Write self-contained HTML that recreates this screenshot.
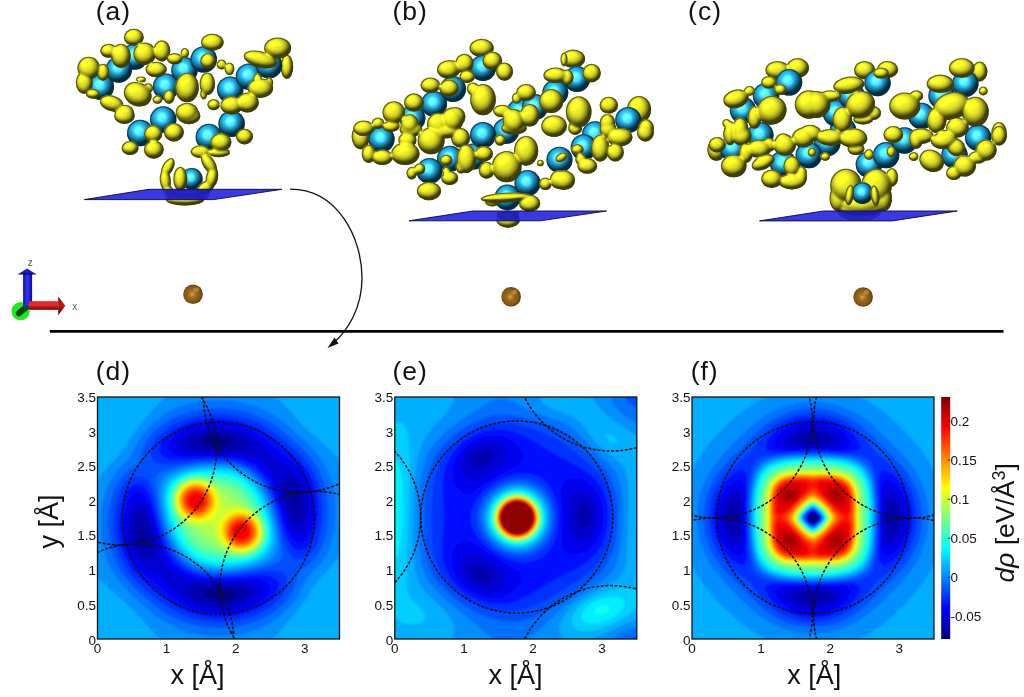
<!DOCTYPE html>
<html><head><meta charset="utf-8"><title>Figure</title>
<style>.yb ellipse,.yb circle{mix-blend-mode:lighten}html,body{margin:0;padding:0;background:#fff}svg{display:block}text{font-family:"Liberation Sans",sans-serif}</style>
</head><body>
<svg width="1024" height="697" viewBox="0 0 1024 697">
<defs>
<radialGradient id="gy" cx="0.42" cy="0.36" r="0.62"><stop offset="0" stop-color="#ffff58"/><stop offset="0.5" stop-color="#f2ea22"/><stop offset="0.85" stop-color="#cfc61f"/><stop offset="1" stop-color="#9a9415"/></radialGradient>
<radialGradient id="gb" cx="0.42" cy="0.34" r="0.66"><stop offset="0" stop-color="#58d4f6"/><stop offset="0.35" stop-color="#22aee0"/><stop offset="0.8" stop-color="#148fc2"/><stop offset="1" stop-color="#0b5f8a"/></radialGradient>
<radialGradient id="gbr" cx="0.46" cy="0.5" r="0.56"><stop offset="0" stop-color="#e6b25c"/><stop offset="0.14" stop-color="#bd8632"/><stop offset="0.4" stop-color="#98681a"/><stop offset="0.78" stop-color="#7e5210"/><stop offset="0.93" stop-color="#5a380a"/><stop offset="1" stop-color="#3a2204"/></radialGradient>
<linearGradient id="gcb" x1="0" y1="1" x2="0" y2="0">
<stop offset="0.000" stop-color="#000080"/>
<stop offset="0.025" stop-color="#000099"/>
<stop offset="0.050" stop-color="#0000b2"/>
<stop offset="0.075" stop-color="#0000cc"/>
<stop offset="0.100" stop-color="#0000e6"/>
<stop offset="0.125" stop-color="#0000ff"/>
<stop offset="0.150" stop-color="#0019ff"/>
<stop offset="0.175" stop-color="#0033ff"/>
<stop offset="0.200" stop-color="#004dff"/>
<stop offset="0.225" stop-color="#0066ff"/>
<stop offset="0.250" stop-color="#0080ff"/>
<stop offset="0.275" stop-color="#0099ff"/>
<stop offset="0.300" stop-color="#00b2ff"/>
<stop offset="0.325" stop-color="#00ccff"/>
<stop offset="0.350" stop-color="#00e5ff"/>
<stop offset="0.375" stop-color="#00ffff"/>
<stop offset="0.400" stop-color="#1affe5"/>
<stop offset="0.425" stop-color="#33ffcc"/>
<stop offset="0.450" stop-color="#4dffb2"/>
<stop offset="0.475" stop-color="#66ff99"/>
<stop offset="0.500" stop-color="#80ff80"/>
<stop offset="0.525" stop-color="#99ff66"/>
<stop offset="0.550" stop-color="#b3ff4c"/>
<stop offset="0.575" stop-color="#ccff33"/>
<stop offset="0.600" stop-color="#e5ff1a"/>
<stop offset="0.625" stop-color="#ffff00"/>
<stop offset="0.650" stop-color="#ffe500"/>
<stop offset="0.675" stop-color="#ffcc00"/>
<stop offset="0.700" stop-color="#ffb300"/>
<stop offset="0.725" stop-color="#ff9900"/>
<stop offset="0.750" stop-color="#ff8000"/>
<stop offset="0.775" stop-color="#ff6600"/>
<stop offset="0.800" stop-color="#ff4c00"/>
<stop offset="0.825" stop-color="#ff3300"/>
<stop offset="0.850" stop-color="#ff1a00"/>
<stop offset="0.875" stop-color="#ff0000"/>
<stop offset="0.900" stop-color="#e50000"/>
<stop offset="0.925" stop-color="#cc0000"/>
<stop offset="0.950" stop-color="#b30000"/>
<stop offset="0.975" stop-color="#990000"/>
<stop offset="1.000" stop-color="#800000"/>
</linearGradient>
<clipPath id="cld"><rect x="97.5" y="397.0" width="242.0" height="242.0"/></clipPath>
<clipPath id="cle"><rect x="394.8" y="397.0" width="242.0" height="242.0"/></clipPath>
<clipPath id="clf"><rect x="692.0" y="397.0" width="242.0" height="242.0"/></clipPath>
<filter id="bl" x="-5%" y="-5%" width="110%" height="110%"><feGaussianBlur stdDeviation="0.8"/></filter>
<radialGradient id="dm0" cx="0.5" cy="0.5" r="0.5"><stop offset="0" stop-color="rgb(48,48,48)"/><stop offset="0.2" stop-color="rgb(48,48,48)"/><stop offset="0.35" stop-color="rgb(47,47,47)"/><stop offset="0.5" stop-color="rgb(44,44,44)"/><stop offset="0.62" stop-color="rgb(41,41,41)"/><stop offset="0.72" stop-color="rgb(37,37,37)"/><stop offset="0.8" stop-color="rgb(33,33,33)"/><stop offset="0.87" stop-color="rgb(27,27,27)"/><stop offset="0.92" stop-color="rgb(22,22,22)"/><stop offset="0.96" stop-color="rgb(16,16,16)"/><stop offset="0.985" stop-color="rgb(10,10,10)"/><stop offset="1" stop-color="rgb(0,0,0)"/></radialGradient>
<radialGradient id="dm1" cx="0.5" cy="0.5" r="0.5"><stop offset="0" stop-color="rgb(80,80,80)"/><stop offset="0.2" stop-color="rgb(79,79,79)"/><stop offset="0.35" stop-color="rgb(78,78,78)"/><stop offset="0.5" stop-color="rgb(74,74,74)"/><stop offset="0.62" stop-color="rgb(68,68,68)"/><stop offset="0.72" stop-color="rgb(62,62,62)"/><stop offset="0.8" stop-color="rgb(54,54,54)"/><stop offset="0.87" stop-color="rgb(45,45,45)"/><stop offset="0.92" stop-color="rgb(36,36,36)"/><stop offset="0.96" stop-color="rgb(26,26,26)"/><stop offset="0.985" stop-color="rgb(16,16,16)"/><stop offset="1" stop-color="rgb(0,0,0)"/></radialGradient>
<radialGradient id="dm2" cx="0.5" cy="0.5" r="0.5"><stop offset="0" stop-color="rgb(112,112,112)"/><stop offset="0.2" stop-color="rgb(111,111,111)"/><stop offset="0.35" stop-color="rgb(109,109,109)"/><stop offset="0.5" stop-color="rgb(103,103,103)"/><stop offset="0.62" stop-color="rgb(96,96,96)"/><stop offset="0.72" stop-color="rgb(87,87,87)"/><stop offset="0.8" stop-color="rgb(76,76,76)"/><stop offset="0.87" stop-color="rgb(63,63,63)"/><stop offset="0.92" stop-color="rgb(51,51,51)"/><stop offset="0.96" stop-color="rgb(37,37,37)"/><stop offset="0.985" stop-color="rgb(23,23,23)"/><stop offset="1" stop-color="rgb(0,0,0)"/></radialGradient>
<radialGradient id="dm3" cx="0.5" cy="0.5" r="0.5"><stop offset="0" stop-color="rgb(143,143,143)"/><stop offset="0.2" stop-color="rgb(143,143,143)"/><stop offset="0.35" stop-color="rgb(140,140,140)"/><stop offset="0.5" stop-color="rgb(133,133,133)"/><stop offset="0.62" stop-color="rgb(123,123,123)"/><stop offset="0.72" stop-color="rgb(111,111,111)"/><stop offset="0.8" stop-color="rgb(98,98,98)"/><stop offset="0.87" stop-color="rgb(82,82,82)"/><stop offset="0.92" stop-color="rgb(65,65,65)"/><stop offset="0.96" stop-color="rgb(47,47,47)"/><stop offset="0.985" stop-color="rgb(29,29,29)"/><stop offset="1" stop-color="rgb(0,0,0)"/></radialGradient>
<radialGradient id="dm4" cx="0.5" cy="0.5" r="0.5"><stop offset="0" stop-color="rgb(175,175,175)"/><stop offset="0.2" stop-color="rgb(174,174,174)"/><stop offset="0.35" stop-color="rgb(171,171,171)"/><stop offset="0.5" stop-color="rgb(162,162,162)"/><stop offset="0.62" stop-color="rgb(151,151,151)"/><stop offset="0.72" stop-color="rgb(136,136,136)"/><stop offset="0.8" stop-color="rgb(119,119,119)"/><stop offset="0.87" stop-color="rgb(100,100,100)"/><stop offset="0.92" stop-color="rgb(80,80,80)"/><stop offset="0.96" stop-color="rgb(58,58,58)"/><stop offset="0.985" stop-color="rgb(36,36,36)"/><stop offset="1" stop-color="rgb(0,0,0)"/></radialGradient>
<radialGradient id="dm5" cx="0.5" cy="0.5" r="0.5"><stop offset="0" stop-color="rgb(207,207,207)"/><stop offset="0.2" stop-color="rgb(206,206,206)"/><stop offset="0.35" stop-color="rgb(202,202,202)"/><stop offset="0.5" stop-color="rgb(192,192,192)"/><stop offset="0.62" stop-color="rgb(178,178,178)"/><stop offset="0.72" stop-color="rgb(161,161,161)"/><stop offset="0.8" stop-color="rgb(141,141,141)"/><stop offset="0.87" stop-color="rgb(118,118,118)"/><stop offset="0.92" stop-color="rgb(95,95,95)"/><stop offset="0.96" stop-color="rgb(68,68,68)"/><stop offset="0.985" stop-color="rgb(42,42,42)"/><stop offset="1" stop-color="rgb(0,0,0)"/></radialGradient>
<radialGradient id="dm6" cx="0.5" cy="0.5" r="0.5"><stop offset="0" stop-color="rgb(255,255,255)"/><stop offset="0.2" stop-color="rgb(254,254,254)"/><stop offset="0.35" stop-color="rgb(248,248,248)"/><stop offset="0.5" stop-color="rgb(236,236,236)"/><stop offset="0.62" stop-color="rgb(219,219,219)"/><stop offset="0.72" stop-color="rgb(198,198,198)"/><stop offset="0.8" stop-color="rgb(174,174,174)"/><stop offset="0.87" stop-color="rgb(145,145,145)"/><stop offset="0.92" stop-color="rgb(116,116,116)"/><stop offset="0.96" stop-color="rgb(84,84,84)"/><stop offset="0.985" stop-color="rgb(52,52,52)"/><stop offset="1" stop-color="rgb(0,0,0)"/></radialGradient>
<filter id="lity" x="-5%" y="-5%" width="110%" height="110%" color-interpolation-filters="sRGB">
<feColorMatrix in="SourceGraphic" type="matrix" values="0 0 0 0 0 0 0 0 0 0 0 0 0 0 0 1 0 0 0 0" result="h0"/>
<feGaussianBlur in="h0" stdDeviation="0.9" result="h"/>
<feDiffuseLighting in="h" surfaceScale="12" diffuseConstant="1.0" lighting-color="#f6f426" result="lit"><feDistantLight azimuth="238" elevation="54"/></feDiffuseLighting>
<feFlood flood-color="#94921a" result="amb"/>
<feComposite in="lit" in2="amb" operator="arithmetic" k1="0" k2="0.84" k3="0.44" k4="0" result="ls"/>
<feGaussianBlur in="SourceAlpha" stdDeviation="0.4" result="ma"/>
<feComposite in="ls" in2="ma" operator="in" result="body"/>
<feMorphology in="SourceAlpha" operator="erode" radius="0.8" result="er"/>
<feGaussianBlur in="er" stdDeviation="0.6" result="erb"/>
<feComposite in="ma" in2="erb" operator="out" result="rim"/>
<feFlood flood-color="#3c3a06" flood-opacity="0.75" result="rc"/>
<feComposite in="rc" in2="rim" operator="in" result="rimc"/>
<feMerge><feMergeNode in="body"/><feMergeNode in="rimc"/></feMerge>
</filter>
<filter id="litb" x="-10%" y="-10%" width="120%" height="120%" color-interpolation-filters="sRGB">
<feColorMatrix in="SourceGraphic" type="matrix" values="0 0 0 0 0 0 0 0 0 0 0 0 0 0 0 1 0 0 0 0" result="h0"/>
<feGaussianBlur in="h0" stdDeviation="0.7" result="h"/>
<feDiffuseLighting in="h" surfaceScale="12.5" diffuseConstant="1.0" lighting-color="#2cc2f4" result="lit"><feDistantLight azimuth="238" elevation="56"/></feDiffuseLighting>
<feSpecularLighting in="h" surfaceScale="12.5" specularConstant="0.42" specularExponent="12" lighting-color="#c8f4ff" result="spec"><feDistantLight azimuth="238" elevation="56"/></feSpecularLighting>
<feFlood flood-color="#0c6c9c" result="amb"/>
<feComposite in="lit" in2="amb" operator="arithmetic" k1="0" k2="0.82" k3="0.42" k4="0" result="ls"/>
<feComposite in="ls" in2="spec" operator="arithmetic" k1="0" k2="1" k3="1" k4="0" result="ls2"/>
<feGaussianBlur in="SourceAlpha" stdDeviation="0.4" result="ma"/>
<feComposite in="ls2" in2="ma" operator="in" result="body"/>
<feMorphology in="SourceAlpha" operator="erode" radius="0.8" result="er"/>
<feGaussianBlur in="er" stdDeviation="0.6" result="erb"/>
<feComposite in="ma" in2="erb" operator="out" result="rim"/>
<feFlood flood-color="#062c44" flood-opacity="0.7" result="rc"/>
<feComposite in="rc" in2="rim" operator="in" result="rimc"/>
<feMerge><feMergeNode in="body"/><feMergeNode in="rimc"/></feMerge>
</filter>
</defs>
<rect width="1024" height="697" fill="#fff"/>
<g font-size="26.5" fill="#111" letter-spacing="1">
<text x="95.7" y="20.4">(a)</text>
<text x="392.5" y="20.4">(b)</text>
<text x="688.1" y="20.4">(c)</text>
<text x="95.7" y="380.2">(d)</text>
<text x="392.5" y="380.2">(e)</text>
<text x="690.7" y="380.2">(f)</text>
</g>
<g class="yb" filter="url(#lity)"><ellipse cx="286.9" cy="66.6" rx="6.3" ry="12.1" fill="url(#dm2)"/></g>
<g><circle cx="100.8" cy="86.7" r="13.2" fill="url(#dm5)" filter="url(#litb)"/><circle cx="134.6" cy="56.6" r="13.2" fill="url(#dm5)" filter="url(#litb)"/><circle cx="118.8" cy="69.5" r="13.2" fill="url(#dm5)" filter="url(#litb)"/><circle cx="166.1" cy="86.7" r="13.2" fill="url(#dm5)" filter="url(#litb)"/><circle cx="184.5" cy="70.2" r="13.2" fill="url(#dm5)" filter="url(#litb)"/><circle cx="203.7" cy="59.4" r="13.2" fill="url(#dm5)" filter="url(#litb)"/><circle cx="230.2" cy="89.6" r="13.2" fill="url(#dm5)" filter="url(#litb)"/><circle cx="248.9" cy="76.6" r="13.2" fill="url(#dm5)" filter="url(#litb)"/><circle cx="269.0" cy="65.2" r="13.2" fill="url(#dm5)" filter="url(#litb)"/><circle cx="140.2" cy="133.0" r="13.2" fill="url(#dm5)" filter="url(#litb)"/><circle cx="163.2" cy="119.5" r="13.2" fill="url(#dm5)" filter="url(#litb)"/><circle cx="208.8" cy="137.0" r="13.2" fill="url(#dm5)" filter="url(#litb)"/><circle cx="231.6" cy="123.7" r="13.2" fill="url(#dm5)" filter="url(#litb)"/><circle cx="191.8" cy="178.9" r="10.8" fill="url(#dm4)" filter="url(#litb)"/></g>
<g class="yb" filter="url(#lity)"><ellipse cx="88.7" cy="68.0" rx="11.3" ry="11.3" fill="url(#dm3)"/><ellipse cx="84.3" cy="82.4" rx="8.5" ry="11.3" fill="url(#dm2)"/><ellipse cx="133.8" cy="37.2" rx="9.9" ry="8.5" fill="url(#dm2)"/><ellipse cx="120.9" cy="55.8" rx="9.9" ry="12.1" fill="url(#dm3)"/><ellipse cx="144.6" cy="53.7" rx="11.3" ry="11.3" fill="url(#dm3)"/><ellipse cx="108.7" cy="50.8" rx="8.5" ry="7.0" fill="url(#dm2)"/><ellipse cx="161.8" cy="50.8" rx="8.5" ry="10.6" fill="url(#dm2)"/><ellipse cx="103.0" cy="72.3" rx="6.3" ry="8.5" fill="url(#dm1)"/><ellipse cx="93.0" cy="93.9" rx="7.0" ry="4.9" fill="url(#dm1)"/><ellipse cx="156.1" cy="69.5" rx="10.6" ry="7.8" fill="url(#dm2)"/><ellipse cx="174.7" cy="58.7" rx="7.8" ry="5.6" fill="url(#dm1)"/><ellipse cx="184.8" cy="53.0" rx="4.2" ry="4.9" fill="url(#dm0)"/><ellipse cx="141.0" cy="79.5" rx="4.9" ry="3.0" fill="url(#dm0)"/><ellipse cx="137.7" cy="94.2" rx="14.3" ry="11.8" transform="rotate(25 137.7 94.2)" fill="url(#dm4)"/><ellipse cx="148.2" cy="88.1" rx="4.9" ry="4.9" fill="url(#dm0)"/><ellipse cx="111.6" cy="103.2" rx="12.1" ry="7.8" transform="rotate(15 111.6 103.2)" fill="url(#dm2)"/><ellipse cx="125.2" cy="114.0" rx="9.2" ry="9.2" fill="url(#dm2)"/><ellipse cx="118.0" cy="108.0" rx="6.3" ry="5.3" fill="url(#dm1)"/><ellipse cx="169.0" cy="96.7" rx="5.6" ry="7.0" fill="url(#dm1)"/><ellipse cx="157.5" cy="99.6" rx="4.9" ry="4.2" fill="url(#dm0)"/><ellipse cx="212.3" cy="42.2" rx="11.3" ry="8.5" fill="url(#dm2)"/><ellipse cx="208.0" cy="60.9" rx="7.8" ry="7.8" fill="url(#dm2)"/><ellipse cx="221.6" cy="64.5" rx="4.9" ry="4.9" fill="url(#dm0)"/><ellipse cx="229.5" cy="68.8" rx="4.9" ry="6.3" fill="url(#dm0)"/><ellipse cx="277.6" cy="48.0" rx="13.5" ry="10.6" fill="url(#dm4)"/><ellipse cx="260.3" cy="59.4" rx="17.1" ry="8.1" transform="rotate(15 260.3 59.4)" fill="url(#dm3)"/><ellipse cx="260.3" cy="88.1" rx="12.8" ry="9.9" fill="url(#dm3)"/><ellipse cx="247.4" cy="102.5" rx="11.3" ry="9.9" fill="url(#dm3)"/><ellipse cx="231.6" cy="105.3" rx="11.3" ry="9.2" fill="url(#dm3)"/><ellipse cx="269.0" cy="82.4" rx="4.2" ry="4.9" fill="url(#dm0)"/><ellipse cx="257.5" cy="78.1" rx="4.2" ry="4.9" fill="url(#dm0)"/><ellipse cx="187.0" cy="87.5" rx="11.8" ry="14.8" fill="url(#dm4)"/><ellipse cx="207.3" cy="83.8" rx="7.8" ry="11.3" fill="url(#dm2)"/><ellipse cx="213.7" cy="104.6" rx="6.3" ry="5.6" fill="url(#dm1)"/><ellipse cx="203.7" cy="93.9" rx="3.5" ry="5.6" fill="url(#dm0)"/><ellipse cx="187.0" cy="112.5" rx="11.3" ry="9.8" fill="url(#dm3)"/><ellipse cx="153.1" cy="133.7" rx="9.2" ry="8.5" fill="url(#dm2)"/><ellipse cx="173.9" cy="132.2" rx="9.9" ry="9.2" fill="url(#dm3)"/><ellipse cx="153.8" cy="149.5" rx="9.9" ry="9.2" fill="url(#dm3)"/><ellipse cx="130.1" cy="148.0" rx="8.5" ry="7.0" fill="url(#dm2)"/><ellipse cx="200.4" cy="151.6" rx="9.9" ry="6.3" fill="url(#dm1)"/><ellipse cx="180.3" cy="178.9" rx="7.0" ry="12.1" fill="url(#dm2)"/><ellipse cx="244.5" cy="136.6" rx="8.5" ry="7.8" fill="url(#dm2)"/><ellipse cx="220.8" cy="142.3" rx="10.6" ry="9.2" fill="url(#dm3)"/><ellipse cx="218.7" cy="152.4" rx="11.3" ry="4.9" fill="url(#dm1)"/><ellipse cx="189.0" cy="115.7" rx="11.3" ry="8.5" fill="url(#dm2)"/><ellipse cx="124.4" cy="115.7" rx="10.3" ry="8.3" fill="url(#dm2)"/><ellipse cx="167.8" cy="167.4" rx="10.3" ry="5.5" transform="rotate(119 167.8 167.4)" fill="url(#dm1)"/><ellipse cx="165.3" cy="180.3" rx="11.0" ry="5.5" transform="rotate(84 165.3 180.3)" fill="url(#dm1)"/><ellipse cx="170.3" cy="194.0" rx="11.5" ry="5.5" transform="rotate(56 170.3 194.0)" fill="url(#dm1)"/><ellipse cx="209.0" cy="163.8" rx="11.6" ry="6.1" transform="rotate(56.5 209.0 163.8)" fill="url(#dm2)"/><ellipse cx="211.9" cy="177.5" rx="11.1" ry="6.1" transform="rotate(101 211.9 177.5)" fill="url(#dm2)"/><ellipse cx="205.5" cy="187.5" rx="9.6" ry="6.1" transform="rotate(150 205.5 187.5)" fill="url(#dm1)"/><ellipse cx="185.0" cy="199.5" rx="19.3" ry="5.9" fill="url(#dm2)"/></g>
<polygon points="84.4,199.6 149,189.3 282,189.3 213.6,199.6" fill="#2424e2" fill-opacity="0.9" stroke="#08083a" stroke-width="0.9" stroke-linejoin="round"/>
<clipPath id="cpa"><polygon points="84.4,199.6 149,189.3 282,189.3 213.6,199.6"/></clipPath><circle cx="188" cy="186" r="23" fill="#1212a4" fill-opacity="0.5" clip-path="url(#cpa)"/>
<g class="yb" filter="url(#lity)"><ellipse cx="481.6" cy="47.9" rx="12.1" ry="9.2" fill="url(#dm3)"/><ellipse cx="573.0" cy="58.7" rx="12.1" ry="9.2" fill="url(#dm3)"/><ellipse cx="639.0" cy="109.6" rx="12.1" ry="13.5" fill="url(#dm4)"/><ellipse cx="360.8" cy="136.5" rx="9.2" ry="12.8" fill="url(#dm3)"/></g>
<g><circle cx="381.6" cy="139.3" r="13.0" fill="url(#dm5)" filter="url(#litb)"/><circle cx="453.0" cy="89.0" r="13.0" fill="url(#dm5)" filter="url(#litb)"/><circle cx="412.4" cy="118.2" r="13.0" fill="url(#dm5)" filter="url(#litb)"/><circle cx="434.0" cy="103.9" r="13.0" fill="url(#dm5)" filter="url(#litb)"/><circle cx="483.0" cy="68.0" r="13.0" fill="url(#dm5)" filter="url(#litb)"/><circle cx="473.7" cy="156.6" r="13.0" fill="url(#dm5)" filter="url(#litb)"/><circle cx="450.0" cy="158.7" r="13.0" fill="url(#dm5)" filter="url(#litb)"/><circle cx="429.6" cy="170.9" r="13.0" fill="url(#dm5)" filter="url(#litb)"/><circle cx="506.0" cy="131.0" r="13.0" fill="url(#dm5)" filter="url(#litb)"/><circle cx="483.0" cy="135.0" r="13.0" fill="url(#dm5)" filter="url(#litb)"/><circle cx="519.6" cy="112.0" r="13.0" fill="url(#dm5)" filter="url(#litb)"/><circle cx="535.0" cy="107.0" r="13.0" fill="url(#dm5)" filter="url(#litb)"/><circle cx="555.3" cy="92.6" r="13.0" fill="url(#dm5)" filter="url(#litb)"/><circle cx="577.0" cy="79.0" r="13.0" fill="url(#dm5)" filter="url(#litb)"/><circle cx="507.4" cy="197.5" r="12.9" fill="url(#dm5)" filter="url(#litb)"/><circle cx="527.5" cy="183.1" r="13.0" fill="url(#dm5)" filter="url(#litb)"/><circle cx="595.0" cy="134.2" r="13.0" fill="url(#dm5)" filter="url(#litb)"/><circle cx="559.5" cy="159.8" r="13.0" fill="url(#dm5)" filter="url(#litb)"/><circle cx="583.7" cy="147.2" r="13.0" fill="url(#dm5)" filter="url(#litb)"/><circle cx="628.2" cy="120.0" r="13.0" fill="url(#dm5)" filter="url(#litb)"/></g>
<g class="yb" filter="url(#lity)"><ellipse cx="448.3" cy="69.4" rx="11.3" ry="9.2" fill="url(#dm3)"/><ellipse cx="462.6" cy="63.7" rx="7.0" ry="9.2" fill="url(#dm2)"/><ellipse cx="430.4" cy="85.2" rx="9.9" ry="7.8" fill="url(#dm2)"/><ellipse cx="449.0" cy="88.1" rx="9.9" ry="8.5" fill="url(#dm2)"/><ellipse cx="413.9" cy="102.4" rx="9.9" ry="9.2" fill="url(#dm3)"/><ellipse cx="393.8" cy="112.5" rx="11.3" ry="11.3" fill="url(#dm3)"/><ellipse cx="409.6" cy="124.0" rx="9.2" ry="9.9" fill="url(#dm3)"/><ellipse cx="392.3" cy="125.4" rx="7.8" ry="4.9" fill="url(#dm1)"/><ellipse cx="378.0" cy="123.2" rx="6.3" ry="5.6" fill="url(#dm1)"/><ellipse cx="363.7" cy="128.3" rx="10.6" ry="7.8" fill="url(#dm2)"/><ellipse cx="438.3" cy="124.0" rx="11.3" ry="11.3" fill="url(#dm3)"/><ellipse cx="455.5" cy="116.8" rx="9.9" ry="9.9" fill="url(#dm3)"/><ellipse cx="464.4" cy="63.0" rx="9.2" ry="9.2" fill="url(#dm2)"/><ellipse cx="492.3" cy="60.8" rx="9.9" ry="9.2" fill="url(#dm3)"/><ellipse cx="504.5" cy="71.6" rx="8.5" ry="9.2" fill="url(#dm2)"/><ellipse cx="451.5" cy="68.7" rx="9.2" ry="8.5" fill="url(#dm2)"/><ellipse cx="467.2" cy="76.6" rx="7.8" ry="6.3" fill="url(#dm1)"/><ellipse cx="483.0" cy="99.6" rx="12.8" ry="15.6" fill="url(#dm5)"/><ellipse cx="473.0" cy="88.8" rx="6.3" ry="6.3" fill="url(#dm1)"/><ellipse cx="526.0" cy="92.4" rx="9.9" ry="8.5" fill="url(#dm2)"/><ellipse cx="516.7" cy="98.1" rx="4.9" ry="5.6" fill="url(#dm0)"/><ellipse cx="551.2" cy="101.0" rx="12.1" ry="12.1" fill="url(#dm4)"/><ellipse cx="555.5" cy="75.2" rx="12.1" ry="7.8" fill="url(#dm2)"/><ellipse cx="529.7" cy="115.3" rx="9.9" ry="11.3" fill="url(#dm3)"/><ellipse cx="513.9" cy="121.1" rx="11.3" ry="12.1" fill="url(#dm4)"/><ellipse cx="502.4" cy="111.0" rx="9.2" ry="6.3" fill="url(#dm1)"/><ellipse cx="452.2" cy="119.7" rx="11.3" ry="12.1" fill="url(#dm4)"/><ellipse cx="554.0" cy="126.0" rx="12.8" ry="10.8" fill="url(#dm3)"/><ellipse cx="564.0" cy="59.4" rx="3.5" ry="7.0" fill="url(#dm0)"/><ellipse cx="591.6" cy="73.0" rx="9.2" ry="9.2" fill="url(#dm2)"/><ellipse cx="567.2" cy="77.3" rx="6.3" ry="7.8" fill="url(#dm1)"/><ellipse cx="578.7" cy="111.8" rx="12.8" ry="15.6" fill="url(#dm5)"/><ellipse cx="608.8" cy="105.3" rx="9.2" ry="8.5" fill="url(#dm2)"/><ellipse cx="607.4" cy="122.5" rx="7.8" ry="8.5" fill="url(#dm2)"/><ellipse cx="646.1" cy="128.3" rx="7.8" ry="9.2" fill="url(#dm2)"/><ellipse cx="622.5" cy="132.6" rx="8.5" ry="4.2" fill="url(#dm0)"/><ellipse cx="368.7" cy="153.7" rx="7.0" ry="9.2" fill="url(#dm2)"/><ellipse cx="382.3" cy="157.3" rx="10.6" ry="7.8" fill="url(#dm2)"/><ellipse cx="405.3" cy="153.7" rx="14.2" ry="11.3" fill="url(#dm4)"/><ellipse cx="407.4" cy="140.1" rx="9.2" ry="7.8" fill="url(#dm2)"/><ellipse cx="431.1" cy="140.8" rx="13.5" ry="13.5" fill="url(#dm5)"/><ellipse cx="411.0" cy="129.3" rx="11.3" ry="7.8" fill="url(#dm2)"/><ellipse cx="390.9" cy="126.4" rx="8.5" ry="5.6" fill="url(#dm1)"/><ellipse cx="444.0" cy="130.7" rx="17.1" ry="7.8" fill="url(#dm3)"/><ellipse cx="458.3" cy="139.3" rx="7.0" ry="7.0" fill="url(#dm1)"/><ellipse cx="446.1" cy="160.2" rx="6.3" ry="5.6" fill="url(#dm1)"/><ellipse cx="419.6" cy="168.8" rx="5.6" ry="5.6" fill="url(#dm1)"/><ellipse cx="411.7" cy="173.1" rx="5.3" ry="6.3" fill="url(#dm1)"/><ellipse cx="449.7" cy="178.1" rx="8.5" ry="7.0" fill="url(#dm2)"/><ellipse cx="446.1" cy="170.9" rx="4.2" ry="4.2" fill="url(#dm0)"/><ellipse cx="428.9" cy="191.0" rx="12.1" ry="9.2" fill="url(#dm3)"/><ellipse cx="461.2" cy="166.6" rx="5.6" ry="7.0" fill="url(#dm1)"/><ellipse cx="466.5" cy="158.7" rx="9.9" ry="14.2" fill="url(#dm3)"/><ellipse cx="460.8" cy="137.9" rx="9.2" ry="9.9" fill="url(#dm3)"/><ellipse cx="483.7" cy="153.7" rx="9.2" ry="7.8" fill="url(#dm2)"/><ellipse cx="500.2" cy="140.1" rx="5.6" ry="5.6" fill="url(#dm1)"/><ellipse cx="506.7" cy="166.6" rx="14.9" ry="15.6" fill="url(#dm5)"/><ellipse cx="486.6" cy="170.2" rx="7.8" ry="8.5" fill="url(#dm2)"/><ellipse cx="526.1" cy="150.8" rx="12.1" ry="14.9" fill="url(#dm4)"/><ellipse cx="540.4" cy="163.0" rx="3.3" ry="3.3" fill="url(#dm0)"/><ellipse cx="545.4" cy="183.8" rx="6.3" ry="6.3" fill="url(#dm1)"/><ellipse cx="558.3" cy="179.5" rx="8.5" ry="9.2" fill="url(#dm2)"/><ellipse cx="529.6" cy="203.2" rx="10.6" ry="8.5" fill="url(#dm2)"/><ellipse cx="506.0" cy="197.6" rx="25.3" ry="4.9" transform="rotate(-3 506.0 197.6)" fill="url(#dm3)"/><ellipse cx="492.3" cy="202.5" rx="7.0" ry="3.9" fill="url(#dm0)"/><ellipse cx="513.9" cy="127.9" rx="12.8" ry="7.0" fill="url(#dm2)"/><ellipse cx="561.2" cy="157.3" rx="6.3" ry="4.2" transform="rotate(-30 561.2 157.3)" fill="url(#dm0)"/><ellipse cx="577.3" cy="149.4" rx="6.3" ry="5.3" fill="url(#dm1)"/><ellipse cx="580.9" cy="159.4" rx="5.6" ry="6.3" fill="url(#dm1)"/><ellipse cx="587.3" cy="165.9" rx="9.9" ry="7.8" fill="url(#dm2)"/><ellipse cx="563.7" cy="180.2" rx="11.3" ry="9.9" fill="url(#dm3)"/><ellipse cx="600.2" cy="148.0" rx="9.2" ry="13.5" fill="url(#dm3)"/><ellipse cx="615.3" cy="152.3" rx="8.5" ry="9.2" fill="url(#dm2)"/><ellipse cx="619.6" cy="137.2" rx="12.8" ry="9.2" fill="url(#dm3)"/><ellipse cx="645.4" cy="132.2" rx="8.5" ry="9.2" fill="url(#dm2)"/><ellipse cx="608.1" cy="129.3" rx="8.5" ry="8.5" fill="url(#dm2)"/><ellipse cx="575.1" cy="127.9" rx="7.0" ry="7.0" fill="url(#dm1)"/><ellipse cx="546.4" cy="183.8" rx="4.9" ry="5.6" fill="url(#dm0)"/></g>
<g class="yb" filter="url(#lity)"><ellipse cx="508.1" cy="219.5" rx="11.8" ry="8.3" fill="url(#dm2)"/></g>
<polygon points="409,220.8 473,211 606.5,211 540.3,220.8" fill="#2424e2" fill-opacity="0.9" stroke="#08083a" stroke-width="0.9" stroke-linejoin="round"/>
<clipPath id="cpb"><polygon points="409,220.8 473,211 606.5,211 540.3,220.8"/></clipPath><circle cx="508" cy="213" r="11" fill="#1212a4" fill-opacity="0.5" clip-path="url(#cpb)"/>
<g class="yb" filter="url(#lity)"><ellipse cx="777.5" cy="70.1" rx="12.1" ry="9.2" fill="url(#dm3)"/><ellipse cx="797.6" cy="67.9" rx="11.3" ry="9.9" fill="url(#dm3)"/><ellipse cx="864.6" cy="70.1" rx="10.6" ry="9.2" fill="url(#dm3)"/><ellipse cx="887.5" cy="69.4" rx="10.6" ry="8.5" fill="url(#dm2)"/><ellipse cx="979.6" cy="71.5" rx="7.8" ry="9.9" fill="url(#dm2)"/><ellipse cx="716.5" cy="149.4" rx="9.2" ry="11.3" fill="url(#dm3)"/><ellipse cx="999.0" cy="133.2" rx="7.8" ry="11.3" fill="url(#dm2)"/></g>
<g><circle cx="743.0" cy="110.3" r="13.2" fill="url(#dm5)" filter="url(#litb)"/><circle cx="766.0" cy="95.9" r="13.2" fill="url(#dm5)" filter="url(#litb)"/><circle cx="789.0" cy="82.3" r="13.2" fill="url(#dm5)" filter="url(#litb)"/><circle cx="733.0" cy="148.5" r="13.2" fill="url(#dm5)" filter="url(#litb)"/><circle cx="760.3" cy="135.2" r="13.2" fill="url(#dm5)" filter="url(#litb)"/><circle cx="783.2" cy="163.7" r="13.2" fill="url(#dm5)" filter="url(#litb)"/><circle cx="827.3" cy="142.9" r="13.2" fill="url(#dm5)" filter="url(#litb)"/><circle cx="808.8" cy="155.1" r="13.2" fill="url(#dm5)" filter="url(#litb)"/><circle cx="843.0" cy="130.3" r="13.2" fill="url(#dm5)" filter="url(#litb)"/><circle cx="835.9" cy="113.1" r="13.2" fill="url(#dm5)" filter="url(#litb)"/><circle cx="851.6" cy="95.9" r="13.2" fill="url(#dm5)" filter="url(#litb)"/><circle cx="877.5" cy="83.0" r="13.2" fill="url(#dm5)" filter="url(#litb)"/><circle cx="868.9" cy="164.4" r="13.2" fill="url(#dm5)" filter="url(#litb)"/><circle cx="886.1" cy="155.1" r="13.2" fill="url(#dm5)" filter="url(#litb)"/><circle cx="904.5" cy="140.5" r="13.2" fill="url(#dm5)" filter="url(#litb)"/><circle cx="921.5" cy="116.0" r="13.2" fill="url(#dm5)" filter="url(#litb)"/><circle cx="941.6" cy="95.9" r="13.2" fill="url(#dm5)" filter="url(#litb)"/><circle cx="965.3" cy="83.7" r="13.2" fill="url(#dm5)" filter="url(#litb)"/><circle cx="954.5" cy="155.1" r="13.2" fill="url(#dm5)" filter="url(#litb)"/><circle cx="978.2" cy="137.7" r="13.2" fill="url(#dm5)" filter="url(#litb)"/></g>
<g class="yb" filter="url(#lity)"><ellipse cx="768.9" cy="82.3" rx="7.8" ry="6.3" fill="url(#dm1)"/><ellipse cx="780.3" cy="89.5" rx="6.3" ry="5.6" fill="url(#dm1)"/><ellipse cx="749.5" cy="90.9" rx="5.6" ry="4.9" fill="url(#dm0)"/><ellipse cx="735.9" cy="98.8" rx="12.8" ry="9.2" transform="rotate(-15 735.9 98.8)" fill="url(#dm3)"/><ellipse cx="771.7" cy="110.3" rx="14.9" ry="14.3" transform="rotate(-25 771.7 110.3)" fill="url(#dm5)"/><ellipse cx="740.2" cy="130.3" rx="8.5" ry="12.8" fill="url(#dm3)"/><ellipse cx="754.5" cy="117.4" rx="7.0" ry="11.3" fill="url(#dm2)"/><ellipse cx="730.1" cy="133.2" rx="6.3" ry="12.1" fill="url(#dm2)"/><ellipse cx="726.5" cy="123.2" rx="4.2" ry="4.2" fill="url(#dm0)"/><ellipse cx="717.2" cy="144.7" rx="8.5" ry="7.8" fill="url(#dm2)"/><ellipse cx="809.0" cy="104.5" rx="14.2" ry="14.2" fill="url(#dm5)"/><ellipse cx="783.2" cy="141.8" rx="8.5" ry="8.5" fill="url(#dm2)"/><ellipse cx="803.3" cy="137.5" rx="11.3" ry="9.9" fill="url(#dm3)"/><ellipse cx="768.9" cy="144.7" rx="7.0" ry="7.0" fill="url(#dm1)"/><ellipse cx="756.0" cy="147.6" rx="7.0" ry="5.6" fill="url(#dm1)"/><ellipse cx="881.0" cy="73.0" rx="7.8" ry="5.6" fill="url(#dm1)"/><ellipse cx="848.8" cy="85.2" rx="15.6" ry="8.5" transform="rotate(-8 848.8 85.2)" fill="url(#dm3)"/><ellipse cx="860.3" cy="104.5" rx="14.9" ry="13.5" transform="rotate(-25 860.3 104.5)" fill="url(#dm5)"/><ellipse cx="873.2" cy="113.1" rx="7.8" ry="7.0" fill="url(#dm1)"/><ellipse cx="863.1" cy="119.6" rx="9.9" ry="4.9" fill="url(#dm1)"/><ellipse cx="816.0" cy="104.5" rx="14.3" ry="13.5" fill="url(#dm5)"/><ellipse cx="830.1" cy="95.9" rx="11.3" ry="5.6" fill="url(#dm1)"/><ellipse cx="842.3" cy="119.6" rx="9.9" ry="12.8" fill="url(#dm3)"/><ellipse cx="810.0" cy="133.2" rx="11.3" ry="8.5" fill="url(#dm2)"/><ellipse cx="830.8" cy="137.5" rx="12.8" ry="8.5" fill="url(#dm3)"/><ellipse cx="854.5" cy="137.5" rx="12.1" ry="9.2" fill="url(#dm3)"/><ellipse cx="904.7" cy="106.0" rx="15.6" ry="13.5" fill="url(#dm5)"/><ellipse cx="916.2" cy="95.9" rx="7.0" ry="5.6" fill="url(#dm1)"/><ellipse cx="893.3" cy="134.6" rx="9.9" ry="8.5" fill="url(#dm2)"/><ellipse cx="916.2" cy="139.0" rx="7.0" ry="9.9" fill="url(#dm2)"/><ellipse cx="961.7" cy="67.9" rx="12.8" ry="9.9" fill="url(#dm3)"/><ellipse cx="940.2" cy="83.7" rx="13.5" ry="9.2" fill="url(#dm3)"/><ellipse cx="983.2" cy="90.9" rx="4.5" ry="4.5" fill="url(#dm0)"/><ellipse cx="951.6" cy="106.0" rx="18.5" ry="13.5" transform="rotate(-15 951.6 106.0)" fill="url(#dm5)"/><ellipse cx="975.3" cy="111.7" rx="13.5" ry="14.9" fill="url(#dm5)"/><ellipse cx="936.6" cy="120.3" rx="9.9" ry="12.8" fill="url(#dm3)"/><ellipse cx="957.4" cy="127.5" rx="11.3" ry="9.9" fill="url(#dm3)"/><ellipse cx="921.5" cy="136.1" rx="12.1" ry="7.8" fill="url(#dm2)"/><ellipse cx="945.9" cy="139.0" rx="11.3" ry="9.2" fill="url(#dm3)"/><ellipse cx="986.0" cy="146.1" rx="8.5" ry="5.6" fill="url(#dm1)"/><ellipse cx="733.7" cy="165.9" rx="12.8" ry="11.3" fill="url(#dm4)"/><ellipse cx="741.6" cy="135.7" rx="9.9" ry="9.9" fill="url(#dm3)"/><ellipse cx="758.8" cy="148.7" rx="12.1" ry="9.2" fill="url(#dm3)"/><ellipse cx="745.9" cy="153.0" rx="7.0" ry="9.9" fill="url(#dm2)"/><ellipse cx="763.1" cy="162.3" rx="12.1" ry="7.0" transform="rotate(-25 763.1 162.3)" fill="url(#dm2)"/><ellipse cx="784.6" cy="145.1" rx="11.3" ry="10.6" fill="url(#dm3)"/><ellipse cx="791.8" cy="165.9" rx="8.5" ry="9.9" fill="url(#dm2)"/><ellipse cx="771.7" cy="178.8" rx="10.6" ry="9.2" fill="url(#dm3)"/><ellipse cx="791.8" cy="181.6" rx="13.5" ry="7.8" fill="url(#dm2)"/><ellipse cx="802.6" cy="171.6" rx="4.2" ry="4.2" fill="url(#dm0)"/><ellipse cx="811.9" cy="152.2" rx="4.2" ry="4.5" fill="url(#dm0)"/><ellipse cx="800.4" cy="143.6" rx="3.9" ry="3.5" fill="url(#dm0)"/><ellipse cx="728.7" cy="134.3" rx="5.6" ry="8.5" fill="url(#dm1)"/><ellipse cx="828.7" cy="137.2" rx="12.8" ry="7.8" fill="url(#dm2)"/><ellipse cx="853.1" cy="138.6" rx="14.2" ry="9.2" fill="url(#dm3)"/><ellipse cx="856.0" cy="148.7" rx="8.5" ry="6.3" fill="url(#dm1)"/><ellipse cx="825.1" cy="156.5" rx="4.9" ry="4.2" fill="url(#dm0)"/><ellipse cx="868.9" cy="154.4" rx="4.9" ry="5.3" fill="url(#dm0)"/><ellipse cx="891.1" cy="151.5" rx="4.5" ry="5.6" fill="url(#dm0)"/><ellipse cx="914.0" cy="156.5" rx="4.2" ry="4.2" fill="url(#dm0)"/><ellipse cx="891.8" cy="177.3" rx="6.3" ry="9.2" fill="url(#dm1)"/><ellipse cx="801.4" cy="175.9" rx="5.6" ry="9.9" fill="url(#dm1)"/><ellipse cx="943.0" cy="140.8" rx="12.1" ry="8.5" fill="url(#dm3)"/><ellipse cx="956.0" cy="147.2" rx="9.9" ry="8.5" transform="rotate(40 956.0 147.2)" fill="url(#dm2)"/><ellipse cx="931.6" cy="160.8" rx="12.8" ry="10.6" transform="rotate(30 931.6 160.8)" fill="url(#dm3)"/><ellipse cx="913.6" cy="156.5" rx="4.9" ry="4.2" fill="url(#dm0)"/><ellipse cx="964.6" cy="165.9" rx="11.3" ry="10.6" fill="url(#dm3)"/><ellipse cx="953.8" cy="173.0" rx="7.8" ry="7.0" fill="url(#dm1)"/><ellipse cx="986.1" cy="150.1" rx="10.6" ry="10.6" fill="url(#dm3)"/><ellipse cx="977.5" cy="157.3" rx="9.2" ry="6.3" fill="url(#dm1)"/><ellipse cx="999.0" cy="135.7" rx="7.8" ry="9.9" fill="url(#dm2)"/><ellipse cx="846.0" cy="185.5" rx="15.8" ry="16.8" fill="url(#dm6)"/><ellipse cx="876.5" cy="185.5" rx="15.3" ry="16.8" fill="url(#dm5)"/><ellipse cx="839.5" cy="196.0" rx="9.8" ry="15.3" transform="rotate(8 839.5 196.0)" fill="url(#dm3)"/><ellipse cx="882.5" cy="196.0" rx="9.3" ry="15.3" transform="rotate(-8 882.5 196.0)" fill="url(#dm3)"/><ellipse cx="860.0" cy="204.0" rx="21.3" ry="10.3" fill="url(#dm4)"/><ellipse cx="860.0" cy="208.5" rx="22.3" ry="7.3" fill="url(#dm3)"/></g>
<g><circle cx="862.4" cy="193.1" r="10.8" fill="url(#dm4)" filter="url(#litb)"/></g>
<g class="yb" filter="url(#lity)"><ellipse cx="849.5" cy="195.0" rx="4.3" ry="10.3" transform="rotate(8 849.5 195.0)" fill="url(#dm1)"/><ellipse cx="875.0" cy="195.5" rx="4.3" ry="10.3" transform="rotate(-8 875.0 195.5)" fill="url(#dm1)"/></g>
<polygon points="759.5,220.9 823.4,211 957.2,211 892.2,220.9" fill="#2424e2" fill-opacity="0.9" stroke="#08083a" stroke-width="0.9" stroke-linejoin="round"/>
<clipPath id="cpc"><polygon points="759.5,220.9 823.4,211 957.2,211 892.2,220.9"/></clipPath><ellipse cx="859.5" cy="211" rx="22" ry="10" fill="#1212a4" fill-opacity="0.5" clip-path="url(#cpc)"/>
<circle cx="193.0" cy="294.3" r="9.8" fill="url(#gbr)"/>
<ellipse cx="196.2" cy="289.7" rx="3" ry="2.3" fill="#d89a3c" fill-opacity="0.55" transform="rotate(-25 196.2 289.7)"/>
<circle cx="511.1" cy="296.8" r="9.8" fill="url(#gbr)"/>
<ellipse cx="514.3" cy="292.2" rx="3" ry="2.3" fill="#d89a3c" fill-opacity="0.55" transform="rotate(-25 514.3 292.2)"/>
<circle cx="863.1" cy="297.0" r="9.8" fill="url(#gbr)"/>
<ellipse cx="866.3" cy="292.4" rx="3" ry="2.3" fill="#d89a3c" fill-opacity="0.55" transform="rotate(-25 866.3 292.4)"/>
<defs><linearGradient id="gzs" x1="0" x2="1" y1="0" y2="0"><stop offset="0" stop-color="#0c0ca8"/><stop offset="0.45" stop-color="#3636f6"/><stop offset="1" stop-color="#0a0a9c"/></linearGradient><linearGradient id="gxs" x1="0" x2="0" y1="0" y2="1"><stop offset="0" stop-color="#e82020"/><stop offset="0.4" stop-color="#f22a2a"/><stop offset="1" stop-color="#6a0606"/></linearGradient><linearGradient id="gxh" x1="0" x2="0" y1="0" y2="1"><stop offset="0" stop-color="#6a0808"/><stop offset="0.45" stop-color="#c81818"/><stop offset="0.6" stop-color="#a01010"/><stop offset="1" stop-color="#4a0404"/></linearGradient><linearGradient id="gzh" x1="0" x2="0" y1="0" y2="1"><stop offset="0" stop-color="#2020d8"/><stop offset="0.7" stop-color="#1616c0"/><stop offset="1" stop-color="#04043a"/></linearGradient></defs>
<circle cx="20.6" cy="311.2" r="9.1" fill="#1eea1e"/>
<path d="M19 313.2 L26.2 307.4" stroke="#0c4420" stroke-width="6.2" stroke-linecap="round"/>
<rect x="23.1" y="274" width="9" height="31.6" fill="url(#gzs)"/>
<polygon points="27.1,268.4 17.6,274.6 36.6,274.6" fill="url(#gzh)"/>
<rect x="29" y="301.2" width="29.6" height="8.6" fill="url(#gxs)"/>
<polygon points="65.3,305.8 58.2,296.6 58.2,315.2" fill="url(#gxh)"/>
<text x="27.8" y="266.3" font-size="10" fill="#5a5a5a">z</text><text x="72.2" y="310" font-size="10" fill="#5a5a5a">x</text>
<line x1="49.8" y1="331.4" x2="1003.5" y2="331.4" stroke="#000" stroke-width="2.8"/>
<path d="M290 189.2 C338 189.2 362 238 362 278 C362 308 348 330 333 343.5" fill="none" stroke="#111" stroke-width="1.3"/>
<path d="M327.5 348 L334.5 337.5 L338.5 343.5 Z" fill="#111"/>
<g clip-path="url(#cld)"><g filter="url(#bl)">
<rect x="89.5" y="389.0" width="258.0" height="258.0" fill="#000080"/>
<path fill="#0000af" d="M89.2 647.3L92.1 647.3L95.0 647.3L97.9 647.3L100.8 647.3L103.7 647.3L106.6 647.3L109.5 647.3L112.4 647.3L115.3 647.3L118.2 647.3L121.1 647.3L124.1 647.3L127.0 647.3L129.9 647.3L132.8 647.3L135.7 647.3L138.6 647.3L141.5 647.3L144.4 647.3L147.3 647.3L150.2 647.3L153.1 647.3L156.0 647.3L158.9 647.3L161.8 647.3L164.7 647.3L167.6 647.3L170.5 647.3L173.4 647.3L176.3 647.3L179.2 647.3L182.1 647.3L185.0 647.3L187.9 647.3L190.8 647.3L193.7 647.3L196.6 647.3L199.6 647.3L202.5 647.3L205.4 647.3L208.3 647.3L211.2 647.3L214.1 647.3L217.0 647.3L219.9 647.3L222.8 647.3L225.7 647.3L228.6 647.3L231.5 647.3L234.4 647.3L237.3 647.3L240.2 647.3L243.1 647.3L246.0 647.3L248.9 647.3L251.8 647.3L254.7 647.3L257.6 647.3L260.5 647.3L263.4 647.3L266.3 647.3L269.2 647.3L272.1 647.3L275.0 647.3L278.0 647.3L280.9 647.3L283.8 647.3L286.7 647.3L289.6 647.3L292.5 647.3L295.4 647.3L298.3 647.3L301.2 647.3L304.1 647.3L307.0 647.3L309.9 647.3L312.8 647.3L315.7 647.3L318.6 647.3L321.5 647.3L324.4 647.3L327.3 647.3L330.2 647.3L333.1 647.3L336.0 647.3L338.9 647.3L341.8 647.3L344.7 647.3L347.6 647.3L347.6 644.4L347.6 641.5L347.6 638.6L347.6 635.7L347.6 632.8L347.6 629.9L347.6 627.0L347.6 624.1L347.6 621.2L347.6 618.3L347.6 615.4L347.6 612.4L347.6 609.5L347.6 606.6L347.6 603.7L347.6 600.8L347.6 597.9L347.6 595.0L347.6 592.1L347.6 589.2L347.6 586.3L347.6 583.4L347.6 580.5L347.6 577.6L347.6 574.7L347.6 571.8L347.6 568.9L347.6 566.0L347.6 563.1L347.6 560.2L347.6 557.3L347.6 554.4L347.6 551.5L347.6 548.6L347.6 545.7L347.6 542.8L347.6 539.9L347.6 536.9L347.6 534.0L347.6 531.1L347.6 528.2L347.6 525.3L347.6 522.4L347.6 519.5L347.6 516.6L347.6 513.7L347.6 510.8L347.6 507.9L347.6 505.0L347.6 502.1L347.6 499.2L347.6 496.3L347.6 493.4L347.6 490.5L347.6 487.6L347.6 484.7L347.6 481.8L347.6 478.9L347.6 476.0L347.6 473.1L347.6 470.2L347.6 467.3L347.6 464.4L347.6 461.5L347.6 458.5L347.6 455.6L347.6 452.7L347.6 449.8L347.6 446.9L347.6 444.0L347.6 441.1L347.6 438.2L347.6 435.3L347.6 432.4L347.6 429.5L347.6 426.6L347.6 423.7L347.6 420.8L347.6 417.9L347.6 415.0L347.6 412.1L347.6 409.2L347.6 406.3L347.6 403.4L347.6 400.5L347.6 397.6L347.6 394.7L347.6 391.8L347.6 388.9L344.7 388.9L341.8 388.9L338.9 388.9L336.0 388.9L333.1 388.9L330.2 388.9L327.3 388.9L324.4 388.9L321.5 388.9L318.6 388.9L315.7 388.9L312.8 388.9L309.9 388.9L307.0 388.9L304.1 388.9L301.2 388.9L298.3 388.9L295.4 388.9L292.5 388.9L289.6 388.9L286.7 388.9L283.8 388.9L280.9 388.9L278.0 388.9L275.0 388.9L272.1 388.9L269.2 388.9L266.3 388.9L263.4 388.9L260.5 388.9L257.6 388.9L254.7 388.9L251.8 388.9L248.9 388.9L246.0 388.9L243.1 388.9L240.2 388.9L237.3 388.9L234.4 388.9L231.5 388.9L228.6 388.9L225.7 388.9L222.8 388.9L219.9 388.9L217.0 388.9L214.1 388.9L211.2 388.9L208.3 388.9L205.4 388.9L202.5 388.9L199.6 388.9L196.6 388.9L193.7 388.9L190.8 388.9L187.9 388.9L185.0 388.9L182.1 388.9L179.2 388.9L176.3 388.9L173.4 388.9L170.5 388.9L167.6 388.9L164.7 388.9L161.8 388.9L158.9 388.9L156.0 388.9L153.1 388.9L150.2 388.9L147.3 388.9L144.4 388.9L141.5 388.9L138.6 388.9L135.7 388.9L132.8 388.9L129.9 388.9L127.0 388.9L124.1 388.9L121.1 388.9L118.2 388.9L115.3 388.9L112.4 388.9L109.5 388.9L106.6 388.9L103.7 388.9L100.8 388.9L97.9 388.9L95.0 388.9L92.1 388.9L89.2 388.9L89.2 391.8L89.2 394.7L89.2 397.6L89.2 400.5L89.2 403.4L89.2 406.3L89.2 409.2L89.2 412.1L89.2 415.0L89.2 417.9L89.2 420.8L89.2 423.7L89.2 426.6L89.2 429.5L89.2 432.4L89.2 435.3L89.2 438.2L89.2 441.1L89.2 444.0L89.2 446.9L89.2 449.8L89.2 452.7L89.2 455.6L89.2 458.5L89.2 461.5L89.2 464.4L89.2 467.3L89.2 470.2L89.2 473.1L89.2 476.0L89.2 478.9L89.2 481.8L89.2 484.7L89.2 487.6L89.2 490.5L89.2 493.4L89.2 496.3L89.2 499.2L89.2 502.1L89.2 505.0L89.2 507.9L89.2 510.8L89.2 513.7L89.2 516.6L89.2 519.5L89.2 522.4L89.2 525.3L89.2 528.2L89.2 531.1L89.2 534.0L89.2 536.9L89.2 539.9L89.2 542.8L89.2 545.7L89.2 548.6L89.2 551.5L89.2 554.4L89.2 557.3L89.2 560.2L89.2 563.1L89.2 566.0L89.2 568.9L89.2 571.8L89.2 574.7L89.2 577.6L89.2 580.5L89.2 583.4L89.2 586.3L89.2 589.2L89.2 592.1L89.2 595.0L89.2 597.9L89.2 600.8L89.2 603.7L89.2 606.6L89.2 609.5L89.2 612.4L89.2 615.4L89.2 618.3L89.2 621.2L89.2 624.1L89.2 627.0L89.2 629.9L89.2 632.8L89.2 635.7L89.2 638.6L89.2 641.5L89.2 644.4ZM141.5 539.9L141.5 539.9L140.4 536.9L139.8 534.0L139.9 531.1L141.4 528.2L141.5 528.1L141.6 528.2L144.0 531.1L144.4 531.7L144.9 534.0L145.2 536.9L144.8 539.9L144.4 540.8ZM208.3 598.0L208.2 597.9L205.4 595.9L204.3 595.0L203.8 592.1L205.4 591.0L208.3 589.7L209.9 589.2L211.2 589.1L214.1 588.8L217.0 588.7L219.9 588.6L222.8 588.6L225.7 588.8L228.6 589.0L229.9 589.2L231.5 589.7L234.4 590.9L236.3 592.1L236.5 595.0L234.4 596.8L232.9 597.9L231.5 598.5L228.6 599.4L225.7 600.0L222.8 600.3L219.9 600.4L217.0 600.2L214.1 599.7L211.2 598.9ZM295.4 506.2L294.5 505.0L292.7 502.1L292.5 501.4L292.3 499.2L292.5 497.2L295.4 497.1L296.1 499.2L296.6 502.1L296.1 505.0ZM214.1 446.9L213.9 446.9L211.2 446.7L208.3 446.2L205.4 445.4L202.5 444.2L202.2 444.0L201.4 441.1L202.5 440.1L204.7 438.2L205.4 438.0L208.3 437.0L211.2 436.4L214.1 436.0L217.0 436.0L219.9 436.2L222.8 436.7L225.7 437.4L228.0 438.2L228.6 438.6L231.5 440.9L231.8 441.1L231.6 444.0L231.5 444.1L228.6 445.4L225.7 446.1L222.8 446.6L219.9 446.9L219.7 446.9L217.0 447.0Z"/>
<path fill="#0000cf" d="M89.2 647.3L92.1 647.3L95.0 647.3L97.9 647.3L100.8 647.3L103.7 647.3L106.6 647.3L109.5 647.3L112.4 647.3L115.3 647.3L118.2 647.3L121.1 647.3L124.1 647.3L127.0 647.3L129.9 647.3L132.8 647.3L135.7 647.3L138.6 647.3L141.5 647.3L144.4 647.3L147.3 647.3L150.2 647.3L153.1 647.3L156.0 647.3L158.9 647.3L161.8 647.3L164.7 647.3L167.6 647.3L170.5 647.3L173.4 647.3L176.3 647.3L179.2 647.3L182.1 647.3L185.0 647.3L187.9 647.3L190.8 647.3L193.7 647.3L196.6 647.3L199.6 647.3L202.5 647.3L205.4 647.3L208.3 647.3L211.2 647.3L214.1 647.3L217.0 647.3L219.9 647.3L222.8 647.3L225.7 647.3L228.6 647.3L231.5 647.3L234.4 647.3L237.3 647.3L240.2 647.3L243.1 647.3L246.0 647.3L248.9 647.3L251.8 647.3L254.7 647.3L257.6 647.3L260.5 647.3L263.4 647.3L266.3 647.3L269.2 647.3L272.1 647.3L275.0 647.3L278.0 647.3L280.9 647.3L283.8 647.3L286.7 647.3L289.6 647.3L292.5 647.3L295.4 647.3L298.3 647.3L301.2 647.3L304.1 647.3L307.0 647.3L309.9 647.3L312.8 647.3L315.7 647.3L318.6 647.3L321.5 647.3L324.4 647.3L327.3 647.3L330.2 647.3L333.1 647.3L336.0 647.3L338.9 647.3L341.8 647.3L344.7 647.3L347.6 647.3L347.6 644.4L347.6 641.5L347.6 638.6L347.6 635.7L347.6 632.8L347.6 629.9L347.6 627.0L347.6 624.1L347.6 621.2L347.6 618.3L347.6 615.4L347.6 612.4L347.6 609.5L347.6 606.6L347.6 603.7L347.6 600.8L347.6 597.9L347.6 595.0L347.6 592.1L347.6 589.2L347.6 586.3L347.6 583.4L347.6 580.5L347.6 577.6L347.6 574.7L347.6 571.8L347.6 568.9L347.6 566.0L347.6 563.1L347.6 560.2L347.6 557.3L347.6 554.4L347.6 551.5L347.6 548.6L347.6 545.7L347.6 542.8L347.6 539.9L347.6 536.9L347.6 534.0L347.6 531.1L347.6 528.2L347.6 525.3L347.6 522.4L347.6 519.5L347.6 516.6L347.6 513.7L347.6 510.8L347.6 507.9L347.6 505.0L347.6 502.1L347.6 499.2L347.6 496.3L347.6 493.4L347.6 490.5L347.6 487.6L347.6 484.7L347.6 481.8L347.6 478.9L347.6 476.0L347.6 473.1L347.6 470.2L347.6 467.3L347.6 464.4L347.6 461.5L347.6 458.5L347.6 455.6L347.6 452.7L347.6 449.8L347.6 446.9L347.6 444.0L347.6 441.1L347.6 438.2L347.6 435.3L347.6 432.4L347.6 429.5L347.6 426.6L347.6 423.7L347.6 420.8L347.6 417.9L347.6 415.0L347.6 412.1L347.6 409.2L347.6 406.3L347.6 403.4L347.6 400.5L347.6 397.6L347.6 394.7L347.6 391.8L347.6 388.9L344.7 388.9L341.8 388.9L338.9 388.9L336.0 388.9L333.1 388.9L330.2 388.9L327.3 388.9L324.4 388.9L321.5 388.9L318.6 388.9L315.7 388.9L312.8 388.9L309.9 388.9L307.0 388.9L304.1 388.9L301.2 388.9L298.3 388.9L295.4 388.9L292.5 388.9L289.6 388.9L286.7 388.9L283.8 388.9L280.9 388.9L278.0 388.9L275.0 388.9L272.1 388.9L269.2 388.9L266.3 388.9L263.4 388.9L260.5 388.9L257.6 388.9L254.7 388.9L251.8 388.9L248.9 388.9L246.0 388.9L243.1 388.9L240.2 388.9L237.3 388.9L234.4 388.9L231.5 388.9L228.6 388.9L225.7 388.9L222.8 388.9L219.9 388.9L217.0 388.9L214.1 388.9L211.2 388.9L208.3 388.9L205.4 388.9L202.5 388.9L199.6 388.9L196.6 388.9L193.7 388.9L190.8 388.9L187.9 388.9L185.0 388.9L182.1 388.9L179.2 388.9L176.3 388.9L173.4 388.9L170.5 388.9L167.6 388.9L164.7 388.9L161.8 388.9L158.9 388.9L156.0 388.9L153.1 388.9L150.2 388.9L147.3 388.9L144.4 388.9L141.5 388.9L138.6 388.9L135.7 388.9L132.8 388.9L129.9 388.9L127.0 388.9L124.1 388.9L121.1 388.9L118.2 388.9L115.3 388.9L112.4 388.9L109.5 388.9L106.6 388.9L103.7 388.9L100.8 388.9L97.9 388.9L95.0 388.9L92.1 388.9L89.2 388.9L89.2 391.8L89.2 394.7L89.2 397.6L89.2 400.5L89.2 403.4L89.2 406.3L89.2 409.2L89.2 412.1L89.2 415.0L89.2 417.9L89.2 420.8L89.2 423.7L89.2 426.6L89.2 429.5L89.2 432.4L89.2 435.3L89.2 438.2L89.2 441.1L89.2 444.0L89.2 446.9L89.2 449.8L89.2 452.7L89.2 455.6L89.2 458.5L89.2 461.5L89.2 464.4L89.2 467.3L89.2 470.2L89.2 473.1L89.2 476.0L89.2 478.9L89.2 481.8L89.2 484.7L89.2 487.6L89.2 490.5L89.2 493.4L89.2 496.3L89.2 499.2L89.2 502.1L89.2 505.0L89.2 507.9L89.2 510.8L89.2 513.7L89.2 516.6L89.2 519.5L89.2 522.4L89.2 525.3L89.2 528.2L89.2 531.1L89.2 534.0L89.2 536.9L89.2 539.9L89.2 542.8L89.2 545.7L89.2 548.6L89.2 551.5L89.2 554.4L89.2 557.3L89.2 560.2L89.2 563.1L89.2 566.0L89.2 568.9L89.2 571.8L89.2 574.7L89.2 577.6L89.2 580.5L89.2 583.4L89.2 586.3L89.2 589.2L89.2 592.1L89.2 595.0L89.2 597.9L89.2 600.8L89.2 603.7L89.2 606.6L89.2 609.5L89.2 612.4L89.2 615.4L89.2 618.3L89.2 621.2L89.2 624.1L89.2 627.0L89.2 629.9L89.2 632.8L89.2 635.7L89.2 638.6L89.2 641.5L89.2 644.4ZM144.4 557.4L144.2 557.3L141.5 555.2L140.7 554.4L138.6 552.1L138.2 551.5L136.3 548.6L135.7 547.4L134.9 545.7L133.8 542.8L133.0 539.9L132.8 539.0L132.4 536.9L132.0 534.0L131.8 531.1L131.8 528.2L132.0 525.3L132.3 522.4L132.8 520.3L133.0 519.5L134.1 516.6L135.5 513.7L135.7 513.5L138.6 511.4L141.5 511.7L143.7 513.7L144.4 514.3L145.7 516.6L147.3 519.3L147.4 519.5L148.4 522.4L149.4 525.3L150.2 527.6L150.4 528.2L151.1 531.1L151.8 534.0L152.5 536.9L153.1 539.4L153.2 539.9L153.7 542.8L154.2 545.7L154.6 548.6L154.8 551.5L154.7 554.4L153.8 557.3L153.1 558.1L150.2 559.2L147.3 558.7ZM208.3 604.2L206.5 603.7L205.4 603.4L202.5 602.4L199.6 601.2L198.7 600.8L196.6 599.7L193.7 597.9L193.7 597.9L190.8 595.5L190.3 595.0L188.0 592.1L187.9 591.8L187.0 589.2L187.9 587.0L188.4 586.3L190.8 585.5L193.7 585.0L196.6 584.8L199.6 584.7L202.5 584.6L205.4 584.6L208.3 584.6L211.2 584.6L214.1 584.6L217.0 584.6L219.9 584.6L222.8 584.6L225.7 584.7L228.6 584.7L231.5 584.9L234.4 585.0L237.3 585.3L240.2 585.7L243.1 586.2L243.5 586.3L246.0 587.4L248.9 589.2L248.9 589.3L250.0 592.1L249.0 595.0L248.9 595.2L246.4 597.9L246.0 598.2L243.1 600.1L241.9 600.8L240.2 601.6L237.3 602.8L234.5 603.7L234.4 603.8L231.5 604.4L228.6 604.9L225.7 605.3L222.8 605.5L219.9 605.5L217.0 605.4L214.1 605.2L211.2 604.7ZM295.4 523.2L294.6 522.4L292.5 520.4L292.0 519.5L290.4 516.6L289.6 515.2L289.1 513.7L288.1 510.8L287.1 507.9L286.7 506.7L286.2 505.0L285.5 502.1L284.8 499.2L284.2 496.3L283.8 494.6L283.5 493.4L283.1 490.5L282.7 487.6L282.5 484.7L282.7 481.8L283.6 478.9L283.8 478.6L286.7 477.2L289.6 477.5L292.5 478.8L292.6 478.9L295.4 481.0L296.1 481.8L298.3 484.1L298.7 484.7L300.5 487.6L301.2 488.8L301.9 490.5L303.0 493.4L303.9 496.3L304.1 497.2L304.5 499.2L304.8 502.1L305.0 505.0L305.0 507.9L304.8 510.8L304.4 513.7L304.1 515.3L303.7 516.6L302.5 519.5L301.2 521.9L300.4 522.4L298.3 523.8ZM199.6 450.2L196.9 449.8L196.6 449.8L193.7 448.9L190.8 447.6L189.7 446.9L187.9 444.2L187.8 444.0L187.9 443.6L188.5 441.1L190.8 438.3L190.9 438.2L193.7 436.2L195.2 435.3L196.6 434.6L199.6 433.5L202.5 432.5L202.6 432.4L205.4 431.8L208.3 431.3L211.2 430.9L214.1 430.7L217.0 430.7L219.9 430.8L222.8 431.0L225.7 431.5L228.6 432.0L230.2 432.4L231.5 432.8L234.4 433.8L237.3 435.0L238.0 435.3L240.2 436.6L242.9 438.2L243.1 438.4L246.0 440.9L246.3 441.1L248.4 444.0L248.9 446.2L249.1 446.9L248.9 447.3L246.2 449.8L246.0 449.9L243.1 450.4L240.2 450.7L237.3 450.8L234.4 450.9L231.5 450.9L228.6 450.9L225.7 451.0L222.8 451.0L219.9 451.0L217.0 451.0L214.1 451.0L211.2 450.9L208.3 450.8L205.4 450.7L202.5 450.5Z"/>
<path fill="#0000ef" d="M89.2 647.3L92.1 647.3L95.0 647.3L97.9 647.3L100.8 647.3L103.7 647.3L106.6 647.3L109.5 647.3L112.4 647.3L115.3 647.3L118.2 647.3L121.1 647.3L124.1 647.3L127.0 647.3L129.9 647.3L132.8 647.3L135.7 647.3L138.6 647.3L141.5 647.3L144.4 647.3L147.3 647.3L150.2 647.3L153.1 647.3L156.0 647.3L158.9 647.3L161.8 647.3L164.7 647.3L167.6 647.3L170.5 647.3L173.4 647.3L176.3 647.3L179.2 647.3L182.1 647.3L185.0 647.3L187.9 647.3L190.8 647.3L193.7 647.3L196.6 647.3L199.6 647.3L202.5 647.3L205.4 647.3L208.3 647.3L211.2 647.3L214.1 647.3L217.0 647.3L219.9 647.3L222.8 647.3L225.7 647.3L228.6 647.3L231.5 647.3L234.4 647.3L237.3 647.3L240.2 647.3L243.1 647.3L246.0 647.3L248.9 647.3L251.8 647.3L254.7 647.3L257.6 647.3L260.5 647.3L263.4 647.3L266.3 647.3L269.2 647.3L272.1 647.3L275.0 647.3L278.0 647.3L280.9 647.3L283.8 647.3L286.7 647.3L289.6 647.3L292.5 647.3L295.4 647.3L298.3 647.3L301.2 647.3L304.1 647.3L307.0 647.3L309.9 647.3L312.8 647.3L315.7 647.3L318.6 647.3L321.5 647.3L324.4 647.3L327.3 647.3L330.2 647.3L333.1 647.3L336.0 647.3L338.9 647.3L341.8 647.3L344.7 647.3L347.6 647.3L347.6 644.4L347.6 641.5L347.6 638.6L347.6 635.7L347.6 632.8L347.6 629.9L347.6 627.0L347.6 624.1L347.6 621.2L347.6 618.3L347.6 615.4L347.6 612.4L347.6 609.5L347.6 606.6L347.6 603.7L347.6 600.8L347.6 597.9L347.6 595.0L347.6 592.1L347.6 589.2L347.6 586.3L347.6 583.4L347.6 580.5L347.6 577.6L347.6 574.7L347.6 571.8L347.6 568.9L347.6 566.0L347.6 563.1L347.6 560.2L347.6 557.3L347.6 554.4L347.6 551.5L347.6 548.6L347.6 545.7L347.6 542.8L347.6 539.9L347.6 536.9L347.6 534.0L347.6 531.1L347.6 528.2L347.6 525.3L347.6 522.4L347.6 519.5L347.6 516.6L347.6 513.7L347.6 510.8L347.6 507.9L347.6 505.0L347.6 502.1L347.6 499.2L347.6 496.3L347.6 493.4L347.6 490.5L347.6 487.6L347.6 484.7L347.6 481.8L347.6 478.9L347.6 476.0L347.6 473.1L347.6 470.2L347.6 467.3L347.6 464.4L347.6 461.5L347.6 458.5L347.6 455.6L347.6 452.7L347.6 449.8L347.6 446.9L347.6 444.0L347.6 441.1L347.6 438.2L347.6 435.3L347.6 432.4L347.6 429.5L347.6 426.6L347.6 423.7L347.6 420.8L347.6 417.9L347.6 415.0L347.6 412.1L347.6 409.2L347.6 406.3L347.6 403.4L347.6 400.5L347.6 397.6L347.6 394.7L347.6 391.8L347.6 388.9L344.7 388.9L341.8 388.9L338.9 388.9L336.0 388.9L333.1 388.9L330.2 388.9L327.3 388.9L324.4 388.9L321.5 388.9L318.6 388.9L315.7 388.9L312.8 388.9L309.9 388.9L307.0 388.9L304.1 388.9L301.2 388.9L298.3 388.9L295.4 388.9L292.5 388.9L289.6 388.9L286.7 388.9L283.8 388.9L280.9 388.9L278.0 388.9L275.0 388.9L272.1 388.9L269.2 388.9L266.3 388.9L263.4 388.9L260.5 388.9L257.6 388.9L254.7 388.9L251.8 388.9L248.9 388.9L246.0 388.9L243.1 388.9L240.2 388.9L237.3 388.9L234.4 388.9L231.5 388.9L228.6 388.9L225.7 388.9L222.8 388.9L219.9 388.9L217.0 388.9L214.1 388.9L211.2 388.9L208.3 388.9L205.4 388.9L202.5 388.9L199.6 388.9L196.6 388.9L193.7 388.9L190.8 388.9L187.9 388.9L185.0 388.9L182.1 388.9L179.2 388.9L176.3 388.9L173.4 388.9L170.5 388.9L167.6 388.9L164.7 388.9L161.8 388.9L158.9 388.9L156.0 388.9L153.1 388.9L150.2 388.9L147.3 388.9L144.4 388.9L141.5 388.9L138.6 388.9L135.7 388.9L132.8 388.9L129.9 388.9L127.0 388.9L124.1 388.9L121.1 388.9L118.2 388.9L115.3 388.9L112.4 388.9L109.5 388.9L106.6 388.9L103.7 388.9L100.8 388.9L97.9 388.9L95.0 388.9L92.1 388.9L89.2 388.9L89.2 391.8L89.2 394.7L89.2 397.6L89.2 400.5L89.2 403.4L89.2 406.3L89.2 409.2L89.2 412.1L89.2 415.0L89.2 417.9L89.2 420.8L89.2 423.7L89.2 426.6L89.2 429.5L89.2 432.4L89.2 435.3L89.2 438.2L89.2 441.1L89.2 444.0L89.2 446.9L89.2 449.8L89.2 452.7L89.2 455.6L89.2 458.5L89.2 461.5L89.2 464.4L89.2 467.3L89.2 470.2L89.2 473.1L89.2 476.0L89.2 478.9L89.2 481.8L89.2 484.7L89.2 487.6L89.2 490.5L89.2 493.4L89.2 496.3L89.2 499.2L89.2 502.1L89.2 505.0L89.2 507.9L89.2 510.8L89.2 513.7L89.2 516.6L89.2 519.5L89.2 522.4L89.2 525.3L89.2 528.2L89.2 531.1L89.2 534.0L89.2 536.9L89.2 539.9L89.2 542.8L89.2 545.7L89.2 548.6L89.2 551.5L89.2 554.4L89.2 557.3L89.2 560.2L89.2 563.1L89.2 566.0L89.2 568.9L89.2 571.8L89.2 574.7L89.2 577.6L89.2 580.5L89.2 583.4L89.2 586.3L89.2 589.2L89.2 592.1L89.2 595.0L89.2 597.9L89.2 600.8L89.2 603.7L89.2 606.6L89.2 609.5L89.2 612.4L89.2 615.4L89.2 618.3L89.2 621.2L89.2 624.1L89.2 627.0L89.2 629.9L89.2 632.8L89.2 635.7L89.2 638.6L89.2 641.5L89.2 644.4ZM217.0 609.6L216.5 609.5L214.1 609.4L211.2 609.0L208.3 608.6L205.4 608.0L202.5 607.3L200.2 606.6L199.6 606.4L196.6 605.4L193.7 604.2L192.8 603.7L190.8 602.8L187.9 601.2L187.4 600.8L185.0 599.3L183.1 597.9L182.1 597.1L179.5 595.0L179.2 594.7L176.4 592.1L176.3 592.0L173.6 589.2L173.4 588.9L171.1 586.3L170.5 585.6L168.5 583.4L167.6 582.4L165.6 580.5L164.7 579.6L162.2 577.6L161.8 577.3L158.9 575.3L158.0 574.7L156.0 573.5L153.1 571.9L152.9 571.8L150.2 570.2L148.0 568.9L147.3 568.5L144.4 566.5L143.8 566.0L141.5 564.1L140.4 563.1L138.6 561.3L137.6 560.2L135.7 557.7L135.4 557.3L133.6 554.4L132.8 552.9L132.0 551.5L130.8 548.6L129.9 546.1L129.7 545.7L128.9 542.8L128.2 539.9L127.7 536.9L127.4 534.0L127.2 531.1L127.1 528.2L127.1 525.3L127.3 522.4L127.7 519.5L128.2 516.6L128.9 513.7L129.7 510.8L129.9 510.3L130.9 507.9L132.5 505.0L132.8 504.6L135.3 502.1L135.7 501.8L138.6 501.1L141.5 501.9L141.7 502.1L144.4 504.4L144.8 505.0L146.8 507.9L147.3 508.6L148.2 510.8L149.4 513.7L150.2 515.6L150.5 516.6L151.4 519.5L152.3 522.4L153.1 525.2L153.1 525.3L153.9 528.2L154.6 531.1L155.4 534.0L156.0 536.0L156.2 536.9L157.0 539.9L157.8 542.8L158.8 545.7L158.9 546.1L159.6 548.6L160.6 551.5L161.8 554.4L161.8 554.4L162.9 557.3L164.3 560.2L164.7 560.9L165.8 563.1L167.6 565.8L167.8 566.0L170.1 568.9L170.5 569.4L173.3 571.8L173.4 571.9L176.3 573.9L177.8 574.7L179.2 575.4L182.1 576.7L185.0 577.6L185.0 577.6L187.9 578.6L190.8 579.3L193.7 579.8L196.6 580.3L198.4 580.5L199.6 580.7L202.5 581.0L205.4 581.3L208.3 581.5L211.2 581.6L214.1 581.7L217.0 581.7L219.9 581.8L222.8 581.8L225.7 581.8L228.6 581.8L231.5 581.8L234.4 581.8L237.3 581.8L240.2 581.9L243.1 582.0L246.0 582.2L248.9 582.5L251.8 583.0L253.6 583.4L254.7 583.9L257.6 585.4L258.9 586.3L260.4 589.2L260.1 592.1L258.6 595.0L257.6 596.1L256.0 597.9L254.7 599.0L252.4 600.8L251.8 601.2L248.9 602.9L247.4 603.7L246.0 604.4L243.1 605.6L240.2 606.6L240.2 606.6L237.3 607.5L234.4 608.2L231.5 608.7L228.6 609.1L225.7 609.4L224.0 609.5L222.8 609.6L219.9 609.7ZM295.4 532.8L293.5 531.1L292.5 530.1L291.2 528.2L289.6 525.7L289.4 525.3L288.2 522.4L287.0 519.5L286.7 518.6L286.1 516.6L285.2 513.7L284.3 510.8L283.8 509.0L283.5 507.9L282.7 505.0L281.9 502.1L281.1 499.2L280.9 498.4L280.3 496.3L279.5 493.4L278.6 490.5L278.0 488.5L277.7 487.6L276.7 484.7L275.6 481.8L275.0 480.3L274.5 478.9L273.2 476.0L272.1 473.9L271.7 473.1L270.0 470.2L269.2 469.0L267.9 467.3L266.3 465.5L265.1 464.4L263.4 463.0L260.8 461.5L260.5 461.3L257.6 459.8L254.7 458.7L254.3 458.5L251.8 457.6L248.9 456.8L246.0 456.2L243.1 455.7L242.8 455.6L240.2 455.2L237.3 454.8L234.4 454.5L231.5 454.3L228.6 454.1L225.7 454.0L222.8 453.9L219.9 453.9L217.0 453.8L214.1 453.8L211.2 453.8L208.3 453.8L205.4 453.8L202.5 453.8L199.6 453.7L196.6 453.6L193.7 453.5L190.8 453.2L187.9 452.8L187.4 452.7L185.0 452.1L182.1 450.9L180.0 449.8L179.2 449.0L177.8 446.9L177.6 444.0L178.8 441.1L179.2 440.6L181.2 438.2L182.1 437.4L184.7 435.3L185.0 435.1L187.9 433.3L189.6 432.4L190.8 431.8L193.7 430.6L196.6 429.5L196.7 429.5L199.6 428.7L202.5 428.0L205.4 427.4L208.3 427.0L211.2 426.7L213.1 426.6L214.1 426.6L217.0 426.5L219.9 426.6L220.2 426.6L222.8 426.8L225.7 427.1L228.6 427.6L231.5 428.2L234.4 428.9L236.6 429.5L237.3 429.8L240.2 430.8L243.1 432.0L244.0 432.4L246.0 433.4L248.9 435.0L249.4 435.3L251.8 436.9L253.7 438.2L254.7 439.1L257.3 441.1L257.6 441.5L260.3 444.0L260.5 444.3L263.1 446.9L263.4 447.4L265.6 449.8L266.3 450.7L268.2 452.7L269.2 454.0L271.0 455.6L272.1 456.8L274.3 458.5L275.0 459.1L278.0 461.0L278.7 461.5L280.9 462.7L283.8 464.3L283.9 464.4L286.7 465.9L288.8 467.3L289.6 467.7L292.5 469.7L293.1 470.2L295.4 472.0L296.5 473.1L298.3 474.9L299.2 476.0L301.2 478.4L301.5 478.9L303.3 481.8L304.1 483.2L304.8 484.7L306.1 487.6L307.0 490.1L307.1 490.5L307.9 493.4L308.6 496.3L309.1 499.2L309.5 502.1L309.7 505.0L309.8 507.9L309.7 510.8L309.5 513.7L309.1 516.6L308.6 519.5L307.9 522.4L307.0 525.3L307.0 525.4L305.6 528.2L304.1 530.8L303.8 531.1L301.2 533.3L298.3 533.9Z"/>
<path fill="#0010ff" d="M89.2 647.3L92.1 647.3L95.0 647.3L97.9 647.3L100.8 647.3L103.7 647.3L106.6 647.3L109.5 647.3L112.4 647.3L115.3 647.3L118.2 647.3L121.1 647.3L124.1 647.3L127.0 647.3L129.9 647.3L132.8 647.3L135.7 647.3L138.6 647.3L141.5 647.3L144.4 647.3L147.3 647.3L150.2 647.3L153.1 647.3L156.0 647.3L158.9 647.3L161.8 647.3L164.7 647.3L167.6 647.3L170.5 647.3L173.4 647.3L176.3 647.3L179.2 647.3L182.1 647.3L185.0 647.3L187.9 647.3L190.8 647.3L193.7 647.3L196.6 647.3L199.6 647.3L202.5 647.3L205.4 647.3L208.3 647.3L211.2 647.3L214.1 647.3L217.0 647.3L219.9 647.3L222.8 647.3L225.7 647.3L228.6 647.3L231.5 647.3L234.4 647.3L237.3 647.3L240.2 647.3L243.1 647.3L246.0 647.3L248.9 647.3L251.8 647.3L254.7 647.3L257.6 647.3L260.5 647.3L263.4 647.3L266.3 647.3L269.2 647.3L272.1 647.3L275.0 647.3L278.0 647.3L280.9 647.3L283.8 647.3L286.7 647.3L289.6 647.3L292.5 647.3L295.4 647.3L298.3 647.3L301.2 647.3L304.1 647.3L307.0 647.3L309.9 647.3L312.8 647.3L315.7 647.3L318.6 647.3L321.5 647.3L324.4 647.3L327.3 647.3L330.2 647.3L333.1 647.3L336.0 647.3L338.9 647.3L341.8 647.3L344.7 647.3L347.6 647.3L347.6 644.4L347.6 641.5L347.6 638.6L347.6 635.7L347.6 632.8L347.6 629.9L347.6 627.0L347.6 624.1L347.6 621.2L347.6 618.3L347.6 615.4L347.6 612.4L347.6 609.5L347.6 606.6L347.6 603.7L347.6 600.8L347.6 597.9L347.6 595.0L347.6 592.1L347.6 589.2L347.6 586.3L347.6 583.4L347.6 580.5L347.6 577.6L347.6 574.7L347.6 571.8L347.6 568.9L347.6 566.0L347.6 563.1L347.6 560.2L347.6 557.3L347.6 554.4L347.6 551.5L347.6 548.6L347.6 545.7L347.6 542.8L347.6 539.9L347.6 536.9L347.6 534.0L347.6 531.1L347.6 528.2L347.6 525.3L347.6 522.4L347.6 519.5L347.6 516.6L347.6 513.7L347.6 510.8L347.6 507.9L347.6 505.0L347.6 502.1L347.6 499.2L347.6 496.3L347.6 493.4L347.6 490.5L347.6 487.6L347.6 484.7L347.6 481.8L347.6 478.9L347.6 476.0L347.6 473.1L347.6 470.2L347.6 467.3L347.6 464.4L347.6 461.5L347.6 458.5L347.6 455.6L347.6 452.7L347.6 449.8L347.6 446.9L347.6 444.0L347.6 441.1L347.6 438.2L347.6 435.3L347.6 432.4L347.6 429.5L347.6 426.6L347.6 423.7L347.6 420.8L347.6 417.9L347.6 415.0L347.6 412.1L347.6 409.2L347.6 406.3L347.6 403.4L347.6 400.5L347.6 397.6L347.6 394.7L347.6 391.8L347.6 388.9L344.7 388.9L341.8 388.9L338.9 388.9L336.0 388.9L333.1 388.9L330.2 388.9L327.3 388.9L324.4 388.9L321.5 388.9L318.6 388.9L315.7 388.9L312.8 388.9L309.9 388.9L307.0 388.9L304.1 388.9L301.2 388.9L298.3 388.9L295.4 388.9L292.5 388.9L289.6 388.9L286.7 388.9L283.8 388.9L280.9 388.9L278.0 388.9L275.0 388.9L272.1 388.9L269.2 388.9L266.3 388.9L263.4 388.9L260.5 388.9L257.6 388.9L254.7 388.9L251.8 388.9L248.9 388.9L246.0 388.9L243.1 388.9L240.2 388.9L237.3 388.9L234.4 388.9L231.5 388.9L228.6 388.9L225.7 388.9L222.8 388.9L219.9 388.9L217.0 388.9L214.1 388.9L211.2 388.9L208.3 388.9L205.4 388.9L202.5 388.9L199.6 388.9L196.6 388.9L193.7 388.9L190.8 388.9L187.9 388.9L185.0 388.9L182.1 388.9L179.2 388.9L176.3 388.9L173.4 388.9L170.5 388.9L167.6 388.9L164.7 388.9L161.8 388.9L158.9 388.9L156.0 388.9L153.1 388.9L150.2 388.9L147.3 388.9L144.4 388.9L141.5 388.9L138.6 388.9L135.7 388.9L132.8 388.9L129.9 388.9L127.0 388.9L124.1 388.9L121.1 388.9L118.2 388.9L115.3 388.9L112.4 388.9L109.5 388.9L106.6 388.9L103.7 388.9L100.8 388.9L97.9 388.9L95.0 388.9L92.1 388.9L89.2 388.9L89.2 391.8L89.2 394.7L89.2 397.6L89.2 400.5L89.2 403.4L89.2 406.3L89.2 409.2L89.2 412.1L89.2 415.0L89.2 417.9L89.2 420.8L89.2 423.7L89.2 426.6L89.2 429.5L89.2 432.4L89.2 435.3L89.2 438.2L89.2 441.1L89.2 444.0L89.2 446.9L89.2 449.8L89.2 452.7L89.2 455.6L89.2 458.5L89.2 461.5L89.2 464.4L89.2 467.3L89.2 470.2L89.2 473.1L89.2 476.0L89.2 478.9L89.2 481.8L89.2 484.7L89.2 487.6L89.2 490.5L89.2 493.4L89.2 496.3L89.2 499.2L89.2 502.1L89.2 505.0L89.2 507.9L89.2 510.8L89.2 513.7L89.2 516.6L89.2 519.5L89.2 522.4L89.2 525.3L89.2 528.2L89.2 531.1L89.2 534.0L89.2 536.9L89.2 539.9L89.2 542.8L89.2 545.7L89.2 548.6L89.2 551.5L89.2 554.4L89.2 557.3L89.2 560.2L89.2 563.1L89.2 566.0L89.2 568.9L89.2 571.8L89.2 574.7L89.2 577.6L89.2 580.5L89.2 583.4L89.2 586.3L89.2 589.2L89.2 592.1L89.2 595.0L89.2 597.9L89.2 600.8L89.2 603.7L89.2 606.6L89.2 609.5L89.2 612.4L89.2 615.4L89.2 618.3L89.2 621.2L89.2 624.1L89.2 627.0L89.2 629.9L89.2 632.8L89.2 635.7L89.2 638.6L89.2 641.5L89.2 644.4ZM208.3 612.7L206.8 612.4L205.4 612.2L202.5 611.6L199.6 610.9L196.6 610.1L195.1 609.5L193.7 609.1L190.8 608.0L187.9 606.7L187.8 606.6L185.0 605.3L182.2 603.7L182.1 603.7L179.2 601.9L177.5 600.8L176.3 600.0L173.5 597.9L173.4 597.8L170.5 595.5L169.9 595.0L167.6 593.1L166.5 592.1L164.7 590.5L163.2 589.2L161.8 588.0L159.8 586.3L158.9 585.5L156.3 583.4L156.0 583.2L153.1 580.9L152.6 580.5L150.2 578.7L148.8 577.6L147.3 576.5L145.0 574.7L144.4 574.2L141.5 571.8L141.5 571.8L138.6 569.0L138.4 568.9L135.8 566.0L135.7 565.8L133.6 563.1L132.8 562.0L131.6 560.2L129.9 557.3L129.9 557.2L128.5 554.4L127.3 551.5L127.0 550.6L126.2 548.6L125.4 545.7L124.6 542.8L124.1 539.9L124.1 539.8L123.6 536.9L123.3 534.0L123.0 531.1L122.9 528.2L122.9 525.3L123.0 522.4L123.2 519.5L123.6 516.6L124.0 513.7L124.1 513.6L124.6 510.8L125.4 507.9L126.3 505.0L127.0 503.1L127.4 502.1L128.8 499.2L129.9 497.5L130.9 496.3L132.8 494.3L134.4 493.4L135.7 492.8L138.6 492.5L141.1 493.4L141.5 493.5L144.4 495.8L144.7 496.3L146.9 499.2L147.3 499.7L148.5 502.1L149.9 505.0L150.2 505.7L150.9 507.9L151.9 510.8L152.8 513.7L153.1 514.7L153.6 516.6L154.4 519.5L155.2 522.4L156.0 525.3L156.0 525.4L156.7 528.2L157.5 531.1L158.3 534.0L158.9 535.8L159.2 536.9L160.1 539.9L161.1 542.8L161.8 544.6L162.2 545.7L163.4 548.6L164.7 551.4L164.7 551.5L166.2 554.4L167.6 556.8L167.9 557.3L169.9 560.2L170.5 561.1L172.1 563.1L173.4 564.5L174.9 566.0L176.3 567.3L178.3 568.9L179.2 569.6L182.1 571.5L182.7 571.8L185.0 573.1L187.9 574.4L188.8 574.7L190.8 575.5L193.7 576.4L196.6 577.1L199.1 577.6L199.6 577.7L202.5 578.2L205.4 578.6L208.3 578.9L211.2 579.1L214.1 579.2L217.0 579.3L219.9 579.4L222.8 579.4L225.7 579.4L228.6 579.3L231.5 579.3L234.4 579.2L237.3 579.1L240.2 579.0L243.1 578.9L246.0 578.8L248.9 578.7L251.8 578.7L254.7 578.9L257.6 579.1L260.5 579.6L263.4 580.4L263.7 580.5L266.3 581.9L268.2 583.4L269.2 585.2L269.8 586.3L269.8 589.2L269.2 591.0L268.9 592.1L267.1 595.0L266.3 595.9L264.6 597.9L263.4 599.0L261.3 600.8L260.5 601.4L257.6 603.4L257.2 603.7L254.7 605.2L251.9 606.6L251.8 606.7L248.9 608.0L246.0 609.1L244.8 609.5L243.1 610.1L240.2 611.0L237.3 611.7L234.4 612.3L233.2 612.4L231.5 612.7L228.6 613.1L225.7 613.4L222.8 613.5L219.9 613.6L217.0 613.5L214.1 613.3L211.2 613.1ZM295.4 541.1L293.9 539.9L292.5 538.6L291.3 536.9L289.6 534.5L289.3 534.0L287.9 531.1L286.7 528.3L286.7 528.2L285.7 525.3L284.8 522.4L283.9 519.5L283.8 519.2L283.1 516.6L282.3 513.7L281.5 510.8L280.9 508.7L280.6 507.9L279.9 505.0L279.0 502.1L278.1 499.2L278.0 498.7L277.2 496.3L276.3 493.4L275.2 490.5L275.0 490.2L274.0 487.6L272.7 484.7L272.1 483.5L271.3 481.8L269.6 478.9L269.2 478.3L267.8 476.0L266.3 474.1L265.5 473.1L263.4 470.7L262.9 470.2L260.5 468.0L259.6 467.3L257.6 465.7L255.5 464.4L254.7 463.9L251.8 462.3L249.9 461.5L248.9 461.0L246.0 459.9L243.1 459.1L240.8 458.5L240.2 458.4L237.3 457.8L234.4 457.3L231.5 457.0L228.6 456.7L225.7 456.5L222.8 456.4L219.9 456.3L217.0 456.3L214.1 456.2L211.2 456.2L208.3 456.3L205.4 456.3L202.5 456.4L199.6 456.5L196.6 456.5L193.7 456.6L190.8 456.6L187.9 456.6L185.0 456.5L182.1 456.3L179.2 455.9L177.9 455.6L176.3 455.2L173.4 454.1L171.0 452.7L170.5 452.3L168.6 449.8L168.1 446.9L168.7 444.0L170.2 441.1L170.5 440.8L172.6 438.2L173.4 437.4L175.7 435.3L176.3 434.9L179.2 432.8L179.8 432.4L182.1 431.1L185.0 429.5L185.0 429.5L187.9 428.2L190.8 427.1L192.1 426.6L193.7 426.1L196.6 425.2L199.6 424.5L202.5 423.9L203.6 423.7L205.4 423.4L208.3 423.1L211.2 422.8L214.1 422.6L217.0 422.6L219.9 422.7L222.8 422.8L225.7 423.1L228.6 423.5L230.0 423.7L231.5 424.0L234.4 424.5L237.3 425.3L240.2 426.1L241.7 426.6L243.1 427.1L246.0 428.2L248.9 429.4L249.1 429.5L251.8 430.9L254.7 432.4L254.7 432.4L257.6 434.2L259.3 435.3L260.5 436.2L263.3 438.2L263.4 438.3L266.3 440.6L266.9 441.1L269.2 443.1L270.3 444.0L272.1 445.6L273.7 446.9L275.0 448.2L277.0 449.8L278.0 450.6L280.5 452.7L280.9 453.0L283.8 455.3L284.2 455.6L286.7 457.5L288.1 458.5L289.6 459.7L291.8 461.5L292.5 461.9L295.3 464.4L295.4 464.4L298.3 467.1L298.4 467.3L301.0 470.2L301.2 470.3L303.3 473.1L304.1 474.2L305.2 476.0L306.9 478.9L307.0 479.0L308.3 481.8L309.6 484.7L309.9 485.6L310.6 487.6L311.5 490.5L312.2 493.4L312.8 496.3L312.8 496.3L313.3 499.2L313.6 502.1L313.8 505.0L313.9 507.9L313.9 510.8L313.8 513.7L313.6 516.6L313.2 519.5L312.8 522.4L312.8 522.4L312.2 525.3L311.4 528.2L310.5 531.1L309.9 532.6L309.3 534.0L307.7 536.9L307.0 538.0L305.2 539.9L304.1 540.9L301.2 542.3L298.3 542.3Z"/>
<path fill="#0030ff" d="M89.2 647.3L92.1 647.3L95.0 647.3L97.9 647.3L100.8 647.3L103.7 647.3L106.6 647.3L109.5 647.3L112.4 647.3L115.3 647.3L118.2 647.3L121.1 647.3L124.1 647.3L127.0 647.3L129.9 647.3L132.8 647.3L135.7 647.3L138.6 647.3L141.5 647.3L144.4 647.3L147.3 647.3L150.2 647.3L153.1 647.3L156.0 647.3L158.9 647.3L161.8 647.3L164.7 647.3L167.6 647.3L170.5 647.3L173.4 647.3L176.3 647.3L179.2 647.3L182.1 647.3L185.0 647.3L187.9 647.3L190.8 647.3L193.7 647.3L196.6 647.3L199.6 647.3L202.5 647.3L205.4 647.3L208.3 647.3L211.2 647.3L214.1 647.3L217.0 647.3L219.9 647.3L222.8 647.3L225.7 647.3L228.6 647.3L231.5 647.3L234.4 647.3L237.3 647.3L240.2 647.3L243.1 647.3L246.0 647.3L248.9 647.3L251.8 647.3L254.7 647.3L257.6 647.3L260.5 647.3L263.4 647.3L266.3 647.3L269.2 647.3L272.1 647.3L275.0 647.3L278.0 647.3L280.9 647.3L283.8 647.3L286.7 647.3L289.6 647.3L292.5 647.3L295.4 647.3L298.3 647.3L301.2 647.3L304.1 647.3L307.0 647.3L309.9 647.3L312.8 647.3L315.7 647.3L318.6 647.3L321.5 647.3L324.4 647.3L327.3 647.3L330.2 647.3L333.1 647.3L336.0 647.3L338.9 647.3L341.8 647.3L344.7 647.3L347.6 647.3L347.6 644.4L347.6 641.5L347.6 638.6L347.6 635.7L347.6 632.8L347.6 629.9L347.6 627.0L347.6 624.1L347.6 621.2L347.6 618.3L347.6 615.4L347.6 612.4L347.6 609.5L347.6 606.6L347.6 603.7L347.6 600.8L347.6 597.9L347.6 595.0L347.6 592.1L347.6 589.2L347.6 586.3L347.6 583.4L347.6 580.5L347.6 577.6L347.6 574.7L347.6 571.8L347.6 568.9L347.6 566.0L347.6 563.1L347.6 560.2L347.6 557.3L347.6 554.4L347.6 551.5L347.6 548.6L347.6 545.7L347.6 542.8L347.6 539.9L347.6 536.9L347.6 534.0L347.6 531.1L347.6 528.2L347.6 525.3L347.6 522.4L347.6 519.5L347.6 516.6L347.6 513.7L347.6 510.8L347.6 507.9L347.6 505.0L347.6 502.1L347.6 499.2L347.6 496.3L347.6 493.4L347.6 490.5L347.6 487.6L347.6 484.7L347.6 481.8L347.6 478.9L347.6 476.0L347.6 473.1L347.6 470.2L347.6 467.3L347.6 464.4L347.6 461.5L347.6 458.5L347.6 455.6L347.6 452.7L347.6 449.8L347.6 446.9L347.6 444.0L347.6 441.1L347.6 438.2L347.6 435.3L347.6 432.4L347.6 429.5L347.6 426.6L347.6 423.7L347.6 420.8L347.6 417.9L347.6 415.0L347.6 412.1L347.6 409.2L347.6 406.3L347.6 403.4L347.6 400.5L347.6 397.6L347.6 394.7L347.6 391.8L347.6 388.9L344.7 388.9L341.8 388.9L338.9 388.9L336.0 388.9L333.1 388.9L330.2 388.9L327.3 388.9L324.4 388.9L321.5 388.9L318.6 388.9L315.7 388.9L312.8 388.9L309.9 388.9L307.0 388.9L304.1 388.9L301.2 388.9L298.3 388.9L295.4 388.9L292.5 388.9L289.6 388.9L286.7 388.9L283.8 388.9L280.9 388.9L278.0 388.9L275.0 388.9L272.1 388.9L269.2 388.9L266.3 388.9L263.4 388.9L260.5 388.9L257.6 388.9L254.7 388.9L251.8 388.9L248.9 388.9L246.0 388.9L243.1 388.9L240.2 388.9L237.3 388.9L234.4 388.9L231.5 388.9L228.6 388.9L225.7 388.9L222.8 388.9L219.9 388.9L217.0 388.9L214.1 388.9L211.2 388.9L208.3 388.9L205.4 388.9L202.5 388.9L199.6 388.9L196.6 388.9L193.7 388.9L190.8 388.9L187.9 388.9L185.0 388.9L182.1 388.9L179.2 388.9L176.3 388.9L173.4 388.9L170.5 388.9L167.6 388.9L164.7 388.9L161.8 388.9L158.9 388.9L156.0 388.9L153.1 388.9L150.2 388.9L147.3 388.9L144.4 388.9L141.5 388.9L138.6 388.9L135.7 388.9L132.8 388.9L129.9 388.9L127.0 388.9L124.1 388.9L121.1 388.9L118.2 388.9L115.3 388.9L112.4 388.9L109.5 388.9L106.6 388.9L103.7 388.9L100.8 388.9L97.9 388.9L95.0 388.9L92.1 388.9L89.2 388.9L89.2 391.8L89.2 394.7L89.2 397.6L89.2 400.5L89.2 403.4L89.2 406.3L89.2 409.2L89.2 412.1L89.2 415.0L89.2 417.9L89.2 420.8L89.2 423.7L89.2 426.6L89.2 429.5L89.2 432.4L89.2 435.3L89.2 438.2L89.2 441.1L89.2 444.0L89.2 446.9L89.2 449.8L89.2 452.7L89.2 455.6L89.2 458.5L89.2 461.5L89.2 464.4L89.2 467.3L89.2 470.2L89.2 473.1L89.2 476.0L89.2 478.9L89.2 481.8L89.2 484.7L89.2 487.6L89.2 490.5L89.2 493.4L89.2 496.3L89.2 499.2L89.2 502.1L89.2 505.0L89.2 507.9L89.2 510.8L89.2 513.7L89.2 516.6L89.2 519.5L89.2 522.4L89.2 525.3L89.2 528.2L89.2 531.1L89.2 534.0L89.2 536.9L89.2 539.9L89.2 542.8L89.2 545.7L89.2 548.6L89.2 551.5L89.2 554.4L89.2 557.3L89.2 560.2L89.2 563.1L89.2 566.0L89.2 568.9L89.2 571.8L89.2 574.7L89.2 577.6L89.2 580.5L89.2 583.4L89.2 586.3L89.2 589.2L89.2 592.1L89.2 595.0L89.2 597.9L89.2 600.8L89.2 603.7L89.2 606.6L89.2 609.5L89.2 612.4L89.2 615.4L89.2 618.3L89.2 621.2L89.2 624.1L89.2 627.0L89.2 629.9L89.2 632.8L89.2 635.7L89.2 638.6L89.2 641.5L89.2 644.4ZM202.5 616.0L199.6 615.4L199.6 615.3L196.6 614.6L193.7 613.8L190.8 612.9L189.7 612.4L187.9 611.8L185.0 610.6L182.7 609.5L182.1 609.3L179.2 607.8L177.2 606.6L176.3 606.2L173.4 604.4L172.4 603.7L170.5 602.4L168.2 600.8L167.6 600.4L164.7 598.2L164.4 597.9L161.8 595.8L160.8 595.0L158.9 593.5L157.3 592.1L156.0 591.0L153.8 589.2L153.1 588.7L150.2 586.3L150.2 586.3L147.3 583.9L146.7 583.4L144.4 581.5L143.2 580.5L141.5 579.0L140.0 577.6L138.6 576.3L137.0 574.7L135.7 573.3L134.3 571.8L132.8 570.0L131.9 568.9L129.9 566.0L129.9 566.0L128.0 563.1L127.0 561.1L126.5 560.2L125.1 557.3L124.1 554.9L123.8 554.4L122.8 551.5L121.9 548.6L121.1 545.8L121.1 545.7L120.4 542.8L119.9 539.9L119.4 536.9L119.1 534.0L118.9 531.1L118.7 528.2L118.7 525.3L118.8 522.4L118.9 519.5L119.2 516.6L119.5 513.7L119.9 510.8L120.5 507.9L121.1 505.1L121.2 505.0L122.0 502.1L122.9 499.2L124.1 496.4L124.1 496.3L125.5 493.4L127.0 491.0L127.4 490.5L129.9 487.6L129.9 487.6L132.8 485.6L135.4 484.7L135.7 484.6L138.6 484.5L139.2 484.7L141.5 485.4L144.4 487.4L144.5 487.6L147.0 490.5L147.3 490.9L148.7 493.4L150.2 496.2L150.2 496.3L151.3 499.2L152.3 502.1L153.1 504.6L153.2 505.0L154.0 507.9L154.7 510.8L155.5 513.7L156.0 515.7L156.2 516.6L156.9 519.5L157.7 522.4L158.4 525.3L158.9 527.0L159.2 528.2L160.1 531.1L160.9 534.0L161.8 536.7L161.9 536.9L162.9 539.9L164.0 542.8L164.7 544.4L165.2 545.7L166.6 548.6L167.6 550.5L168.1 551.5L169.9 554.4L170.5 555.3L171.9 557.3L173.4 559.3L174.2 560.2L176.3 562.5L176.9 563.1L179.2 565.2L180.2 566.0L182.1 567.5L184.2 568.9L185.0 569.4L187.9 571.0L189.7 571.8L190.8 572.3L193.7 573.4L196.6 574.3L198.1 574.7L199.6 575.1L202.5 575.7L205.4 576.2L208.3 576.5L211.2 576.8L214.1 577.0L217.0 577.1L219.9 577.2L222.8 577.2L225.7 577.1L228.6 577.1L231.5 577.0L234.4 576.8L237.3 576.7L240.2 576.5L243.1 576.3L246.0 576.0L248.9 575.8L251.8 575.5L254.7 575.3L257.6 575.1L260.5 575.0L263.4 575.1L266.3 575.4L269.2 575.9L272.1 576.8L274.0 577.6L275.0 578.3L277.3 580.5L278.0 581.9L278.5 583.4L278.7 586.3L278.2 589.2L278.0 589.8L277.0 592.1L275.1 595.0L275.0 595.1L272.7 597.9L272.1 598.5L269.7 600.8L269.2 601.3L266.3 603.6L266.1 603.7L263.4 605.6L261.8 606.6L260.5 607.4L257.6 608.9L256.4 609.5L254.7 610.4L251.8 611.6L249.6 612.4L248.9 612.7L246.0 613.7L243.1 614.5L240.2 615.3L239.8 615.4L237.3 615.9L234.4 616.5L231.5 616.9L228.6 617.2L225.7 617.4L222.8 617.6L219.9 617.6L217.0 617.6L214.1 617.5L211.2 617.2L208.3 616.9L205.4 616.5ZM295.4 549.3L294.5 548.6L292.5 547.0L291.4 545.7L289.6 543.3L289.3 542.8L287.7 539.9L286.7 537.7L286.4 536.9L285.4 534.0L284.5 531.1L283.8 529.0L283.6 528.2L282.8 525.3L282.0 522.4L281.3 519.5L280.9 518.1L280.5 516.6L279.8 513.7L279.0 510.8L278.2 507.9L278.0 507.2L277.3 505.0L276.5 502.1L275.5 499.2L275.0 497.9L274.5 496.3L273.4 493.4L272.2 490.5L272.1 490.4L270.9 487.6L269.3 484.7L269.2 484.5L267.7 481.8L266.3 479.8L265.7 478.9L263.5 476.0L263.4 475.9L260.9 473.1L260.5 472.7L257.7 470.2L257.6 470.1L254.7 467.8L253.9 467.3L251.8 465.9L248.9 464.4L248.8 464.4L246.0 463.1L243.1 462.0L241.3 461.5L240.2 461.1L237.3 460.4L234.4 459.8L231.5 459.4L228.6 459.0L225.7 458.8L222.8 458.6L221.1 458.5L219.9 458.5L217.0 458.4L214.1 458.4L211.2 458.4L208.3 458.5L207.2 458.5L205.4 458.6L202.5 458.7L199.6 458.9L196.6 459.0L193.7 459.2L190.8 459.4L187.9 459.6L185.0 459.8L182.1 460.0L179.2 460.0L176.3 460.0L173.4 459.8L170.5 459.4L167.6 458.7L167.0 458.5L164.7 457.5L161.9 455.6L161.8 455.5L160.0 452.7L159.3 449.8L159.6 446.9L160.6 444.0L161.8 441.8L162.2 441.1L164.4 438.2L164.7 437.9L167.3 435.3L167.6 435.1L170.5 432.7L170.8 432.4L173.4 430.6L175.2 429.5L176.3 428.8L179.2 427.2L180.5 426.6L182.1 425.8L185.0 424.6L187.3 423.7L187.9 423.4L190.8 422.5L193.7 421.6L196.6 420.9L197.0 420.8L199.6 420.2L202.5 419.7L205.4 419.3L208.3 418.9L211.2 418.7L214.1 418.6L217.0 418.5L219.9 418.6L222.8 418.7L225.7 418.9L228.6 419.2L231.5 419.7L234.4 420.2L237.2 420.8L237.3 420.8L240.2 421.5L243.1 422.3L246.0 423.3L247.1 423.7L248.9 424.4L251.8 425.6L254.1 426.6L254.7 426.9L257.6 428.4L259.7 429.5L260.5 430.0L263.4 431.8L264.4 432.4L266.3 433.7L268.6 435.3L269.2 435.8L272.1 438.0L272.4 438.2L275.0 440.3L276.0 441.1L278.0 442.7L279.6 444.0L280.9 445.1L283.1 446.9L283.8 447.5L286.6 449.8L286.7 449.9L289.6 452.2L290.2 452.7L292.5 454.7L293.6 455.6L295.4 457.2L296.9 458.5L298.3 459.8L299.9 461.5L301.2 462.8L302.5 464.4L304.1 466.2L304.9 467.3L307.0 470.2L307.0 470.2L308.8 473.1L309.9 475.0L310.4 476.0L311.8 478.9L312.8 481.3L313.0 481.8L314.1 484.7L315.0 487.6L315.7 490.3L315.7 490.5L316.4 493.4L317.0 496.3L317.4 499.2L317.7 502.1L318.0 505.0L318.1 507.9L318.1 510.8L318.1 513.7L317.9 516.6L317.7 519.5L317.3 522.4L316.9 525.3L316.3 528.2L315.7 530.9L315.6 531.1L314.8 534.0L313.8 536.9L312.8 539.4L312.6 539.9L311.0 542.8L309.9 544.5L308.9 545.7L307.0 547.7L305.7 548.6L304.1 549.5L301.2 550.4L298.3 550.3Z"/>
<path fill="#0050ff" d="M89.2 647.3L92.1 647.3L95.0 647.3L97.9 647.3L100.8 647.3L103.7 647.3L106.6 647.3L109.5 647.3L112.4 647.3L115.3 647.3L118.2 647.3L121.1 647.3L124.1 647.3L127.0 647.3L129.9 647.3L132.8 647.3L135.7 647.3L138.6 647.3L141.5 647.3L144.4 647.3L147.3 647.3L150.2 647.3L153.1 647.3L156.0 647.3L158.9 647.3L161.8 647.3L164.7 647.3L167.6 647.3L170.5 647.3L173.4 647.3L176.3 647.3L179.2 647.3L182.1 647.3L185.0 647.3L187.9 647.3L190.8 647.3L193.7 647.3L196.6 647.3L199.6 647.3L202.5 647.3L205.4 647.3L208.3 647.3L211.2 647.3L214.1 647.3L217.0 647.3L219.9 647.3L222.8 647.3L225.7 647.3L228.6 647.3L231.5 647.3L234.4 647.3L237.3 647.3L240.2 647.3L243.1 647.3L246.0 647.3L248.9 647.3L251.8 647.3L254.7 647.3L257.6 647.3L260.5 647.3L263.4 647.3L266.3 647.3L269.2 647.3L272.1 647.3L275.0 647.3L278.0 647.3L280.9 647.3L283.8 647.3L286.7 647.3L289.6 647.3L292.5 647.3L295.4 647.3L298.3 647.3L301.2 647.3L304.1 647.3L307.0 647.3L309.9 647.3L312.8 647.3L315.7 647.3L318.6 647.3L321.5 647.3L324.4 647.3L327.3 647.3L330.2 647.3L333.1 647.3L336.0 647.3L338.9 647.3L341.8 647.3L344.7 647.3L347.6 647.3L347.6 644.4L347.6 641.5L347.6 638.6L347.6 635.7L347.6 632.8L347.6 629.9L347.6 627.0L347.6 624.1L347.6 621.2L347.6 618.3L347.6 615.4L347.6 612.4L347.6 609.5L347.6 606.6L347.6 603.7L347.6 600.8L347.6 597.9L347.6 595.0L347.6 592.1L347.6 589.2L347.6 586.3L347.6 583.4L347.6 580.5L347.6 577.6L347.6 574.7L347.6 571.8L347.6 568.9L347.6 566.0L347.6 563.1L347.6 560.2L347.6 557.3L347.6 554.4L347.6 551.5L347.6 548.6L347.6 545.7L347.6 542.8L347.6 539.9L347.6 536.9L347.6 534.0L347.6 531.1L347.6 528.2L347.6 525.3L347.6 522.4L347.6 519.5L347.6 516.6L347.6 513.7L347.6 510.8L347.6 507.9L347.6 505.0L347.6 502.1L347.6 499.2L347.6 496.3L347.6 493.4L347.6 490.5L347.6 487.6L347.6 484.7L347.6 481.8L347.6 478.9L347.6 476.0L347.6 473.1L347.6 470.2L347.6 467.3L347.6 464.4L347.6 461.5L347.6 458.5L347.6 455.6L347.6 452.7L347.6 449.8L347.6 446.9L347.6 444.0L347.6 441.1L347.6 438.2L347.6 435.3L347.6 432.4L347.6 429.5L347.6 426.6L347.6 423.7L347.6 420.8L347.6 417.9L347.6 415.0L347.6 412.1L347.6 409.2L347.6 406.3L347.6 403.4L347.6 400.5L347.6 397.6L347.6 394.7L347.6 391.8L347.6 388.9L344.7 388.9L341.8 388.9L338.9 388.9L336.0 388.9L333.1 388.9L330.2 388.9L327.3 388.9L324.4 388.9L321.5 388.9L318.6 388.9L315.7 388.9L312.8 388.9L309.9 388.9L307.0 388.9L304.1 388.9L301.2 388.9L298.3 388.9L295.4 388.9L292.5 388.9L289.6 388.9L286.7 388.9L283.8 388.9L280.9 388.9L278.0 388.9L275.0 388.9L272.1 388.9L269.2 388.9L266.3 388.9L263.4 388.9L260.5 388.9L257.6 388.9L254.7 388.9L251.8 388.9L248.9 388.9L246.0 388.9L243.1 388.9L240.2 388.9L237.3 388.9L234.4 388.9L231.5 388.9L228.6 388.9L225.7 388.9L222.8 388.9L219.9 388.9L217.0 388.9L214.1 388.9L211.2 388.9L208.3 388.9L205.4 388.9L202.5 388.9L199.6 388.9L196.6 388.9L193.7 388.9L190.8 388.9L187.9 388.9L185.0 388.9L182.1 388.9L179.2 388.9L176.3 388.9L173.4 388.9L170.5 388.9L167.6 388.9L164.7 388.9L161.8 388.9L158.9 388.9L156.0 388.9L153.1 388.9L150.2 388.9L147.3 388.9L144.4 388.9L141.5 388.9L138.6 388.9L135.7 388.9L132.8 388.9L129.9 388.9L127.0 388.9L124.1 388.9L121.1 388.9L118.2 388.9L115.3 388.9L112.4 388.9L109.5 388.9L106.6 388.9L103.7 388.9L100.8 388.9L97.9 388.9L95.0 388.9L92.1 388.9L89.2 388.9L89.2 391.8L89.2 394.7L89.2 397.6L89.2 400.5L89.2 403.4L89.2 406.3L89.2 409.2L89.2 412.1L89.2 415.0L89.2 417.9L89.2 420.8L89.2 423.7L89.2 426.6L89.2 429.5L89.2 432.4L89.2 435.3L89.2 438.2L89.2 441.1L89.2 444.0L89.2 446.9L89.2 449.8L89.2 452.7L89.2 455.6L89.2 458.5L89.2 461.5L89.2 464.4L89.2 467.3L89.2 470.2L89.2 473.1L89.2 476.0L89.2 478.9L89.2 481.8L89.2 484.7L89.2 487.6L89.2 490.5L89.2 493.4L89.2 496.3L89.2 499.2L89.2 502.1L89.2 505.0L89.2 507.9L89.2 510.8L89.2 513.7L89.2 516.6L89.2 519.5L89.2 522.4L89.2 525.3L89.2 528.2L89.2 531.1L89.2 534.0L89.2 536.9L89.2 539.9L89.2 542.8L89.2 545.7L89.2 548.6L89.2 551.5L89.2 554.4L89.2 557.3L89.2 560.2L89.2 563.1L89.2 566.0L89.2 568.9L89.2 571.8L89.2 574.7L89.2 577.6L89.2 580.5L89.2 583.4L89.2 586.3L89.2 589.2L89.2 592.1L89.2 595.0L89.2 597.9L89.2 600.8L89.2 603.7L89.2 606.6L89.2 609.5L89.2 612.4L89.2 615.4L89.2 618.3L89.2 621.2L89.2 624.1L89.2 627.0L89.2 629.9L89.2 632.8L89.2 635.7L89.2 638.6L89.2 641.5L89.2 644.4ZM205.4 621.2L205.0 621.2L202.5 620.8L199.6 620.2L196.6 619.6L193.7 618.9L191.7 618.3L190.8 618.0L187.9 617.1L185.0 616.0L183.3 615.4L182.1 614.9L179.2 613.6L176.9 612.4L176.3 612.2L173.4 610.6L171.6 609.5L170.5 608.9L167.6 607.1L166.9 606.6L164.7 605.1L162.8 603.7L161.8 603.0L159.0 600.8L158.9 600.8L156.0 598.5L155.3 597.9L153.1 596.1L151.7 595.0L150.2 593.7L148.3 592.1L147.3 591.3L144.8 589.2L144.4 588.8L141.5 586.3L141.5 586.3L138.6 583.7L138.3 583.4L135.7 580.9L135.3 580.5L132.8 577.8L132.6 577.6L130.1 574.7L129.9 574.4L127.9 571.8L127.0 570.4L126.0 568.9L124.2 566.0L124.1 565.7L122.7 563.1L121.3 560.2L121.1 559.8L120.1 557.3L119.0 554.4L118.2 552.1L118.0 551.5L117.2 548.6L116.5 545.7L115.9 542.8L115.4 539.9L115.3 539.7L114.9 536.9L114.6 534.0L114.3 531.1L114.2 528.2L114.1 525.3L114.1 522.4L114.2 519.5L114.4 516.6L114.7 513.7L115.0 510.8L115.3 509.0L115.5 507.9L116.1 505.0L116.7 502.1L117.5 499.2L118.2 496.8L118.4 496.3L119.5 493.4L120.7 490.5L121.1 489.6L122.2 487.6L124.0 484.7L124.1 484.7L126.5 481.8L127.0 481.2L129.8 478.9L129.9 478.9L132.8 477.2L135.7 476.2L137.7 476.0L138.6 475.8L140.2 476.0L141.5 476.1L144.4 477.3L146.1 478.9L147.3 480.1L148.3 481.8L149.9 484.7L150.2 485.2L151.1 487.6L152.2 490.5L153.1 493.1L153.2 493.4L153.9 496.3L154.6 499.2L155.3 502.1L156.0 505.0L156.0 505.2L156.6 507.9L157.2 510.8L157.9 513.7L158.6 516.6L158.9 517.9L159.3 519.5L160.0 522.4L160.8 525.3L161.6 528.2L161.8 529.0L162.4 531.1L163.4 534.0L164.4 536.9L164.7 537.8L165.5 539.9L166.7 542.8L167.6 544.7L168.1 545.7L169.6 548.6L170.5 550.2L171.3 551.5L173.2 554.4L173.4 554.6L175.5 557.3L176.3 558.3L178.1 560.2L179.2 561.3L181.1 563.1L182.1 563.9L184.9 566.0L185.0 566.1L187.9 567.9L189.7 568.9L190.8 569.5L193.7 570.7L196.6 571.8L196.7 571.8L199.6 572.7L202.5 573.3L205.4 573.9L208.3 574.3L211.2 574.6L212.0 574.7L214.1 574.9L217.0 575.0L219.9 575.1L222.8 575.1L225.7 575.1L228.6 575.0L231.5 574.8L233.5 574.7L234.4 574.6L237.3 574.4L240.2 574.1L243.1 573.8L246.0 573.5L248.9 573.1L251.8 572.7L254.7 572.2L257.5 571.8L257.6 571.8L260.5 571.3L263.4 571.0L266.3 570.6L269.2 570.4L272.1 570.4L275.0 570.5L278.0 570.7L280.9 571.4L281.7 571.8L283.8 573.1L285.2 574.7L286.7 577.6L286.7 577.6L287.2 580.5L287.3 583.4L286.9 586.3L286.7 586.9L286.0 589.2L284.6 592.1L283.8 593.6L282.9 595.0L280.9 597.7L280.6 597.9L278.0 600.8L278.0 600.8L275.0 603.5L274.8 603.7L272.1 605.9L271.1 606.6L269.2 608.0L266.8 609.5L266.3 609.9L263.4 611.6L261.7 612.4L260.5 613.1L257.6 614.4L255.4 615.4L254.7 615.7L251.8 616.8L248.9 617.7L247.1 618.3L246.0 618.6L243.1 619.4L240.2 620.1L237.3 620.6L234.4 621.1L233.8 621.2L231.5 621.5L228.6 621.8L225.7 622.0L222.8 622.2L219.9 622.2L217.0 622.2L214.1 622.1L211.2 621.9L208.3 621.6ZM292.5 557.4L292.4 557.3L289.8 554.4L289.6 554.1L288.1 551.5L286.7 548.6L286.7 548.5L285.6 545.7L284.6 542.8L283.8 540.0L283.7 539.9L283.0 536.9L282.3 534.0L281.6 531.1L280.9 528.2L280.9 527.9L280.3 525.3L279.6 522.4L278.9 519.5L278.2 516.6L278.0 515.8L277.4 513.7L276.7 510.8L275.8 507.9L275.0 505.3L275.0 505.0L274.1 502.1L273.1 499.2L272.1 496.8L272.0 496.3L270.8 493.4L269.4 490.5L269.2 490.1L268.0 487.6L266.3 484.8L266.3 484.7L264.4 481.8L263.4 480.4L262.2 478.9L260.5 476.9L259.7 476.0L257.6 473.9L256.8 473.1L254.7 471.3L253.2 470.2L251.8 469.2L248.9 467.4L248.6 467.3L246.0 465.9L243.1 464.7L242.2 464.4L240.2 463.6L237.3 462.8L234.4 462.1L231.5 461.6L230.3 461.5L228.6 461.2L225.7 460.9L222.8 460.7L219.9 460.5L217.0 460.5L214.1 460.5L211.2 460.5L208.3 460.6L205.4 460.7L202.5 460.9L199.6 461.1L196.6 461.3L195.6 461.5L193.7 461.6L190.8 461.9L187.9 462.3L185.0 462.6L182.1 463.0L179.2 463.4L176.3 463.8L173.4 464.1L170.5 464.3L169.8 464.4L167.6 464.4L164.7 464.4L164.5 464.4L161.8 464.2L158.9 463.6L156.0 462.6L154.3 461.5L153.1 460.2L152.0 458.5L151.1 455.6L150.7 452.7L151.0 449.8L151.6 446.9L152.8 444.0L153.1 443.5L154.4 441.1L156.0 438.9L156.5 438.2L158.9 435.5L159.1 435.3L161.8 432.7L162.2 432.4L164.7 430.3L165.8 429.5L167.6 428.2L170.0 426.6L170.5 426.3L173.4 424.6L175.1 423.7L176.3 423.1L179.2 421.7L181.4 420.8L182.1 420.5L185.0 419.4L187.9 418.4L189.7 417.9L190.8 417.5L193.7 416.8L196.6 416.1L199.6 415.5L202.5 415.1L203.0 415.0L205.4 414.7L208.3 414.3L211.2 414.1L214.1 414.0L217.0 413.9L219.9 413.9L222.8 414.1L225.7 414.3L228.6 414.6L231.5 414.9L231.8 415.0L234.4 415.4L237.3 415.9L240.2 416.5L243.1 417.3L245.2 417.9L246.0 418.1L248.9 419.1L251.8 420.1L253.5 420.8L254.7 421.3L257.6 422.6L260.0 423.7L260.5 424.0L263.4 425.5L265.3 426.6L266.3 427.2L269.2 429.1L269.9 429.5L272.1 431.0L274.1 432.4L275.0 433.1L277.9 435.3L278.0 435.4L280.9 437.7L281.6 438.2L283.8 440.0L285.1 441.1L286.7 442.4L288.6 444.0L289.6 444.8L292.0 446.9L292.5 447.3L295.4 449.8L295.4 449.8L298.3 452.5L298.6 452.7L301.2 455.3L301.5 455.6L304.1 458.3L304.3 458.5L306.7 461.5L307.0 461.8L308.9 464.4L309.9 465.8L310.9 467.3L312.6 470.2L312.8 470.5L314.2 473.1L315.5 476.0L315.7 476.3L316.8 478.9L317.9 481.8L318.6 484.1L318.8 484.7L319.7 487.6L320.4 490.5L321.0 493.4L321.5 496.3L321.5 496.4L321.9 499.2L322.3 502.1L322.5 505.0L322.7 507.9L322.8 510.8L322.8 513.7L322.7 516.6L322.5 519.5L322.2 522.4L321.8 525.3L321.5 527.1L321.3 528.2L320.8 531.1L320.1 534.0L319.3 536.9L318.6 539.1L318.4 539.9L317.3 542.8L316.0 545.7L315.7 546.2L314.4 548.6L312.8 550.9L312.3 551.5L309.9 554.2L309.6 554.4L307.0 556.4L305.4 557.3L304.1 558.0L301.2 558.9L298.3 559.2L295.4 558.9Z"/>
<path fill="#0070ff" d="M89.2 647.3L92.1 647.3L95.0 647.3L97.9 647.3L100.8 647.3L103.7 647.3L106.6 647.3L109.5 647.3L112.4 647.3L115.3 647.3L118.2 647.3L121.1 647.3L124.1 647.3L127.0 647.3L129.9 647.3L132.8 647.3L135.7 647.3L138.6 647.3L141.5 647.3L144.4 647.3L147.3 647.3L150.2 647.3L153.1 647.3L156.0 647.3L158.9 647.3L161.8 647.3L164.7 647.3L167.6 647.3L170.5 647.3L173.4 647.3L176.3 647.3L179.2 647.3L182.1 647.3L185.0 647.3L187.9 647.3L190.8 647.3L193.7 647.3L196.6 647.3L199.6 647.3L202.5 647.3L205.4 647.3L208.3 647.3L211.2 647.3L214.1 647.3L217.0 647.3L219.9 647.3L222.8 647.3L225.7 647.3L228.6 647.3L231.5 647.3L234.4 647.3L237.3 647.3L240.2 647.3L243.1 647.3L246.0 647.3L248.9 647.3L251.8 647.3L254.7 647.3L257.6 647.3L260.5 647.3L263.4 647.3L266.3 647.3L269.2 647.3L272.1 647.3L275.0 647.3L278.0 647.3L280.9 647.3L283.8 647.3L286.7 647.3L289.6 647.3L292.5 647.3L295.4 647.3L298.3 647.3L301.2 647.3L304.1 647.3L307.0 647.3L309.9 647.3L312.8 647.3L315.7 647.3L318.6 647.3L321.5 647.3L324.4 647.3L327.3 647.3L330.2 647.3L333.1 647.3L336.0 647.3L338.9 647.3L341.8 647.3L344.7 647.3L347.6 647.3L347.6 644.4L347.6 641.5L347.6 638.6L347.6 635.7L347.6 632.8L347.6 629.9L347.6 627.0L347.6 624.1L347.6 621.2L347.6 618.3L347.6 615.4L347.6 612.4L347.6 609.5L347.6 606.6L347.6 603.7L347.6 600.8L347.6 597.9L347.6 595.0L347.6 592.1L347.6 589.2L347.6 586.3L347.6 583.4L347.6 580.5L347.6 577.6L347.6 574.7L347.6 571.8L347.6 568.9L347.6 566.0L347.6 563.1L347.6 560.2L347.6 557.3L347.6 554.4L347.6 551.5L347.6 548.6L347.6 545.7L347.6 542.8L347.6 539.9L347.6 536.9L347.6 534.0L347.6 531.1L347.6 528.2L347.6 525.3L347.6 522.4L347.6 519.5L347.6 516.6L347.6 513.7L347.6 510.8L347.6 507.9L347.6 505.0L347.6 502.1L347.6 499.2L347.6 496.3L347.6 493.4L347.6 490.5L347.6 487.6L347.6 484.7L347.6 481.8L347.6 478.9L347.6 476.0L347.6 473.1L347.6 470.2L347.6 467.3L347.6 464.4L347.6 461.5L347.6 458.5L347.6 455.6L347.6 452.7L347.6 449.8L347.6 446.9L347.6 444.0L347.6 441.1L347.6 438.2L347.6 435.3L347.6 432.4L347.6 429.5L347.6 426.6L347.6 423.7L347.6 420.8L347.6 417.9L347.6 415.0L347.6 412.1L347.6 409.2L347.6 406.3L347.6 403.4L347.6 400.5L347.6 397.6L347.6 394.7L347.6 391.8L347.6 388.9L344.7 388.9L341.8 388.9L338.9 388.9L336.0 388.9L333.1 388.9L330.2 388.9L327.3 388.9L324.4 388.9L321.5 388.9L318.6 388.9L315.7 388.9L312.8 388.9L309.9 388.9L307.0 388.9L304.1 388.9L301.2 388.9L298.3 388.9L295.4 388.9L292.5 388.9L289.6 388.9L286.7 388.9L283.8 388.9L280.9 388.9L278.0 388.9L275.0 388.9L272.1 388.9L269.2 388.9L266.3 388.9L263.4 388.9L260.5 388.9L257.6 388.9L254.7 388.9L251.8 388.9L248.9 388.9L246.0 388.9L243.1 388.9L240.2 388.9L237.3 388.9L234.4 388.9L231.5 388.9L228.6 388.9L225.7 388.9L222.8 388.9L219.9 388.9L217.0 388.9L214.1 388.9L211.2 388.9L208.3 388.9L205.4 388.9L202.5 388.9L199.6 388.9L196.6 388.9L193.7 388.9L190.8 388.9L187.9 388.9L185.0 388.9L182.1 388.9L179.2 388.9L176.3 388.9L173.4 388.9L170.5 388.9L167.6 388.9L164.7 388.9L161.8 388.9L158.9 388.9L156.0 388.9L153.1 388.9L150.2 388.9L147.3 388.9L144.4 388.9L141.5 388.9L138.6 388.9L135.7 388.9L132.8 388.9L129.9 388.9L127.0 388.9L124.1 388.9L121.1 388.9L118.2 388.9L115.3 388.9L112.4 388.9L109.5 388.9L106.6 388.9L103.7 388.9L100.8 388.9L97.9 388.9L95.0 388.9L92.1 388.9L89.2 388.9L89.2 391.8L89.2 394.7L89.2 397.6L89.2 400.5L89.2 403.4L89.2 406.3L89.2 409.2L89.2 412.1L89.2 415.0L89.2 417.9L89.2 420.8L89.2 423.7L89.2 426.6L89.2 429.5L89.2 432.4L89.2 435.3L89.2 438.2L89.2 441.1L89.2 444.0L89.2 446.9L89.2 449.8L89.2 452.7L89.2 455.6L89.2 458.5L89.2 461.5L89.2 464.4L89.2 467.3L89.2 470.2L89.2 473.1L89.2 476.0L89.2 478.9L89.2 481.8L89.2 484.7L89.2 487.6L89.2 490.5L89.2 493.4L89.2 496.3L89.2 499.2L89.2 502.1L89.2 505.0L89.2 507.9L89.2 510.8L89.2 513.7L89.2 516.6L89.2 519.5L89.2 522.4L89.2 525.3L89.2 528.2L89.2 531.1L89.2 534.0L89.2 536.9L89.2 539.9L89.2 542.8L89.2 545.7L89.2 548.6L89.2 551.5L89.2 554.4L89.2 557.3L89.2 560.2L89.2 563.1L89.2 566.0L89.2 568.9L89.2 571.8L89.2 574.7L89.2 577.6L89.2 580.5L89.2 583.4L89.2 586.3L89.2 589.2L89.2 592.1L89.2 595.0L89.2 597.9L89.2 600.8L89.2 603.7L89.2 606.6L89.2 609.5L89.2 612.4L89.2 615.4L89.2 618.3L89.2 621.2L89.2 624.1L89.2 627.0L89.2 629.9L89.2 632.8L89.2 635.7L89.2 638.6L89.2 641.5L89.2 644.4ZM205.4 627.0L205.2 627.0L202.5 626.6L199.6 626.1L196.6 625.6L193.7 624.9L190.8 624.1L190.6 624.1L187.9 623.3L185.0 622.4L182.1 621.3L181.8 621.2L179.2 620.2L176.3 618.9L175.0 618.3L173.4 617.5L170.5 616.0L169.4 615.4L167.6 614.3L164.7 612.5L164.6 612.4L161.8 610.6L160.4 609.5L158.9 608.5L156.4 606.6L156.0 606.3L153.1 604.0L152.7 603.7L150.2 601.7L149.2 600.8L147.3 599.3L145.7 597.9L144.4 596.8L142.3 595.0L141.5 594.3L139.1 592.1L138.6 591.7L135.9 589.2L135.7 589.0L132.9 586.3L132.8 586.1L130.2 583.4L129.9 583.1L127.6 580.5L127.0 579.7L125.3 577.6L124.1 575.9L123.2 574.7L121.3 571.8L121.1 571.5L119.6 568.9L118.2 566.3L118.1 566.0L116.6 563.1L115.4 560.2L115.3 559.9L114.3 557.3L113.3 554.4L112.5 551.5L112.4 551.4L111.6 548.6L110.9 545.7L110.3 542.8L109.9 539.9L109.5 537.5L109.5 536.9L109.1 534.0L108.8 531.1L108.6 528.2L108.5 525.3L108.5 522.4L108.6 519.5L108.7 516.6L109.0 513.7L109.3 510.8L109.5 509.4L109.7 507.9L110.2 505.0L110.8 502.1L111.5 499.2L112.4 496.3L112.4 496.0L113.2 493.4L114.3 490.5L115.3 488.0L115.5 487.6L116.9 484.7L118.2 482.2L118.5 481.8L120.4 478.9L121.1 477.8L122.7 476.0L124.1 474.5L125.7 473.1L127.0 471.9L129.3 470.2L129.9 469.7L132.8 467.7L133.5 467.3L135.7 465.5L137.1 464.4L138.6 462.4L139.2 461.5L140.5 458.5L141.3 455.6L141.5 455.0L142.0 452.7L142.8 449.8L143.8 446.9L144.4 445.7L145.1 444.0L146.7 441.1L147.3 440.2L148.6 438.2L150.2 436.2L150.9 435.3L153.1 432.8L153.5 432.4L156.0 430.0L156.5 429.5L158.9 427.4L159.9 426.6L161.8 425.1L163.8 423.7L164.7 423.1L167.6 421.2L168.4 420.8L170.5 419.5L173.4 418.1L173.8 417.9L176.3 416.7L179.2 415.5L180.5 415.0L182.1 414.3L185.0 413.3L187.9 412.5L189.3 412.1L190.8 411.6L193.7 410.9L196.6 410.3L199.6 409.8L202.5 409.4L203.9 409.2L205.4 409.0L208.3 408.7L211.2 408.5L214.1 408.3L217.0 408.3L219.9 408.3L222.8 408.4L225.7 408.5L228.6 408.8L231.5 409.2L231.7 409.2L234.4 409.5L237.3 410.0L240.2 410.6L243.1 411.2L246.0 412.0L246.2 412.1L248.9 412.8L251.8 413.8L254.7 414.8L255.1 415.0L257.6 416.0L260.5 417.3L261.8 417.9L263.4 418.7L266.3 420.2L267.4 420.8L269.2 421.8L272.1 423.7L272.2 423.7L275.0 425.6L276.5 426.6L278.0 427.6L280.4 429.5L280.9 429.8L283.8 432.1L284.1 432.4L286.7 434.5L287.7 435.3L289.6 436.9L291.1 438.2L292.5 439.4L294.5 441.1L295.4 441.9L297.8 444.0L298.3 444.5L300.9 446.9L301.2 447.2L303.9 449.8L304.1 450.0L306.7 452.7L307.0 453.1L309.2 455.6L309.9 456.5L311.6 458.5L312.8 460.2L313.7 461.5L315.5 464.4L315.7 464.6L317.3 467.3L318.6 469.8L318.8 470.2L320.2 473.1L321.4 476.0L321.5 476.2L322.6 478.9L323.5 481.8L324.4 484.7L324.4 484.8L325.2 487.6L325.9 490.5L326.5 493.4L327.0 496.3L327.3 498.7L327.4 499.2L327.8 502.1L328.0 505.0L328.2 507.9L328.3 510.8L328.3 513.7L328.3 516.6L328.1 519.5L327.9 522.4L327.5 525.3L327.3 526.7L327.1 528.2L326.6 531.1L326.0 534.0L325.3 536.9L324.5 539.9L324.4 540.1L323.6 542.8L322.5 545.7L321.5 548.0L321.3 548.6L319.8 551.5L318.6 553.6L318.1 554.4L316.1 557.3L315.7 557.8L313.6 560.2L312.8 561.0L310.4 563.1L309.9 563.5L307.0 565.7L306.6 566.0L304.1 567.9L302.7 568.9L301.2 570.4L299.9 571.8L298.3 574.5L298.2 574.7L297.2 577.6L296.4 580.5L295.6 583.4L295.4 584.2L294.7 586.3L293.6 589.2L292.5 591.6L292.2 592.1L290.5 595.0L289.6 596.5L288.5 597.9L286.7 600.2L286.2 600.8L283.8 603.4L283.5 603.7L280.9 606.3L280.4 606.6L278.0 608.8L277.0 609.5L275.0 611.0L273.0 612.4L272.1 613.1L269.2 614.9L268.5 615.4L266.3 616.6L263.4 618.1L263.1 618.3L260.5 619.5L257.6 620.7L256.4 621.2L254.7 621.8L251.8 622.8L248.9 623.7L247.5 624.1L246.0 624.5L243.1 625.2L240.2 625.8L237.3 626.4L234.4 626.8L232.9 627.0L231.5 627.2L228.6 627.5L225.7 627.7L222.8 627.8L219.9 627.9L217.0 627.9L214.1 627.8L211.2 627.6L208.3 627.3ZM205.9 571.8L208.3 572.2L211.2 572.6L214.1 572.8L217.0 573.0L219.9 573.1L222.8 573.1L225.7 573.0L228.6 572.9L231.5 572.8L234.4 572.5L237.3 572.3L240.2 571.9L241.1 571.8L243.1 571.5L246.0 571.1L248.9 570.6L251.8 570.0L254.7 569.4L257.2 568.9L257.6 568.8L260.5 568.1L263.4 567.3L266.3 566.5L268.3 566.0L269.2 565.7L272.1 564.7L275.0 563.6L276.3 563.1L278.0 562.0L280.0 560.2L280.9 558.6L281.4 557.3L281.9 554.4L281.9 551.5L281.7 548.6L281.3 545.7L280.9 542.8L280.9 542.2L280.5 539.9L280.1 536.9L279.6 534.0L279.1 531.1L278.5 528.2L278.0 525.4L277.9 525.3L277.3 522.4L276.7 519.5L276.0 516.6L275.2 513.7L275.0 513.0L274.4 510.8L273.6 507.9L272.7 505.0L272.1 503.3L271.7 502.1L270.7 499.2L269.5 496.3L269.2 495.7L268.2 493.4L266.8 490.5L266.3 489.7L265.2 487.6L263.4 484.8L263.4 484.7L261.3 481.8L260.5 480.8L258.9 478.9L257.6 477.5L256.1 476.0L254.7 474.7L252.8 473.1L251.8 472.3L248.9 470.3L248.7 470.2L246.0 468.6L243.2 467.3L243.1 467.2L240.2 466.1L237.3 465.1L234.4 464.4L234.2 464.4L231.5 463.8L228.6 463.3L225.7 463.0L222.8 462.7L219.9 462.6L217.0 462.5L214.1 462.5L211.2 462.5L208.3 462.6L205.4 462.8L202.5 463.0L199.6 463.2L196.6 463.5L193.7 463.9L190.8 464.3L190.5 464.4L187.9 464.7L185.0 465.3L182.1 465.8L179.2 466.4L176.3 467.1L175.7 467.3L173.4 467.8L170.5 468.6L167.6 469.4L165.0 470.2L164.7 470.3L161.8 471.4L158.9 473.0L158.8 473.1L156.4 476.0L156.0 477.4L155.6 478.9L155.5 481.8L155.6 484.7L155.9 487.6L156.0 488.4L156.2 490.5L156.6 493.4L157.0 496.3L157.4 499.2L157.9 502.1L158.4 505.0L158.9 507.5L159.0 507.9L159.5 510.8L160.1 513.7L160.8 516.6L161.5 519.5L161.8 520.7L162.2 522.4L163.0 525.3L163.8 528.2L164.7 531.0L164.8 531.1L165.7 534.0L166.8 536.9L167.6 538.9L168.0 539.9L169.3 542.8L170.5 545.2L170.8 545.7L172.4 548.6L173.4 550.2L174.3 551.5L176.3 554.3L176.4 554.4L178.9 557.3L179.2 557.7L181.7 560.2L182.1 560.5L185.0 562.9L185.2 563.1L187.9 565.0L189.6 566.0L190.8 566.7L193.7 568.1L195.6 568.9L196.6 569.3L199.6 570.3L202.5 571.1L205.4 571.7Z"/>
<path fill="#008fff" d="M89.2 647.3L92.1 647.3L95.0 647.3L97.9 647.3L100.8 647.3L103.7 647.3L106.6 647.3L109.5 647.3L112.4 647.3L115.3 647.3L118.2 647.3L121.1 647.3L124.1 647.3L127.0 647.3L129.9 647.3L132.8 647.3L135.7 647.3L138.6 647.3L141.5 647.3L144.4 647.3L147.3 647.3L150.2 647.3L153.1 647.3L156.0 647.3L158.9 647.3L161.8 647.3L164.7 647.3L167.6 647.3L170.5 647.3L173.4 647.3L176.3 647.3L179.2 647.3L182.1 647.3L185.0 647.3L187.9 647.3L190.8 647.3L193.7 647.3L196.6 647.3L199.6 647.3L202.5 647.3L205.4 647.3L208.3 647.3L211.2 647.3L214.1 647.3L217.0 647.3L219.9 647.3L222.8 647.3L225.7 647.3L228.6 647.3L231.5 647.3L234.4 647.3L237.3 647.3L240.2 647.3L243.1 647.3L246.0 647.3L248.9 647.3L251.8 647.3L254.7 647.3L257.6 647.3L260.5 647.3L263.4 647.3L266.3 647.3L269.2 647.3L272.1 647.3L275.0 647.3L278.0 647.3L280.9 647.3L283.8 647.3L286.7 647.3L289.6 647.3L292.5 647.3L295.4 647.3L298.3 647.3L301.2 647.3L304.1 647.3L307.0 647.3L309.9 647.3L312.8 647.3L315.7 647.3L318.6 647.3L321.5 647.3L324.4 647.3L327.3 647.3L330.2 647.3L333.1 647.3L336.0 647.3L338.9 647.3L341.8 647.3L344.7 647.3L347.6 647.3L347.6 644.4L347.6 641.5L347.6 638.6L347.6 635.7L347.6 632.8L347.6 629.9L347.6 627.0L347.6 624.1L347.6 621.2L347.6 618.3L347.6 615.4L347.6 612.4L347.6 609.5L347.6 606.6L347.6 603.7L347.6 600.8L347.6 597.9L347.6 595.0L347.6 592.1L347.6 589.2L347.6 586.3L347.6 583.4L347.6 580.5L347.6 577.6L347.6 574.7L347.6 571.8L347.6 568.9L347.6 566.0L347.6 563.1L347.6 560.2L347.6 557.3L347.6 554.4L347.6 551.5L347.6 548.6L347.6 545.7L347.6 542.8L347.6 539.9L347.6 536.9L347.6 534.0L347.6 531.1L347.6 528.2L347.6 525.3L347.6 522.4L347.6 519.5L347.6 516.6L347.6 513.7L347.6 510.8L347.6 507.9L347.6 505.0L347.6 502.1L347.6 499.2L347.6 496.3L347.6 493.4L347.6 490.5L347.6 487.6L347.6 484.7L347.6 481.8L347.6 478.9L347.6 476.0L347.6 473.1L347.6 470.2L347.6 467.3L347.6 464.4L347.6 461.5L347.6 458.5L347.6 455.6L347.6 452.7L347.6 449.8L347.6 446.9L347.6 444.0L347.6 441.1L347.6 438.2L347.6 435.3L347.6 432.4L347.6 429.5L347.6 426.6L347.6 423.7L347.6 420.8L347.6 417.9L347.6 415.0L347.6 412.1L347.6 409.2L347.6 406.3L347.6 403.4L347.6 400.5L347.6 397.6L347.6 394.7L347.6 391.8L347.6 388.9L344.7 388.9L341.8 388.9L338.9 388.9L336.0 388.9L333.1 388.9L330.2 388.9L327.3 388.9L324.4 388.9L321.5 388.9L318.6 388.9L315.7 388.9L312.8 388.9L309.9 388.9L307.0 388.9L304.1 388.9L301.2 388.9L298.3 388.9L295.4 388.9L292.5 388.9L289.6 388.9L286.7 388.9L283.8 388.9L280.9 388.9L278.0 388.9L275.0 388.9L272.1 388.9L269.2 388.9L266.3 388.9L263.4 388.9L260.5 388.9L257.6 388.9L254.7 388.9L251.8 388.9L248.9 388.9L246.0 388.9L243.1 388.9L240.2 388.9L237.3 388.9L234.4 388.9L231.5 388.9L228.6 388.9L225.7 388.9L222.8 388.9L219.9 388.9L217.0 388.9L214.1 388.9L211.2 388.9L208.3 388.9L205.4 388.9L202.5 388.9L199.6 388.9L196.6 388.9L193.7 388.9L190.8 388.9L187.9 388.9L185.0 388.9L182.1 388.9L179.2 388.9L176.3 388.9L173.4 388.9L170.5 388.9L167.6 388.9L164.7 388.9L161.8 388.9L158.9 388.9L156.0 388.9L153.1 388.9L150.2 388.9L147.3 388.9L144.4 388.9L141.5 388.9L138.6 388.9L135.7 388.9L132.8 388.9L129.9 388.9L127.0 388.9L124.1 388.9L121.1 388.9L118.2 388.9L115.3 388.9L112.4 388.9L109.5 388.9L106.6 388.9L103.7 388.9L100.8 388.9L97.9 388.9L95.0 388.9L92.1 388.9L89.2 388.9L89.2 391.8L89.2 394.7L89.2 397.6L89.2 400.5L89.2 403.4L89.2 406.3L89.2 409.2L89.2 412.1L89.2 415.0L89.2 417.9L89.2 420.8L89.2 423.7L89.2 426.6L89.2 429.5L89.2 432.4L89.2 435.3L89.2 438.2L89.2 441.1L89.2 444.0L89.2 446.9L89.2 449.8L89.2 452.7L89.2 455.6L89.2 458.5L89.2 461.5L89.2 464.4L89.2 467.3L89.2 470.2L89.2 473.1L89.2 476.0L89.2 478.9L89.2 481.8L89.2 484.7L89.2 487.6L89.2 490.5L89.2 493.4L89.2 496.3L89.2 499.2L89.2 502.1L89.2 505.0L89.2 507.9L89.2 510.8L89.2 513.7L89.2 516.6L89.2 519.5L89.2 522.4L89.2 525.3L89.2 528.2L89.2 531.1L89.2 534.0L89.2 536.9L89.2 539.9L89.2 542.8L89.2 545.7L89.2 548.6L89.2 551.5L89.2 554.4L89.2 557.3L89.2 560.2L89.2 563.1L89.2 566.0L89.2 568.9L89.2 571.8L89.2 574.7L89.2 577.6L89.2 580.5L89.2 583.4L89.2 586.3L89.2 589.2L89.2 592.1L89.2 595.0L89.2 597.9L89.2 600.8L89.2 603.7L89.2 606.6L89.2 609.5L89.2 612.4L89.2 615.4L89.2 618.3L89.2 621.2L89.2 624.1L89.2 627.0L89.2 629.9L89.2 632.8L89.2 635.7L89.2 638.6L89.2 641.5L89.2 644.4ZM211.2 635.8L210.2 635.7L208.3 635.5L205.4 635.3L202.5 634.9L199.6 634.5L196.6 634.0L193.7 633.4L191.4 632.8L190.8 632.6L187.9 631.9L185.0 631.1L182.1 630.1L181.6 629.9L179.2 629.0L176.3 627.9L174.4 627.0L173.4 626.6L170.5 625.2L168.5 624.1L167.6 623.6L164.7 621.9L163.5 621.2L161.8 620.1L159.2 618.3L158.9 618.1L156.0 615.9L155.2 615.4L153.1 613.7L151.6 612.4L150.2 611.3L148.1 609.5L147.3 608.9L144.7 606.6L144.4 606.4L141.5 603.8L141.4 603.7L138.6 601.2L138.2 600.8L135.7 598.6L135.0 597.9L132.8 595.9L131.9 595.0L129.9 593.1L128.9 592.1L127.0 590.2L126.0 589.2L124.1 587.1L123.4 586.3L121.1 583.7L120.9 583.4L118.6 580.5L118.2 580.0L116.5 577.6L115.3 575.8L114.6 574.7L112.9 571.8L112.4 571.0L111.3 568.9L109.9 566.0L109.5 565.2L108.6 563.1L107.4 560.2L106.6 558.0L106.4 557.3L105.4 554.4L104.5 551.5L103.8 548.6L103.7 548.1L103.1 545.7L102.5 542.8L102.0 539.9L101.6 536.9L101.3 534.0L101.0 531.1L100.9 528.2L100.8 527.2L100.8 525.3L100.7 522.4L100.8 519.5L100.8 519.1L100.9 516.6L101.2 513.7L101.5 510.8L101.9 507.9L102.4 505.0L103.0 502.1L103.7 499.5L103.8 499.2L104.6 496.3L105.5 493.4L106.5 490.5L106.6 490.3L107.6 487.6L108.9 484.7L109.5 483.4L110.3 481.8L111.9 478.9L112.4 478.0L113.6 476.0L115.3 473.5L115.7 473.1L118.0 470.2L118.2 469.9L120.7 467.3L121.1 466.8L123.6 464.4L124.1 463.9L126.6 461.5L127.0 461.0L129.1 458.5L129.9 457.6L131.2 455.6L132.8 452.9L132.8 452.7L134.2 449.8L135.6 446.9L135.7 446.8L137.0 444.0L138.6 441.1L138.6 441.1L140.3 438.2L141.5 436.6L142.3 435.3L144.4 432.7L144.6 432.4L147.0 429.5L147.3 429.2L149.7 426.6L150.2 426.1L152.7 423.7L153.1 423.3L155.9 420.8L156.0 420.8L158.9 418.4L159.5 417.9L161.8 416.2L163.6 415.0L164.7 414.2L167.6 412.5L168.3 412.1L170.5 410.8L173.4 409.4L174.0 409.2L176.3 408.1L179.2 406.9L181.1 406.3L182.1 405.9L185.0 404.9L187.9 404.1L190.8 403.4L190.8 403.4L193.7 402.7L196.6 402.1L199.6 401.6L202.5 401.1L205.4 400.8L208.3 400.6L209.6 400.5L211.2 400.4L214.1 400.2L217.0 400.1L219.9 400.1L222.8 400.2L225.7 400.4L226.7 400.5L228.6 400.6L231.5 400.9L234.4 401.2L237.3 401.7L240.2 402.2L243.1 402.8L245.4 403.4L246.0 403.5L248.9 404.2L251.8 405.1L254.7 406.1L255.2 406.3L257.6 407.1L260.5 408.3L262.5 409.2L263.4 409.6L266.3 411.0L268.3 412.1L269.2 412.6L272.1 414.2L273.3 415.0L275.0 416.1L277.7 417.9L278.0 418.1L280.9 420.2L281.6 420.8L283.8 422.4L285.3 423.7L286.7 424.8L288.8 426.6L289.6 427.3L292.1 429.5L292.5 429.8L295.4 432.4L295.4 432.4L298.3 434.9L298.7 435.3L301.2 437.6L301.9 438.2L304.1 440.3L305.0 441.1L307.0 443.1L308.0 444.0L309.9 446.0L310.8 446.9L312.8 449.1L313.5 449.8L315.7 452.5L315.9 452.7L318.2 455.6L318.6 456.2L320.3 458.5L321.5 460.4L322.2 461.5L324.0 464.4L324.4 465.2L325.6 467.3L327.0 470.2L327.3 471.0L328.3 473.1L329.5 476.0L330.2 478.2L330.5 478.9L331.5 481.8L332.3 484.7L333.0 487.6L333.1 488.0L333.7 490.5L334.3 493.4L334.8 496.3L335.3 499.2L335.6 502.1L335.8 505.0L336.0 507.9L336.0 509.0L336.1 510.8L336.1 513.7L336.0 516.6L336.0 517.0L335.9 519.5L335.7 522.4L335.4 525.3L335.0 528.2L334.5 531.1L333.8 534.0L333.1 536.7L333.1 536.9L332.3 539.9L331.4 542.8L330.3 545.7L330.2 545.9L329.2 548.6L327.9 551.5L327.3 552.6L326.5 554.4L324.9 557.3L324.4 558.0L323.0 560.2L321.5 562.3L320.9 563.1L318.6 565.9L318.5 566.0L315.7 568.9L315.7 568.9L312.8 571.8L312.8 571.8L310.1 574.7L309.9 574.9L307.8 577.6L307.0 578.8L306.0 580.5L304.5 583.4L304.1 584.1L303.1 586.3L301.7 589.2L301.2 590.3L300.3 592.1L298.6 595.0L298.3 595.5L296.8 597.9L295.4 599.9L294.7 600.8L292.5 603.6L292.4 603.7L289.9 606.6L289.6 607.0L287.1 609.5L286.7 610.0L284.2 612.4L283.8 612.8L280.9 615.4L280.9 615.4L278.0 617.8L277.3 618.3L275.0 620.0L273.2 621.2L272.1 621.9L269.2 623.7L268.5 624.1L266.3 625.3L263.4 626.7L262.9 627.0L260.5 628.1L257.6 629.2L255.8 629.9L254.7 630.3L251.8 631.3L248.9 632.1L246.1 632.8L246.0 632.8L243.1 633.5L240.2 634.1L237.3 634.6L234.4 635.0L231.5 635.3L228.6 635.6L227.2 635.7L225.7 635.8L222.8 635.9L219.9 636.0L217.0 636.0L214.1 635.9ZM202.7 568.9L205.4 569.5L208.3 570.1L211.2 570.5L214.1 570.8L217.0 570.9L219.9 571.0L222.8 571.1L225.7 571.0L228.6 570.9L231.5 570.7L234.4 570.4L237.3 570.1L240.2 569.7L243.1 569.3L245.3 568.9L246.0 568.8L248.9 568.2L251.8 567.5L254.7 566.8L257.4 566.0L257.6 565.9L260.5 565.0L263.4 563.9L265.4 563.1L266.3 562.6L269.2 561.1L270.8 560.2L272.1 559.1L274.1 557.3L275.0 555.9L275.9 554.4L277.0 551.5L277.5 548.6L277.8 545.7L277.8 542.8L277.7 539.9L277.4 536.9L277.1 534.0L276.8 531.1L276.3 528.2L275.8 525.3L275.2 522.4L275.0 521.9L274.5 519.5L273.8 516.6L273.1 513.7L272.3 510.8L272.1 510.4L271.4 507.9L270.5 505.0L269.4 502.1L269.2 501.6L268.3 499.2L267.1 496.3L266.3 494.7L265.7 493.4L264.2 490.5L263.4 489.2L262.4 487.6L260.5 484.8L260.5 484.7L258.2 481.8L257.6 481.1L255.6 478.9L254.7 478.0L252.5 476.0L251.8 475.4L248.9 473.1L248.8 473.1L246.0 471.3L243.9 470.2L243.1 469.8L240.2 468.5L237.3 467.4L236.7 467.3L234.4 466.6L231.5 465.9L228.6 465.4L225.7 465.0L222.8 464.8L219.9 464.6L217.0 464.5L214.1 464.5L211.2 464.5L208.3 464.6L205.4 464.8L202.5 465.0L199.6 465.3L196.6 465.6L193.7 466.0L190.8 466.5L187.9 467.1L187.1 467.3L185.0 467.7L182.1 468.4L179.2 469.3L176.5 470.2L176.3 470.2L173.4 471.3L170.5 472.6L169.5 473.1L167.6 474.1L165.0 476.0L164.7 476.3L162.4 478.9L161.8 479.9L160.9 481.8L160.1 484.7L159.7 487.6L159.6 490.5L159.6 493.4L159.7 496.3L160.0 499.2L160.3 502.1L160.7 505.0L161.2 507.9L161.8 510.8L161.8 511.0L162.3 513.7L163.0 516.6L163.7 519.5L164.4 522.4L164.7 523.5L165.2 525.3L166.1 528.2L167.0 531.1L167.6 532.8L168.1 534.0L169.2 536.9L170.5 539.9L170.5 540.0L171.9 542.8L173.4 545.6L173.4 545.7L175.2 548.6L176.3 550.2L177.2 551.5L179.2 554.0L179.6 554.4L182.1 557.2L182.2 557.3L185.0 559.8L185.5 560.2L187.9 562.1L189.4 563.1L190.8 564.0L193.7 565.6L194.6 566.0L196.6 566.9L199.6 567.9L202.5 568.8Z"/>
<path fill="#00afff" d="M89.2 647.3L92.1 647.3L95.0 647.3L97.9 647.3L100.8 647.3L103.7 647.3L106.6 647.3L109.5 647.3L112.4 647.3L115.3 647.3L118.2 647.3L121.1 647.3L124.1 647.3L127.0 647.3L129.9 647.3L132.8 647.3L135.7 647.3L138.6 647.3L141.5 647.3L144.4 647.3L147.3 647.3L150.2 647.3L153.1 647.3L156.0 647.3L158.9 647.3L161.8 647.3L164.7 647.3L167.6 647.3L170.5 647.3L173.4 647.3L173.9 647.3L173.4 647.1L170.5 645.7L168.4 644.4L167.6 643.9L164.7 642.0L164.0 641.5L161.8 639.9L160.3 638.6L158.9 637.4L157.1 635.7L156.0 634.7L154.1 632.8L153.1 631.8L151.4 629.9L150.2 628.7L148.7 627.0L147.3 625.5L146.1 624.1L144.4 622.2L143.5 621.2L141.5 619.0L140.8 618.3L138.6 615.9L138.1 615.4L135.7 612.8L135.3 612.4L132.8 609.9L132.4 609.5L129.9 607.1L129.4 606.6L127.0 604.4L126.3 603.7L124.1 601.7L123.1 600.8L121.1 599.1L119.8 597.9L118.2 596.5L116.5 595.0L115.3 593.9L113.3 592.1L112.4 591.3L110.1 589.2L109.5 588.7L107.0 586.3L106.6 586.0L104.0 583.4L103.7 583.1L101.2 580.5L100.8 580.1L98.6 577.6L97.9 576.7L96.2 574.7L95.0 573.0L94.1 571.8L92.3 568.9L92.1 568.5L90.6 566.0L89.3 563.1L89.2 562.8L89.2 563.1L89.2 566.0L89.2 568.9L89.2 571.8L89.2 574.7L89.2 577.6L89.2 580.5L89.2 583.4L89.2 586.3L89.2 589.2L89.2 592.1L89.2 595.0L89.2 597.9L89.2 600.8L89.2 603.7L89.2 606.6L89.2 609.5L89.2 612.4L89.2 615.4L89.2 618.3L89.2 621.2L89.2 624.1L89.2 627.0L89.2 629.9L89.2 632.8L89.2 635.7L89.2 638.6L89.2 641.5L89.2 644.4ZM259.5 647.3L260.5 647.3L263.4 647.3L266.3 647.3L269.2 647.3L272.1 647.3L275.0 647.3L278.0 647.3L280.9 647.3L283.8 647.3L286.7 647.3L289.6 647.3L292.5 647.3L295.4 647.3L298.3 647.3L301.2 647.3L304.1 647.3L307.0 647.3L309.9 647.3L312.8 647.3L315.7 647.3L318.6 647.3L321.5 647.3L324.4 647.3L327.3 647.3L330.2 647.3L333.1 647.3L336.0 647.3L338.9 647.3L341.8 647.3L344.7 647.3L347.6 647.3L347.6 644.4L347.6 641.5L347.6 638.6L347.6 635.7L347.6 632.8L347.6 629.9L347.6 627.0L347.6 624.1L347.6 621.2L347.6 618.3L347.6 615.4L347.6 612.4L347.6 609.5L347.6 606.6L347.6 603.7L347.6 600.8L347.6 597.9L347.6 595.0L347.6 592.1L347.6 589.2L347.6 586.3L347.6 583.4L347.6 580.5L347.6 577.6L347.6 574.7L347.6 571.8L347.6 568.9L347.6 566.0L347.6 563.1L347.6 560.2L347.6 557.3L347.6 554.4L347.6 551.5L347.6 548.6L347.6 545.7L347.6 542.8L347.6 540.2L346.6 542.8L345.1 545.7L344.7 546.3L343.6 548.6L341.8 551.5L341.8 551.5L340.2 554.4L338.9 556.1L338.3 557.3L336.2 560.2L336.0 560.4L334.1 563.1L333.1 564.3L331.9 566.0L330.2 567.9L329.4 568.9L327.3 571.1L326.7 571.8L324.4 574.1L323.8 574.7L321.5 577.0L320.9 577.6L318.6 580.0L318.2 580.5L315.8 583.4L315.7 583.5L313.7 586.3L312.8 587.7L311.9 589.2L310.1 592.1L309.9 592.4L308.3 595.0L307.0 597.1L306.5 597.9L304.6 600.8L304.1 601.5L302.6 603.7L301.2 605.6L300.4 606.6L298.3 609.4L298.2 609.5L295.9 612.4L295.4 613.2L293.6 615.4L292.5 616.8L291.2 618.3L289.6 620.2L288.7 621.2L286.7 623.6L286.2 624.1L283.8 626.8L283.6 627.0L280.9 629.9L280.9 630.0L278.1 632.8L278.0 632.9L275.1 635.7L275.0 635.7L272.1 638.4L271.9 638.6L269.2 640.9L268.3 641.5L266.3 643.1L264.3 644.4L263.4 645.1L260.5 646.8ZM217.2 568.9L219.9 569.0L222.8 569.0L225.7 568.9L226.8 568.9L228.6 568.8L231.5 568.6L234.4 568.3L237.3 568.0L240.2 567.5L243.1 567.0L246.0 566.5L248.1 566.0L248.9 565.8L251.8 565.0L254.7 564.1L257.6 563.1L257.7 563.1L260.5 561.9L263.4 560.5L264.0 560.2L266.3 558.7L268.2 557.3L269.2 556.3L271.0 554.4L272.1 552.6L272.8 551.5L273.9 548.6L274.5 545.7L274.9 542.8L275.0 539.9L275.0 536.9L274.8 534.0L274.5 531.1L274.2 528.2L273.7 525.3L273.1 522.4L272.5 519.5L272.1 518.2L271.7 516.6L271.0 513.7L270.1 510.8L269.2 508.0L269.2 507.9L268.2 505.0L267.1 502.1L266.3 500.2L265.9 499.2L264.6 496.3L263.4 493.9L263.2 493.4L261.5 490.5L260.5 488.9L259.7 487.6L257.6 484.8L257.6 484.7L255.1 481.8L254.7 481.3L252.3 478.9L251.8 478.5L248.9 476.0L248.8 476.0L246.0 474.0L244.4 473.1L243.1 472.3L240.2 470.9L238.3 470.2L237.3 469.8L234.4 468.9L231.5 468.1L228.6 467.5L226.7 467.3L225.7 467.1L222.8 466.8L219.9 466.6L217.0 466.5L214.1 466.5L211.2 466.5L208.3 466.7L205.4 466.8L202.5 467.1L200.4 467.3L199.6 467.3L196.6 467.7L193.7 468.1L190.8 468.6L187.9 469.3L185.0 470.0L184.6 470.2L182.1 470.9L179.2 471.9L176.6 473.1L176.3 473.2L173.4 474.7L171.3 476.0L170.5 476.5L167.8 478.9L167.6 479.1L165.5 481.8L164.7 483.3L164.0 484.7L163.1 487.6L162.6 490.5L162.4 493.4L162.3 496.3L162.4 499.2L162.6 502.1L162.9 505.0L163.4 507.9L163.9 510.8L164.5 513.7L164.7 514.8L165.1 516.6L165.8 519.5L166.6 522.4L167.4 525.3L167.6 525.9L168.4 528.2L169.3 531.1L170.4 534.0L170.5 534.3L171.6 536.9L173.0 539.9L173.4 540.7L174.5 542.8L176.1 545.7L176.3 545.9L178.1 548.6L179.2 550.2L180.2 551.5L182.1 553.7L182.8 554.4L185.0 556.6L185.7 557.3L187.9 559.1L189.4 560.2L190.8 561.2L193.7 563.0L194.0 563.1L196.6 564.4L199.6 565.6L200.8 566.0L202.5 566.5L205.4 567.3L208.3 567.9L211.2 568.3L214.1 568.7L217.0 568.9ZM89.2 493.4L89.2 496.0L90.3 493.4L91.8 490.5L92.1 489.9L93.2 487.6L95.0 484.7L95.0 484.7L96.7 481.8L97.9 480.0L98.6 478.9L100.6 476.0L100.8 475.7L102.7 473.1L103.7 471.8L104.9 470.2L106.6 468.1L107.3 467.3L109.5 464.8L110.0 464.4L112.4 461.8L112.8 461.5L115.3 458.9L115.7 458.5L118.2 456.0L118.6 455.6L121.1 452.7L121.1 452.7L123.3 449.8L124.1 448.8L125.2 446.9L127.0 444.2L127.1 444.0L128.8 441.1L129.9 439.4L130.6 438.2L132.4 435.3L132.8 434.8L134.4 432.4L135.7 430.7L136.5 429.5L138.6 426.8L138.7 426.6L140.9 423.7L141.5 423.0L143.3 420.8L144.4 419.4L145.6 417.9L147.3 415.9L148.1 415.0L150.2 412.6L150.6 412.1L153.1 409.3L153.2 409.2L155.9 406.3L156.0 406.2L158.7 403.4L158.9 403.2L161.7 400.5L161.8 400.4L164.7 397.8L165.0 397.6L167.6 395.3L168.5 394.7L170.5 393.1L172.5 391.8L173.4 391.1L176.3 389.3L177.3 388.9L176.3 388.9L173.4 388.9L170.5 388.9L167.6 388.9L164.7 388.9L161.8 388.9L158.9 388.9L156.0 388.9L153.1 388.9L150.2 388.9L147.3 388.9L144.4 388.9L141.5 388.9L138.6 388.9L135.7 388.9L132.8 388.9L129.9 388.9L127.0 388.9L124.1 388.9L121.1 388.9L118.2 388.9L115.3 388.9L112.4 388.9L109.5 388.9L106.6 388.9L103.7 388.9L100.8 388.9L97.9 388.9L95.0 388.9L92.1 388.9L89.2 388.9L89.2 391.8L89.2 394.7L89.2 397.6L89.2 400.5L89.2 403.4L89.2 406.3L89.2 409.2L89.2 412.1L89.2 415.0L89.2 417.9L89.2 420.8L89.2 423.7L89.2 426.6L89.2 429.5L89.2 432.4L89.2 435.3L89.2 438.2L89.2 441.1L89.2 444.0L89.2 446.9L89.2 449.8L89.2 452.7L89.2 455.6L89.2 458.5L89.2 461.5L89.2 464.4L89.2 467.3L89.2 470.2L89.2 473.1L89.2 476.0L89.2 478.9L89.2 481.8L89.2 484.7L89.2 487.6L89.2 490.5ZM347.5 473.1L347.6 473.3L347.6 473.1L347.6 470.2L347.6 467.3L347.6 464.4L347.6 461.5L347.6 458.5L347.6 455.6L347.6 452.7L347.6 449.8L347.6 446.9L347.6 444.0L347.6 441.1L347.6 438.2L347.6 435.3L347.6 432.4L347.6 429.5L347.6 426.6L347.6 423.7L347.6 420.8L347.6 417.9L347.6 415.0L347.6 412.1L347.6 409.2L347.6 406.3L347.6 403.4L347.6 400.5L347.6 397.6L347.6 394.7L347.6 391.8L347.6 388.9L344.7 388.9L341.8 388.9L338.9 388.9L336.0 388.9L333.1 388.9L330.2 388.9L327.3 388.9L324.4 388.9L321.5 388.9L318.6 388.9L315.7 388.9L312.8 388.9L309.9 388.9L307.0 388.9L304.1 388.9L301.2 388.9L298.3 388.9L295.4 388.9L292.5 388.9L289.6 388.9L286.7 388.9L283.8 388.9L280.9 388.9L278.0 388.9L275.0 388.9L272.1 388.9L269.2 388.9L266.3 388.9L263.4 388.9L262.9 388.9L263.4 389.1L266.3 390.5L268.4 391.8L269.2 392.2L272.1 394.1L272.8 394.7L275.0 396.3L276.5 397.6L278.0 398.7L279.8 400.5L280.9 401.4L282.7 403.4L283.8 404.4L285.5 406.3L286.7 407.5L288.2 409.2L289.6 410.7L290.8 412.1L292.5 413.9L293.4 415.0L295.4 417.1L296.0 417.9L298.3 420.3L298.7 420.8L301.2 423.3L301.5 423.7L304.1 426.2L304.4 426.6L307.0 429.1L307.5 429.5L309.9 431.8L310.6 432.4L312.8 434.4L313.8 435.3L315.7 437.0L317.0 438.2L318.6 439.6L320.3 441.1L321.5 442.2L323.6 444.0L324.4 444.8L326.8 446.9L327.3 447.5L329.9 449.8L330.2 450.2L332.9 452.7L333.1 453.0L335.7 455.6L336.0 456.1L338.3 458.5L338.9 459.4L340.7 461.5L341.8 463.2L342.7 464.4L344.5 467.3L344.7 467.7L346.2 470.2Z"/>
<path fill="#00cfff" d="M210.2 566.0L211.2 566.2L214.1 566.5L217.0 566.7L219.9 566.8L222.8 566.9L225.7 566.8L228.6 566.7L231.5 566.4L234.4 566.2L235.7 566.0L237.3 565.8L240.2 565.4L243.1 564.8L246.0 564.2L248.9 563.5L250.2 563.1L251.8 562.6L254.7 561.6L257.6 560.3L257.9 560.2L260.5 558.9L263.1 557.3L263.4 557.0L266.3 554.6L266.5 554.4L268.9 551.5L269.2 550.9L270.5 548.6L271.5 545.7L272.1 542.8L272.1 542.8L272.5 539.9L272.7 536.9L272.7 534.0L272.5 531.1L272.1 528.3L272.1 528.2L271.7 525.3L271.2 522.4L270.5 519.5L269.7 516.6L269.2 515.1L268.8 513.7L267.9 510.8L266.9 507.9L266.3 506.2L265.9 505.0L264.7 502.1L263.5 499.2L263.4 499.1L262.1 496.3L260.5 493.4L260.5 493.4L258.8 490.5L257.6 488.8L256.8 487.6L254.7 484.9L254.5 484.7L251.9 481.8L251.8 481.7L248.9 479.1L248.7 478.9L246.0 476.9L244.7 476.0L243.1 475.0L240.2 473.5L239.3 473.1L237.3 472.2L234.4 471.2L231.5 470.4L230.5 470.2L228.6 469.8L225.7 469.3L222.8 469.0L219.9 468.7L217.0 468.6L214.1 468.6L211.2 468.6L208.3 468.7L205.4 468.9L202.5 469.0L199.6 469.3L196.6 469.6L193.7 470.1L193.3 470.2L190.8 470.6L187.9 471.3L185.0 472.1L182.5 473.1L182.1 473.2L179.2 474.4L176.4 476.0L176.3 476.0L173.4 477.9L172.2 478.9L170.5 480.5L169.4 481.8L167.6 484.5L167.5 484.7L166.2 487.6L165.4 490.5L164.9 493.4L164.7 495.6L164.7 496.3L164.6 499.2L164.7 501.2L164.7 502.1L165.0 505.0L165.4 507.9L165.9 510.8L166.6 513.7L167.3 516.6L167.6 518.0L168.0 519.5L168.8 522.4L169.7 525.3L170.5 527.8L170.7 528.2L171.7 531.1L172.9 534.0L173.4 535.3L174.2 536.9L175.6 539.9L176.3 541.3L177.2 542.8L179.0 545.7L179.2 546.1L181.0 548.6L182.1 550.0L183.4 551.5L185.0 553.3L186.1 554.4L187.9 556.0L189.5 557.3L190.8 558.3L193.7 560.2L193.7 560.2L196.6 561.8L199.5 563.1L199.6 563.1L202.5 564.1L205.4 565.0L208.3 565.7Z"/>
<path fill="#00efff" d="M207.4 563.1L208.3 563.3L211.2 563.8L214.1 564.2L217.0 564.4L219.9 564.6L222.8 564.6L225.7 564.5L228.6 564.4L231.5 564.2L234.4 563.9L237.3 563.6L240.2 563.2L240.7 563.1L243.1 562.7L246.0 562.1L248.9 561.3L251.8 560.3L252.1 560.2L254.7 559.1L257.6 557.7L258.3 557.3L260.5 555.9L262.5 554.4L263.4 553.5L265.4 551.5L266.3 550.2L267.4 548.6L268.8 545.7L269.2 544.3L269.7 542.8L270.3 539.9L270.7 536.9L270.7 534.0L270.6 531.1L270.3 528.2L269.9 525.3L269.3 522.4L269.2 522.4L268.6 519.5L267.7 516.6L266.7 513.7L266.3 512.5L265.7 510.8L264.6 507.9L263.5 505.0L263.4 504.9L262.2 502.1L260.9 499.2L260.5 498.5L259.4 496.3L257.8 493.4L257.6 493.2L255.9 490.5L254.7 488.9L253.7 487.6L251.8 485.3L251.2 484.7L248.9 482.4L248.3 481.8L246.0 479.9L244.6 478.9L243.1 477.9L240.2 476.2L239.8 476.0L237.3 474.8L234.4 473.7L232.5 473.1L231.5 472.8L228.6 472.1L225.7 471.6L222.8 471.2L219.9 471.0L217.0 470.8L214.1 470.8L211.2 470.8L208.3 470.8L205.4 470.9L202.5 471.0L199.6 471.1L196.6 471.4L193.7 471.8L190.8 472.4L188.3 473.1L187.9 473.2L185.0 474.0L182.1 475.2L180.7 476.0L179.2 476.7L176.3 478.6L175.9 478.9L173.4 481.1L172.7 481.8L170.5 484.6L170.5 484.7L168.8 487.6L167.8 490.5L167.6 491.3L167.1 493.4L166.7 496.3L166.5 499.2L166.6 502.1L166.9 505.0L167.3 507.9L167.6 509.3L167.9 510.8L168.6 513.7L169.4 516.6L170.2 519.5L170.5 520.5L171.1 522.4L172.1 525.3L173.1 528.2L173.4 529.1L174.2 531.1L175.5 534.0L176.3 536.0L176.8 536.9L178.3 539.9L179.2 541.5L180.0 542.8L181.9 545.7L182.1 545.9L184.2 548.6L185.0 549.6L186.8 551.5L187.9 552.6L189.9 554.4L190.8 555.2L193.7 557.3L193.7 557.3L196.6 559.0L198.9 560.2L199.6 560.5L202.5 561.6L205.4 562.5Z"/>
<path fill="#10ffef" d="M206.4 560.2L208.3 560.7L211.2 561.2L214.1 561.7L217.0 562.0L219.9 562.1L222.8 562.2L225.7 562.2L228.6 562.1L231.5 561.9L234.4 561.7L237.3 561.5L240.2 561.1L243.1 560.6L245.1 560.2L246.0 560.0L248.9 559.2L251.8 558.2L253.9 557.3L254.7 556.9L257.6 555.3L258.9 554.4L260.5 553.1L262.3 551.5L263.4 550.2L264.7 548.6L266.3 545.7L266.4 545.7L267.6 542.8L268.4 539.9L268.8 536.9L269.0 534.0L268.9 531.1L268.7 528.2L268.2 525.3L267.6 522.4L266.7 519.5L266.3 518.3L265.8 516.6L264.7 513.7L263.5 510.8L263.4 510.7L262.2 507.9L260.9 505.0L260.5 504.1L259.5 502.1L258.1 499.2L257.6 498.3L256.5 496.3L254.7 493.4L254.7 493.4L252.7 490.5L251.8 489.4L250.3 487.6L248.9 486.0L247.6 484.7L246.0 483.3L244.2 481.8L243.1 481.0L240.2 479.1L239.8 478.9L237.3 477.6L234.4 476.4L233.3 476.0L231.5 475.4L228.6 474.7L225.7 474.1L222.8 473.7L219.9 473.4L217.0 473.2L215.0 473.1L214.1 473.0L211.2 472.9L208.3 472.9L205.4 472.8L202.5 472.8L199.6 472.9L197.6 473.1L196.6 473.1L193.7 473.5L190.8 474.0L187.9 474.8L185.0 475.8L184.7 476.0L182.1 477.1L179.2 478.8L179.1 478.9L176.3 481.0L175.4 481.8L173.4 484.0L172.9 484.7L171.1 487.6L170.5 488.9L169.8 490.5L169.0 493.4L168.5 496.3L168.3 499.2L168.3 502.1L168.6 505.0L169.1 507.9L169.7 510.8L170.5 513.7L170.5 513.7L171.4 516.6L172.4 519.5L173.4 522.3L173.5 522.4L174.6 525.3L175.7 528.2L176.3 529.8L176.9 531.1L178.2 534.0L179.2 536.1L179.7 536.9L181.3 539.9L182.1 541.2L183.1 542.8L185.0 545.5L185.2 545.7L187.6 548.6L187.9 548.9L190.5 551.5L190.8 551.7L193.7 554.1L194.1 554.4L196.6 556.0L198.9 557.3L199.6 557.6L202.5 558.8L205.4 559.9Z"/>
<path fill="#30ffcf" d="M206.6 557.3L208.3 557.8L211.2 558.4L214.1 558.9L217.0 559.2L219.9 559.4L222.8 559.5L225.7 559.6L228.6 559.7L231.5 559.7L234.4 559.6L237.3 559.5L240.2 559.2L243.1 558.8L246.0 558.2L248.9 557.3L249.1 557.3L251.8 556.3L254.7 554.9L255.6 554.4L257.6 553.1L259.6 551.5L260.5 550.6L262.4 548.6L263.4 547.0L264.3 545.7L265.7 542.8L266.3 540.6L266.6 539.9L267.2 536.9L267.4 534.0L267.4 531.1L267.2 528.2L266.7 525.3L266.3 524.0L266.0 522.4L265.1 519.5L263.9 516.6L263.4 515.4L262.6 513.7L261.2 510.8L260.5 509.4L259.7 507.9L258.2 505.0L257.6 503.9L256.6 502.1L255.0 499.2L254.7 498.7L253.3 496.3L251.8 494.1L251.3 493.4L249.1 490.5L248.9 490.2L246.5 487.6L246.0 487.1L243.3 484.7L243.1 484.6L240.2 482.5L239.1 481.8L237.3 480.8L234.4 479.4L233.1 478.9L231.5 478.3L228.6 477.5L225.7 476.8L222.8 476.3L219.9 476.0L219.9 476.0L217.0 475.7L214.1 475.4L211.2 475.2L208.3 474.9L205.4 474.6L202.5 474.5L199.6 474.4L196.6 474.6L193.7 474.9L190.8 475.5L189.1 476.0L187.9 476.3L185.0 477.3L182.1 478.8L182.0 478.9L179.2 480.7L177.9 481.8L176.3 483.3L175.0 484.7L173.4 487.0L173.0 487.6L171.6 490.5L170.7 493.4L170.5 494.4L170.1 496.3L169.9 499.2L169.9 502.1L170.2 505.0L170.5 506.8L170.7 507.9L171.4 510.8L172.3 513.7L173.4 516.6L173.4 516.6L174.6 519.5L175.9 522.4L176.3 523.4L177.2 525.3L178.6 528.2L179.2 529.8L179.9 531.1L181.3 534.0L182.1 535.6L182.9 536.9L184.6 539.9L185.0 540.5L186.6 542.8L187.9 544.5L189.0 545.7L190.8 547.7L191.7 548.6L193.7 550.4L195.1 551.5L196.6 552.5L199.6 554.4L199.6 554.4L202.5 555.7L205.4 556.9Z"/>
<path fill="#50ffaf" d="M229.1 557.3L231.5 557.5L234.4 557.6L237.3 557.6L240.2 557.5L241.7 557.3L243.1 557.1L246.0 556.6L248.9 555.8L251.8 554.6L252.2 554.4L254.7 553.1L257.0 551.5L257.6 551.0L260.2 548.6L260.5 548.2L262.4 545.7L263.4 543.8L264.0 542.8L265.1 539.9L265.7 536.9L266.0 534.0L266.0 531.1L265.8 528.2L265.3 525.3L264.5 522.4L263.4 519.5L263.4 519.5L262.2 516.6L260.7 513.7L260.5 513.5L259.0 510.8L257.6 508.6L257.1 507.9L255.2 505.0L254.7 504.2L253.3 502.1L251.8 499.7L251.5 499.2L249.5 496.3L248.9 495.5L247.3 493.4L246.0 491.9L244.7 490.5L243.1 488.9L241.6 487.6L240.2 486.5L237.6 484.7L237.3 484.5L234.4 483.0L231.7 481.8L231.5 481.7L228.6 480.8L225.7 480.0L222.8 479.4L219.9 478.9L219.7 478.9L217.0 478.4L214.1 477.9L211.2 477.3L208.3 476.8L205.4 476.4L202.5 476.1L200.2 476.0L199.6 475.9L198.4 476.0L196.6 476.0L193.7 476.3L190.8 476.8L187.9 477.6L185.0 478.8L184.9 478.9L182.1 480.3L180.1 481.8L179.2 482.5L176.9 484.7L176.3 485.4L174.7 487.6L173.4 490.1L173.2 490.5L172.1 493.4L171.5 496.3L171.2 499.2L171.3 502.1L171.6 505.0L172.1 507.9L173.0 510.8L173.4 512.0L174.0 513.7L175.3 516.6L176.3 518.6L176.8 519.5L178.4 522.4L179.2 523.9L180.1 525.3L181.7 528.2L182.1 529.1L183.3 531.1L184.9 534.0L185.0 534.3L186.6 536.9L187.9 539.0L188.6 539.9L190.8 542.8L190.8 542.8L193.5 545.7L193.7 545.9L196.6 548.4L196.8 548.6L199.6 550.4L201.3 551.5L202.5 552.1L205.4 553.3L208.2 554.4L208.3 554.4L211.2 555.1L214.1 555.6L217.0 556.1L219.9 556.4L222.8 556.7L225.7 557.0L228.6 557.2Z"/>
<path fill="#70ff8f" d="M225.8 554.4L228.6 555.0L231.5 555.5L234.4 555.9L237.3 556.0L240.2 556.0L243.1 555.7L246.0 555.1L248.5 554.4L248.9 554.2L251.8 553.1L254.6 551.5L254.7 551.4L257.6 549.2L258.2 548.6L260.5 545.9L260.7 545.7L262.5 542.8L263.4 540.3L263.6 539.9L264.4 536.9L264.8 534.0L264.8 531.1L264.6 528.2L264.0 525.3L263.4 523.5L263.1 522.4L262.0 519.5L260.5 516.7L260.5 516.6L258.8 513.7L257.6 512.0L256.7 510.8L254.7 508.3L254.3 507.9L251.9 505.0L251.8 504.9L249.4 502.1L248.9 501.4L247.1 499.2L246.0 497.8L244.8 496.3L243.1 494.4L242.2 493.4L240.2 491.5L239.0 490.5L237.3 489.2L234.8 487.6L234.4 487.4L231.5 485.9L228.6 484.7L228.4 484.7L225.7 483.9L222.8 483.1L219.9 482.2L218.7 481.8L217.0 481.3L214.1 480.3L211.2 479.4L209.3 478.9L208.3 478.6L205.4 477.9L202.5 477.4L199.6 477.2L196.6 477.2L193.7 477.5L190.8 478.0L188.1 478.9L187.9 478.9L185.0 480.1L182.2 481.8L182.1 481.8L179.2 484.2L178.7 484.7L176.3 487.6L176.3 487.6L174.6 490.5L173.5 493.4L173.4 494.0L172.8 496.3L172.5 499.2L172.5 502.1L172.9 505.0L173.4 507.3L173.5 507.9L174.4 510.8L175.7 513.7L176.3 515.1L177.2 516.6L179.0 519.5L179.2 519.9L181.0 522.4L182.1 524.0L183.2 525.3L185.0 527.9L185.4 528.2L187.4 531.1L187.9 532.1L189.3 534.0L190.8 536.3L191.3 536.9L193.6 539.9L193.7 540.1L196.3 542.8L196.6 543.1L199.6 545.5L199.7 545.7L202.5 547.4L204.5 548.6L205.4 549.0L208.3 550.1L211.2 551.0L212.8 551.5L214.1 551.8L217.0 552.4L219.9 553.0L222.8 553.7L225.7 554.3Z"/>
<path fill="#8fff70" d="M236.1 554.4L237.3 554.5L240.2 554.5L242.2 554.4L243.1 554.3L246.0 553.8L248.9 552.9L251.8 551.6L252.1 551.5L254.7 549.9L256.3 548.6L257.6 547.4L259.1 545.7L260.5 543.6L261.0 542.8L262.3 539.9L263.1 536.9L263.4 534.7L263.5 534.0L263.6 531.1L263.4 529.5L263.3 528.2L262.8 525.3L261.9 522.4L260.6 519.5L260.5 519.5L258.9 516.6L257.6 514.7L256.8 513.7L254.7 511.2L254.3 510.8L251.8 508.3L251.2 507.9L248.9 505.8L247.7 505.0L246.0 503.4L244.2 502.1L243.1 501.0L241.0 499.2L240.2 498.3L238.0 496.3L237.3 495.7L234.4 493.4L234.4 493.4L231.5 491.6L229.4 490.5L228.6 490.1L225.7 488.8L223.2 487.6L222.8 487.4L219.9 485.9L217.8 484.7L217.0 484.3L214.1 482.8L212.1 481.8L211.2 481.4L208.3 480.3L205.4 479.4L202.7 478.9L202.5 478.8L199.6 478.5L196.6 478.4L193.7 478.7L192.7 478.9L190.8 479.2L187.9 480.1L185.0 481.4L184.4 481.8L182.1 483.2L180.4 484.7L179.2 485.9L177.8 487.6L176.3 489.9L176.0 490.5L174.8 493.4L174.0 496.3L173.7 499.2L173.8 502.1L174.1 505.0L174.8 507.9L175.8 510.8L176.3 511.9L177.2 513.7L179.0 516.6L179.2 517.0L181.2 519.5L182.1 520.8L183.8 522.4L185.0 523.8L186.8 525.3L187.9 526.5L190.0 528.2L190.8 529.2L192.9 531.1L193.7 532.2L195.5 534.0L196.6 535.4L198.1 536.9L199.6 538.4L201.2 539.9L202.5 540.9L205.2 542.8L205.4 542.8L208.3 544.3L211.2 545.6L211.2 545.7L214.1 546.8L217.0 548.1L217.9 548.6L219.9 549.4L222.8 550.7L224.6 551.5L225.7 551.9L228.6 552.9L231.5 553.7L234.4 554.2Z"/>
<path fill="#afff50" d="M229.9 551.5L231.5 552.0L234.4 552.8L237.3 553.2L240.2 553.3L243.1 553.1L246.0 552.6L248.9 551.6L249.3 551.5L251.8 550.3L254.5 548.6L254.7 548.4L257.6 545.7L257.6 545.6L259.7 542.8L260.5 541.0L261.1 539.9L262.0 536.9L262.4 534.0L262.5 531.1L262.2 528.2L261.6 525.3L260.6 522.4L260.5 522.3L259.2 519.5L257.6 517.0L257.3 516.6L254.9 513.7L254.7 513.5L251.8 510.8L251.8 510.8L248.9 508.6L247.5 507.9L246.0 506.9L243.1 505.5L241.6 505.0L240.2 504.3L237.3 503.0L234.8 502.1L234.4 501.8L231.5 500.2L229.8 499.2L228.6 498.4L226.1 496.3L225.7 496.0L223.1 493.4L222.8 493.1L220.3 490.5L219.9 490.1L217.2 487.6L217.0 487.4L214.1 485.2L213.4 484.7L211.2 483.3L208.3 481.9L208.0 481.8L205.4 480.8L202.5 480.0L199.6 479.6L196.6 479.5L193.7 479.7L190.8 480.3L187.9 481.2L186.8 481.8L185.0 482.6L182.1 484.6L182.1 484.7L179.2 487.6L179.2 487.6L177.2 490.5L176.3 492.6L176.0 493.4L175.2 496.3L174.8 499.2L174.8 502.1L175.2 505.0L176.0 507.9L176.3 508.7L177.1 510.8L178.7 513.7L179.2 514.6L180.8 516.6L182.1 518.3L183.4 519.5L185.0 521.1L186.9 522.4L187.9 523.3L190.8 525.1L191.5 525.3L193.7 526.7L196.6 528.0L197.4 528.2L199.6 529.5L202.5 531.0L202.8 531.1L205.4 532.9L206.9 534.0L208.3 535.0L210.4 536.9L211.2 537.5L213.6 539.9L214.1 540.2L216.6 542.8L217.0 543.0L219.9 545.6L219.9 545.7L222.8 547.8L223.9 548.6L225.7 549.6L228.6 551.0Z"/>
<path fill="#cfff30" d="M235.0 551.5L237.3 551.9L240.2 552.1L243.1 551.9L245.5 551.5L246.0 551.4L248.9 550.5L251.8 549.0L252.5 548.6L254.7 546.9L256.1 545.7L257.6 543.8L258.4 542.8L259.9 539.9L260.5 537.9L260.9 536.9L261.4 534.0L261.5 531.1L261.2 528.2L260.5 525.6L260.5 525.3L259.4 522.4L257.9 519.5L257.6 519.2L255.8 516.6L254.7 515.4L252.9 513.7L251.8 512.7L248.9 510.8L248.9 510.8L246.0 509.2L243.1 508.3L241.3 507.9L240.2 507.6L237.3 507.1L234.4 507.0L231.5 507.2L228.6 507.6L225.7 507.7L223.1 505.0L222.8 504.5L222.3 502.1L221.5 499.2L220.2 496.3L219.9 495.8L218.8 493.4L217.0 490.9L216.7 490.5L214.1 487.6L214.1 487.6L211.2 485.2L210.4 484.7L208.3 483.4L205.4 482.1L204.2 481.8L202.5 481.3L199.6 480.7L196.6 480.6L193.7 480.8L190.8 481.4L189.6 481.8L187.9 482.4L185.0 483.8L183.8 484.7L182.1 486.0L180.6 487.6L179.2 489.4L178.5 490.5L177.1 493.4L176.3 496.2L176.3 496.3L175.9 499.2L175.9 502.1L176.3 504.6L176.4 505.0L177.2 507.9L178.4 510.8L179.2 512.2L180.2 513.7L182.1 516.2L182.6 516.6L185.0 519.0L185.8 519.5L187.9 521.1L190.7 522.4L190.8 522.5L193.7 523.7L196.6 524.4L199.6 524.8L202.5 524.9L205.4 524.8L208.3 524.5L211.2 524.5L212.6 525.3L214.1 527.6L214.2 528.2L214.8 531.1L215.7 534.0L217.0 536.6L217.1 536.9L218.5 539.9L219.9 541.6L220.6 542.8L222.8 544.9L223.5 545.7L225.7 547.4L227.5 548.6L228.6 549.2L231.5 550.5L234.4 551.4Z"/>
<path fill="#efff10" d="M230.6 548.6L231.5 549.0L234.4 550.1L237.3 550.7L240.2 550.9L243.1 550.8L246.0 550.3L248.9 549.3L250.3 548.6L251.8 547.7L254.5 545.7L254.7 545.5L257.1 542.8L257.6 541.8L258.7 539.9L259.8 536.9L260.3 534.0L260.4 531.1L260.1 528.2L259.4 525.3L258.2 522.4L257.6 521.4L256.5 519.5L254.7 517.2L254.1 516.6L251.8 514.5L250.7 513.7L248.9 512.5L246.0 511.1L244.8 510.8L243.1 510.2L240.2 509.7L237.3 509.6L234.4 510.0L231.5 510.8L231.5 510.8L228.6 511.9L225.7 513.7L225.7 513.7L222.8 516.2L222.3 516.6L220.4 519.5L219.9 520.9L219.2 522.4L218.5 525.3L218.3 528.2L218.4 531.1L218.9 534.0L219.9 536.7L219.9 536.9L221.2 539.9L222.8 542.0L223.3 542.8L225.7 545.2L226.1 545.7L228.6 547.5ZM188.7 519.5L190.8 520.7L193.7 521.6L196.6 522.1L199.6 522.1L202.5 521.9L205.4 521.2L208.3 520.0L209.1 519.5L211.2 518.4L213.4 516.6L214.1 515.9L216.0 513.7L217.0 511.5L217.3 510.8L218.3 507.9L218.7 505.0L218.7 502.1L218.3 499.2L217.5 496.3L217.0 495.3L216.2 493.4L214.4 490.5L214.1 490.1L211.8 487.6L211.2 487.1L208.3 484.9L207.8 484.7L205.4 483.4L202.5 482.4L199.6 481.9L198.5 481.8L196.6 481.6L194.7 481.8L193.7 481.8L190.8 482.4L187.9 483.5L185.7 484.7L185.0 485.1L182.1 487.4L182.0 487.6L179.7 490.5L179.2 491.4L178.2 493.4L177.3 496.3L176.9 499.2L177.0 502.1L177.4 505.0L178.3 507.9L179.2 509.9L179.7 510.8L181.7 513.7L182.1 514.3L184.4 516.6L185.0 517.2L187.9 519.2Z"/>
<path fill="#ffef00" d="M233.8 548.6L234.4 548.8L237.3 549.5L240.2 549.8L243.1 549.7L246.0 549.2L247.7 548.6L248.9 548.1L251.8 546.5L252.9 545.7L254.7 543.9L255.7 542.8L257.6 539.9L257.6 539.7L258.7 536.9L259.3 534.0L259.4 531.1L259.0 528.2L258.3 525.3L257.6 523.8L257.0 522.4L255.2 519.5L254.7 519.0L252.4 516.6L251.8 516.0L248.9 514.1L248.2 513.7L246.0 512.7L243.1 511.9L240.2 511.5L237.3 511.6L234.4 512.1L231.5 513.2L230.5 513.7L228.6 514.8L226.4 516.6L225.7 517.3L223.8 519.5L222.8 521.5L222.2 522.4L221.2 525.3L220.7 528.2L220.7 531.1L221.1 534.0L221.9 536.9L222.8 538.7L223.3 539.9L225.4 542.8L225.7 543.1L228.4 545.7L228.6 545.8L231.5 547.6ZM192.7 519.5L193.7 519.9L196.6 520.3L199.6 520.2L202.5 519.6L202.8 519.5L205.4 518.7L208.3 517.1L208.9 516.6L211.2 514.7L212.1 513.7L214.1 510.8L214.1 510.8L215.5 507.9L216.1 505.0L216.4 502.1L216.2 499.2L215.5 496.3L214.3 493.4L214.1 493.1L212.5 490.5L211.2 489.1L209.7 487.6L208.3 486.5L205.4 484.7L205.2 484.7L202.5 483.6L199.6 482.9L196.6 482.7L193.7 482.9L190.8 483.5L187.9 484.6L187.7 484.7L185.0 486.3L183.5 487.6L182.1 489.0L181.0 490.5L179.3 493.4L179.2 493.7L178.4 496.3L178.0 499.2L178.0 502.1L178.5 505.0L179.2 507.2L179.5 507.9L181.0 510.8L182.1 512.4L183.2 513.7L185.0 515.5L186.5 516.6L187.9 517.6L190.8 519.0Z"/>
<path fill="#ffcf00" d="M238.8 548.6L240.2 548.7L243.1 548.6L243.4 548.6L246.0 548.0L248.9 546.9L251.1 545.7L251.8 545.2L254.4 542.8L254.7 542.3L256.4 539.9L257.6 536.9L257.6 536.8L258.2 534.0L258.3 531.1L258.0 528.2L257.6 526.9L257.2 525.3L255.8 522.4L254.7 520.8L253.7 519.5L251.8 517.6L250.5 516.6L248.9 515.5L246.0 514.2L244.4 513.7L243.1 513.4L240.2 513.1L237.3 513.3L235.5 513.7L234.4 514.0L231.5 515.2L229.4 516.6L228.6 517.3L226.4 519.5L225.7 520.5L224.4 522.4L223.3 525.3L222.8 527.8L222.7 528.2L222.5 531.1L222.8 533.2L222.9 534.0L223.6 536.9L225.1 539.9L225.7 540.7L227.2 542.8L228.6 544.0L230.7 545.7L231.5 546.2L234.4 547.5L237.3 548.4ZM189.0 516.6L190.8 517.6L193.7 518.4L196.6 518.7L199.6 518.5L202.5 517.9L205.3 516.6L205.4 516.6L208.3 514.7L209.4 513.7L211.2 511.7L211.8 510.8L213.3 507.9L214.1 505.3L214.2 505.0L214.6 502.1L214.4 499.2L214.1 497.8L213.8 496.3L212.6 493.4L211.2 491.2L210.7 490.5L208.3 488.1L207.7 487.6L205.4 486.1L202.5 484.7L202.2 484.7L199.6 484.0L196.6 483.7L193.7 483.9L190.8 484.5L190.4 484.7L187.9 485.7L185.0 487.6L185.0 487.6L182.2 490.5L182.1 490.6L180.5 493.4L179.5 496.3L179.2 497.8L179.0 499.2L179.1 502.1L179.2 503.0L179.6 505.0L180.7 507.9L182.1 510.5L182.3 510.8L184.8 513.7L185.0 513.9L187.9 516.1Z"/>
<path fill="#ffaf00" d="M233.1 545.7L234.4 546.3L237.3 547.2L240.2 547.6L243.1 547.5L246.0 546.9L248.9 545.8L249.1 545.7L251.8 543.8L252.9 542.8L254.7 540.5L255.1 539.9L256.4 536.9L257.1 534.0L257.3 531.1L256.9 528.2L256.0 525.3L254.7 522.7L254.5 522.4L252.2 519.5L251.8 519.1L248.9 516.9L248.3 516.6L246.0 515.5L243.1 514.7L240.2 514.5L237.3 514.8L234.4 515.6L232.4 516.6L231.5 517.1L228.6 519.5L228.6 519.5L226.4 522.4L225.7 523.8L225.0 525.3L224.2 528.2L224.0 531.1L224.4 534.0L225.2 536.9L225.7 537.9L226.7 539.9L228.6 542.2L229.1 542.8L231.5 544.7ZM192.5 516.6L193.7 517.0L196.6 517.3L199.6 517.0L201.0 516.6L202.5 516.2L205.4 514.8L206.9 513.7L208.3 512.5L209.7 510.8L211.2 508.5L211.5 507.9L212.5 505.0L213.0 502.1L212.9 499.2L212.3 496.3L211.2 493.7L211.0 493.4L209.0 490.5L208.3 489.7L205.7 487.6L205.4 487.4L202.5 486.0L199.6 485.1L196.6 484.8L193.7 484.9L190.8 485.7L187.9 486.9L186.9 487.6L185.0 489.0L183.6 490.5L182.1 492.6L181.7 493.4L180.6 496.3L180.1 499.2L180.2 502.1L180.7 505.0L181.9 507.9L182.1 508.4L183.7 510.8L185.0 512.3L186.7 513.7L187.9 514.7L190.8 516.1Z"/>
<path fill="#ff8f00" d="M236.2 545.7L237.3 546.0L240.2 546.5L243.1 546.4L246.0 545.8L246.3 545.7L248.9 544.4L251.3 542.8L251.8 542.3L253.8 539.9L254.7 538.2L255.3 536.9L256.0 534.0L256.2 531.1L255.8 528.2L254.9 525.3L254.7 525.1L253.1 522.4L251.8 520.8L250.4 519.5L248.9 518.4L246.0 516.9L245.2 516.6L243.1 516.1L240.2 515.9L237.3 516.2L236.0 516.6L234.4 517.2L231.5 518.9L230.8 519.5L228.6 521.9L228.2 522.4L226.6 525.3L225.8 528.2L225.7 529.3L225.5 531.1L225.7 532.7L225.8 534.0L226.7 536.9L228.3 539.9L228.6 540.2L230.9 542.8L231.5 543.2L234.4 545.0ZM188.8 513.7L190.8 514.8L193.7 515.6L196.6 515.9L199.6 515.6L202.5 514.7L204.2 513.7L205.4 513.0L207.8 510.8L208.3 510.2L209.8 507.9L211.0 505.0L211.2 504.0L211.5 502.1L211.5 499.2L211.2 497.9L210.8 496.3L209.5 493.4L208.3 491.7L207.2 490.5L205.4 488.9L203.3 487.6L202.5 487.2L199.6 486.3L196.6 485.9L193.7 486.1L190.8 486.8L189.1 487.6L187.9 488.2L185.0 490.5L185.0 490.5L183.0 493.4L182.1 495.2L181.7 496.3L181.2 499.2L181.3 502.1L181.9 505.0L182.1 505.7L183.2 507.9L185.0 510.6L185.2 510.8L187.9 513.2Z"/>
<path fill="#ff7000" d="M233.1 542.8L234.4 543.6L237.3 544.7L240.2 545.3L243.1 545.2L246.0 544.4L248.9 543.1L249.4 542.8L251.8 540.5L252.4 539.9L254.0 536.9L254.7 534.6L254.9 534.0L255.0 531.1L254.7 528.8L254.6 528.2L253.5 525.3L251.8 522.6L251.7 522.4L248.9 519.8L248.4 519.5L246.0 518.3L243.1 517.4L240.2 517.2L237.3 517.7L234.4 518.8L233.2 519.5L231.5 520.8L230.0 522.4L228.6 524.6L228.2 525.3L227.2 528.2L226.9 531.1L227.2 534.0L228.2 536.9L228.6 537.7L230.0 539.9L231.5 541.5ZM191.9 513.7L193.7 514.3L196.6 514.5L199.6 514.1L200.8 513.7L202.5 513.1L205.4 511.2L205.7 510.8L208.1 507.9L208.3 507.7L209.5 505.0L210.1 502.1L210.0 499.2L209.4 496.3L208.3 494.0L207.9 493.4L205.4 490.5L205.4 490.4L202.5 488.6L200.0 487.6L199.6 487.5L196.6 487.1L193.7 487.2L192.3 487.6L190.8 488.0L187.9 489.6L186.8 490.5L185.0 492.4L184.3 493.4L183.0 496.3L182.4 499.2L182.4 502.1L183.2 505.0L184.5 507.9L185.0 508.6L187.0 510.8L187.9 511.6L190.8 513.4Z"/>
<path fill="#ff5000" d="M235.8 542.8L237.3 543.4L240.2 543.9L243.1 543.8L246.0 543.1L246.8 542.8L248.9 541.4L250.6 539.9L251.8 538.3L252.6 536.9L253.5 534.0L253.7 531.1L253.2 528.2L252.1 525.3L251.8 524.8L249.9 522.4L248.9 521.5L246.0 519.7L245.6 519.5L243.1 518.8L240.2 518.6L237.3 519.1L236.3 519.5L234.4 520.5L231.9 522.4L231.5 522.9L229.9 525.3L228.7 528.2L228.6 529.2L228.4 531.1L228.6 533.3L228.7 534.0L229.8 536.9L231.5 539.6L231.7 539.9L234.4 542.0ZM189.1 510.8L190.8 511.8L193.7 512.8L196.6 513.1L199.6 512.6L202.5 511.4L203.4 510.8L205.4 509.1L206.3 507.9L207.9 505.0L208.3 503.6L208.6 502.1L208.6 499.2L208.3 497.8L207.9 496.3L206.2 493.4L205.4 492.4L203.2 490.5L202.5 490.0L199.6 488.9L196.6 488.4L193.7 488.6L190.8 489.5L189.0 490.5L187.9 491.3L186.0 493.4L185.0 494.9L184.4 496.3L183.8 499.2L183.8 502.1L184.5 505.0L185.0 506.1L186.2 507.9L187.9 509.9Z"/>
<path fill="#ff3000" d="M233.9 539.9L234.4 540.3L237.3 541.8L240.2 542.5L243.1 542.4L246.0 541.4L248.6 539.9L248.9 539.5L250.9 536.9L251.8 534.7L252.0 534.0L252.3 531.1L251.8 528.2L251.8 528.2L250.3 525.3L248.9 523.5L247.7 522.4L246.0 521.4L243.1 520.4L240.2 520.2L237.3 520.8L234.4 522.3L234.2 522.4L231.6 525.3L231.5 525.5L230.4 528.2L230.0 531.1L230.3 534.0L231.4 536.9L231.5 537.1ZM192.3 510.8L193.7 511.3L196.6 511.5L199.6 511.1L200.1 510.8L202.5 509.5L204.3 507.9L205.4 506.5L206.2 505.0L207.0 502.1L207.0 499.2L206.2 496.3L205.4 494.9L204.2 493.4L202.5 491.9L199.9 490.5L199.6 490.3L196.6 489.9L193.7 490.1L192.4 490.5L190.8 491.2L187.9 493.3L187.8 493.4L186.1 496.3L185.2 499.2L185.2 502.1L186.2 505.0L187.9 507.9L187.9 507.9L190.8 510.1Z"/>
<path fill="#ff1000" d="M237.1 539.9L237.3 540.0L240.2 540.6L243.1 540.5L245.1 539.9L246.0 539.4L248.8 536.9L248.9 536.7L250.0 534.0L250.3 531.1L249.8 528.2L248.9 526.4L248.2 525.3L246.0 523.4L244.0 522.4L243.1 522.1L240.2 521.9L237.9 522.4L237.3 522.6L234.4 524.7L233.8 525.3L232.2 528.2L231.7 531.1L232.1 534.0L233.6 536.9L234.4 537.9ZM190.6 507.9L190.8 508.1L193.7 509.4L196.6 509.7L199.6 509.1L201.7 507.9L202.5 507.2L204.1 505.0L205.2 502.1L205.2 499.2L204.1 496.3L202.5 494.1L201.5 493.4L199.6 492.4L196.6 491.8L193.7 492.1L190.8 493.3L190.7 493.4L188.2 496.3L187.9 496.8L187.2 499.2L187.2 502.1L187.9 504.6L188.1 505.0Z"/>
<path fill="#ef0000" d="M236.9 536.9L237.3 537.2L240.2 538.0L243.1 537.7L244.7 536.9L246.0 535.8L247.1 534.0L247.6 531.1L247.0 528.2L246.0 526.7L244.5 525.3L243.1 524.7L240.2 524.4L237.3 525.2L237.1 525.3L234.6 528.2L234.4 528.9L234.0 531.1L234.4 533.8L234.5 534.0ZM191.2 505.0L193.7 506.7L196.6 507.3L199.6 506.4L201.2 505.0L202.5 503.1L202.8 502.1L202.8 499.2L202.5 498.4L200.9 496.3L199.6 495.3L196.6 494.6L193.7 495.3L192.1 496.3L190.8 497.8L190.2 499.2L190.1 502.1L190.8 504.3Z"/>
</g></g>
<g clip-path="url(#cle)"><g filter="url(#bl)">
<rect x="386.8" y="389.0" width="258.0" height="258.0" fill="#000080"/>
<path fill="#0000af" d="M386.5 647.3L389.4 647.3L392.3 647.3L395.2 647.3L398.1 647.3L401.0 647.3L403.9 647.3L406.8 647.3L409.7 647.3L412.6 647.3L415.5 647.3L418.4 647.3L421.4 647.3L424.3 647.3L427.2 647.3L430.1 647.3L433.0 647.3L435.9 647.3L438.8 647.3L441.7 647.3L444.6 647.3L447.5 647.3L450.4 647.3L453.3 647.3L456.2 647.3L459.1 647.3L462.0 647.3L464.9 647.3L467.8 647.3L470.7 647.3L473.6 647.3L476.5 647.3L479.4 647.3L482.3 647.3L485.2 647.3L488.1 647.3L491.0 647.3L493.9 647.3L496.9 647.3L499.8 647.3L502.7 647.3L505.6 647.3L508.5 647.3L511.4 647.3L514.3 647.3L517.2 647.3L520.1 647.3L523.0 647.3L525.9 647.3L528.8 647.3L531.7 647.3L534.6 647.3L537.5 647.3L540.4 647.3L543.3 647.3L546.2 647.3L549.1 647.3L552.0 647.3L554.9 647.3L557.8 647.3L560.7 647.3L563.6 647.3L566.5 647.3L569.4 647.3L572.3 647.3L575.3 647.3L578.2 647.3L581.1 647.3L584.0 647.3L586.9 647.3L589.8 647.3L592.7 647.3L595.6 647.3L598.5 647.3L601.4 647.3L604.3 647.3L607.2 647.3L610.1 647.3L613.0 647.3L615.9 647.3L618.8 647.3L621.7 647.3L624.6 647.3L627.5 647.3L630.4 647.3L633.3 647.3L636.2 647.3L639.1 647.3L642.0 647.3L644.9 647.3L644.9 644.4L644.9 641.5L644.9 638.6L644.9 635.7L644.9 632.8L644.9 629.9L644.9 627.0L644.9 624.1L644.9 621.2L644.9 618.3L644.9 615.4L644.9 612.4L644.9 609.5L644.9 606.6L644.9 603.7L644.9 600.8L644.9 597.9L644.9 595.0L644.9 592.1L644.9 589.2L644.9 586.3L644.9 583.4L644.9 580.5L644.9 577.6L644.9 574.7L644.9 571.8L644.9 568.9L644.9 566.0L644.9 563.1L644.9 560.2L644.9 557.3L644.9 554.4L644.9 551.5L644.9 548.6L644.9 545.7L644.9 542.8L644.9 539.9L644.9 536.9L644.9 534.0L644.9 531.1L644.9 528.2L644.9 525.3L644.9 522.4L644.9 519.5L644.9 516.6L644.9 513.7L644.9 510.8L644.9 507.9L644.9 505.0L644.9 502.1L644.9 499.2L644.9 496.3L644.9 493.4L644.9 490.5L644.9 487.6L644.9 484.7L644.9 481.8L644.9 478.9L644.9 476.0L644.9 473.1L644.9 470.2L644.9 467.3L644.9 464.4L644.9 461.5L644.9 458.5L644.9 455.6L644.9 452.7L644.9 449.8L644.9 446.9L644.9 444.0L644.9 441.1L644.9 438.2L644.9 435.3L644.9 432.4L644.9 429.5L644.9 426.6L644.9 423.7L644.9 420.8L644.9 417.9L644.9 415.0L644.9 412.1L644.9 409.2L644.9 406.3L644.9 403.4L644.9 400.5L644.9 397.6L644.9 394.7L644.9 391.8L644.9 388.9L642.0 388.9L639.1 388.9L636.2 388.9L633.3 388.9L630.4 388.9L627.5 388.9L624.6 388.9L621.7 388.9L618.8 388.9L615.9 388.9L613.0 388.9L610.1 388.9L607.2 388.9L604.3 388.9L601.4 388.9L598.5 388.9L595.6 388.9L592.7 388.9L589.8 388.9L586.9 388.9L584.0 388.9L581.1 388.9L578.2 388.9L575.3 388.9L572.3 388.9L569.4 388.9L566.5 388.9L563.6 388.9L560.7 388.9L557.8 388.9L554.9 388.9L552.0 388.9L549.1 388.9L546.2 388.9L543.3 388.9L540.4 388.9L537.5 388.9L534.6 388.9L531.7 388.9L528.8 388.9L525.9 388.9L523.0 388.9L520.1 388.9L517.2 388.9L514.3 388.9L511.4 388.9L508.5 388.9L505.6 388.9L502.7 388.9L499.8 388.9L496.9 388.9L493.9 388.9L491.0 388.9L488.1 388.9L485.2 388.9L482.3 388.9L479.4 388.9L476.5 388.9L473.6 388.9L470.7 388.9L467.8 388.9L464.9 388.9L462.0 388.9L459.1 388.9L456.2 388.9L453.3 388.9L450.4 388.9L447.5 388.9L444.6 388.9L441.7 388.9L438.8 388.9L435.9 388.9L433.0 388.9L430.1 388.9L427.2 388.9L424.3 388.9L421.4 388.9L418.4 388.9L415.5 388.9L412.6 388.9L409.7 388.9L406.8 388.9L403.9 388.9L401.0 388.9L398.1 388.9L395.2 388.9L392.3 388.9L389.4 388.9L386.5 388.9L386.5 391.8L386.5 394.7L386.5 397.6L386.5 400.5L386.5 403.4L386.5 406.3L386.5 409.2L386.5 412.1L386.5 415.0L386.5 417.9L386.5 420.8L386.5 423.7L386.5 426.6L386.5 429.5L386.5 432.4L386.5 435.3L386.5 438.2L386.5 441.1L386.5 444.0L386.5 446.9L386.5 449.8L386.5 452.7L386.5 455.6L386.5 458.5L386.5 461.5L386.5 464.4L386.5 467.3L386.5 470.2L386.5 473.1L386.5 476.0L386.5 478.9L386.5 481.8L386.5 484.7L386.5 487.6L386.5 490.5L386.5 493.4L386.5 496.3L386.5 499.2L386.5 502.1L386.5 505.0L386.5 507.9L386.5 510.8L386.5 513.7L386.5 516.6L386.5 519.5L386.5 522.4L386.5 525.3L386.5 528.2L386.5 531.1L386.5 534.0L386.5 536.9L386.5 539.9L386.5 542.8L386.5 545.7L386.5 548.6L386.5 551.5L386.5 554.4L386.5 557.3L386.5 560.2L386.5 563.1L386.5 566.0L386.5 568.9L386.5 571.8L386.5 574.7L386.5 577.6L386.5 580.5L386.5 583.4L386.5 586.3L386.5 589.2L386.5 592.1L386.5 595.0L386.5 597.9L386.5 600.8L386.5 603.7L386.5 606.6L386.5 609.5L386.5 612.4L386.5 615.4L386.5 618.3L386.5 621.2L386.5 624.1L386.5 627.0L386.5 629.9L386.5 632.8L386.5 635.7L386.5 638.6L386.5 641.5L386.5 644.4Z"/>
<path fill="#0000cf" d="M386.5 647.3L389.4 647.3L392.3 647.3L395.2 647.3L398.1 647.3L401.0 647.3L403.9 647.3L406.8 647.3L409.7 647.3L412.6 647.3L415.5 647.3L418.4 647.3L421.4 647.3L424.3 647.3L427.2 647.3L430.1 647.3L433.0 647.3L435.9 647.3L438.8 647.3L441.7 647.3L444.6 647.3L447.5 647.3L450.4 647.3L453.3 647.3L456.2 647.3L459.1 647.3L462.0 647.3L464.9 647.3L467.8 647.3L470.7 647.3L473.6 647.3L476.5 647.3L479.4 647.3L482.3 647.3L485.2 647.3L488.1 647.3L491.0 647.3L493.9 647.3L496.9 647.3L499.8 647.3L502.7 647.3L505.6 647.3L508.5 647.3L511.4 647.3L514.3 647.3L517.2 647.3L520.1 647.3L523.0 647.3L525.9 647.3L528.8 647.3L531.7 647.3L534.6 647.3L537.5 647.3L540.4 647.3L543.3 647.3L546.2 647.3L549.1 647.3L552.0 647.3L554.9 647.3L557.8 647.3L560.7 647.3L563.6 647.3L566.5 647.3L569.4 647.3L572.3 647.3L575.3 647.3L578.2 647.3L581.1 647.3L584.0 647.3L586.9 647.3L589.8 647.3L592.7 647.3L595.6 647.3L598.5 647.3L601.4 647.3L604.3 647.3L607.2 647.3L610.1 647.3L613.0 647.3L615.9 647.3L618.8 647.3L621.7 647.3L624.6 647.3L627.5 647.3L630.4 647.3L633.3 647.3L636.2 647.3L639.1 647.3L642.0 647.3L644.9 647.3L644.9 644.4L644.9 641.5L644.9 638.6L644.9 635.7L644.9 632.8L644.9 629.9L644.9 627.0L644.9 624.1L644.9 621.2L644.9 618.3L644.9 615.4L644.9 612.4L644.9 609.5L644.9 606.6L644.9 603.7L644.9 600.8L644.9 597.9L644.9 595.0L644.9 592.1L644.9 589.2L644.9 586.3L644.9 583.4L644.9 580.5L644.9 577.6L644.9 574.7L644.9 571.8L644.9 568.9L644.9 566.0L644.9 563.1L644.9 560.2L644.9 557.3L644.9 554.4L644.9 551.5L644.9 548.6L644.9 545.7L644.9 542.8L644.9 539.9L644.9 536.9L644.9 534.0L644.9 531.1L644.9 528.2L644.9 525.3L644.9 522.4L644.9 519.5L644.9 516.6L644.9 513.7L644.9 510.8L644.9 507.9L644.9 505.0L644.9 502.1L644.9 499.2L644.9 496.3L644.9 493.4L644.9 490.5L644.9 487.6L644.9 484.7L644.9 481.8L644.9 478.9L644.9 476.0L644.9 473.1L644.9 470.2L644.9 467.3L644.9 464.4L644.9 461.5L644.9 458.5L644.9 455.6L644.9 452.7L644.9 449.8L644.9 446.9L644.9 444.0L644.9 441.1L644.9 438.2L644.9 435.3L644.9 432.4L644.9 429.5L644.9 426.6L644.9 423.7L644.9 420.8L644.9 417.9L644.9 415.0L644.9 412.1L644.9 409.2L644.9 406.3L644.9 403.4L644.9 400.5L644.9 397.6L644.9 394.7L644.9 391.8L644.9 388.9L642.0 388.9L639.1 388.9L636.2 388.9L633.3 388.9L630.4 388.9L627.5 388.9L624.6 388.9L621.7 388.9L618.8 388.9L615.9 388.9L613.0 388.9L610.1 388.9L607.2 388.9L604.3 388.9L601.4 388.9L598.5 388.9L595.6 388.9L592.7 388.9L589.8 388.9L586.9 388.9L584.0 388.9L581.1 388.9L578.2 388.9L575.3 388.9L572.3 388.9L569.4 388.9L566.5 388.9L563.6 388.9L560.7 388.9L557.8 388.9L554.9 388.9L552.0 388.9L549.1 388.9L546.2 388.9L543.3 388.9L540.4 388.9L537.5 388.9L534.6 388.9L531.7 388.9L528.8 388.9L525.9 388.9L523.0 388.9L520.1 388.9L517.2 388.9L514.3 388.9L511.4 388.9L508.5 388.9L505.6 388.9L502.7 388.9L499.8 388.9L496.9 388.9L493.9 388.9L491.0 388.9L488.1 388.9L485.2 388.9L482.3 388.9L479.4 388.9L476.5 388.9L473.6 388.9L470.7 388.9L467.8 388.9L464.9 388.9L462.0 388.9L459.1 388.9L456.2 388.9L453.3 388.9L450.4 388.9L447.5 388.9L444.6 388.9L441.7 388.9L438.8 388.9L435.9 388.9L433.0 388.9L430.1 388.9L427.2 388.9L424.3 388.9L421.4 388.9L418.4 388.9L415.5 388.9L412.6 388.9L409.7 388.9L406.8 388.9L403.9 388.9L401.0 388.9L398.1 388.9L395.2 388.9L392.3 388.9L389.4 388.9L386.5 388.9L386.5 391.8L386.5 394.7L386.5 397.6L386.5 400.5L386.5 403.4L386.5 406.3L386.5 409.2L386.5 412.1L386.5 415.0L386.5 417.9L386.5 420.8L386.5 423.7L386.5 426.6L386.5 429.5L386.5 432.4L386.5 435.3L386.5 438.2L386.5 441.1L386.5 444.0L386.5 446.9L386.5 449.8L386.5 452.7L386.5 455.6L386.5 458.5L386.5 461.5L386.5 464.4L386.5 467.3L386.5 470.2L386.5 473.1L386.5 476.0L386.5 478.9L386.5 481.8L386.5 484.7L386.5 487.6L386.5 490.5L386.5 493.4L386.5 496.3L386.5 499.2L386.5 502.1L386.5 505.0L386.5 507.9L386.5 510.8L386.5 513.7L386.5 516.6L386.5 519.5L386.5 522.4L386.5 525.3L386.5 528.2L386.5 531.1L386.5 534.0L386.5 536.9L386.5 539.9L386.5 542.8L386.5 545.7L386.5 548.6L386.5 551.5L386.5 554.4L386.5 557.3L386.5 560.2L386.5 563.1L386.5 566.0L386.5 568.9L386.5 571.8L386.5 574.7L386.5 577.6L386.5 580.5L386.5 583.4L386.5 586.3L386.5 589.2L386.5 592.1L386.5 595.0L386.5 597.9L386.5 600.8L386.5 603.7L386.5 606.6L386.5 609.5L386.5 612.4L386.5 615.4L386.5 618.3L386.5 621.2L386.5 624.1L386.5 627.0L386.5 629.9L386.5 632.8L386.5 635.7L386.5 638.6L386.5 641.5L386.5 644.4ZM479.4 581.8L476.8 580.5L476.5 580.3L473.6 577.9L473.4 577.6L471.4 574.7L470.7 572.5L470.5 571.8L470.7 569.2L470.8 568.9L473.3 566.0L473.6 565.8L476.5 565.1L479.4 565.3L481.9 566.0L482.3 566.1L485.2 567.6L487.2 568.9L488.1 569.7L490.2 571.8L491.0 573.1L491.9 574.7L492.4 577.6L491.3 580.5L491.0 580.7L488.1 582.4L485.2 583.0L482.3 582.7ZM584.0 528.5L582.3 528.2L581.1 528.0L578.2 525.4L578.1 525.3L576.9 522.4L576.1 519.5L575.8 516.6L575.9 513.7L576.4 510.8L577.3 507.9L578.2 506.4L579.4 505.0L581.1 503.7L584.0 503.3L586.9 504.4L587.5 505.0L589.8 507.8L589.8 507.9L590.9 510.8L591.4 513.7L591.5 516.6L591.2 519.5L590.4 522.4L589.8 523.8L588.6 525.3L586.9 527.2L584.6 528.2ZM476.5 467.3L476.5 467.3L473.6 465.5L472.8 464.4L472.2 461.5L472.8 458.5L473.6 457.1L474.5 455.6L476.5 453.7L477.7 452.7L479.4 451.8L482.3 450.6L485.2 450.0L488.1 450.2L491.0 451.6L492.3 452.7L493.3 455.6L492.7 458.5L491.0 461.4L491.0 461.5L488.1 464.1L487.8 464.4L485.2 465.8L482.3 467.0L480.8 467.3L479.4 467.5Z"/>
<path fill="#0000ef" d="M386.5 647.3L389.4 647.3L392.3 647.3L395.2 647.3L398.1 647.3L401.0 647.3L403.9 647.3L406.8 647.3L409.7 647.3L412.6 647.3L415.5 647.3L418.4 647.3L421.4 647.3L424.3 647.3L427.2 647.3L430.1 647.3L433.0 647.3L435.9 647.3L438.8 647.3L441.7 647.3L444.6 647.3L447.5 647.3L450.4 647.3L453.3 647.3L456.2 647.3L459.1 647.3L462.0 647.3L464.9 647.3L467.8 647.3L470.7 647.3L473.6 647.3L476.5 647.3L479.4 647.3L482.3 647.3L485.2 647.3L488.1 647.3L491.0 647.3L493.9 647.3L496.9 647.3L499.8 647.3L502.7 647.3L505.6 647.3L508.5 647.3L511.4 647.3L514.3 647.3L517.2 647.3L520.1 647.3L523.0 647.3L525.9 647.3L528.8 647.3L531.7 647.3L534.6 647.3L537.5 647.3L540.4 647.3L543.3 647.3L546.2 647.3L549.1 647.3L552.0 647.3L554.9 647.3L557.8 647.3L560.7 647.3L563.6 647.3L566.5 647.3L569.4 647.3L572.3 647.3L575.3 647.3L578.2 647.3L581.1 647.3L584.0 647.3L586.9 647.3L589.8 647.3L592.7 647.3L595.6 647.3L598.5 647.3L601.4 647.3L604.3 647.3L607.2 647.3L610.1 647.3L613.0 647.3L615.9 647.3L618.8 647.3L621.7 647.3L624.6 647.3L627.5 647.3L630.4 647.3L633.3 647.3L636.2 647.3L639.1 647.3L642.0 647.3L644.9 647.3L644.9 644.4L644.9 641.5L644.9 638.6L644.9 635.7L644.9 632.8L644.9 629.9L644.9 627.0L644.9 624.1L644.9 621.2L644.9 618.3L644.9 615.4L644.9 612.4L644.9 609.5L644.9 606.6L644.9 603.7L644.9 600.8L644.9 597.9L644.9 595.0L644.9 592.1L644.9 589.2L644.9 586.3L644.9 583.4L644.9 580.5L644.9 577.6L644.9 574.7L644.9 571.8L644.9 568.9L644.9 566.0L644.9 563.1L644.9 560.2L644.9 557.3L644.9 554.4L644.9 551.5L644.9 548.6L644.9 545.7L644.9 542.8L644.9 539.9L644.9 536.9L644.9 534.0L644.9 531.1L644.9 528.2L644.9 525.3L644.9 522.4L644.9 519.5L644.9 516.6L644.9 513.7L644.9 510.8L644.9 507.9L644.9 505.0L644.9 502.1L644.9 499.2L644.9 496.3L644.9 493.4L644.9 490.5L644.9 487.6L644.9 484.7L644.9 481.8L644.9 478.9L644.9 476.0L644.9 473.1L644.9 470.2L644.9 467.3L644.9 464.4L644.9 461.5L644.9 458.5L644.9 455.6L644.9 452.7L644.9 449.8L644.9 446.9L644.9 444.0L644.9 441.1L644.9 438.2L644.9 435.3L644.9 432.4L644.9 429.5L644.9 426.6L644.9 423.7L644.9 420.8L644.9 417.9L644.9 415.0L644.9 412.1L644.9 409.2L644.9 406.3L644.9 403.4L644.9 400.5L644.9 397.6L644.9 394.7L644.9 391.8L644.9 388.9L642.0 388.9L639.1 388.9L636.2 388.9L633.3 388.9L630.4 388.9L627.5 388.9L624.6 388.9L621.7 388.9L618.8 388.9L615.9 388.9L613.0 388.9L610.1 388.9L607.2 388.9L604.3 388.9L601.4 388.9L598.5 388.9L595.6 388.9L592.7 388.9L589.8 388.9L586.9 388.9L584.0 388.9L581.1 388.9L578.2 388.9L575.3 388.9L572.3 388.9L569.4 388.9L566.5 388.9L563.6 388.9L560.7 388.9L557.8 388.9L554.9 388.9L552.0 388.9L549.1 388.9L546.2 388.9L543.3 388.9L540.4 388.9L537.5 388.9L534.6 388.9L531.7 388.9L528.8 388.9L525.9 388.9L523.0 388.9L520.1 388.9L517.2 388.9L514.3 388.9L511.4 388.9L508.5 388.9L505.6 388.9L502.7 388.9L499.8 388.9L496.9 388.9L493.9 388.9L491.0 388.9L488.1 388.9L485.2 388.9L482.3 388.9L479.4 388.9L476.5 388.9L473.6 388.9L470.7 388.9L467.8 388.9L464.9 388.9L462.0 388.9L459.1 388.9L456.2 388.9L453.3 388.9L450.4 388.9L447.5 388.9L444.6 388.9L441.7 388.9L438.8 388.9L435.9 388.9L433.0 388.9L430.1 388.9L427.2 388.9L424.3 388.9L421.4 388.9L418.4 388.9L415.5 388.9L412.6 388.9L409.7 388.9L406.8 388.9L403.9 388.9L401.0 388.9L398.1 388.9L395.2 388.9L392.3 388.9L389.4 388.9L386.5 388.9L386.5 391.8L386.5 394.7L386.5 397.6L386.5 400.5L386.5 403.4L386.5 406.3L386.5 409.2L386.5 412.1L386.5 415.0L386.5 417.9L386.5 420.8L386.5 423.7L386.5 426.6L386.5 429.5L386.5 432.4L386.5 435.3L386.5 438.2L386.5 441.1L386.5 444.0L386.5 446.9L386.5 449.8L386.5 452.7L386.5 455.6L386.5 458.5L386.5 461.5L386.5 464.4L386.5 467.3L386.5 470.2L386.5 473.1L386.5 476.0L386.5 478.9L386.5 481.8L386.5 484.7L386.5 487.6L386.5 490.5L386.5 493.4L386.5 496.3L386.5 499.2L386.5 502.1L386.5 505.0L386.5 507.9L386.5 510.8L386.5 513.7L386.5 516.6L386.5 519.5L386.5 522.4L386.5 525.3L386.5 528.2L386.5 531.1L386.5 534.0L386.5 536.9L386.5 539.9L386.5 542.8L386.5 545.7L386.5 548.6L386.5 551.5L386.5 554.4L386.5 557.3L386.5 560.2L386.5 563.1L386.5 566.0L386.5 568.9L386.5 571.8L386.5 574.7L386.5 577.6L386.5 580.5L386.5 583.4L386.5 586.3L386.5 589.2L386.5 592.1L386.5 595.0L386.5 597.9L386.5 600.8L386.5 603.7L386.5 606.6L386.5 609.5L386.5 612.4L386.5 615.4L386.5 618.3L386.5 621.2L386.5 624.1L386.5 627.0L386.5 629.9L386.5 632.8L386.5 635.7L386.5 638.6L386.5 641.5L386.5 644.4ZM479.4 589.3L479.2 589.2L476.5 588.0L473.6 586.5L473.3 586.3L470.7 584.5L469.3 583.4L467.8 582.0L466.3 580.5L464.9 578.8L464.0 577.6L462.2 574.7L462.0 574.1L461.0 571.8L460.3 568.9L460.1 566.0L460.5 563.1L461.6 560.2L462.0 559.4L463.7 557.3L464.9 556.2L467.8 554.7L469.0 554.4L470.7 554.0L473.6 554.1L475.2 554.4L476.5 554.6L479.4 555.5L482.3 556.8L483.3 557.3L485.2 558.2L488.1 559.9L488.7 560.2L491.0 561.7L493.3 563.1L493.9 563.6L496.9 565.7L497.3 566.0L499.8 568.1L500.7 568.9L502.7 571.2L503.2 571.8L504.8 574.7L505.6 577.5L505.6 577.6L505.6 578.7L505.5 580.5L504.5 583.4L502.7 586.1L502.5 586.3L499.8 588.4L498.4 589.2L496.9 589.9L493.9 590.7L491.0 591.1L488.1 591.1L485.2 590.8L482.3 590.2ZM578.2 541.0L575.4 539.9L575.3 539.8L572.3 537.1L572.2 536.9L570.6 534.0L569.6 531.1L569.4 530.7L568.9 528.2L568.5 525.3L568.2 522.4L568.1 519.5L568.0 516.6L567.9 513.7L568.0 510.8L568.2 507.9L568.5 505.0L569.0 502.1L569.4 500.2L569.8 499.2L571.2 496.3L572.3 494.7L573.7 493.4L575.3 492.2L578.2 491.0L581.1 490.7L584.0 491.1L586.9 492.3L588.6 493.4L589.8 494.2L591.8 496.3L592.7 497.3L593.9 499.2L595.5 502.1L595.6 502.2L596.6 505.0L597.4 507.9L598.0 510.8L598.3 513.7L598.4 516.6L598.2 519.5L597.7 522.4L597.1 525.3L596.1 528.2L595.6 529.6L594.8 531.1L593.0 534.0L592.7 534.6L590.5 536.9L589.8 537.7L586.9 539.7L586.6 539.9L584.0 540.9L581.1 541.3ZM473.6 479.1L471.8 478.9L470.7 478.7L467.8 477.7L465.4 476.0L464.9 475.5L463.2 473.1L462.0 470.4L461.9 470.2L461.5 467.3L461.6 464.4L462.0 462.5L462.2 461.5L463.4 458.5L464.9 455.7L465.0 455.6L467.2 452.7L467.8 452.0L470.0 449.8L470.7 449.3L473.6 447.1L473.8 446.9L476.5 445.4L479.3 444.0L479.4 444.0L482.3 443.0L485.2 442.3L488.1 441.9L491.0 441.8L493.9 442.1L496.9 442.9L499.7 444.0L499.8 444.1L502.7 446.2L503.4 446.9L505.4 449.8L505.6 450.2L506.4 452.7L506.6 455.6L506.0 458.5L505.6 459.4L504.6 461.5L502.7 463.9L502.3 464.4L499.8 466.7L499.1 467.3L496.9 468.9L495.1 470.2L493.9 470.9L491.0 472.7L490.4 473.1L488.1 474.3L485.2 475.8L484.8 476.0L482.3 477.0L479.4 478.1L476.5 478.8L475.5 478.9Z"/>
<path fill="#0010ff" d="M386.5 647.3L389.4 647.3L392.3 647.3L395.2 647.3L398.1 647.3L401.0 647.3L403.9 647.3L406.8 647.3L409.7 647.3L412.6 647.3L415.5 647.3L418.4 647.3L421.4 647.3L424.3 647.3L427.2 647.3L430.1 647.3L433.0 647.3L435.9 647.3L438.8 647.3L441.7 647.3L444.6 647.3L447.5 647.3L450.4 647.3L453.3 647.3L456.2 647.3L459.1 647.3L462.0 647.3L464.9 647.3L467.8 647.3L470.7 647.3L473.6 647.3L476.5 647.3L479.4 647.3L482.3 647.3L485.2 647.3L488.1 647.3L491.0 647.3L493.9 647.3L496.9 647.3L499.8 647.3L502.7 647.3L505.6 647.3L508.5 647.3L511.4 647.3L514.3 647.3L517.2 647.3L520.1 647.3L523.0 647.3L525.9 647.3L528.8 647.3L531.7 647.3L534.6 647.3L537.5 647.3L540.4 647.3L543.3 647.3L546.2 647.3L549.1 647.3L552.0 647.3L554.9 647.3L557.8 647.3L560.7 647.3L563.6 647.3L566.5 647.3L569.4 647.3L572.3 647.3L575.3 647.3L578.2 647.3L581.1 647.3L584.0 647.3L586.9 647.3L589.8 647.3L592.7 647.3L595.6 647.3L598.5 647.3L601.4 647.3L604.3 647.3L607.2 647.3L610.1 647.3L613.0 647.3L615.9 647.3L618.8 647.3L621.7 647.3L624.6 647.3L627.5 647.3L630.4 647.3L633.3 647.3L636.2 647.3L639.1 647.3L642.0 647.3L644.9 647.3L644.9 644.4L644.9 641.5L644.9 638.6L644.9 635.7L644.9 632.8L644.9 629.9L644.9 627.0L644.9 624.1L644.9 621.2L644.9 618.3L644.9 615.4L644.9 612.4L644.9 609.5L644.9 606.6L644.9 603.7L644.9 600.8L644.9 597.9L644.9 595.0L644.9 592.1L644.9 589.2L644.9 586.3L644.9 583.4L644.9 580.5L644.9 577.6L644.9 574.7L644.9 571.8L644.9 568.9L644.9 566.0L644.9 563.1L644.9 560.2L644.9 557.3L644.9 554.4L644.9 551.5L644.9 548.6L644.9 545.7L644.9 542.8L644.9 539.9L644.9 536.9L644.9 534.0L644.9 531.1L644.9 528.2L644.9 525.3L644.9 522.4L644.9 519.5L644.9 516.6L644.9 513.7L644.9 510.8L644.9 507.9L644.9 505.0L644.9 502.1L644.9 499.2L644.9 496.3L644.9 493.4L644.9 490.5L644.9 487.6L644.9 484.7L644.9 481.8L644.9 478.9L644.9 476.0L644.9 473.1L644.9 470.2L644.9 467.3L644.9 464.4L644.9 461.5L644.9 458.5L644.9 455.6L644.9 452.7L644.9 449.8L644.9 446.9L644.9 444.0L644.9 441.1L644.9 438.2L644.9 435.3L644.9 432.4L644.9 429.5L644.9 426.6L644.9 423.7L644.9 420.8L644.9 417.9L644.9 415.0L644.9 412.1L644.9 409.2L644.9 406.3L644.9 403.4L644.9 400.5L644.9 397.6L644.9 394.7L644.9 391.8L644.9 388.9L642.0 388.9L639.1 388.9L636.2 388.9L633.3 388.9L630.4 388.9L627.5 388.9L624.6 388.9L621.7 388.9L618.8 388.9L615.9 388.9L613.0 388.9L610.1 388.9L607.2 388.9L604.3 388.9L601.4 388.9L598.5 388.9L595.6 388.9L592.7 388.9L589.8 388.9L586.9 388.9L584.0 388.9L581.1 388.9L578.2 388.9L575.3 388.9L572.3 388.9L569.4 388.9L566.5 388.9L563.6 388.9L560.7 388.9L557.8 388.9L554.9 388.9L552.0 388.9L549.1 388.9L546.2 388.9L543.3 388.9L540.4 388.9L537.5 388.9L534.6 388.9L531.7 388.9L528.8 388.9L525.9 388.9L523.0 388.9L520.1 388.9L517.2 388.9L514.3 388.9L511.4 388.9L508.5 388.9L505.6 388.9L502.7 388.9L499.8 388.9L496.9 388.9L493.9 388.9L491.0 388.9L488.1 388.9L485.2 388.9L482.3 388.9L479.4 388.9L476.5 388.9L473.6 388.9L470.7 388.9L467.8 388.9L464.9 388.9L462.0 388.9L459.1 388.9L456.2 388.9L453.3 388.9L450.4 388.9L447.5 388.9L444.6 388.9L441.7 388.9L438.8 388.9L435.9 388.9L433.0 388.9L430.1 388.9L427.2 388.9L424.3 388.9L421.4 388.9L418.4 388.9L415.5 388.9L412.6 388.9L409.7 388.9L406.8 388.9L403.9 388.9L401.0 388.9L398.1 388.9L395.2 388.9L392.3 388.9L389.4 388.9L386.5 388.9L386.5 391.8L386.5 394.7L386.5 397.6L386.5 400.5L386.5 403.4L386.5 406.3L386.5 409.2L386.5 412.1L386.5 415.0L386.5 417.9L386.5 420.8L386.5 423.7L386.5 426.6L386.5 429.5L386.5 432.4L386.5 435.3L386.5 438.2L386.5 441.1L386.5 444.0L386.5 446.9L386.5 449.8L386.5 452.7L386.5 455.6L386.5 458.5L386.5 461.5L386.5 464.4L386.5 467.3L386.5 470.2L386.5 473.1L386.5 476.0L386.5 478.9L386.5 481.8L386.5 484.7L386.5 487.6L386.5 490.5L386.5 493.4L386.5 496.3L386.5 499.2L386.5 502.1L386.5 505.0L386.5 507.9L386.5 510.8L386.5 513.7L386.5 516.6L386.5 519.5L386.5 522.4L386.5 525.3L386.5 528.2L386.5 531.1L386.5 534.0L386.5 536.9L386.5 539.9L386.5 542.8L386.5 545.7L386.5 548.6L386.5 551.5L386.5 554.4L386.5 557.3L386.5 560.2L386.5 563.1L386.5 566.0L386.5 568.9L386.5 571.8L386.5 574.7L386.5 577.6L386.5 580.5L386.5 583.4L386.5 586.3L386.5 589.2L386.5 592.1L386.5 595.0L386.5 597.9L386.5 600.8L386.5 603.7L386.5 606.6L386.5 609.5L386.5 612.4L386.5 615.4L386.5 618.3L386.5 621.2L386.5 624.1L386.5 627.0L386.5 629.9L386.5 632.8L386.5 635.7L386.5 638.6L386.5 641.5L386.5 644.4ZM482.3 595.9L479.7 595.0L479.4 594.9L476.5 593.8L473.6 592.4L473.2 592.1L470.7 590.7L468.5 589.2L467.8 588.7L464.9 586.5L464.7 586.3L462.0 583.8L461.6 583.4L459.1 580.5L459.1 580.5L457.0 577.6L456.2 576.3L455.2 574.7L453.8 571.8L453.3 570.3L452.8 568.9L452.0 566.0L451.6 563.1L451.5 560.2L451.8 557.3L452.3 554.4L453.2 551.5L453.3 551.3L454.6 548.6L456.2 545.8L456.3 545.7L458.9 542.8L459.1 542.5L462.0 540.6L464.9 540.0L467.8 540.4L470.7 541.6L472.5 542.8L473.6 543.3L476.5 545.2L477.1 545.7L479.4 547.2L481.3 548.6L482.3 549.2L485.2 551.2L485.6 551.5L488.1 553.2L490.0 554.4L491.0 555.1L493.9 556.9L494.6 557.3L496.9 558.6L499.6 560.2L499.8 560.3L502.7 561.9L504.9 563.1L505.6 563.5L508.5 565.1L510.4 566.0L511.4 566.6L514.3 568.3L515.5 568.9L517.2 570.3L519.2 571.8L520.1 573.1L521.2 574.7L521.7 577.6L521.2 580.5L520.1 582.9L519.9 583.4L518.0 586.3L517.2 587.3L515.5 589.2L514.3 590.2L511.9 592.1L511.4 592.5L508.5 594.2L506.7 595.0L505.6 595.5L502.7 596.4L499.8 597.0L496.9 597.4L493.9 597.6L491.0 597.5L488.1 597.2L485.2 596.6ZM566.5 552.6L565.0 551.5L563.6 549.8L563.0 548.6L562.3 545.7L562.0 542.8L562.0 539.9L562.1 536.9L562.2 534.0L562.3 531.1L562.4 528.2L562.5 525.3L562.6 522.4L562.6 519.5L562.6 516.6L562.5 513.7L562.3 510.8L562.2 507.9L562.0 505.0L561.7 502.1L561.5 499.2L561.2 496.3L561.0 493.4L561.0 490.5L561.2 487.6L561.9 484.7L563.6 481.9L563.8 481.8L566.5 480.0L569.4 479.1L570.8 478.9L572.3 478.7L575.3 478.6L577.4 478.9L578.2 479.0L581.1 479.6L584.0 480.7L586.2 481.8L586.9 482.1L589.8 484.1L590.5 484.7L592.7 486.6L593.5 487.6L595.6 490.0L595.9 490.5L597.8 493.4L598.5 494.7L599.3 496.3L600.5 499.2L601.4 501.7L601.5 502.1L602.3 505.0L602.8 507.9L603.2 510.8L603.4 513.7L603.5 516.6L603.3 519.5L603.1 522.4L602.6 525.3L602.0 528.2L601.4 530.3L601.1 531.1L600.0 534.0L598.7 536.9L598.5 537.4L597.1 539.9L595.6 542.1L595.1 542.8L592.7 545.6L592.6 545.7L589.8 548.3L589.4 548.6L586.9 550.3L584.7 551.5L584.0 551.9L581.1 553.0L578.2 553.7L575.3 554.1L572.3 554.1L569.4 553.7ZM464.9 493.6L464.3 493.4L462.0 492.6L459.5 490.5L459.1 490.2L457.2 487.6L456.2 486.1L455.5 484.7L454.3 481.8L453.4 478.9L453.3 478.4L452.9 476.0L452.7 473.1L452.8 470.2L453.2 467.3L453.3 466.7L453.9 464.4L454.9 461.5L456.2 458.5L456.2 458.5L457.8 455.6L459.1 453.8L459.9 452.7L462.0 450.2L462.3 449.8L464.9 447.3L465.3 446.9L467.8 444.9L468.9 444.0L470.7 442.8L473.5 441.1L473.6 441.0L476.5 439.6L479.4 438.3L479.8 438.2L482.3 437.4L485.2 436.6L488.1 436.0L491.0 435.7L493.9 435.5L496.9 435.7L499.8 436.0L502.7 436.7L505.6 437.6L507.2 438.2L508.5 438.9L511.4 440.5L512.3 441.1L514.3 442.8L515.8 444.0L517.2 445.7L518.3 446.9L520.1 449.6L520.2 449.8L521.7 452.7L522.5 455.6L522.6 458.5L521.6 461.5L520.1 463.1L518.9 464.4L517.2 465.4L514.3 467.3L514.3 467.3L511.4 468.7L508.7 470.2L508.5 470.3L505.6 471.6L503.0 473.1L502.7 473.2L499.8 474.7L497.5 476.0L496.9 476.3L493.9 478.0L492.4 478.9L491.0 479.7L488.1 481.5L487.7 481.8L485.2 483.4L483.2 484.7L482.3 485.3L479.4 487.2L478.8 487.6L476.5 489.1L474.2 490.5L473.6 490.9L470.7 492.4L467.9 493.4L467.8 493.4Z"/>
<path fill="#0030ff" d="M386.5 647.3L389.4 647.3L392.3 647.3L395.2 647.3L398.1 647.3L401.0 647.3L403.9 647.3L406.8 647.3L409.7 647.3L412.6 647.3L415.5 647.3L418.4 647.3L421.4 647.3L424.3 647.3L427.2 647.3L430.1 647.3L433.0 647.3L435.9 647.3L438.8 647.3L441.7 647.3L444.6 647.3L447.5 647.3L450.4 647.3L453.3 647.3L456.2 647.3L459.1 647.3L462.0 647.3L464.9 647.3L467.8 647.3L470.7 647.3L473.6 647.3L476.5 647.3L479.4 647.3L482.3 647.3L485.2 647.3L488.1 647.3L491.0 647.3L493.9 647.3L496.9 647.3L499.8 647.3L502.7 647.3L505.6 647.3L508.5 647.3L511.4 647.3L514.3 647.3L517.2 647.3L520.1 647.3L523.0 647.3L525.9 647.3L528.8 647.3L531.7 647.3L534.6 647.3L537.5 647.3L540.4 647.3L543.3 647.3L546.2 647.3L549.1 647.3L552.0 647.3L554.9 647.3L557.8 647.3L560.7 647.3L563.6 647.3L566.5 647.3L569.4 647.3L572.3 647.3L575.3 647.3L578.2 647.3L581.1 647.3L584.0 647.3L586.9 647.3L589.8 647.3L592.7 647.3L595.6 647.3L598.5 647.3L601.4 647.3L604.3 647.3L607.2 647.3L610.1 647.3L613.0 647.3L615.9 647.3L618.8 647.3L621.7 647.3L624.6 647.3L627.5 647.3L630.4 647.3L633.3 647.3L636.2 647.3L639.1 647.3L642.0 647.3L644.9 647.3L644.9 644.4L644.9 641.5L644.9 638.6L644.9 635.7L644.9 632.8L644.9 629.9L644.9 627.0L644.9 624.1L644.9 621.2L644.9 618.3L644.9 615.4L644.9 612.4L644.9 609.5L644.9 606.6L644.9 603.7L644.9 600.8L644.9 597.9L644.9 595.0L644.9 592.1L644.9 589.2L644.9 586.3L644.9 583.4L644.9 580.5L644.9 577.6L644.9 574.7L644.9 571.8L644.9 568.9L644.9 566.0L644.9 563.1L644.9 560.2L644.9 557.3L644.9 554.4L644.9 551.5L644.9 548.6L644.9 545.7L644.9 542.8L644.9 539.9L644.9 536.9L644.9 534.0L644.9 531.1L644.9 528.2L644.9 525.3L644.9 522.4L644.9 519.5L644.9 516.6L644.9 513.7L644.9 510.8L644.9 507.9L644.9 505.0L644.9 502.1L644.9 499.2L644.9 496.3L644.9 493.4L644.9 490.5L644.9 487.6L644.9 484.7L644.9 481.8L644.9 478.9L644.9 476.0L644.9 473.1L644.9 470.2L644.9 467.3L644.9 464.4L644.9 461.5L644.9 458.5L644.9 455.6L644.9 452.7L644.9 449.8L644.9 446.9L644.9 444.0L644.9 441.1L644.9 438.2L644.9 435.3L644.9 432.4L644.9 429.5L644.9 426.6L644.9 423.7L644.9 420.8L644.9 417.9L644.9 415.0L644.9 412.1L644.9 409.2L644.9 406.3L644.9 403.4L644.9 400.5L644.9 397.6L644.9 394.7L644.9 391.8L644.9 388.9L642.0 388.9L639.1 388.9L636.2 388.9L633.3 388.9L630.4 388.9L627.5 388.9L624.6 388.9L621.7 388.9L618.8 388.9L615.9 388.9L613.0 388.9L610.1 388.9L607.2 388.9L604.3 388.9L601.4 388.9L598.5 388.9L595.6 388.9L592.7 388.9L589.8 388.9L586.9 388.9L584.0 388.9L581.1 388.9L578.2 388.9L575.3 388.9L572.3 388.9L569.4 388.9L566.5 388.9L563.6 388.9L560.7 388.9L557.8 388.9L554.9 388.9L552.0 388.9L549.1 388.9L546.2 388.9L543.3 388.9L540.4 388.9L537.5 388.9L534.6 388.9L531.7 388.9L528.8 388.9L525.9 388.9L523.0 388.9L520.1 388.9L517.2 388.9L514.3 388.9L511.4 388.9L508.5 388.9L505.6 388.9L502.7 388.9L499.8 388.9L496.9 388.9L493.9 388.9L491.0 388.9L488.1 388.9L485.2 388.9L482.3 388.9L479.4 388.9L476.5 388.9L473.6 388.9L470.7 388.9L467.8 388.9L464.9 388.9L462.0 388.9L459.1 388.9L456.2 388.9L453.3 388.9L450.4 388.9L447.5 388.9L444.6 388.9L441.7 388.9L438.8 388.9L435.9 388.9L433.0 388.9L430.1 388.9L427.2 388.9L424.3 388.9L421.4 388.9L418.4 388.9L415.5 388.9L412.6 388.9L409.7 388.9L406.8 388.9L403.9 388.9L401.0 388.9L398.1 388.9L395.2 388.9L392.3 388.9L389.4 388.9L386.5 388.9L386.5 391.8L386.5 394.7L386.5 397.6L386.5 400.5L386.5 403.4L386.5 406.3L386.5 409.2L386.5 412.1L386.5 415.0L386.5 417.9L386.5 420.8L386.5 423.7L386.5 426.6L386.5 429.5L386.5 432.4L386.5 435.3L386.5 438.2L386.5 441.1L386.5 444.0L386.5 446.9L386.5 449.8L386.5 452.7L386.5 455.6L386.5 458.5L386.5 461.5L386.5 464.4L386.5 467.3L386.5 470.2L386.5 473.1L386.5 476.0L386.5 478.9L386.5 481.8L386.5 484.7L386.5 487.6L386.5 490.5L386.5 493.4L386.5 496.3L386.5 499.2L386.5 502.1L386.5 505.0L386.5 507.9L386.5 510.8L386.5 513.7L386.5 516.6L386.5 519.5L386.5 522.4L386.5 525.3L386.5 528.2L386.5 531.1L386.5 534.0L386.5 536.9L386.5 539.9L386.5 542.8L386.5 545.7L386.5 548.6L386.5 551.5L386.5 554.4L386.5 557.3L386.5 560.2L386.5 563.1L386.5 566.0L386.5 568.9L386.5 571.8L386.5 574.7L386.5 577.6L386.5 580.5L386.5 583.4L386.5 586.3L386.5 589.2L386.5 592.1L386.5 595.0L386.5 597.9L386.5 600.8L386.5 603.7L386.5 606.6L386.5 609.5L386.5 612.4L386.5 615.4L386.5 618.3L386.5 621.2L386.5 624.1L386.5 627.0L386.5 629.9L386.5 632.8L386.5 635.7L386.5 638.6L386.5 641.5L386.5 644.4ZM493.9 603.8L493.3 603.7L491.0 603.5L488.1 603.0L485.2 602.3L482.3 601.4L480.7 600.8L479.4 600.4L476.5 599.2L473.8 597.9L473.6 597.9L470.7 596.3L468.6 595.0L467.8 594.5L464.9 592.6L464.3 592.1L462.0 590.4L460.6 589.2L459.1 587.8L457.5 586.3L456.2 585.0L454.7 583.4L453.3 581.7L452.3 580.5L450.4 577.8L450.2 577.6L448.4 574.7L447.5 572.9L446.9 571.8L445.6 568.9L444.6 566.0L444.6 566.0L443.8 563.1L443.1 560.2L442.7 557.3L442.4 554.4L442.2 551.5L442.2 548.6L442.3 545.7L442.4 542.8L442.6 539.9L442.9 536.9L443.1 534.0L443.3 531.1L443.5 528.2L443.7 525.3L443.9 522.4L443.9 519.5L444.0 516.6L444.0 513.7L443.9 510.8L443.8 507.9L443.6 505.0L443.5 502.1L443.3 499.2L443.2 496.3L443.0 493.4L442.9 490.5L442.9 487.6L442.9 484.7L443.0 481.8L443.2 478.9L443.5 476.0L444.0 473.1L444.6 470.6L444.7 470.2L445.5 467.3L446.5 464.4L447.5 462.1L447.8 461.5L449.2 458.5L450.4 456.6L451.0 455.6L453.0 452.7L453.3 452.3L455.3 449.8L456.2 448.8L457.9 446.9L459.1 445.8L461.0 444.0L462.0 443.2L464.6 441.1L464.9 440.9L467.8 438.9L468.8 438.2L470.7 437.1L473.6 435.5L474.0 435.3L476.5 434.1L479.4 433.0L481.0 432.4L482.3 432.0L485.2 431.1L488.1 430.4L491.0 430.0L493.9 429.6L495.9 429.5L496.9 429.5L499.8 429.5L500.8 429.5L502.7 429.6L505.6 430.0L508.5 430.5L511.4 431.2L514.3 432.0L515.5 432.4L517.2 433.1L520.1 434.2L522.6 435.3L523.0 435.5L525.9 437.0L528.4 438.2L528.8 438.5L531.7 440.1L533.5 441.1L534.6 441.8L537.5 443.6L538.3 444.0L540.4 445.4L542.9 446.9L543.3 447.2L546.2 449.1L547.5 449.8L549.1 450.9L552.0 452.6L552.3 452.7L554.9 454.3L557.3 455.6L557.8 455.9L560.7 457.5L562.7 458.5L563.6 459.0L566.5 460.5L568.5 461.5L569.4 461.9L572.3 463.4L574.3 464.4L575.3 464.8L578.2 466.4L579.7 467.3L581.1 468.0L584.0 469.7L584.6 470.2L586.9 471.7L588.7 473.1L589.8 473.9L592.1 476.0L592.7 476.4L595.0 478.9L595.6 479.4L597.5 481.8L598.5 483.1L599.6 484.7L601.3 487.6L601.4 487.7L602.8 490.5L604.1 493.4L604.3 493.9L605.2 496.3L606.0 499.2L606.8 502.1L607.2 504.2L607.3 505.0L607.8 507.9L608.1 510.8L608.2 513.7L608.3 516.6L608.2 519.5L608.0 522.4L607.6 525.3L607.2 528.0L607.2 528.2L606.5 531.1L605.8 534.0L604.9 536.9L604.3 538.5L603.7 539.9L602.4 542.8L601.4 544.9L600.9 545.7L599.2 548.6L598.5 549.7L597.1 551.5L595.6 553.5L594.8 554.4L592.7 556.7L592.1 557.3L589.8 559.5L588.9 560.2L586.9 561.8L585.1 563.1L584.0 563.9L581.1 565.8L580.8 566.0L578.2 567.6L575.7 568.9L575.3 569.2L572.3 570.7L570.1 571.8L569.4 572.1L566.5 573.6L564.3 574.7L563.6 575.0L560.7 576.5L558.6 577.6L557.8 578.0L554.9 579.6L553.3 580.5L552.0 581.2L549.1 583.0L548.5 583.4L546.2 584.8L543.9 586.3L543.3 586.7L540.4 588.5L539.4 589.2L537.5 590.3L534.7 592.1L534.6 592.2L531.7 593.9L529.8 595.0L528.8 595.5L525.9 597.1L524.2 597.9L523.0 598.5L520.1 599.7L517.2 600.8L517.2 600.9L514.3 601.8L511.4 602.6L508.5 603.2L505.6 603.6L504.7 603.7L502.7 603.9L499.8 604.1L496.9 604.0ZM511.9 560.2L514.3 560.9L517.2 561.5L520.1 561.9L523.0 562.1L525.9 562.1L528.8 561.9L531.7 561.4L534.6 560.6L535.8 560.2L537.5 559.6L540.4 558.2L541.7 557.3L543.3 556.2L545.4 554.4L546.2 553.7L548.2 551.5L549.1 550.4L550.4 548.6L552.0 545.8L552.1 545.7L553.6 542.8L554.8 539.9L554.9 539.4L555.8 536.9L556.6 534.0L557.2 531.1L557.7 528.2L557.8 527.2L558.1 525.3L558.3 522.4L558.4 519.5L558.4 516.6L558.3 513.7L558.0 510.8L557.8 509.3L557.7 507.9L557.2 505.0L556.6 502.1L555.8 499.2L554.9 496.8L554.8 496.3L553.6 493.4L552.1 490.5L552.0 490.3L550.5 487.6L549.1 485.6L548.4 484.7L546.2 482.3L545.7 481.8L543.3 479.6L542.2 478.9L540.4 477.6L537.5 476.2L536.9 476.0L534.6 475.0L531.7 474.2L528.8 473.7L525.9 473.5L523.0 473.5L520.1 473.6L517.2 474.0L514.3 474.5L511.4 475.3L509.3 476.0L508.5 476.2L505.6 477.2L502.7 478.5L501.8 478.9L499.8 479.8L496.9 481.4L496.2 481.8L493.9 483.1L491.7 484.7L491.0 485.1L488.1 487.3L487.8 487.6L485.2 489.8L484.4 490.5L482.3 492.6L481.5 493.4L479.4 495.9L479.0 496.3L476.9 499.2L476.5 499.9L475.1 502.1L473.7 505.0L473.6 505.3L472.5 507.9L471.6 510.8L471.1 513.7L470.9 516.6L471.0 519.5L471.3 522.4L471.9 525.3L472.9 528.2L473.6 529.7L474.2 531.1L475.8 534.0L476.5 535.1L477.7 536.9L479.4 539.1L480.0 539.9L482.3 542.4L482.6 542.8L485.2 545.2L485.7 545.7L488.1 547.7L489.2 548.6L491.0 550.0L493.2 551.5L493.9 551.9L496.9 553.8L498.0 554.4L499.8 555.4L502.7 556.8L503.8 557.3L505.6 558.1L508.5 559.2L511.4 560.1Z"/>
<path fill="#0050ff" d="M386.5 647.3L389.4 647.3L392.3 647.3L395.2 647.3L398.1 647.3L401.0 647.3L403.9 647.3L406.8 647.3L409.7 647.3L412.6 647.3L415.5 647.3L418.4 647.3L421.4 647.3L424.3 647.3L427.2 647.3L430.1 647.3L433.0 647.3L435.9 647.3L438.8 647.3L441.7 647.3L444.6 647.3L447.5 647.3L450.4 647.3L453.3 647.3L456.2 647.3L459.1 647.3L462.0 647.3L464.9 647.3L467.8 647.3L470.7 647.3L473.6 647.3L476.5 647.3L479.4 647.3L482.3 647.3L485.2 647.3L488.1 647.3L491.0 647.3L493.9 647.3L496.9 647.3L499.8 647.3L502.7 647.3L505.6 647.3L508.5 647.3L511.4 647.3L514.3 647.3L517.2 647.3L520.1 647.3L523.0 647.3L525.9 647.3L528.8 647.3L531.7 647.3L534.6 647.3L537.5 647.3L540.4 647.3L543.3 647.3L546.2 647.3L549.1 647.3L552.0 647.3L554.9 647.3L557.8 647.3L560.7 647.3L563.6 647.3L566.5 647.3L569.4 647.3L572.3 647.3L575.3 647.3L578.2 647.3L581.1 647.3L584.0 647.3L586.9 647.3L589.8 647.3L592.7 647.3L595.6 647.3L598.5 647.3L601.4 647.3L604.3 647.3L607.2 647.3L610.1 647.3L613.0 647.3L615.9 647.3L618.8 647.3L621.7 647.3L624.6 647.3L627.5 647.3L630.4 647.3L633.3 647.3L636.2 647.3L639.1 647.3L642.0 647.3L644.9 647.3L644.9 644.4L644.9 641.5L644.9 638.6L644.9 635.7L644.9 632.8L644.9 629.9L644.9 627.0L644.9 624.1L644.9 621.2L644.9 618.3L644.9 615.4L644.9 612.4L644.9 609.5L644.9 606.6L644.9 603.7L644.9 600.8L644.9 597.9L644.9 595.0L644.9 592.1L644.9 589.2L644.9 586.3L644.9 583.4L644.9 580.5L644.9 577.6L644.9 574.7L644.9 571.8L644.9 568.9L644.9 566.0L644.9 563.1L644.9 560.2L644.9 557.3L644.9 554.4L644.9 551.5L644.9 548.6L644.9 545.7L644.9 542.8L644.9 539.9L644.9 536.9L644.9 534.0L644.9 531.1L644.9 528.2L644.9 525.3L644.9 522.4L644.9 519.5L644.9 516.6L644.9 513.7L644.9 510.8L644.9 507.9L644.9 505.0L644.9 502.1L644.9 499.2L644.9 496.3L644.9 493.4L644.9 490.5L644.9 487.6L644.9 484.7L644.9 481.8L644.9 478.9L644.9 476.0L644.9 473.1L644.9 470.2L644.9 467.3L644.9 464.4L644.9 461.5L644.9 458.5L644.9 455.6L644.9 452.7L644.9 449.8L644.9 446.9L644.9 444.0L644.9 441.1L644.9 438.2L644.9 435.3L644.9 432.4L644.9 429.5L644.9 426.6L644.9 423.7L644.9 420.8L644.9 417.9L644.9 415.0L644.9 412.1L644.9 409.2L644.9 406.3L644.9 403.4L644.9 400.5L644.9 397.6L644.9 394.7L644.9 391.8L644.9 388.9L642.0 388.9L639.1 388.9L636.2 388.9L633.3 388.9L630.4 388.9L627.5 388.9L624.6 388.9L621.7 388.9L618.8 388.9L615.9 388.9L613.0 388.9L610.1 388.9L607.2 388.9L604.3 388.9L601.4 388.9L598.5 388.9L595.6 388.9L592.7 388.9L589.8 388.9L586.9 388.9L584.0 388.9L581.1 388.9L578.2 388.9L575.3 388.9L572.3 388.9L569.4 388.9L566.5 388.9L563.6 388.9L560.7 388.9L557.8 388.9L554.9 388.9L552.0 388.9L549.1 388.9L546.2 388.9L543.3 388.9L540.4 388.9L537.5 388.9L534.6 388.9L531.7 388.9L528.8 388.9L525.9 388.9L523.0 388.9L520.1 388.9L517.2 388.9L514.3 388.9L511.4 388.9L508.5 388.9L505.6 388.9L502.7 388.9L499.8 388.9L496.9 388.9L493.9 388.9L491.0 388.9L488.1 388.9L485.2 388.9L482.3 388.9L479.4 388.9L476.5 388.9L473.6 388.9L470.7 388.9L467.8 388.9L464.9 388.9L462.0 388.9L459.1 388.9L456.2 388.9L453.3 388.9L450.4 388.9L447.5 388.9L444.6 388.9L441.7 388.9L438.8 388.9L435.9 388.9L433.0 388.9L430.1 388.9L427.2 388.9L424.3 388.9L421.4 388.9L418.4 388.9L415.5 388.9L412.6 388.9L409.7 388.9L406.8 388.9L403.9 388.9L401.0 388.9L398.1 388.9L395.2 388.9L392.3 388.9L389.4 388.9L386.5 388.9L386.5 391.8L386.5 394.7L386.5 397.6L386.5 400.5L386.5 403.4L386.5 406.3L386.5 409.2L386.5 412.1L386.5 415.0L386.5 417.9L386.5 420.8L386.5 423.7L386.5 426.6L386.5 429.5L386.5 432.4L386.5 435.3L386.5 438.2L386.5 441.1L386.5 444.0L386.5 446.9L386.5 449.8L386.5 452.7L386.5 455.6L386.5 458.5L386.5 461.5L386.5 464.4L386.5 467.3L386.5 470.2L386.5 473.1L386.5 476.0L386.5 478.9L386.5 481.8L386.5 484.7L386.5 487.6L386.5 490.5L386.5 493.4L386.5 496.3L386.5 499.2L386.5 502.1L386.5 505.0L386.5 507.9L386.5 510.8L386.5 513.7L386.5 516.6L386.5 519.5L386.5 522.4L386.5 525.3L386.5 528.2L386.5 531.1L386.5 534.0L386.5 536.9L386.5 539.9L386.5 542.8L386.5 545.7L386.5 548.6L386.5 551.5L386.5 554.4L386.5 557.3L386.5 560.2L386.5 563.1L386.5 566.0L386.5 568.9L386.5 571.8L386.5 574.7L386.5 577.6L386.5 580.5L386.5 583.4L386.5 586.3L386.5 589.2L386.5 592.1L386.5 595.0L386.5 597.9L386.5 600.8L386.5 603.7L386.5 606.6L386.5 609.5L386.5 612.4L386.5 615.4L386.5 618.3L386.5 621.2L386.5 624.1L386.5 627.0L386.5 629.9L386.5 632.8L386.5 635.7L386.5 638.6L386.5 641.5L386.5 644.4ZM491.0 610.0L489.2 609.5L488.1 609.3L485.2 608.5L482.3 607.5L480.1 606.6L479.4 606.4L476.5 605.2L473.6 603.7L473.6 603.7L470.7 602.2L468.3 600.8L467.8 600.5L464.9 598.7L463.8 597.9L462.0 596.7L459.8 595.0L459.1 594.5L456.2 592.1L456.2 592.1L453.3 589.5L453.0 589.2L450.4 586.6L450.1 586.3L447.5 583.4L447.5 583.4L445.2 580.5L444.6 579.7L443.1 577.6L441.7 575.3L441.3 574.7L439.7 571.8L438.8 569.9L438.3 568.9L437.1 566.0L436.1 563.1L435.9 562.5L435.2 560.2L434.5 557.3L433.9 554.4L433.3 551.5L433.0 549.0L432.9 548.6L432.6 545.7L432.3 542.8L432.1 539.9L431.9 536.9L431.8 534.0L431.7 531.1L431.6 528.2L431.5 525.3L431.5 522.4L431.5 519.5L431.5 516.6L431.5 513.7L431.6 510.8L431.7 507.9L431.8 505.0L431.9 502.1L432.1 499.2L432.3 496.3L432.5 493.4L432.8 490.5L433.0 488.6L433.1 487.6L433.5 484.7L434.0 481.8L434.5 478.9L435.2 476.0L435.9 473.3L435.9 473.1L436.8 470.2L437.9 467.3L438.8 465.0L439.0 464.4L440.4 461.5L441.7 459.1L442.0 458.5L443.7 455.6L444.6 454.3L445.7 452.7L447.5 450.4L447.9 449.8L450.4 446.9L450.4 446.9L453.2 444.0L453.3 443.9L456.2 441.2L456.3 441.1L459.1 438.7L459.8 438.2L462.0 436.5L463.8 435.3L464.9 434.5L467.8 432.7L468.4 432.4L470.7 431.1L473.6 429.6L473.9 429.5L476.5 428.3L479.4 427.1L480.9 426.6L482.3 426.1L485.2 425.2L488.1 424.4L491.0 423.8L491.8 423.7L493.9 423.3L496.9 423.0L499.8 422.8L502.7 422.7L505.6 422.8L508.5 423.0L511.4 423.4L513.4 423.7L514.3 423.8L517.2 424.4L520.1 425.1L523.0 425.9L525.6 426.6L525.9 426.7L528.8 427.6L531.7 428.5L534.6 429.4L534.8 429.5L537.5 430.5L540.4 431.5L542.9 432.4L543.3 432.6L546.2 433.8L549.1 435.0L549.9 435.3L552.0 436.4L554.9 437.8L555.7 438.2L557.8 439.5L560.5 441.1L560.7 441.2L563.6 443.2L564.8 444.0L566.5 445.3L568.7 446.9L569.4 447.5L572.3 449.7L572.5 449.8L575.3 452.0L576.2 452.7L578.2 454.3L579.8 455.6L581.1 456.6L583.5 458.5L584.0 458.9L586.9 461.3L587.1 461.5L589.8 463.7L590.5 464.4L592.7 466.3L593.7 467.3L595.6 469.1L596.6 470.2L598.5 472.2L599.2 473.1L601.4 475.8L601.5 476.0L603.5 478.9L604.3 480.2L605.2 481.8L606.7 484.7L607.2 485.8L608.0 487.6L609.1 490.5L610.0 493.4L610.1 493.8L610.8 496.3L611.4 499.2L612.0 502.1L612.4 505.0L612.7 507.9L612.9 510.8L613.0 513.5L613.0 513.7L613.0 516.6L613.0 518.2L613.0 519.5L612.8 522.4L612.6 525.3L612.2 528.2L611.8 531.1L611.2 534.0L610.6 536.9L610.1 538.8L609.8 539.9L608.9 542.8L607.8 545.7L607.2 547.2L606.6 548.6L605.2 551.5L604.3 553.3L603.7 554.4L601.9 557.3L601.4 558.1L600.0 560.2L598.5 562.2L597.8 563.1L595.6 565.7L595.3 566.0L592.7 568.8L592.6 568.9L589.8 571.6L589.5 571.8L586.9 574.1L586.1 574.7L584.0 576.3L582.3 577.6L581.1 578.5L578.2 580.5L578.2 580.5L575.3 582.4L573.7 583.4L572.3 584.3L569.4 586.1L569.2 586.3L566.5 587.9L564.5 589.2L563.6 589.7L560.7 591.5L559.8 592.1L557.8 593.3L555.1 595.0L554.9 595.1L552.0 596.8L550.1 597.9L549.1 598.5L546.2 600.1L544.9 600.8L543.3 601.7L540.4 603.1L539.1 603.7L537.5 604.5L534.6 605.7L532.2 606.6L531.7 606.8L528.8 607.8L525.9 608.7L523.0 609.5L522.7 609.5L520.1 610.1L517.2 610.7L514.3 611.1L511.4 611.4L508.5 611.6L505.6 611.6L502.7 611.6L499.8 611.4L496.9 611.1L493.9 610.6ZM506.0 554.4L508.5 555.3L511.4 556.1L514.3 556.7L517.2 557.0L520.1 557.1L523.0 557.1L525.9 556.8L528.8 556.2L531.7 555.4L534.1 554.4L534.6 554.2L537.5 552.8L539.4 551.5L540.4 550.8L543.1 548.6L543.3 548.3L545.9 545.7L546.2 545.2L548.1 542.8L549.1 541.1L549.9 539.9L551.3 536.9L552.0 535.2L552.5 534.0L553.5 531.1L554.2 528.2L554.7 525.3L554.9 522.8L555.0 522.4L555.2 519.5L555.2 516.6L555.0 513.7L554.9 513.1L554.7 510.8L554.2 507.9L553.5 505.0L552.6 502.1L552.0 500.6L551.5 499.2L550.1 496.3L549.1 494.6L548.4 493.4L546.2 490.5L546.2 490.5L543.6 487.6L543.3 487.3L540.4 484.8L540.2 484.7L537.5 482.8L535.4 481.8L534.6 481.4L531.7 480.1L528.8 479.3L526.3 478.9L525.9 478.8L523.0 478.4L520.1 478.3L517.2 478.4L514.3 478.8L514.0 478.9L511.4 479.3L508.5 480.1L505.6 481.1L503.9 481.8L502.7 482.3L499.8 483.7L498.0 484.7L496.9 485.3L493.9 487.3L493.6 487.6L491.0 489.5L489.9 490.5L488.1 492.2L486.9 493.4L485.2 495.4L484.5 496.3L482.5 499.2L482.3 499.4L480.7 502.1L479.4 505.0L479.4 505.0L478.3 507.9L477.5 510.8L477.0 513.7L476.8 516.6L476.9 519.5L477.2 522.4L477.7 525.3L478.6 528.2L479.4 530.2L479.8 531.1L481.2 534.0L482.3 535.8L483.0 536.9L485.2 539.8L485.3 539.9L487.9 542.8L488.1 543.0L491.0 545.6L491.1 545.7L493.9 547.9L494.8 548.6L496.9 549.9L499.6 551.5L499.8 551.6L502.7 553.1L505.6 554.2Z"/>
<path fill="#0070ff" d="M386.5 647.3L389.4 647.3L392.3 647.3L395.2 647.3L398.1 647.3L401.0 647.3L403.9 647.3L406.8 647.3L409.7 647.3L412.6 647.3L415.5 647.3L418.4 647.3L421.4 647.3L424.3 647.3L427.2 647.3L430.1 647.3L433.0 647.3L435.9 647.3L438.8 647.3L441.7 647.3L444.6 647.3L447.5 647.3L450.4 647.3L453.3 647.3L456.2 647.3L459.1 647.3L462.0 647.3L464.9 647.3L467.8 647.3L470.7 647.3L473.6 647.3L476.5 647.3L479.4 647.3L482.3 647.3L485.2 647.3L488.1 647.3L491.0 647.3L493.9 647.3L496.9 647.3L499.8 647.3L502.7 647.3L505.6 647.3L508.5 647.3L511.4 647.3L514.3 647.3L517.2 647.3L520.1 647.3L523.0 647.3L525.9 647.3L528.8 647.3L531.7 647.3L534.6 647.3L537.5 647.3L540.4 647.3L543.3 647.3L546.2 647.3L549.1 647.3L552.0 647.3L554.9 647.3L557.8 647.3L560.7 647.3L563.6 647.3L566.5 647.3L569.4 647.3L572.3 647.3L575.3 647.3L578.2 647.3L581.1 647.3L584.0 647.3L586.9 647.3L589.8 647.3L592.7 647.3L595.6 647.3L598.5 647.3L601.4 647.3L604.3 647.3L607.2 647.3L610.1 647.3L613.0 647.3L615.9 647.3L618.8 647.3L621.7 647.3L624.6 647.3L625.3 647.3L625.7 644.4L627.5 641.6L627.6 641.5L630.4 639.3L631.6 638.6L633.3 637.8L636.2 636.7L639.1 636.0L641.0 635.7L642.0 635.5L644.9 635.4L644.9 632.8L644.9 629.9L644.9 627.0L644.9 624.1L644.9 621.2L644.9 618.3L644.9 615.4L644.9 612.4L644.9 609.5L644.9 606.6L644.9 603.7L644.9 600.8L644.9 597.9L644.9 595.0L644.9 592.1L644.9 589.2L644.9 586.3L644.9 583.4L644.9 580.5L644.9 577.6L644.9 574.7L644.9 571.8L644.9 568.9L644.9 566.0L644.9 563.1L644.9 560.2L644.9 557.3L644.9 554.4L644.9 551.5L644.9 548.6L644.9 545.7L644.9 542.8L644.9 539.9L644.9 536.9L644.9 534.0L644.9 531.1L644.9 528.2L644.9 525.3L644.9 522.4L644.9 519.5L644.9 516.6L644.9 513.7L644.9 510.8L644.9 507.9L644.9 505.0L644.9 502.1L644.9 499.2L644.9 496.3L644.9 493.4L644.9 490.5L644.9 487.6L644.9 484.7L644.9 481.8L644.9 478.9L644.9 476.0L644.9 473.1L644.9 470.2L644.9 467.3L644.9 464.4L644.9 461.5L644.9 458.5L644.9 455.6L644.9 452.7L644.9 449.8L644.9 446.9L644.9 444.0L644.9 441.1L644.9 438.2L644.9 435.3L644.9 432.4L644.9 429.5L644.9 426.6L644.9 423.7L644.9 420.8L644.9 417.9L644.9 415.0L644.9 412.1L644.9 409.8L642.0 409.6L639.5 409.2L639.1 409.1L636.2 408.1L633.3 406.5L633.0 406.3L630.4 404.3L629.5 403.4L627.5 401.0L627.1 400.5L625.6 397.6L624.6 395.0L624.5 394.7L624.0 391.8L623.9 388.9L621.7 388.9L618.8 388.9L615.9 388.9L613.0 388.9L610.1 388.9L607.2 388.9L604.3 388.9L601.4 388.9L598.5 388.9L595.6 388.9L592.7 388.9L589.8 388.9L586.9 388.9L584.0 388.9L581.1 388.9L578.2 388.9L575.3 388.9L572.3 388.9L569.4 388.9L566.5 388.9L563.6 388.9L560.7 388.9L557.8 388.9L554.9 388.9L552.0 388.9L549.1 388.9L546.2 388.9L543.3 388.9L540.4 388.9L537.5 388.9L534.6 388.9L531.7 388.9L528.8 388.9L525.9 388.9L523.0 388.9L520.1 388.9L517.2 388.9L514.3 388.9L511.4 388.9L508.5 388.9L505.6 388.9L502.7 388.9L499.8 388.9L496.9 388.9L493.9 388.9L491.0 388.9L488.1 388.9L485.2 388.9L482.3 388.9L479.4 388.9L476.5 388.9L473.6 388.9L470.7 388.9L467.8 388.9L464.9 388.9L462.0 388.9L459.1 388.9L456.2 388.9L453.3 388.9L450.4 388.9L447.5 388.9L444.6 388.9L441.7 388.9L438.8 388.9L435.9 388.9L433.0 388.9L430.1 388.9L427.2 388.9L424.3 388.9L421.4 388.9L418.4 388.9L415.5 388.9L412.6 388.9L409.7 388.9L406.8 388.9L403.9 388.9L401.0 388.9L398.1 388.9L395.2 388.9L392.3 388.9L389.4 388.9L386.5 388.9L386.5 391.8L386.5 394.7L386.5 397.6L386.5 400.5L386.5 403.4L386.5 406.3L386.5 409.2L386.5 412.1L386.5 415.0L386.5 417.9L386.5 420.8L386.5 423.7L386.5 426.6L386.5 429.5L386.5 432.4L386.5 435.3L386.5 438.2L386.5 441.1L386.5 444.0L386.5 446.9L386.5 449.8L386.5 452.7L386.5 455.6L386.5 458.5L386.5 461.5L386.5 464.4L386.5 467.3L386.5 470.2L386.5 473.1L386.5 476.0L386.5 478.9L386.5 481.8L386.5 484.7L386.5 487.6L386.5 490.5L386.5 493.4L386.5 496.3L386.5 499.2L386.5 502.1L386.5 505.0L386.5 507.9L386.5 510.8L386.5 513.7L386.5 516.6L386.5 519.5L386.5 522.4L386.5 525.3L386.5 528.2L386.5 531.1L386.5 534.0L386.5 536.9L386.5 539.9L386.5 542.8L386.5 545.7L386.5 548.6L386.5 551.5L386.5 554.4L386.5 557.3L386.5 560.2L386.5 563.1L386.5 566.0L386.5 568.9L386.5 571.8L386.5 574.7L386.5 577.6L386.5 580.5L386.5 583.4L386.5 586.3L386.5 589.2L386.5 592.1L386.5 595.0L386.5 597.9L386.5 600.8L386.5 603.7L386.5 606.6L386.5 609.5L386.5 612.4L386.5 615.4L386.5 618.3L386.5 621.2L386.5 624.1L386.5 627.0L386.5 629.9L386.5 632.8L386.5 635.7L386.5 638.6L386.5 641.5L386.5 644.4ZM505.6 621.5L502.7 621.2L502.7 621.2L499.8 620.7L496.9 620.1L493.9 619.4L491.0 618.5L490.5 618.3L488.1 617.5L485.2 616.4L482.7 615.4L482.3 615.2L479.4 614.0L476.5 612.5L476.5 612.4L473.6 611.0L471.1 609.5L470.7 609.3L467.8 607.6L466.4 606.6L464.9 605.7L462.1 603.7L462.0 603.7L459.1 601.6L458.1 600.8L456.2 599.4L454.4 597.9L453.3 597.0L451.0 595.0L450.4 594.5L447.8 592.1L447.5 591.9L444.8 589.2L444.6 589.0L442.0 586.3L441.7 586.0L439.5 583.4L438.8 582.5L437.2 580.5L435.9 578.6L435.2 577.6L433.5 574.7L433.0 573.8L431.9 571.8L430.6 568.9L430.1 567.5L429.5 566.0L428.5 563.1L427.7 560.2L427.2 557.9L427.0 557.3L426.4 554.4L425.9 551.5L425.5 548.6L425.2 545.7L424.9 542.8L424.6 539.9L424.4 536.9L424.3 534.0L424.3 533.2L424.2 531.1L424.1 528.2L424.1 525.3L424.0 522.4L424.0 519.5L424.1 516.6L424.1 513.7L424.2 510.8L424.3 507.9L424.3 507.8L424.4 505.0L424.5 502.1L424.7 499.2L424.9 496.3L425.2 493.4L425.5 490.5L425.8 487.6L426.2 484.7L426.7 481.8L427.2 478.9L427.2 478.9L427.8 476.0L428.5 473.1L429.3 470.2L430.1 468.0L430.3 467.3L431.4 464.4L432.7 461.5L433.0 460.8L434.1 458.5L435.7 455.6L435.9 455.4L437.5 452.7L438.8 451.0L439.6 449.8L441.7 447.2L441.9 446.9L444.4 444.0L444.6 443.9L447.2 441.1L447.5 440.9L450.3 438.2L450.4 438.1L453.3 435.6L453.6 435.3L456.2 433.3L457.4 432.4L459.1 431.1L461.5 429.5L462.0 429.2L464.9 427.3L466.1 426.6L467.8 425.6L470.7 424.0L471.4 423.7L473.6 422.5L476.5 421.2L477.5 420.8L479.4 420.0L482.3 418.8L485.1 417.9L485.2 417.8L488.1 416.9L491.0 416.1L493.9 415.5L496.9 415.0L497.4 415.0L499.8 414.7L502.7 414.5L505.6 414.5L508.5 414.7L511.2 415.0L511.4 415.0L514.3 415.4L517.2 416.0L520.1 416.7L523.0 417.4L524.6 417.9L525.9 418.2L528.8 419.1L531.7 419.9L534.5 420.8L534.6 420.8L537.5 421.7L540.4 422.6L543.3 423.5L543.9 423.7L546.2 424.5L549.1 425.5L552.0 426.5L552.4 426.6L554.9 427.6L557.8 428.9L559.1 429.5L560.7 430.3L563.6 432.0L564.3 432.4L566.5 433.9L568.4 435.3L569.4 436.1L572.0 438.2L572.3 438.5L575.2 441.1L575.3 441.1L578.2 443.8L578.3 444.0L581.1 446.6L581.4 446.9L584.0 449.3L584.6 449.8L586.9 451.9L587.8 452.7L589.8 454.5L591.0 455.6L592.7 457.2L594.2 458.5L595.6 459.8L597.4 461.5L598.5 462.5L600.3 464.4L601.4 465.4L603.1 467.3L604.3 468.6L605.6 470.2L607.2 472.4L607.7 473.1L609.6 476.0L610.1 476.9L611.1 478.9L612.4 481.8L613.0 483.2L613.5 484.7L614.5 487.6L615.2 490.5L615.9 493.4L615.9 493.7L616.4 496.3L616.8 499.2L617.2 502.1L617.4 505.0L617.6 507.9L617.7 510.8L617.8 513.7L617.8 516.6L617.8 519.5L617.7 522.4L617.5 525.3L617.2 528.2L617.0 531.1L616.6 534.0L616.2 536.9L615.9 538.4L615.6 539.9L615.0 542.8L614.3 545.7L613.5 548.6L613.0 550.3L612.6 551.5L611.5 554.4L610.3 557.3L610.1 557.8L608.9 560.2L607.4 563.1L607.2 563.4L605.5 566.0L604.3 567.8L603.5 568.9L601.4 571.4L601.0 571.8L598.5 574.5L598.2 574.7L595.6 577.1L595.0 577.6L592.7 579.4L591.3 580.5L589.8 581.6L587.2 583.4L586.9 583.6L584.0 585.5L582.8 586.3L581.1 587.4L578.3 589.2L578.2 589.3L575.3 591.1L573.7 592.1L572.3 593.0L569.4 595.0L569.3 595.0L566.5 596.9L565.0 597.9L563.6 598.9L560.9 600.8L560.7 600.9L557.8 603.0L556.7 603.7L554.9 605.0L552.6 606.6L552.0 607.1L549.1 609.0L548.3 609.5L546.2 610.9L543.6 612.4L543.3 612.6L540.4 614.2L538.1 615.4L537.5 615.7L534.6 616.9L531.7 618.1L531.1 618.3L528.8 619.1L525.9 619.9L523.0 620.6L520.1 621.1L519.4 621.2L517.2 621.5L514.3 621.7L511.4 621.8L508.5 621.7ZM506.2 551.5L508.5 552.3L511.4 553.1L514.3 553.6L517.2 553.8L520.1 553.9L523.0 553.7L525.9 553.3L528.8 552.5L531.6 551.5L531.7 551.4L534.6 550.2L537.2 548.6L537.5 548.3L540.4 546.1L540.9 545.7L543.3 543.3L543.8 542.8L546.0 539.9L546.2 539.5L547.8 536.9L549.1 534.2L549.2 534.0L550.4 531.1L551.2 528.2L551.8 525.3L552.0 523.9L552.3 522.4L552.5 519.5L552.5 516.6L552.3 513.7L552.0 511.8L551.9 510.8L551.3 507.9L550.5 505.0L549.4 502.1L549.1 501.4L548.1 499.2L546.3 496.3L546.2 496.1L544.2 493.4L543.3 492.3L541.6 490.5L540.4 489.4L538.0 487.6L537.5 487.2L534.6 485.4L533.0 484.7L531.7 484.0L528.8 483.0L525.9 482.3L523.0 481.8L522.2 481.8L520.1 481.6L517.2 481.6L515.9 481.8L514.3 481.9L511.4 482.4L508.5 483.1L505.6 484.1L504.3 484.7L502.7 485.3L499.8 486.8L498.6 487.6L496.9 488.6L494.4 490.5L493.9 490.8L491.1 493.4L491.0 493.5L488.4 496.3L488.1 496.7L486.2 499.2L485.2 500.9L484.5 502.1L483.1 505.0L482.3 507.1L482.0 507.9L481.2 510.8L480.7 513.7L480.4 516.6L480.5 519.5L480.8 522.4L481.4 525.3L482.3 528.2L482.3 528.3L483.4 531.1L485.0 534.0L485.2 534.5L486.8 536.9L488.1 538.6L489.1 539.9L491.0 541.9L492.0 542.8L493.9 544.5L495.5 545.7L496.9 546.7L499.8 548.5L499.9 548.6L502.7 550.0L505.6 551.3Z"/>
<path fill="#008fff" d="M386.5 647.3L389.4 647.3L392.3 647.3L395.2 647.3L398.1 647.3L401.0 647.3L403.9 647.3L406.8 647.3L409.7 647.3L412.6 647.3L415.5 647.3L418.4 647.3L421.4 647.3L424.3 647.3L427.2 647.3L430.1 647.3L433.0 647.3L435.9 647.3L438.8 647.3L441.7 647.3L444.6 647.3L447.5 647.3L450.4 647.3L453.3 647.3L456.2 647.3L459.1 647.3L462.0 647.3L464.9 647.3L467.8 647.3L470.7 647.3L473.6 647.3L476.5 647.3L479.4 647.3L482.3 647.3L485.2 647.3L488.1 647.3L491.0 647.3L493.9 647.3L496.9 647.3L499.8 647.3L502.7 647.3L505.6 647.3L508.5 647.3L511.4 647.3L514.3 647.3L517.2 647.3L520.1 647.3L523.0 647.3L525.9 647.3L528.8 647.3L531.7 647.3L534.6 647.3L537.5 647.3L540.4 647.3L543.3 647.3L546.2 647.3L549.1 647.3L552.0 647.3L554.9 647.3L557.8 647.3L560.7 647.3L563.6 647.3L566.5 647.3L569.4 647.3L572.3 647.3L575.3 647.3L578.2 647.3L581.1 647.3L584.0 647.3L586.9 647.3L589.8 647.3L592.7 647.3L595.6 647.3L598.5 647.3L601.4 647.3L604.3 647.3L607.2 647.3L607.6 647.3L608.5 644.4L610.1 641.9L610.4 641.5L613.0 638.9L613.3 638.6L615.9 636.6L617.2 635.7L618.8 634.8L621.7 633.1L622.3 632.8L624.6 631.7L627.5 630.4L628.8 629.9L630.4 629.3L633.3 628.3L636.2 627.4L638.2 627.0L639.1 626.7L642.0 626.2L644.9 625.8L644.9 624.1L644.9 621.2L644.9 618.3L644.9 615.4L644.9 612.4L644.9 609.5L644.9 606.6L644.9 603.7L644.9 600.8L644.9 597.9L644.9 595.0L644.9 592.1L644.9 589.2L644.9 586.3L644.9 583.4L644.9 580.5L644.9 577.6L644.9 574.7L644.9 571.8L644.9 568.9L644.9 566.0L644.9 563.1L644.9 560.2L644.9 557.3L644.9 554.4L644.9 551.5L644.9 548.6L644.9 545.7L644.9 542.8L644.9 539.9L644.9 536.9L644.9 534.0L644.9 531.1L644.9 528.2L644.9 525.3L644.9 522.4L644.9 519.5L644.9 516.6L644.9 513.7L644.9 510.8L644.9 507.9L644.9 505.0L644.9 502.1L644.9 499.2L644.9 496.3L644.9 493.4L644.9 490.5L644.9 487.6L644.9 484.7L644.9 481.8L644.9 478.9L644.9 476.0L644.9 473.1L644.9 470.2L644.9 467.3L644.9 464.4L644.9 461.5L644.9 458.5L644.9 455.6L644.9 452.7L644.9 449.8L644.9 446.9L644.9 444.0L644.9 441.1L644.9 438.2L644.9 435.3L644.9 432.4L644.9 429.5L644.9 426.6L644.9 424.0L642.9 423.7L642.0 423.6L639.1 422.9L636.2 421.9L633.5 420.8L633.3 420.7L630.4 419.3L628.1 417.9L627.5 417.6L624.6 415.6L623.8 415.0L621.7 413.3L620.3 412.1L618.8 410.6L617.4 409.2L615.9 407.3L615.1 406.3L613.2 403.4L613.0 403.0L611.7 400.5L610.6 397.6L610.1 395.9L609.7 394.7L609.2 391.8L609.0 388.9L607.2 388.9L604.3 388.9L601.4 388.9L598.5 388.9L595.6 388.9L592.7 388.9L589.8 388.9L586.9 388.9L584.0 388.9L581.1 388.9L578.2 388.9L575.3 388.9L572.3 388.9L569.4 388.9L566.5 388.9L563.6 388.9L560.7 388.9L557.8 388.9L554.9 388.9L552.0 388.9L549.1 388.9L546.2 388.9L543.3 388.9L540.4 388.9L537.5 388.9L534.6 388.9L531.7 388.9L528.8 388.9L525.9 388.9L523.0 388.9L520.1 388.9L517.2 388.9L514.3 388.9L511.4 388.9L508.5 388.9L505.6 388.9L502.7 388.9L499.8 388.9L496.9 388.9L493.9 388.9L491.0 388.9L488.1 388.9L485.2 388.9L482.3 388.9L479.4 388.9L476.5 388.9L473.6 388.9L470.7 388.9L467.8 388.9L464.9 388.9L462.0 388.9L459.1 388.9L456.2 388.9L453.3 388.9L450.4 388.9L447.5 388.9L444.6 388.9L441.7 388.9L438.8 388.9L435.9 388.9L433.0 388.9L430.1 388.9L427.2 388.9L424.3 388.9L421.4 388.9L418.4 388.9L415.5 388.9L412.6 388.9L409.7 388.9L406.8 388.9L403.9 388.9L401.0 388.9L398.1 388.9L395.2 388.9L392.3 388.9L389.4 388.9L386.5 388.9L386.5 391.8L386.5 394.7L386.5 397.6L386.5 400.5L386.5 403.4L386.5 406.3L386.5 409.2L386.5 412.1L386.5 415.0L386.5 417.9L386.5 420.8L386.5 423.7L386.5 426.6L386.5 429.5L386.5 432.4L386.5 435.3L386.5 438.2L386.5 441.1L386.5 444.0L386.5 446.9L386.5 449.8L386.5 452.7L386.5 455.6L386.5 458.5L386.5 461.5L386.5 464.4L386.5 467.3L386.5 470.2L386.5 473.1L386.5 476.0L386.5 478.9L386.5 481.8L386.5 484.7L386.5 487.6L386.5 490.5L386.5 493.4L386.5 496.3L386.5 499.2L386.5 502.1L386.5 505.0L386.5 507.9L386.5 510.8L386.5 513.7L386.5 516.6L386.5 519.5L386.5 522.4L386.5 525.3L386.5 528.2L386.5 531.1L386.5 534.0L386.5 536.9L386.5 539.9L386.5 542.8L386.5 545.7L386.5 548.6L386.5 551.5L386.5 554.4L386.5 557.3L386.5 560.2L386.5 563.1L386.5 566.0L386.5 568.9L386.5 571.8L386.5 574.7L386.5 577.6L386.5 580.5L386.5 583.4L386.5 586.3L386.5 589.2L386.5 592.1L386.5 595.0L386.5 597.9L386.5 600.8L386.5 603.7L386.5 606.6L386.5 609.5L386.5 612.4L386.5 615.4L386.5 618.3L386.5 621.2L386.5 624.1L386.5 627.0L386.5 629.9L386.5 632.8L386.5 635.7L386.5 638.6L386.5 641.5L386.5 644.4ZM499.8 642.6L497.1 641.5L496.9 641.4L493.9 639.7L492.4 638.6L491.0 637.6L488.8 635.7L488.1 635.1L485.6 632.8L485.2 632.5L482.3 629.9L482.3 629.9L479.4 627.4L479.0 627.0L476.5 625.0L475.5 624.1L473.6 622.6L471.9 621.2L470.7 620.3L468.3 618.3L467.8 617.9L464.9 615.5L464.7 615.4L462.0 613.2L461.2 612.4L459.1 610.8L457.7 609.5L456.2 608.3L454.2 606.6L453.3 605.9L450.8 603.7L450.4 603.4L447.5 600.8L447.5 600.8L444.6 598.3L444.2 597.9L441.7 595.7L441.0 595.0L438.8 593.0L437.9 592.1L435.9 590.1L435.0 589.2L433.0 586.9L432.5 586.3L430.2 583.4L430.1 583.2L428.2 580.5L427.2 578.7L426.5 577.6L425.1 574.7L424.3 572.6L423.9 571.8L422.9 568.9L422.1 566.0L421.4 563.1L421.4 562.9L420.8 560.2L420.3 557.3L419.9 554.4L419.5 551.5L419.3 548.6L419.0 545.7L418.8 542.8L418.7 539.9L418.6 536.9L418.5 534.0L418.4 533.0L418.4 531.1L418.4 528.2L418.4 525.3L418.4 522.4L418.4 519.5L418.4 516.6L418.4 515.5L418.5 513.7L418.6 510.8L418.6 507.9L418.7 505.0L418.9 502.1L419.0 499.2L419.2 496.3L419.4 493.4L419.6 490.5L419.8 487.6L420.1 484.7L420.5 481.8L420.9 478.9L421.3 476.0L421.4 475.7L421.8 473.1L422.5 470.2L423.2 467.3L424.0 464.4L424.3 463.4L424.9 461.5L425.9 458.5L427.2 455.7L427.2 455.6L428.6 452.7L430.1 450.1L430.2 449.8L432.0 446.9L433.0 445.6L434.1 444.0L435.9 441.8L436.5 441.1L438.8 438.5L439.1 438.2L441.7 435.5L441.9 435.3L444.6 432.8L445.0 432.4L447.5 430.2L448.3 429.5L450.4 427.7L451.9 426.6L453.3 425.5L455.7 423.7L456.2 423.3L459.1 421.2L459.8 420.8L462.0 419.2L464.1 417.9L464.9 417.3L467.8 415.4L468.6 415.0L470.7 413.6L473.2 412.1L473.6 411.8L476.5 409.9L477.8 409.2L479.4 408.1L482.3 406.3L482.4 406.3L485.2 404.4L487.2 403.4L488.1 402.8L491.0 401.2L492.8 400.5L493.9 400.0L496.9 399.0L499.8 398.6L502.7 398.5L505.6 398.9L508.5 399.7L510.3 400.5L511.4 400.8L514.3 402.1L516.5 403.4L517.2 403.7L520.1 405.1L522.1 406.3L523.0 406.7L525.9 408.1L527.8 409.2L528.8 409.6L531.7 410.9L534.3 412.1L534.6 412.2L537.5 413.3L540.4 414.4L541.8 415.0L543.3 415.5L546.2 416.5L549.1 417.5L550.4 417.9L552.0 418.4L554.9 419.4L557.8 420.5L558.7 420.8L560.7 421.6L563.6 422.8L565.4 423.7L566.5 424.3L569.4 426.1L570.2 426.6L572.3 428.1L574.0 429.5L575.3 430.6L577.1 432.4L578.2 433.5L579.9 435.3L581.1 436.6L582.5 438.2L584.0 439.8L585.2 441.1L586.9 442.9L587.9 444.0L589.8 445.9L590.8 446.9L592.7 448.7L593.9 449.8L595.6 451.4L597.0 452.7L598.5 454.0L600.3 455.6L601.4 456.6L603.6 458.5L604.3 459.2L606.8 461.5L607.2 461.9L609.7 464.4L610.1 464.8L612.3 467.3L613.0 468.2L614.5 470.2L615.9 472.4L616.3 473.1L617.7 476.0L618.8 478.8L618.8 478.9L619.7 481.8L620.4 484.7L621.0 487.6L621.4 490.5L621.7 492.8L621.8 493.4L622.1 496.3L622.3 499.2L622.5 502.1L622.6 505.0L622.7 507.9L622.7 510.8L622.7 513.7L622.7 516.6L622.6 519.5L622.5 522.4L622.4 525.3L622.3 528.2L622.1 531.1L621.9 534.0L621.7 535.9L621.6 536.9L621.3 539.9L621.0 542.8L620.6 545.7L620.1 548.6L619.6 551.5L619.0 554.4L618.8 555.3L618.3 557.3L617.5 560.2L616.5 563.1L615.9 564.5L615.2 566.0L613.7 568.9L613.0 570.0L611.8 571.8L610.1 573.8L609.4 574.7L607.2 576.8L606.3 577.6L604.3 579.2L602.6 580.5L601.4 581.3L598.5 583.3L598.3 583.4L595.6 585.0L593.5 586.3L592.7 586.8L589.8 588.5L588.7 589.2L586.9 590.2L584.0 592.0L583.8 592.1L581.1 593.8L579.2 595.0L578.2 595.7L575.3 597.7L574.9 597.9L572.3 599.7L570.8 600.8L569.4 601.9L567.1 603.7L566.5 604.2L563.7 606.6L563.6 606.7L560.7 609.3L560.4 609.5L557.8 612.0L557.3 612.4L554.9 614.8L554.3 615.4L552.0 617.7L551.4 618.3L549.1 620.6L548.5 621.2L546.2 623.4L545.4 624.1L543.3 626.1L542.3 627.0L540.4 628.7L538.9 629.9L537.5 631.1L535.3 632.8L534.6 633.4L531.7 635.5L531.4 635.7L528.8 637.5L526.9 638.6L525.9 639.2L523.0 640.7L521.0 641.5L520.1 641.9L517.2 642.8L514.3 643.5L511.4 643.9L508.5 644.0L505.6 643.8L502.7 643.4ZM505.2 548.6L505.6 548.7L508.5 549.8L511.4 550.5L514.3 551.0L517.2 551.3L520.1 551.2L523.0 551.0L525.9 550.5L528.8 549.6L531.3 548.6L531.7 548.4L534.6 546.9L536.5 545.7L537.5 544.9L540.0 542.8L540.4 542.4L542.7 539.9L543.3 539.0L544.8 536.9L546.2 534.4L546.4 534.0L547.7 531.1L548.7 528.2L549.1 526.5L549.4 525.3L549.9 522.4L550.2 519.5L550.2 516.6L550.0 513.7L549.5 510.8L549.1 509.1L548.9 507.9L548.0 505.0L546.7 502.1L546.2 501.2L545.1 499.2L543.3 496.5L543.1 496.3L540.6 493.4L540.4 493.2L537.5 490.6L537.3 490.5L534.6 488.6L532.7 487.6L531.7 487.1L528.8 485.9L525.9 485.0L523.8 484.7L523.0 484.5L520.1 484.2L517.2 484.2L514.3 484.4L513.0 484.7L511.4 484.9L508.5 485.6L505.6 486.7L503.6 487.6L502.7 488.0L499.8 489.6L498.4 490.5L496.9 491.6L494.6 493.4L493.9 494.0L491.7 496.3L491.0 497.1L489.3 499.2L488.1 501.0L487.4 502.1L486.0 505.0L485.2 506.9L484.8 507.9L484.0 510.8L483.5 513.7L483.2 516.6L483.3 519.5L483.6 522.4L484.2 525.3L485.1 528.2L485.2 528.5L486.3 531.1L488.0 534.0L488.1 534.3L489.9 536.9L491.0 538.3L492.4 539.9L493.9 541.4L495.6 542.8L496.9 543.8L499.6 545.7L499.8 545.8L502.7 547.4Z"/>
<path fill="#00afff" d="M386.5 647.3L389.4 647.3L392.3 647.3L395.2 647.3L398.1 647.3L401.0 647.3L403.9 647.3L406.8 647.3L409.7 647.3L412.6 647.3L415.5 647.3L418.4 647.3L421.4 647.3L424.3 647.3L427.2 647.3L430.1 647.3L433.0 647.3L435.9 647.3L438.8 647.3L441.7 647.3L444.6 647.3L447.5 647.3L448.5 647.3L449.4 644.4L450.4 642.3L450.7 641.5L452.0 638.6L453.2 635.7L453.3 635.4L454.0 632.8L454.3 629.9L454.1 627.0L453.4 624.1L453.3 623.9L452.2 621.2L450.6 618.3L450.4 618.0L448.6 615.4L447.5 614.0L446.3 612.4L444.6 610.6L443.7 609.5L441.7 607.5L440.8 606.6L438.8 604.7L437.7 603.7L435.9 602.0L434.6 600.8L433.0 599.4L431.3 597.9L430.1 596.7L428.3 595.0L427.2 593.9L425.5 592.1L424.3 590.6L423.1 589.2L421.4 586.6L421.1 586.3L419.5 583.4L418.4 581.0L418.3 580.5L417.2 577.6L416.4 574.7L415.8 571.8L415.5 570.7L415.2 568.9L414.8 566.0L414.4 563.1L414.2 560.2L413.9 557.3L413.7 554.4L413.6 551.5L413.5 548.6L413.4 545.7L413.3 542.8L413.3 539.9L413.3 536.9L413.3 534.0L413.3 531.1L413.3 528.2L413.4 525.3L413.4 522.4L413.5 519.5L413.5 516.6L413.6 513.7L413.6 510.8L413.7 507.9L413.8 505.0L413.9 502.1L414.0 499.2L414.1 496.3L414.2 493.4L414.4 490.5L414.5 487.6L414.7 484.7L414.9 481.8L415.1 478.9L415.4 476.0L415.5 474.2L415.7 473.1L416.0 470.2L416.4 467.3L416.8 464.4L417.3 461.5L417.9 458.5L418.4 456.1L418.6 455.6L419.3 452.7L420.2 449.8L421.2 446.9L421.4 446.5L422.3 444.0L423.7 441.1L424.3 440.0L425.2 438.2L426.9 435.3L427.2 435.0L428.9 432.4L430.1 430.8L431.1 429.5L433.0 427.2L433.5 426.6L435.9 423.9L436.0 423.7L438.7 420.8L438.8 420.7L441.4 417.9L441.7 417.5L444.0 415.0L444.6 414.3L446.5 412.1L447.5 410.8L448.7 409.2L450.4 406.7L450.6 406.3L452.1 403.4L453.1 400.5L453.3 399.6L453.8 397.6L454.2 394.7L454.7 391.8L455.5 388.9L453.3 388.9L450.4 388.9L447.5 388.9L444.6 388.9L441.7 388.9L438.8 388.9L435.9 388.9L433.0 388.9L430.1 388.9L427.2 388.9L424.3 388.9L421.4 388.9L418.4 388.9L415.5 388.9L412.6 388.9L409.7 388.9L406.8 388.9L403.9 388.9L401.0 388.9L398.1 388.9L395.2 388.9L392.3 388.9L389.4 388.9L386.5 388.9L386.5 391.8L386.5 394.7L386.5 397.6L386.5 400.5L386.5 403.4L386.5 406.3L386.5 409.2L386.5 412.1L386.5 415.0L386.5 417.9L386.5 420.8L386.5 423.7L386.5 426.6L386.5 429.5L386.5 432.4L386.5 435.3L386.5 438.2L386.5 441.1L386.5 444.0L386.5 446.9L386.5 449.8L386.5 452.7L386.5 455.6L386.5 458.5L386.5 461.5L386.5 464.4L386.5 467.3L386.5 470.2L386.5 473.1L386.5 476.0L386.5 478.9L386.5 481.8L386.5 484.7L386.5 487.6L386.5 490.5L386.5 493.4L386.5 496.3L386.5 499.2L386.5 502.1L386.5 505.0L386.5 507.9L386.5 510.8L386.5 513.7L386.5 516.6L386.5 519.5L386.5 522.4L386.5 525.3L386.5 528.2L386.5 531.1L386.5 534.0L386.5 536.9L386.5 539.9L386.5 542.8L386.5 545.7L386.5 548.6L386.5 551.5L386.5 554.4L386.5 557.3L386.5 560.2L386.5 563.1L386.5 566.0L386.5 568.9L386.5 571.8L386.5 574.7L386.5 577.6L386.5 580.5L386.5 583.4L386.5 586.3L386.5 589.2L386.5 592.1L386.5 595.0L386.5 597.9L386.5 600.8L386.5 603.7L386.5 606.6L386.5 609.5L386.5 612.4L386.5 615.4L386.5 618.3L386.5 621.2L386.5 624.1L386.5 627.0L386.5 629.9L386.5 632.8L386.5 635.7L386.5 638.6L386.5 641.5L386.5 644.4ZM567.3 644.4L569.4 646.1L572.3 647.1L575.3 647.1L578.2 646.6L581.1 645.6L583.2 644.4L584.0 644.1L586.9 642.9L589.3 641.5L589.8 641.3L592.7 640.0L595.2 638.6L595.6 638.4L598.5 637.0L601.0 635.7L601.4 635.5L604.3 634.2L606.9 632.8L607.2 632.7L610.1 631.3L612.9 629.9L613.0 629.8L615.9 628.5L618.8 627.1L619.0 627.0L621.7 625.7L624.6 624.4L625.3 624.1L627.5 623.1L630.4 621.8L631.9 621.2L633.3 620.5L636.2 619.3L638.8 618.3L639.1 618.1L642.0 617.0L644.9 615.9L644.9 615.4L644.9 612.4L644.9 609.5L644.9 606.6L644.9 603.7L644.9 600.8L644.9 597.9L644.9 595.0L644.9 592.1L644.9 589.2L644.9 586.3L644.9 583.4L644.9 580.5L644.9 577.6L644.9 574.7L644.9 571.8L644.9 568.9L644.9 566.0L644.9 563.1L644.9 560.2L644.9 557.3L644.9 554.4L644.9 551.5L644.9 548.6L644.9 545.7L644.9 542.8L644.9 539.9L644.9 536.9L644.9 534.0L644.9 531.1L644.9 528.2L644.9 525.3L644.9 522.4L644.9 519.5L644.9 516.6L644.9 513.7L644.9 510.8L644.9 507.9L644.9 505.0L644.9 502.1L644.9 499.2L644.9 496.3L644.9 493.4L644.9 490.5L644.9 487.6L644.9 484.7L644.9 481.8L644.9 478.9L644.9 476.0L644.9 473.1L644.9 470.2L644.9 467.3L644.9 464.4L644.9 461.5L644.9 458.5L644.9 455.6L644.9 452.7L644.9 449.8L644.9 446.9L644.9 444.0L644.9 441.1L644.9 440.5L642.0 438.9L640.9 438.2L639.1 437.2L636.2 435.4L636.1 435.3L633.3 433.6L631.5 432.4L630.4 431.8L627.5 429.9L627.0 429.5L624.6 427.9L622.7 426.6L621.7 426.0L618.8 424.0L618.4 423.7L615.9 421.9L614.3 420.8L613.0 419.8L610.3 417.9L610.1 417.7L607.2 415.4L606.6 415.0L604.3 413.0L603.3 412.1L601.4 410.1L600.5 409.2L598.5 406.7L598.1 406.3L596.1 403.4L595.6 402.5L594.3 400.5L592.7 397.6L592.7 397.5L591.2 394.7L589.9 391.8L589.8 391.5L588.6 388.9L586.9 388.9L584.0 388.9L581.1 388.9L578.2 388.9L575.3 388.9L572.3 388.9L569.4 388.9L566.5 388.9L563.6 388.9L560.7 388.9L557.8 388.9L554.9 388.9L552.0 388.9L549.1 388.9L546.2 388.9L543.3 388.9L540.4 388.9L540.0 388.9L540.0 391.8L540.0 394.7L540.4 397.1L540.5 397.6L541.7 400.5L543.3 402.6L543.9 403.4L546.2 405.2L547.5 406.3L549.1 407.1L552.0 408.7L553.1 409.2L554.9 409.9L557.8 411.0L560.5 412.1L560.7 412.2L563.6 413.2L566.5 414.3L568.3 415.0L569.4 415.5L572.3 416.8L574.3 417.9L575.3 418.4L578.2 420.5L578.5 420.8L581.1 423.2L581.5 423.7L583.8 426.6L584.0 426.8L585.9 429.5L586.9 430.9L587.8 432.4L589.8 435.2L589.9 435.3L592.1 438.2L592.7 439.0L594.5 441.1L595.6 442.3L597.2 444.0L598.5 445.3L600.3 446.9L601.4 447.9L603.6 449.8L604.3 450.4L607.2 452.7L607.2 452.7L610.1 454.9L611.1 455.6L613.0 457.1L614.9 458.5L615.9 459.4L618.2 461.5L618.8 462.1L621.0 464.4L621.7 465.3L623.2 467.3L624.6 469.8L624.8 470.2L626.1 473.1L627.0 476.0L627.5 478.7L627.6 478.9L628.1 481.8L628.4 484.7L628.5 487.6L628.6 490.5L628.7 493.4L628.7 496.3L628.7 499.2L628.6 502.1L628.6 505.0L628.5 507.9L628.4 510.8L628.3 513.7L628.2 516.6L628.2 519.5L628.1 522.4L628.0 525.3L627.9 528.2L627.8 531.1L627.7 534.0L627.6 536.9L627.5 539.1L627.5 539.9L627.4 542.8L627.3 545.7L627.2 548.6L627.0 551.5L626.8 554.4L626.6 557.3L626.3 560.2L625.9 563.1L625.4 566.0L624.6 568.6L624.5 568.9L623.5 571.8L621.8 574.7L621.7 574.8L619.4 577.6L618.8 578.1L615.9 580.4L615.8 580.5L613.0 582.2L610.9 583.4L610.1 583.8L607.2 585.2L605.1 586.3L604.3 586.7L601.4 588.0L599.0 589.2L598.5 589.5L595.6 590.9L593.3 592.1L592.7 592.4L589.8 594.0L587.9 595.0L586.9 595.6L584.0 597.4L583.2 597.9L581.1 599.3L578.9 600.8L578.2 601.4L575.3 603.7L575.2 603.7L572.3 606.2L571.9 606.6L569.4 609.1L569.0 609.5L566.5 612.4L566.5 612.4L564.4 615.4L563.6 616.7L562.6 618.3L561.2 621.2L560.7 622.7L560.2 624.1L559.6 627.0L559.5 629.9L559.8 632.8L560.7 635.7L560.7 635.9L562.1 638.6L563.6 640.9L564.2 641.5L566.5 643.9ZM512.8 548.6L514.3 548.8L517.2 549.1L520.1 549.0L523.0 548.7L523.5 548.6L525.9 548.1L528.8 547.2L531.7 545.8L532.0 545.7L534.6 544.2L536.5 542.8L537.5 541.9L539.7 539.9L540.4 539.0L542.1 536.9L543.3 535.1L543.9 534.0L545.4 531.1L546.2 529.0L546.5 528.2L547.3 525.3L547.9 522.4L548.1 519.5L548.2 516.6L547.9 513.7L547.5 510.8L546.7 507.9L546.2 506.6L545.7 505.0L544.3 502.1L543.3 500.5L542.5 499.2L540.4 496.5L540.2 496.3L537.5 493.6L537.3 493.4L534.6 491.3L533.2 490.5L531.7 489.6L528.8 488.3L526.4 487.6L525.9 487.4L523.0 486.7L520.1 486.4L517.2 486.4L514.3 486.6L511.4 487.1L509.6 487.6L508.5 487.9L505.6 488.9L502.7 490.3L502.4 490.5L499.8 492.0L497.9 493.4L496.9 494.2L494.6 496.3L493.9 497.0L492.0 499.2L491.0 500.6L490.0 502.1L488.4 505.0L488.1 505.8L487.2 507.9L486.3 510.8L485.8 513.7L485.6 516.6L485.6 519.5L485.9 522.4L486.5 525.3L487.5 528.2L488.1 529.6L488.8 531.1L490.5 534.0L491.0 534.8L492.6 536.9L493.9 538.4L495.4 539.9L496.9 541.2L498.9 542.8L499.8 543.3L502.7 545.1L503.8 545.7L505.6 546.5L508.5 547.6L511.4 548.3Z"/>
<path fill="#00cfff" d="M579.2 629.9L581.1 630.4L584.0 630.9L586.9 631.0L589.8 630.8L592.7 630.4L595.3 629.9L595.6 629.8L598.5 629.1L601.4 628.3L604.3 627.2L605.0 627.0L607.2 626.1L610.1 624.9L612.1 624.1L613.0 623.6L615.9 622.2L618.1 621.2L618.8 620.8L621.7 619.2L623.4 618.3L624.6 617.5L627.5 615.6L628.0 615.4L630.4 613.5L631.9 612.4L633.3 611.1L635.1 609.5L636.2 608.2L637.6 606.6L639.1 603.8L639.2 603.7L640.1 600.8L640.2 597.9L639.6 595.0L639.1 594.0L638.2 592.1L636.2 589.9L635.4 589.2L633.3 588.0L630.4 587.3L627.5 587.2L624.6 587.5L621.7 588.0L618.8 588.5L615.9 589.2L615.8 589.2L613.0 589.9L610.1 590.6L607.2 591.5L605.3 592.1L604.3 592.4L601.4 593.5L598.5 594.6L597.7 595.0L595.6 595.9L592.7 597.4L591.6 597.9L589.8 599.0L586.9 600.7L586.7 600.8L584.0 602.7L582.6 603.7L581.1 605.0L579.2 606.6L578.2 607.8L576.5 609.5L575.3 611.2L574.3 612.4L572.8 615.4L572.3 616.7L571.8 618.3L571.6 621.2L572.3 624.1L572.3 624.2L574.3 627.0L575.3 627.8L578.2 629.5ZM408.3 624.1L409.7 624.3L412.6 624.4L415.5 624.2L416.3 624.1L418.4 623.6L421.4 622.3L423.1 621.2L424.3 619.7L425.0 618.3L425.0 615.4L424.3 613.6L423.8 612.4L421.6 609.5L421.4 609.3L418.8 606.6L418.4 606.3L415.9 603.7L415.5 603.4L413.1 600.8L412.6 600.3L410.7 597.9L409.7 596.3L409.0 595.0L407.7 592.1L407.0 589.2L406.8 588.2L406.5 586.3L406.3 583.4L406.2 580.5L406.2 577.6L406.3 574.7L406.5 571.8L406.6 568.9L406.8 566.0L406.8 564.7L406.9 563.1L407.0 560.2L407.2 557.3L407.3 554.4L407.4 551.5L407.5 548.6L407.7 545.7L407.8 542.8L407.9 539.9L408.0 536.9L408.1 534.0L408.2 531.1L408.3 528.2L408.4 525.3L408.5 522.4L408.6 519.5L408.7 516.6L408.8 513.7L408.8 510.8L408.9 507.9L409.0 505.0L409.0 502.1L409.1 499.2L409.1 496.3L409.1 493.4L409.2 490.5L409.2 487.6L409.3 484.7L409.3 481.8L409.3 478.9L409.4 476.0L409.4 473.1L409.4 470.2L409.5 467.3L409.5 464.4L409.5 461.5L409.5 458.5L409.5 455.6L409.5 452.7L409.4 449.8L409.3 446.9L409.2 444.0L409.0 441.1L408.7 438.2L408.2 435.3L407.6 432.4L406.8 430.0L406.6 429.5L405.1 426.6L403.9 425.0L402.4 423.7L401.0 422.7L398.1 421.7L395.2 421.7L392.3 422.6L390.6 423.7L389.4 424.5L387.1 426.6L386.5 427.2L386.5 429.5L386.5 432.4L386.5 435.3L386.5 438.2L386.5 441.1L386.5 444.0L386.5 446.9L386.5 449.8L386.5 452.7L386.5 455.6L386.5 458.5L386.5 461.5L386.5 464.4L386.5 467.3L386.5 470.2L386.5 473.1L386.5 476.0L386.5 478.9L386.5 481.8L386.5 484.7L386.5 487.6L386.5 490.5L386.5 493.4L386.5 496.3L386.5 499.2L386.5 502.1L386.5 505.0L386.5 507.9L386.5 510.8L386.5 513.7L386.5 516.6L386.5 519.5L386.5 522.4L386.5 525.3L386.5 528.2L386.5 531.1L386.5 534.0L386.5 536.9L386.5 539.9L386.5 542.8L386.5 545.7L386.5 548.6L386.5 551.5L386.5 554.4L386.5 557.3L386.5 560.2L386.5 563.1L386.5 566.0L386.5 568.9L386.5 571.8L386.5 574.7L386.5 577.6L386.5 580.5L386.5 583.4L386.5 586.3L386.5 589.2L386.5 592.1L386.5 595.0L386.5 597.9L386.5 600.6L386.6 600.8L387.7 603.7L388.8 606.6L389.4 608.1L390.1 609.5L391.6 612.4L392.3 613.7L393.5 615.4L395.2 617.4L396.0 618.3L398.1 620.0L399.9 621.2L401.0 621.8L403.9 623.0L406.8 623.8ZM508.7 545.7L511.4 546.5L514.3 547.0L517.2 547.2L520.1 547.1L523.0 546.7L525.9 546.0L526.9 545.7L528.8 545.0L531.7 543.6L533.0 542.8L534.6 541.7L536.8 539.9L537.5 539.2L539.6 536.9L540.4 535.9L541.7 534.0L543.3 531.1L543.3 531.1L544.6 528.2L545.4 525.3L546.0 522.4L546.2 519.9L546.3 519.5L546.3 516.6L546.2 515.8L546.1 513.7L545.6 510.8L544.8 507.9L543.6 505.0L543.3 504.5L542.1 502.1L540.4 499.6L540.1 499.2L537.5 496.3L537.5 496.3L534.6 493.8L534.0 493.4L531.7 491.9L528.8 490.5L528.7 490.5L525.9 489.4L523.0 488.7L520.1 488.3L517.2 488.3L514.3 488.5L511.4 489.0L508.5 489.8L506.7 490.5L505.6 490.9L502.7 492.4L501.1 493.4L499.8 494.3L497.3 496.3L496.9 496.7L494.5 499.2L493.9 499.9L492.3 502.1L491.0 504.2L490.6 505.0L489.3 507.9L488.4 510.8L488.1 512.3L487.8 513.7L487.5 516.6L487.6 519.5L488.0 522.4L488.1 523.1L488.6 525.3L489.6 528.2L491.0 531.1L491.0 531.2L492.8 534.0L493.9 535.5L495.1 536.9L496.9 538.7L498.2 539.9L499.8 541.1L502.3 542.8L502.7 543.0L505.6 544.5L508.5 545.6ZM610.0 441.1L610.1 441.2L613.0 442.5L615.9 443.0L617.3 441.1L615.9 438.5L615.8 438.2L613.0 435.9L612.1 435.3L610.1 434.4L607.2 434.1L606.1 435.3L607.1 438.2L607.2 438.4Z"/>
<path fill="#00efff" d="M583.6 621.2L584.0 621.4L586.9 622.8L589.8 623.4L592.7 623.6L595.6 623.4L598.5 622.9L601.4 622.2L604.3 621.4L604.9 621.2L607.2 620.3L610.1 619.0L611.6 618.3L613.0 617.4L615.9 615.7L616.4 615.4L618.8 613.5L620.1 612.4L621.7 610.6L622.7 609.5L624.4 606.6L624.6 605.2L624.9 603.7L624.6 602.5L624.1 600.8L621.7 598.7L620.4 597.9L618.8 597.4L615.9 596.9L613.0 596.7L610.1 596.9L607.2 597.3L604.3 597.9L604.2 597.9L601.4 598.8L598.5 599.8L596.1 600.8L595.6 601.1L592.7 602.7L590.9 603.7L589.8 604.5L587.0 606.6L586.9 606.8L584.2 609.5L584.0 609.9L582.3 612.4L581.3 615.4L581.6 618.3ZM389.3 560.2L389.4 560.3L392.3 561.0L393.9 560.2L395.2 559.4L396.5 557.3L398.1 554.4L398.1 554.2L398.9 551.5L399.7 548.6L400.3 545.7L400.9 542.8L401.0 542.1L401.3 539.9L401.7 536.9L402.0 534.0L402.3 531.1L402.6 528.2L402.8 525.3L403.0 522.4L403.1 519.5L403.3 516.6L403.4 513.7L403.5 510.8L403.5 507.9L403.6 505.0L403.6 502.1L403.5 499.2L403.5 496.3L403.4 493.4L403.3 490.5L403.1 487.6L402.9 484.7L402.6 481.8L402.3 478.9L402.0 476.0L401.5 473.1L401.0 470.4L401.0 470.2L400.1 467.3L399.0 464.4L398.1 462.3L397.4 461.5L395.2 459.3L392.3 458.8L389.4 460.2L388.3 461.5L386.5 463.5L386.5 464.4L386.5 467.3L386.5 470.2L386.5 473.1L386.5 476.0L386.5 478.9L386.5 481.8L386.5 484.7L386.5 487.6L386.5 490.5L386.5 493.4L386.5 496.3L386.5 499.2L386.5 502.1L386.5 505.0L386.5 507.9L386.5 510.8L386.5 513.7L386.5 516.6L386.5 519.5L386.5 522.4L386.5 525.3L386.5 528.2L386.5 531.1L386.5 534.0L386.5 536.9L386.5 539.9L386.5 542.8L386.5 545.7L386.5 548.6L386.5 551.5L386.5 554.4L386.5 557.3L386.5 557.4ZM505.7 542.8L508.5 544.0L511.4 544.8L514.3 545.3L517.2 545.5L520.1 545.4L523.0 545.0L525.9 544.3L528.8 543.1L529.5 542.8L531.7 541.6L534.2 539.9L534.6 539.5L537.3 536.9L537.5 536.8L539.7 534.0L540.4 532.9L541.5 531.1L542.8 528.2L543.3 526.6L543.7 525.3L544.4 522.4L544.8 519.5L544.8 516.6L544.5 513.7L543.9 510.8L543.3 508.9L543.0 507.9L541.8 505.0L540.4 502.6L540.1 502.1L537.9 499.2L537.5 498.7L535.0 496.3L534.6 496.0L531.7 493.9L530.8 493.4L528.8 492.3L525.9 491.2L523.0 490.5L522.7 490.5L520.1 490.1L517.2 489.9L514.3 490.2L512.7 490.5L511.4 490.7L508.5 491.4L505.6 492.7L504.2 493.4L502.7 494.2L499.8 496.3L499.8 496.3L496.9 499.0L496.7 499.2L494.3 502.1L493.9 502.6L492.4 505.0L491.2 507.9L491.0 508.3L490.1 510.8L489.5 513.7L489.2 516.6L489.2 519.5L489.6 522.4L490.4 525.3L491.0 527.1L491.4 528.2L492.8 531.1L493.9 532.8L494.8 534.0L496.9 536.4L497.4 536.9L499.8 539.1L500.7 539.9L502.7 541.2L505.6 542.7Z"/>
<path fill="#10ffef" d="M594.1 612.4L595.6 614.2L598.5 615.0L601.4 614.5L604.3 613.5L606.4 612.4L607.2 611.7L609.2 609.5L609.0 606.6L607.2 605.8L604.3 605.6L601.4 606.1L599.7 606.6L598.5 607.3L595.6 609.3L595.3 609.5ZM509.4 542.8L511.4 543.4L514.3 544.0L517.2 544.2L520.1 544.1L523.0 543.6L525.6 542.8L525.9 542.7L528.8 541.6L531.7 539.9L531.7 539.8L534.6 537.7L535.4 536.9L537.5 534.6L537.9 534.0L539.9 531.1L540.4 530.1L541.4 528.2L542.4 525.3L543.0 522.4L543.3 519.5L543.3 518.6L543.3 516.6L543.3 516.4L543.1 513.7L542.6 510.8L541.7 507.9L540.4 505.4L540.2 505.0L538.5 502.1L537.5 500.9L536.1 499.2L534.6 497.8L532.7 496.3L531.7 495.6L528.8 493.9L527.4 493.4L525.9 492.7L523.0 491.8L520.1 491.4L517.2 491.3L514.3 491.4L511.4 492.0L508.5 492.9L507.5 493.4L505.6 494.1L502.7 495.9L502.1 496.3L499.8 498.0L498.5 499.2L496.9 501.0L496.0 502.1L494.1 505.0L493.9 505.3L492.6 507.9L491.6 510.8L491.1 513.7L491.0 513.9L490.7 516.6L490.8 519.5L491.0 521.3L491.2 522.4L491.8 525.3L492.9 528.2L493.9 530.1L494.5 531.1L496.6 534.0L496.9 534.4L499.3 536.9L499.8 537.3L502.7 539.6L503.2 539.9L505.6 541.3L508.5 542.5ZM389.3 516.6L389.4 517.2L392.3 519.1L392.9 516.6L393.4 513.7L393.7 510.8L393.7 507.9L393.5 505.0L393.1 502.1L392.3 499.3L389.4 502.0L389.4 502.1L389.0 505.0L388.8 507.9L388.7 510.8L388.9 513.7Z"/>
<path fill="#30ffcf" d="M515.1 542.8L517.2 542.9L520.1 542.8L520.1 542.8L523.0 542.4L525.9 541.6L528.8 540.2L529.4 539.9L531.7 538.5L533.6 536.9L534.6 536.1L536.5 534.0L537.5 532.7L538.6 531.1L540.1 528.2L540.4 527.3L541.2 525.3L542.0 522.4L542.4 519.5L542.4 516.6L542.1 513.7L541.5 510.8L540.4 508.2L540.3 507.9L539.0 505.0L537.5 502.8L537.0 502.1L534.6 499.4L534.3 499.2L531.7 497.0L530.6 496.3L528.8 495.2L525.9 493.9L523.8 493.4L523.0 493.1L520.1 492.6L517.2 492.4L514.3 492.6L511.4 493.3L511.0 493.4L508.5 494.1L505.6 495.4L504.1 496.3L502.7 497.1L500.2 499.2L499.8 499.6L497.4 502.1L496.9 502.9L495.3 505.0L494.0 507.9L493.9 508.0L492.7 510.8L492.1 513.7L491.8 516.6L491.8 519.5L492.2 522.4L493.0 525.3L493.9 527.5L494.2 528.2L495.8 531.1L496.9 532.6L498.0 534.0L499.8 535.9L501.0 536.9L502.7 538.3L505.4 539.9L505.6 540.0L508.5 541.4L511.4 542.3L514.3 542.7Z"/>
<path fill="#50ffaf" d="M507.5 539.9L508.5 540.4L511.4 541.4L514.3 541.9L517.2 542.1L520.1 542.0L523.0 541.5L525.9 540.5L527.2 539.9L528.8 539.2L531.7 537.2L532.1 536.9L534.6 534.7L535.2 534.0L537.4 531.1L537.5 530.9L539.2 528.2L540.2 525.3L540.4 524.3L541.0 522.4L541.4 519.5L541.5 516.6L541.1 513.7L540.4 511.1L540.3 510.8L539.4 507.9L537.8 505.0L537.5 504.5L535.8 502.1L534.6 500.7L532.9 499.2L531.7 498.1L528.8 496.4L528.6 496.3L525.9 494.9L523.0 494.0L520.1 493.6L517.2 493.5L514.3 493.6L511.4 494.1L508.5 495.0L506.0 496.3L505.6 496.5L502.7 498.3L501.6 499.2L499.8 500.9L498.6 502.1L496.9 504.5L496.5 505.0L494.8 507.9L493.9 510.7L493.9 510.8L493.1 513.7L492.7 516.6L492.8 519.5L493.2 522.4L493.9 524.6L494.1 525.3L495.2 528.2L496.9 530.9L497.0 531.1L499.3 534.0L499.8 534.5L502.5 536.9L502.7 537.0L505.6 539.0Z"/>
<path fill="#70ff8f" d="M509.7 539.9L511.4 540.5L514.3 541.1L517.2 541.4L520.1 541.2L523.0 540.6L525.0 539.9L525.9 539.6L528.8 538.3L530.7 536.9L531.7 536.3L534.1 534.0L534.6 533.5L536.5 531.1L537.5 529.4L538.2 528.2L539.5 525.3L540.1 522.4L540.4 520.0L540.5 519.5L540.5 516.6L540.4 515.6L540.2 513.7L539.7 510.8L538.6 507.9L537.5 506.1L536.9 505.0L534.7 502.1L534.6 502.0L531.7 499.3L531.6 499.2L528.8 497.2L526.7 496.3L525.9 495.9L523.0 494.8L520.1 494.3L517.2 494.1L514.3 494.3L511.4 494.9L508.5 496.0L507.8 496.3L505.6 497.3L502.9 499.2L502.7 499.4L499.8 502.1L499.8 502.1L497.4 505.0L496.9 506.1L495.7 507.9L494.6 510.8L494.0 513.7L493.9 514.7L493.7 516.6L493.7 519.5L493.9 520.8L494.1 522.4L494.8 525.3L496.1 528.2L496.9 529.4L497.9 531.1L499.8 533.4L500.4 534.0L502.7 536.2L503.8 536.9L505.6 538.2L508.5 539.5Z"/>
<path fill="#8fff70" d="M512.2 539.9L514.3 540.4L517.2 540.6L520.1 540.4L522.4 539.9L523.0 539.8L525.9 538.9L528.8 537.4L529.4 536.9L531.7 535.4L533.2 534.0L534.6 532.5L535.7 531.1L537.4 528.2L537.5 527.9L538.7 525.3L539.5 522.4L539.9 519.5L539.9 516.6L539.7 513.7L539.0 510.8L537.7 507.9L537.5 507.6L536.2 505.0L534.6 503.0L533.8 502.1L531.7 500.1L530.5 499.2L528.8 498.0L525.9 496.6L524.8 496.3L523.0 495.6L520.1 495.0L517.2 494.8L514.3 495.0L511.4 495.7L509.8 496.3L508.5 496.7L505.6 498.1L504.0 499.2L502.7 500.2L500.6 502.1L499.8 503.1L498.2 505.0L496.9 507.5L496.6 507.9L495.3 510.8L494.6 513.7L494.3 516.6L494.4 519.5L494.7 522.4L495.6 525.3L496.9 527.9L497.0 528.2L498.7 531.1L499.8 532.4L501.3 534.0L502.7 535.3L505.1 536.9L505.6 537.3L508.5 538.8L511.4 539.7Z"/>
<path fill="#afff50" d="M506.3 536.9L508.5 538.2L511.4 539.2L514.3 539.7L517.2 539.9L520.1 539.7L523.0 539.2L525.9 538.3L528.2 536.9L528.8 536.7L531.7 534.5L532.2 534.0L534.6 531.4L534.8 531.1L536.8 528.2L537.5 526.4L538.0 525.3L538.9 522.4L539.4 519.5L539.4 516.6L539.1 513.7L538.3 510.8L537.5 509.1L537.1 507.9L535.4 505.0L534.6 504.0L533.0 502.1L531.7 500.9L529.4 499.2L528.8 498.8L525.9 497.2L523.0 496.3L522.7 496.3L520.1 495.7L517.2 495.5L514.3 495.7L511.9 496.3L511.4 496.4L508.5 497.3L505.6 498.9L505.1 499.2L502.7 501.0L501.5 502.1L499.8 504.1L499.0 505.0L497.3 507.9L496.9 509.0L496.0 510.8L495.2 513.7L494.9 516.6L494.9 519.5L495.4 522.4L496.3 525.3L496.9 526.5L497.6 528.2L499.6 531.1L499.8 531.3L502.2 534.0L502.7 534.4L505.6 536.6Z"/>
<path fill="#cfff30" d="M507.5 536.9L508.5 537.5L511.4 538.6L514.3 539.2L517.2 539.4L520.1 539.2L523.0 538.7L525.9 537.6L527.0 536.9L528.8 536.0L531.3 534.0L531.7 533.7L534.1 531.1L534.6 530.5L536.1 528.2L537.4 525.3L537.5 524.8L538.3 522.4L538.8 519.5L538.8 516.6L538.5 513.7L537.6 510.8L537.5 510.6L536.5 507.9L534.6 505.0L534.6 505.0L532.1 502.1L531.7 501.7L528.8 499.5L528.3 499.2L525.9 497.8L523.0 496.8L520.1 496.3L519.4 496.3L517.2 496.1L515.2 496.3L514.3 496.4L511.4 496.9L508.5 497.9L506.2 499.2L505.6 499.5L502.7 501.8L502.3 502.1L499.8 505.0L499.8 505.0L497.8 507.9L496.9 510.5L496.7 510.8L495.8 513.7L495.4 516.6L495.5 519.5L496.0 522.4L496.9 524.9L497.0 525.3L498.2 528.2L499.8 530.4L500.3 531.1L502.7 533.7L503.1 534.0L505.6 536.0Z"/>
<path fill="#efff10" d="M508.6 536.9L511.4 538.1L514.3 538.7L517.2 538.9L520.1 538.7L523.0 538.1L525.9 536.9L525.9 536.9L528.8 535.4L530.6 534.0L531.7 533.1L533.5 531.1L534.6 529.6L535.5 528.2L536.9 525.3L537.5 523.1L537.7 522.4L538.3 519.5L538.3 516.6L537.9 513.7L537.5 512.4L537.1 510.8L535.9 507.9L534.6 505.9L534.0 505.0L531.7 502.4L531.3 502.1L528.8 500.0L527.2 499.2L525.9 498.4L523.0 497.3L520.1 496.8L517.2 496.6L514.3 496.8L511.4 497.4L508.5 498.5L507.2 499.2L505.6 500.1L503.1 502.1L502.7 502.5L500.3 505.0L499.8 505.9L498.4 507.9L497.2 510.8L496.9 512.3L496.4 513.7L496.0 516.6L496.0 519.5L496.6 522.4L496.9 523.2L497.4 525.3L498.8 528.2L499.8 529.6L500.9 531.1L502.7 533.0L503.9 534.0L505.6 535.4L508.5 536.9Z"/>
<path fill="#ffef00" d="M509.9 536.9L511.4 537.6L514.3 538.2L517.2 538.5L520.1 538.3L523.0 537.6L524.6 536.9L525.9 536.5L528.8 534.8L529.8 534.0L531.7 532.4L532.9 531.1L534.6 528.7L534.9 528.2L536.4 525.3L537.2 522.4L537.5 520.6L537.7 519.5L537.8 516.6L537.5 514.9L537.4 513.7L536.7 510.8L535.4 507.9L534.6 506.7L533.5 505.0L531.7 503.1L530.7 502.1L528.8 500.6L526.2 499.2L525.9 499.0L523.0 497.8L520.1 497.2L517.2 497.0L514.3 497.2L511.4 497.9L508.5 499.1L508.2 499.2L505.6 500.7L503.8 502.1L502.7 503.1L500.9 505.0L499.8 506.7L499.0 507.9L497.7 510.8L496.9 513.7L496.9 514.5L496.5 516.6L496.6 519.5L496.9 520.9L497.1 522.4L497.9 525.3L499.4 528.2L499.8 528.7L501.5 531.1L502.7 532.4L504.6 534.0L505.6 534.8L508.5 536.4Z"/>
<path fill="#ffcf00" d="M511.2 536.9L511.4 537.0L514.3 537.8L517.2 538.0L520.1 537.8L523.0 537.1L523.3 536.9L525.9 536.0L528.8 534.2L529.0 534.0L531.7 531.8L532.3 531.1L534.4 528.2L534.6 527.8L535.9 525.3L536.8 522.4L537.3 519.5L537.3 516.6L537.0 513.7L536.2 510.8L534.8 507.9L534.6 507.6L532.9 505.0L531.7 503.7L530.0 502.1L528.8 501.2L525.9 499.5L525.1 499.2L523.0 498.3L520.1 497.7L517.2 497.5L514.3 497.7L511.4 498.4L509.4 499.2L508.5 499.6L505.6 501.2L504.5 502.1L502.7 503.7L501.5 505.0L499.8 507.6L499.6 507.9L498.1 510.8L497.4 513.7L497.0 516.6L497.1 519.5L497.5 522.4L498.4 525.3L499.8 527.8L500.0 528.2L502.1 531.1L502.7 531.7L505.4 534.0L505.6 534.2L508.5 536.0Z"/>
<path fill="#ffaf00" d="M513.0 536.9L514.3 537.3L517.2 537.5L520.1 537.3L521.5 536.9L523.0 536.6L525.9 535.5L528.3 534.0L528.8 533.7L531.7 531.1L531.7 531.1L533.9 528.2L534.6 526.9L535.5 525.3L536.4 522.4L536.9 519.5L536.9 516.6L536.6 513.7L535.7 510.8L534.6 508.5L534.3 507.9L532.3 505.0L531.7 504.3L529.3 502.1L528.8 501.7L525.9 500.0L523.9 499.2L523.0 498.8L520.1 498.1L517.2 497.9L514.3 498.1L511.4 498.8L510.5 499.2L508.5 500.0L505.6 501.8L505.2 502.1L502.7 504.4L502.1 505.0L500.0 507.9L499.8 508.5L498.6 510.8L497.8 513.7L497.4 516.6L497.5 519.5L497.9 522.4L498.9 525.3L499.8 526.9L500.4 528.2L502.7 531.1L502.7 531.1L505.6 533.7L506.1 534.0L508.5 535.5L511.4 536.6Z"/>
<path fill="#ff8f00" d="M515.9 536.9L517.2 537.1L518.6 536.9L520.1 536.8L523.0 536.2L525.9 535.1L527.5 534.0L528.8 533.2L531.1 531.1L531.7 530.5L533.4 528.2L534.6 526.0L535.0 525.3L536.0 522.4L536.5 519.5L536.5 516.6L536.1 513.7L535.3 510.8L534.6 509.5L533.9 507.9L531.7 505.0L531.7 505.0L528.8 502.3L528.6 502.1L525.9 500.4L523.0 499.3L522.6 499.2L520.1 498.5L517.2 498.3L514.3 498.6L511.8 499.2L511.4 499.3L508.5 500.4L505.8 502.1L505.6 502.3L502.7 505.0L502.6 505.0L500.5 507.9L499.8 509.4L499.1 510.8L498.2 513.7L497.8 516.6L497.8 519.5L498.3 522.4L499.4 525.3L499.8 526.1L500.9 528.2L502.7 530.5L503.3 531.1L505.6 533.2L506.9 534.0L508.5 535.0L511.4 536.2L514.3 536.8Z"/>
<path fill="#ff7000" d="M507.6 534.0L508.5 534.6L511.4 535.8L514.3 536.5L517.2 536.7L520.1 536.5L523.0 535.8L525.9 534.6L526.8 534.0L528.8 532.7L530.6 531.1L531.7 529.9L533.0 528.2L534.5 525.3L534.6 525.1L535.6 522.4L536.1 519.5L536.1 516.6L535.7 513.7L534.8 510.8L534.6 510.4L533.4 507.9L531.7 505.6L531.2 505.0L528.8 502.7L527.9 502.1L525.9 500.8L523.0 499.7L520.9 499.2L520.1 499.0L517.2 498.7L514.3 499.0L513.5 499.2L511.4 499.7L508.5 500.9L506.5 502.1L505.6 502.8L503.2 505.0L502.7 505.6L500.9 507.9L499.8 510.3L499.5 510.8L498.6 513.7L498.2 516.6L498.2 519.5L498.8 522.4L499.8 525.1L499.8 525.3L501.4 528.2L502.7 529.9L503.8 531.1L505.6 532.7Z"/>
<path fill="#ff5000" d="M508.4 534.0L508.5 534.1L511.4 535.4L514.3 536.1L517.2 536.3L520.1 536.1L523.0 535.4L525.9 534.1L526.0 534.0L528.8 532.2L530.0 531.1L531.7 529.3L532.5 528.2L534.1 525.3L534.6 524.0L535.2 522.4L535.7 519.5L535.7 516.6L535.3 513.7L534.6 511.5L534.4 510.8L533.0 507.9L531.7 506.2L530.7 505.0L528.8 503.2L527.2 502.1L525.9 501.3L523.0 500.1L520.1 499.4L517.5 499.2L517.2 499.2L516.9 499.2L514.3 499.4L511.4 500.1L508.5 501.3L507.2 502.1L505.6 503.3L503.7 505.0L502.7 506.2L501.4 507.9L499.9 510.8L499.8 511.4L499.0 513.7L498.6 516.6L498.6 519.5L499.2 522.4L499.8 524.0L500.2 525.3L501.9 528.2L502.7 529.3L504.4 531.1L505.6 532.2Z"/>
<path fill="#ff3000" d="M509.3 534.0L511.4 535.0L514.3 535.7L517.2 535.9L520.1 535.7L523.0 535.0L525.2 534.0L525.9 533.7L528.8 531.8L529.5 531.1L531.7 528.7L532.0 528.2L533.7 525.3L534.6 522.8L534.7 522.4L535.3 519.5L535.4 516.6L534.9 513.7L534.6 512.7L534.0 510.8L532.5 507.9L531.7 506.8L530.2 505.0L528.8 503.7L526.5 502.1L525.9 501.7L523.0 500.4L520.1 499.8L517.2 499.5L514.3 499.8L511.4 500.5L508.5 501.8L507.9 502.1L505.6 503.7L504.2 505.0L502.7 506.8L501.8 507.9L500.3 510.8L499.8 512.7L499.4 513.7L499.0 516.6L499.0 519.5L499.6 522.4L499.8 522.9L500.6 525.3L502.3 528.2L502.7 528.7L504.9 531.1L505.6 531.7L508.5 533.7Z"/>
<path fill="#ff1000" d="M510.2 534.0L511.4 534.6L514.3 535.3L517.2 535.6L520.1 535.4L523.0 534.6L524.3 534.0L525.9 533.3L528.8 531.3L528.9 531.1L531.6 528.2L531.7 528.0L533.3 525.3L534.4 522.4L534.6 521.1L534.9 519.5L535.0 516.6L534.6 514.2L534.5 513.7L533.6 510.8L532.1 507.9L531.7 507.4L529.7 505.0L528.8 504.2L525.9 502.2L525.8 502.1L523.0 500.8L520.1 500.1L517.2 499.9L514.3 500.1L511.4 500.9L508.7 502.1L508.5 502.2L505.6 504.2L504.7 505.0L502.7 507.4L502.3 507.9L500.7 510.8L499.8 513.7L499.8 514.1L499.4 516.6L499.4 519.5L499.8 521.2L500.0 522.4L501.0 525.3L502.7 528.0L502.8 528.2L505.5 531.1L505.6 531.2L508.5 533.3Z"/>
<path fill="#ef0000" d="M511.1 534.0L511.4 534.2L514.3 535.0L517.2 535.2L520.1 535.0L523.0 534.2L523.4 534.0L525.9 532.9L528.3 531.1L528.8 530.8L531.1 528.2L531.7 527.4L532.9 525.3L534.0 522.4L534.5 519.5L534.6 516.6L534.2 513.7L533.2 510.8L531.7 508.0L531.6 507.9L529.1 505.0L528.8 504.7L525.9 502.6L524.9 502.1L523.0 501.2L520.1 500.5L517.2 500.3L514.3 500.5L511.4 501.3L509.5 502.1L508.5 502.6L505.6 504.7L505.2 505.0L502.7 507.9L502.7 508.1L501.1 510.8L500.2 513.7L499.8 516.5L499.7 516.6L499.8 517.3L499.8 519.5L500.4 522.4L501.4 525.3L502.7 527.4L503.3 528.2L505.6 530.7L506.1 531.1L508.5 532.8Z"/>
<path fill="#cf0000" d="M512.3 534.0L514.3 534.6L517.2 534.9L520.1 534.6L522.2 534.0L523.0 533.8L525.9 532.5L527.8 531.1L528.8 530.3L530.6 528.2L531.7 526.7L532.5 525.3L533.6 522.4L534.2 519.5L534.2 516.6L533.8 513.7L532.8 510.8L531.7 508.8L531.2 507.9L528.8 505.2L528.6 505.0L525.9 503.0L524.0 502.1L523.0 501.6L520.1 500.9L517.2 500.6L514.3 500.9L511.4 501.6L510.4 502.1L508.5 503.0L505.8 505.0L505.6 505.2L503.2 507.9L502.7 508.8L501.5 510.8L500.5 513.7L500.1 516.6L500.2 519.5L500.7 522.4L501.9 525.3L502.7 526.7L503.7 528.2L505.6 530.2L506.6 531.1L508.5 532.4L511.4 533.8Z"/>
<path fill="#af0000" d="M513.6 534.0L514.3 534.2L517.2 534.5L520.1 534.2L520.8 534.0L523.0 533.4L525.9 532.0L527.2 531.1L528.8 529.8L530.2 528.2L531.7 526.0L532.1 525.3L533.2 522.4L533.8 519.5L533.9 516.6L533.4 513.7L532.4 510.8L531.7 509.5L530.7 507.9L528.8 505.7L528.0 505.0L525.9 503.4L523.2 502.1L523.0 502.0L520.1 501.2L517.2 501.0L514.3 501.2L511.4 502.0L511.2 502.1L508.5 503.5L506.4 505.0L505.6 505.7L503.6 507.9L502.7 509.5L501.9 510.8L500.9 513.7L500.5 516.6L500.5 519.5L501.1 522.4L502.3 525.3L502.7 526.0L504.2 528.2L505.6 529.7L507.2 531.1L508.5 532.0L511.4 533.4Z"/>
<path fill="#8f0000" d="M516.4 534.0L517.2 534.1L518.0 534.0L520.1 533.9L523.0 533.0L525.9 531.6L526.6 531.1L528.8 529.3L529.7 528.2L531.7 525.3L531.7 525.3L532.9 522.4L533.4 519.5L533.5 516.6L533.0 513.7L532.0 510.8L531.7 510.2L530.3 507.9L528.8 506.2L527.5 505.0L525.9 503.9L523.0 502.4L522.0 502.1L520.1 501.6L517.2 501.3L514.3 501.6L512.4 502.1L511.4 502.4L508.5 503.9L506.9 505.0L505.6 506.2L504.1 507.9L502.7 510.2L502.3 510.8L501.3 513.7L500.8 516.6L500.9 519.5L501.5 522.4L502.7 525.3L502.7 525.3L504.6 528.2L505.6 529.2L507.8 531.1L508.5 531.6L511.4 533.0L514.3 533.8Z"/>
</g></g>
<g clip-path="url(#clf)"><g filter="url(#bl)">
<rect x="684.0" y="389.0" width="258.0" height="258.0" fill="#000080"/>
<path fill="#0000af" d="M683.7 647.3L686.6 647.3L689.5 647.3L692.4 647.3L695.3 647.3L698.2 647.3L701.1 647.3L704.0 647.3L706.9 647.3L709.8 647.3L712.7 647.3L715.6 647.3L718.6 647.3L721.5 647.3L724.4 647.3L727.3 647.3L730.2 647.3L733.1 647.3L736.0 647.3L738.9 647.3L741.8 647.3L744.7 647.3L747.6 647.3L750.5 647.3L753.4 647.3L756.3 647.3L759.2 647.3L762.1 647.3L765.0 647.3L767.9 647.3L770.8 647.3L773.7 647.3L776.6 647.3L779.5 647.3L782.4 647.3L785.3 647.3L788.2 647.3L791.1 647.3L794.1 647.3L797.0 647.3L799.9 647.3L802.8 647.3L805.7 647.3L808.6 647.3L811.5 647.3L814.4 647.3L817.3 647.3L820.2 647.3L823.1 647.3L826.0 647.3L828.9 647.3L831.8 647.3L834.7 647.3L837.6 647.3L840.5 647.3L843.4 647.3L846.3 647.3L849.2 647.3L852.1 647.3L855.0 647.3L857.9 647.3L860.8 647.3L863.7 647.3L866.6 647.3L869.5 647.3L872.5 647.3L875.4 647.3L878.3 647.3L881.2 647.3L884.1 647.3L887.0 647.3L889.9 647.3L892.8 647.3L895.7 647.3L898.6 647.3L901.5 647.3L904.4 647.3L907.3 647.3L910.2 647.3L913.1 647.3L916.0 647.3L918.9 647.3L921.8 647.3L924.7 647.3L927.6 647.3L930.5 647.3L933.4 647.3L936.3 647.3L939.2 647.3L942.1 647.3L942.1 644.4L942.1 641.5L942.1 638.6L942.1 635.7L942.1 632.8L942.1 629.9L942.1 627.0L942.1 624.1L942.1 621.2L942.1 618.3L942.1 615.4L942.1 612.4L942.1 609.5L942.1 606.6L942.1 603.7L942.1 600.8L942.1 597.9L942.1 595.0L942.1 592.1L942.1 589.2L942.1 586.3L942.1 583.4L942.1 580.5L942.1 577.6L942.1 574.7L942.1 571.8L942.1 568.9L942.1 566.0L942.1 563.1L942.1 560.2L942.1 557.3L942.1 554.4L942.1 551.5L942.1 548.6L942.1 545.7L942.1 542.8L942.1 539.9L942.1 536.9L942.1 534.0L942.1 531.1L942.1 528.2L942.1 525.3L942.1 522.4L942.1 519.5L942.1 516.6L942.1 513.7L942.1 510.8L942.1 507.9L942.1 505.0L942.1 502.1L942.1 499.2L942.1 496.3L942.1 493.4L942.1 490.5L942.1 487.6L942.1 484.7L942.1 481.8L942.1 478.9L942.1 476.0L942.1 473.1L942.1 470.2L942.1 467.3L942.1 464.4L942.1 461.5L942.1 458.5L942.1 455.6L942.1 452.7L942.1 449.8L942.1 446.9L942.1 444.0L942.1 441.1L942.1 438.2L942.1 435.3L942.1 432.4L942.1 429.5L942.1 426.6L942.1 423.7L942.1 420.8L942.1 417.9L942.1 415.0L942.1 412.1L942.1 409.2L942.1 406.3L942.1 403.4L942.1 400.5L942.1 397.6L942.1 394.7L942.1 391.8L942.1 388.9L939.2 388.9L936.3 388.9L933.4 388.9L930.5 388.9L927.6 388.9L924.7 388.9L921.8 388.9L918.9 388.9L916.0 388.9L913.1 388.9L910.2 388.9L907.3 388.9L904.4 388.9L901.5 388.9L898.6 388.9L895.7 388.9L892.8 388.9L889.9 388.9L887.0 388.9L884.1 388.9L881.2 388.9L878.3 388.9L875.4 388.9L872.5 388.9L869.5 388.9L866.6 388.9L863.7 388.9L860.8 388.9L857.9 388.9L855.0 388.9L852.1 388.9L849.2 388.9L846.3 388.9L843.4 388.9L840.5 388.9L837.6 388.9L834.7 388.9L831.8 388.9L828.9 388.9L826.0 388.9L823.1 388.9L820.2 388.9L817.3 388.9L814.4 388.9L811.5 388.9L808.6 388.9L805.7 388.9L802.8 388.9L799.9 388.9L797.0 388.9L794.1 388.9L791.1 388.9L788.2 388.9L785.3 388.9L782.4 388.9L779.5 388.9L776.6 388.9L773.7 388.9L770.8 388.9L767.9 388.9L765.0 388.9L762.1 388.9L759.2 388.9L756.3 388.9L753.4 388.9L750.5 388.9L747.6 388.9L744.7 388.9L741.8 388.9L738.9 388.9L736.0 388.9L733.1 388.9L730.2 388.9L727.3 388.9L724.4 388.9L721.5 388.9L718.6 388.9L715.6 388.9L712.7 388.9L709.8 388.9L706.9 388.9L704.0 388.9L701.1 388.9L698.2 388.9L695.3 388.9L692.4 388.9L689.5 388.9L686.6 388.9L683.7 388.9L683.7 391.8L683.7 394.7L683.7 397.6L683.7 400.5L683.7 403.4L683.7 406.3L683.7 409.2L683.7 412.1L683.7 415.0L683.7 417.9L683.7 420.8L683.7 423.7L683.7 426.6L683.7 429.5L683.7 432.4L683.7 435.3L683.7 438.2L683.7 441.1L683.7 444.0L683.7 446.9L683.7 449.8L683.7 452.7L683.7 455.6L683.7 458.5L683.7 461.5L683.7 464.4L683.7 467.3L683.7 470.2L683.7 473.1L683.7 476.0L683.7 478.9L683.7 481.8L683.7 484.7L683.7 487.6L683.7 490.5L683.7 493.4L683.7 496.3L683.7 499.2L683.7 502.1L683.7 505.0L683.7 507.9L683.7 510.8L683.7 513.7L683.7 516.6L683.7 519.5L683.7 522.4L683.7 525.3L683.7 528.2L683.7 531.1L683.7 534.0L683.7 536.9L683.7 539.9L683.7 542.8L683.7 545.7L683.7 548.6L683.7 551.5L683.7 554.4L683.7 557.3L683.7 560.2L683.7 563.1L683.7 566.0L683.7 568.9L683.7 571.8L683.7 574.7L683.7 577.6L683.7 580.5L683.7 583.4L683.7 586.3L683.7 589.2L683.7 592.1L683.7 595.0L683.7 597.9L683.7 600.8L683.7 603.7L683.7 606.6L683.7 609.5L683.7 612.4L683.7 615.4L683.7 618.3L683.7 621.2L683.7 624.1L683.7 627.0L683.7 629.9L683.7 632.8L683.7 635.7L683.7 638.6L683.7 641.5L683.7 644.4ZM811.5 522.4L811.5 522.4L808.6 519.8L808.4 519.5L808.0 516.6L808.6 515.9L810.6 513.7L811.5 513.1L814.4 513.2L815.0 513.7L817.3 516.2L817.6 516.6L817.3 519.1L817.2 519.5L814.4 522.3L811.7 522.4Z"/>
<path fill="#0000cf" d="M683.7 647.3L686.6 647.3L689.5 647.3L692.4 647.3L695.3 647.3L698.2 647.3L701.1 647.3L704.0 647.3L706.9 647.3L709.8 647.3L712.7 647.3L715.6 647.3L718.6 647.3L721.5 647.3L724.4 647.3L727.3 647.3L730.2 647.3L733.1 647.3L736.0 647.3L738.9 647.3L741.8 647.3L744.7 647.3L747.6 647.3L750.5 647.3L753.4 647.3L756.3 647.3L759.2 647.3L762.1 647.3L765.0 647.3L767.9 647.3L770.8 647.3L773.7 647.3L776.6 647.3L779.5 647.3L782.4 647.3L785.3 647.3L788.2 647.3L791.1 647.3L794.1 647.3L797.0 647.3L799.9 647.3L802.8 647.3L805.7 647.3L808.6 647.3L811.5 647.3L814.4 647.3L817.3 647.3L820.2 647.3L823.1 647.3L826.0 647.3L828.9 647.3L831.8 647.3L834.7 647.3L837.6 647.3L840.5 647.3L843.4 647.3L846.3 647.3L849.2 647.3L852.1 647.3L855.0 647.3L857.9 647.3L860.8 647.3L863.7 647.3L866.6 647.3L869.5 647.3L872.5 647.3L875.4 647.3L878.3 647.3L881.2 647.3L884.1 647.3L887.0 647.3L889.9 647.3L892.8 647.3L895.7 647.3L898.6 647.3L901.5 647.3L904.4 647.3L907.3 647.3L910.2 647.3L913.1 647.3L916.0 647.3L918.9 647.3L921.8 647.3L924.7 647.3L927.6 647.3L930.5 647.3L933.4 647.3L936.3 647.3L939.2 647.3L942.1 647.3L942.1 644.4L942.1 641.5L942.1 638.6L942.1 635.7L942.1 632.8L942.1 629.9L942.1 627.0L942.1 624.1L942.1 621.2L942.1 618.3L942.1 615.4L942.1 612.4L942.1 609.5L942.1 606.6L942.1 603.7L942.1 600.8L942.1 597.9L942.1 595.0L942.1 592.1L942.1 589.2L942.1 586.3L942.1 583.4L942.1 580.5L942.1 577.6L942.1 574.7L942.1 571.8L942.1 568.9L942.1 566.0L942.1 563.1L942.1 560.2L942.1 557.3L942.1 554.4L942.1 551.5L942.1 548.6L942.1 545.7L942.1 542.8L942.1 539.9L942.1 536.9L942.1 534.0L942.1 531.1L942.1 528.2L942.1 525.3L942.1 522.4L942.1 519.5L942.1 516.6L942.1 513.7L942.1 510.8L942.1 507.9L942.1 505.0L942.1 502.1L942.1 499.2L942.1 496.3L942.1 493.4L942.1 490.5L942.1 487.6L942.1 484.7L942.1 481.8L942.1 478.9L942.1 476.0L942.1 473.1L942.1 470.2L942.1 467.3L942.1 464.4L942.1 461.5L942.1 458.5L942.1 455.6L942.1 452.7L942.1 449.8L942.1 446.9L942.1 444.0L942.1 441.1L942.1 438.2L942.1 435.3L942.1 432.4L942.1 429.5L942.1 426.6L942.1 423.7L942.1 420.8L942.1 417.9L942.1 415.0L942.1 412.1L942.1 409.2L942.1 406.3L942.1 403.4L942.1 400.5L942.1 397.6L942.1 394.7L942.1 391.8L942.1 388.9L939.2 388.9L936.3 388.9L933.4 388.9L930.5 388.9L927.6 388.9L924.7 388.9L921.8 388.9L918.9 388.9L916.0 388.9L913.1 388.9L910.2 388.9L907.3 388.9L904.4 388.9L901.5 388.9L898.6 388.9L895.7 388.9L892.8 388.9L889.9 388.9L887.0 388.9L884.1 388.9L881.2 388.9L878.3 388.9L875.4 388.9L872.5 388.9L869.5 388.9L866.6 388.9L863.7 388.9L860.8 388.9L857.9 388.9L855.0 388.9L852.1 388.9L849.2 388.9L846.3 388.9L843.4 388.9L840.5 388.9L837.6 388.9L834.7 388.9L831.8 388.9L828.9 388.9L826.0 388.9L823.1 388.9L820.2 388.9L817.3 388.9L814.4 388.9L811.5 388.9L808.6 388.9L805.7 388.9L802.8 388.9L799.9 388.9L797.0 388.9L794.1 388.9L791.1 388.9L788.2 388.9L785.3 388.9L782.4 388.9L779.5 388.9L776.6 388.9L773.7 388.9L770.8 388.9L767.9 388.9L765.0 388.9L762.1 388.9L759.2 388.9L756.3 388.9L753.4 388.9L750.5 388.9L747.6 388.9L744.7 388.9L741.8 388.9L738.9 388.9L736.0 388.9L733.1 388.9L730.2 388.9L727.3 388.9L724.4 388.9L721.5 388.9L718.6 388.9L715.6 388.9L712.7 388.9L709.8 388.9L706.9 388.9L704.0 388.9L701.1 388.9L698.2 388.9L695.3 388.9L692.4 388.9L689.5 388.9L686.6 388.9L683.7 388.9L683.7 391.8L683.7 394.7L683.7 397.6L683.7 400.5L683.7 403.4L683.7 406.3L683.7 409.2L683.7 412.1L683.7 415.0L683.7 417.9L683.7 420.8L683.7 423.7L683.7 426.6L683.7 429.5L683.7 432.4L683.7 435.3L683.7 438.2L683.7 441.1L683.7 444.0L683.7 446.9L683.7 449.8L683.7 452.7L683.7 455.6L683.7 458.5L683.7 461.5L683.7 464.4L683.7 467.3L683.7 470.2L683.7 473.1L683.7 476.0L683.7 478.9L683.7 481.8L683.7 484.7L683.7 487.6L683.7 490.5L683.7 493.4L683.7 496.3L683.7 499.2L683.7 502.1L683.7 505.0L683.7 507.9L683.7 510.8L683.7 513.7L683.7 516.6L683.7 519.5L683.7 522.4L683.7 525.3L683.7 528.2L683.7 531.1L683.7 534.0L683.7 536.9L683.7 539.9L683.7 542.8L683.7 545.7L683.7 548.6L683.7 551.5L683.7 554.4L683.7 557.3L683.7 560.2L683.7 563.1L683.7 566.0L683.7 568.9L683.7 571.8L683.7 574.7L683.7 577.6L683.7 580.5L683.7 583.4L683.7 586.3L683.7 589.2L683.7 592.1L683.7 595.0L683.7 597.9L683.7 600.8L683.7 603.7L683.7 606.6L683.7 609.5L683.7 612.4L683.7 615.4L683.7 618.3L683.7 621.2L683.7 624.1L683.7 627.0L683.7 629.9L683.7 632.8L683.7 635.7L683.7 638.6L683.7 641.5L683.7 644.4ZM733.1 536.0L730.8 534.0L730.2 533.4L728.8 531.1L727.3 528.2L727.3 528.1L726.5 525.3L725.9 522.4L725.6 519.5L725.6 516.6L725.8 513.7L726.3 510.8L727.1 507.9L727.3 507.4L728.4 505.0L730.1 502.1L730.2 502.0L733.1 499.4L734.1 499.2L736.0 498.8L736.6 499.2L738.9 501.4L739.1 502.1L739.6 505.0L739.9 507.9L740.1 510.8L740.2 513.7L740.3 516.6L740.3 519.5L740.2 522.4L740.1 525.3L739.8 528.2L739.5 531.1L738.9 534.0L738.9 534.1L736.0 536.7ZM805.7 604.2L803.9 603.7L802.8 603.3L799.9 602.0L797.8 600.8L797.0 600.1L794.8 597.9L794.1 595.8L793.8 595.0L794.1 594.5L795.5 592.1L797.0 591.7L799.9 591.0L802.8 590.6L805.7 590.4L808.6 590.3L811.5 590.2L814.4 590.2L817.3 590.3L820.2 590.4L823.1 590.7L826.0 591.1L828.9 591.7L830.1 592.1L831.8 595.0L830.8 597.9L828.9 599.8L827.8 600.8L826.0 601.8L823.1 603.2L821.6 603.7L820.2 604.1L817.3 604.7L814.4 604.9L811.5 605.0L808.6 604.7ZM887.0 534.7L886.8 534.0L886.1 531.1L885.7 528.2L885.5 525.3L885.4 522.4L885.3 519.5L885.3 516.6L885.3 513.7L885.5 510.8L885.7 507.9L886.0 505.0L886.6 502.1L887.0 500.8L889.1 499.2L889.9 498.8L891.4 499.2L892.8 499.6L895.4 502.1L895.7 502.4L897.1 505.0L898.5 507.9L898.6 508.2L899.3 510.8L899.8 513.7L900.0 516.6L900.0 519.5L899.7 522.4L899.1 525.3L898.6 527.2L898.2 528.2L896.8 531.1L895.7 533.0L894.7 534.0L892.8 535.8L889.9 536.7ZM799.9 444.5L797.0 444.0L797.0 444.0L794.1 441.4L793.9 441.1L794.1 440.1L794.4 438.2L796.8 435.3L797.0 435.2L799.9 433.5L802.0 432.4L802.8 432.1L805.7 431.3L808.6 430.8L811.5 430.5L814.4 430.5L817.3 430.8L820.2 431.4L823.1 432.2L823.6 432.4L826.0 433.6L828.7 435.3L828.9 435.5L831.2 438.2L831.7 441.1L828.9 443.8L828.5 444.0L826.0 444.5L823.1 444.8L820.2 445.0L817.3 445.2L814.4 445.2L811.5 445.2L808.6 445.2L805.7 445.1L802.8 444.9ZM811.5 523.2L810.4 522.4L808.6 520.7L807.6 519.5L807.3 516.6L808.6 514.8L809.6 513.7L811.5 512.3L814.4 512.4L816.0 513.7L817.3 515.1L818.3 516.6L818.0 519.5L817.3 520.4L815.2 522.4L814.4 523.0Z"/>
<path fill="#0000ef" d="M683.7 647.3L686.6 647.3L689.5 647.3L692.4 647.3L695.3 647.3L698.2 647.3L701.1 647.3L704.0 647.3L706.9 647.3L709.8 647.3L712.7 647.3L715.6 647.3L718.6 647.3L721.5 647.3L724.4 647.3L727.3 647.3L730.2 647.3L733.1 647.3L736.0 647.3L738.9 647.3L741.8 647.3L744.7 647.3L747.6 647.3L750.5 647.3L753.4 647.3L756.3 647.3L759.2 647.3L762.1 647.3L765.0 647.3L767.9 647.3L770.8 647.3L773.7 647.3L776.6 647.3L779.5 647.3L782.4 647.3L785.3 647.3L788.2 647.3L791.1 647.3L794.1 647.3L797.0 647.3L799.9 647.3L802.8 647.3L805.7 647.3L808.6 647.3L811.5 647.3L814.4 647.3L817.3 647.3L820.2 647.3L823.1 647.3L826.0 647.3L828.9 647.3L831.8 647.3L834.7 647.3L837.6 647.3L840.5 647.3L843.4 647.3L846.3 647.3L849.2 647.3L852.1 647.3L855.0 647.3L857.9 647.3L860.8 647.3L863.7 647.3L866.6 647.3L869.5 647.3L872.5 647.3L875.4 647.3L878.3 647.3L881.2 647.3L884.1 647.3L887.0 647.3L889.9 647.3L892.8 647.3L895.7 647.3L898.6 647.3L901.5 647.3L904.4 647.3L907.3 647.3L910.2 647.3L913.1 647.3L916.0 647.3L918.9 647.3L921.8 647.3L924.7 647.3L927.6 647.3L930.5 647.3L933.4 647.3L936.3 647.3L939.2 647.3L942.1 647.3L942.1 644.4L942.1 641.5L942.1 638.6L942.1 635.7L942.1 632.8L942.1 629.9L942.1 627.0L942.1 624.1L942.1 621.2L942.1 618.3L942.1 615.4L942.1 612.4L942.1 609.5L942.1 606.6L942.1 603.7L942.1 600.8L942.1 597.9L942.1 595.0L942.1 592.1L942.1 589.2L942.1 586.3L942.1 583.4L942.1 580.5L942.1 577.6L942.1 574.7L942.1 571.8L942.1 568.9L942.1 566.0L942.1 563.1L942.1 560.2L942.1 557.3L942.1 554.4L942.1 551.5L942.1 548.6L942.1 545.7L942.1 542.8L942.1 539.9L942.1 536.9L942.1 534.0L942.1 531.1L942.1 528.2L942.1 525.3L942.1 522.4L942.1 519.5L942.1 516.6L942.1 513.7L942.1 510.8L942.1 507.9L942.1 505.0L942.1 502.1L942.1 499.2L942.1 496.3L942.1 493.4L942.1 490.5L942.1 487.6L942.1 484.7L942.1 481.8L942.1 478.9L942.1 476.0L942.1 473.1L942.1 470.2L942.1 467.3L942.1 464.4L942.1 461.5L942.1 458.5L942.1 455.6L942.1 452.7L942.1 449.8L942.1 446.9L942.1 444.0L942.1 441.1L942.1 438.2L942.1 435.3L942.1 432.4L942.1 429.5L942.1 426.6L942.1 423.7L942.1 420.8L942.1 417.9L942.1 415.0L942.1 412.1L942.1 409.2L942.1 406.3L942.1 403.4L942.1 400.5L942.1 397.6L942.1 394.7L942.1 391.8L942.1 388.9L939.2 388.9L936.3 388.9L933.4 388.9L930.5 388.9L927.6 388.9L924.7 388.9L921.8 388.9L918.9 388.9L916.0 388.9L913.1 388.9L910.2 388.9L907.3 388.9L904.4 388.9L901.5 388.9L898.6 388.9L895.7 388.9L892.8 388.9L889.9 388.9L887.0 388.9L884.1 388.9L881.2 388.9L878.3 388.9L875.4 388.9L872.5 388.9L869.5 388.9L866.6 388.9L863.7 388.9L860.8 388.9L857.9 388.9L855.0 388.9L852.1 388.9L849.2 388.9L846.3 388.9L843.4 388.9L840.5 388.9L837.6 388.9L834.7 388.9L831.8 388.9L828.9 388.9L826.0 388.9L823.1 388.9L820.2 388.9L817.3 388.9L814.4 388.9L811.5 388.9L808.6 388.9L805.7 388.9L802.8 388.9L799.9 388.9L797.0 388.9L794.1 388.9L791.1 388.9L788.2 388.9L785.3 388.9L782.4 388.9L779.5 388.9L776.6 388.9L773.7 388.9L770.8 388.9L767.9 388.9L765.0 388.9L762.1 388.9L759.2 388.9L756.3 388.9L753.4 388.9L750.5 388.9L747.6 388.9L744.7 388.9L741.8 388.9L738.9 388.9L736.0 388.9L733.1 388.9L730.2 388.9L727.3 388.9L724.4 388.9L721.5 388.9L718.6 388.9L715.6 388.9L712.7 388.9L709.8 388.9L706.9 388.9L704.0 388.9L701.1 388.9L698.2 388.9L695.3 388.9L692.4 388.9L689.5 388.9L686.6 388.9L683.7 388.9L683.7 391.8L683.7 394.7L683.7 397.6L683.7 400.5L683.7 403.4L683.7 406.3L683.7 409.2L683.7 412.1L683.7 415.0L683.7 417.9L683.7 420.8L683.7 423.7L683.7 426.6L683.7 429.5L683.7 432.4L683.7 435.3L683.7 438.2L683.7 441.1L683.7 444.0L683.7 446.9L683.7 449.8L683.7 452.7L683.7 455.6L683.7 458.5L683.7 461.5L683.7 464.4L683.7 467.3L683.7 470.2L683.7 473.1L683.7 476.0L683.7 478.9L683.7 481.8L683.7 484.7L683.7 487.6L683.7 490.5L683.7 493.4L683.7 496.3L683.7 499.2L683.7 502.1L683.7 505.0L683.7 507.9L683.7 510.8L683.7 513.7L683.7 516.6L683.7 519.5L683.7 522.4L683.7 525.3L683.7 528.2L683.7 531.1L683.7 534.0L683.7 536.9L683.7 539.9L683.7 542.8L683.7 545.7L683.7 548.6L683.7 551.5L683.7 554.4L683.7 557.3L683.7 560.2L683.7 563.1L683.7 566.0L683.7 568.9L683.7 571.8L683.7 574.7L683.7 577.6L683.7 580.5L683.7 583.4L683.7 586.3L683.7 589.2L683.7 592.1L683.7 595.0L683.7 597.9L683.7 600.8L683.7 603.7L683.7 606.6L683.7 609.5L683.7 612.4L683.7 615.4L683.7 618.3L683.7 621.2L683.7 624.1L683.7 627.0L683.7 629.9L683.7 632.8L683.7 635.7L683.7 638.6L683.7 641.5L683.7 644.4ZM736.0 546.5L733.7 545.7L733.1 545.4L730.2 543.2L729.7 542.8L727.3 539.9L727.3 539.8L725.5 536.9L724.4 534.7L724.1 534.0L723.0 531.1L722.1 528.2L721.5 525.4L721.4 525.3L721.0 522.4L720.8 519.5L720.8 516.6L721.0 513.7L721.3 510.8L721.5 510.1L721.9 507.9L722.7 505.0L723.8 502.1L724.4 500.7L725.1 499.2L726.8 496.3L727.3 495.6L729.1 493.4L730.2 492.2L732.5 490.5L733.1 490.0L736.0 489.0L738.9 489.5L739.8 490.5L741.6 493.4L741.8 494.0L742.1 496.3L742.4 499.2L742.6 502.1L742.7 505.0L742.8 507.9L742.8 510.8L742.9 513.7L742.9 516.6L742.9 519.5L742.9 522.4L742.8 525.3L742.8 528.2L742.7 531.1L742.6 534.0L742.4 536.9L742.0 539.9L741.8 541.5L741.2 542.8L739.2 545.7L738.9 546.0ZM811.5 609.7L808.6 609.5L808.6 609.5L805.7 609.1L802.8 608.5L799.9 607.7L797.0 606.7L796.9 606.6L794.1 605.2L791.4 603.7L791.1 603.6L788.2 601.2L787.8 600.8L785.4 597.9L785.3 597.9L784.1 595.0L784.3 592.1L785.3 590.9L787.5 589.2L788.2 589.0L791.1 588.5L794.1 588.2L797.0 587.9L799.9 587.8L802.8 587.7L805.7 587.7L808.6 587.7L811.5 587.7L814.4 587.7L817.3 587.7L820.2 587.7L823.1 587.7L826.0 587.8L828.9 588.0L831.8 588.2L834.7 588.5L837.6 589.1L838.1 589.2L840.5 591.2L841.2 592.1L841.4 595.0L840.5 597.2L840.2 597.9L837.8 600.8L837.6 601.0L834.7 603.3L834.2 603.7L831.8 605.1L828.9 606.6L828.7 606.6L826.0 607.6L823.1 608.5L820.2 609.1L817.3 609.5L816.9 609.5L814.4 609.7ZM887.0 546.1L886.5 545.7L884.2 542.8L884.1 542.5L883.6 539.9L883.2 536.9L883.0 534.0L882.9 531.1L882.8 528.2L882.8 525.3L882.7 522.4L882.7 519.5L882.7 516.6L882.7 513.7L882.7 510.8L882.8 507.9L882.9 505.0L883.0 502.1L883.2 499.2L883.5 496.3L884.0 493.4L884.1 493.0L885.8 490.5L887.0 489.4L889.9 489.0L892.8 490.2L893.2 490.5L895.7 492.5L896.4 493.4L898.6 496.0L898.8 496.3L900.4 499.2L901.5 501.4L901.8 502.1L902.8 505.0L903.6 507.9L904.2 510.8L904.4 511.9L904.6 513.7L904.8 516.6L904.8 519.5L904.5 522.4L904.4 523.5L904.1 525.3L903.5 528.2L902.6 531.1L901.5 534.0L901.5 534.1L900.0 536.9L898.6 539.4L898.3 539.9L895.9 542.8L895.7 543.0L892.8 545.3L891.8 545.7L889.9 546.4ZM791.1 447.1L790.0 446.9L788.2 446.3L785.3 444.6L784.7 444.0L784.0 441.1L785.0 438.2L785.3 437.7L787.1 435.3L788.2 434.3L790.4 432.4L791.1 431.9L794.1 430.2L795.4 429.5L797.0 428.8L799.9 427.8L802.8 426.9L804.1 426.6L805.7 426.3L808.6 425.9L811.5 425.8L814.4 425.8L817.3 426.0L820.2 426.4L821.4 426.6L823.1 427.0L826.0 427.8L828.9 428.9L830.2 429.5L831.8 430.4L834.7 432.1L835.2 432.4L837.6 434.5L838.5 435.3L840.5 438.1L840.6 438.2L841.5 441.1L840.9 444.0L840.5 444.4L837.6 446.2L835.6 446.9L834.7 447.1L831.8 447.4L828.9 447.5L826.0 447.7L823.1 447.7L820.2 447.8L817.3 447.8L814.4 447.8L811.5 447.8L808.6 447.8L805.7 447.8L802.8 447.7L799.9 447.7L797.0 447.6L794.1 447.4ZM811.5 523.9L809.4 522.4L808.6 521.7L806.9 519.5L806.5 516.6L808.5 513.7L808.6 513.7L811.5 511.5L814.4 511.7L817.0 513.7L817.3 514.0L819.1 516.6L818.7 519.5L817.3 521.4L816.2 522.4L814.4 523.8Z"/>
<path fill="#0010ff" d="M683.7 647.3L686.6 647.3L689.5 647.3L692.4 647.3L695.3 647.3L698.2 647.3L701.1 647.3L704.0 647.3L706.9 647.3L709.8 647.3L712.7 647.3L715.6 647.3L718.6 647.3L721.5 647.3L724.4 647.3L727.3 647.3L730.2 647.3L733.1 647.3L736.0 647.3L738.9 647.3L741.8 647.3L744.7 647.3L747.6 647.3L750.5 647.3L753.4 647.3L756.3 647.3L759.2 647.3L762.1 647.3L765.0 647.3L767.9 647.3L770.8 647.3L773.7 647.3L776.6 647.3L779.5 647.3L782.4 647.3L785.3 647.3L788.2 647.3L791.1 647.3L794.1 647.3L797.0 647.3L799.9 647.3L802.8 647.3L805.7 647.3L808.6 647.3L811.5 647.3L814.4 647.3L817.3 647.3L820.2 647.3L823.1 647.3L826.0 647.3L828.9 647.3L831.8 647.3L834.7 647.3L837.6 647.3L840.5 647.3L843.4 647.3L846.3 647.3L849.2 647.3L852.1 647.3L855.0 647.3L857.9 647.3L860.8 647.3L863.7 647.3L866.6 647.3L869.5 647.3L872.5 647.3L875.4 647.3L878.3 647.3L881.2 647.3L884.1 647.3L887.0 647.3L889.9 647.3L892.8 647.3L895.7 647.3L898.6 647.3L901.5 647.3L904.4 647.3L907.3 647.3L910.2 647.3L913.1 647.3L916.0 647.3L918.9 647.3L921.8 647.3L924.7 647.3L927.6 647.3L930.5 647.3L933.4 647.3L936.3 647.3L939.2 647.3L942.1 647.3L942.1 644.4L942.1 641.5L942.1 638.6L942.1 635.7L942.1 632.8L942.1 629.9L942.1 627.0L942.1 624.1L942.1 621.2L942.1 618.3L942.1 615.4L942.1 612.4L942.1 609.5L942.1 606.6L942.1 603.7L942.1 600.8L942.1 597.9L942.1 595.0L942.1 592.1L942.1 589.2L942.1 586.3L942.1 583.4L942.1 580.5L942.1 577.6L942.1 574.7L942.1 571.8L942.1 568.9L942.1 566.0L942.1 563.1L942.1 560.2L942.1 557.3L942.1 554.4L942.1 551.5L942.1 548.6L942.1 545.7L942.1 542.8L942.1 539.9L942.1 536.9L942.1 534.0L942.1 531.1L942.1 528.2L942.1 525.3L942.1 522.4L942.1 519.5L942.1 516.6L942.1 513.7L942.1 510.8L942.1 507.9L942.1 505.0L942.1 502.1L942.1 499.2L942.1 496.3L942.1 493.4L942.1 490.5L942.1 487.6L942.1 484.7L942.1 481.8L942.1 478.9L942.1 476.0L942.1 473.1L942.1 470.2L942.1 467.3L942.1 464.4L942.1 461.5L942.1 458.5L942.1 455.6L942.1 452.7L942.1 449.8L942.1 446.9L942.1 444.0L942.1 441.1L942.1 438.2L942.1 435.3L942.1 432.4L942.1 429.5L942.1 426.6L942.1 423.7L942.1 420.8L942.1 417.9L942.1 415.0L942.1 412.1L942.1 409.2L942.1 406.3L942.1 403.4L942.1 400.5L942.1 397.6L942.1 394.7L942.1 391.8L942.1 388.9L939.2 388.9L936.3 388.9L933.4 388.9L930.5 388.9L927.6 388.9L924.7 388.9L921.8 388.9L918.9 388.9L916.0 388.9L913.1 388.9L910.2 388.9L907.3 388.9L904.4 388.9L901.5 388.9L898.6 388.9L895.7 388.9L892.8 388.9L889.9 388.9L887.0 388.9L884.1 388.9L881.2 388.9L878.3 388.9L875.4 388.9L872.5 388.9L869.5 388.9L866.6 388.9L863.7 388.9L860.8 388.9L857.9 388.9L855.0 388.9L852.1 388.9L849.2 388.9L846.3 388.9L843.4 388.9L840.5 388.9L837.6 388.9L834.7 388.9L831.8 388.9L828.9 388.9L826.0 388.9L823.1 388.9L820.2 388.9L817.3 388.9L814.4 388.9L811.5 388.9L808.6 388.9L805.7 388.9L802.8 388.9L799.9 388.9L797.0 388.9L794.1 388.9L791.1 388.9L788.2 388.9L785.3 388.9L782.4 388.9L779.5 388.9L776.6 388.9L773.7 388.9L770.8 388.9L767.9 388.9L765.0 388.9L762.1 388.9L759.2 388.9L756.3 388.9L753.4 388.9L750.5 388.9L747.6 388.9L744.7 388.9L741.8 388.9L738.9 388.9L736.0 388.9L733.1 388.9L730.2 388.9L727.3 388.9L724.4 388.9L721.5 388.9L718.6 388.9L715.6 388.9L712.7 388.9L709.8 388.9L706.9 388.9L704.0 388.9L701.1 388.9L698.2 388.9L695.3 388.9L692.4 388.9L689.5 388.9L686.6 388.9L683.7 388.9L683.7 391.8L683.7 394.7L683.7 397.6L683.7 400.5L683.7 403.4L683.7 406.3L683.7 409.2L683.7 412.1L683.7 415.0L683.7 417.9L683.7 420.8L683.7 423.7L683.7 426.6L683.7 429.5L683.7 432.4L683.7 435.3L683.7 438.2L683.7 441.1L683.7 444.0L683.7 446.9L683.7 449.8L683.7 452.7L683.7 455.6L683.7 458.5L683.7 461.5L683.7 464.4L683.7 467.3L683.7 470.2L683.7 473.1L683.7 476.0L683.7 478.9L683.7 481.8L683.7 484.7L683.7 487.6L683.7 490.5L683.7 493.4L683.7 496.3L683.7 499.2L683.7 502.1L683.7 505.0L683.7 507.9L683.7 510.8L683.7 513.7L683.7 516.6L683.7 519.5L683.7 522.4L683.7 525.3L683.7 528.2L683.7 531.1L683.7 534.0L683.7 536.9L683.7 539.9L683.7 542.8L683.7 545.7L683.7 548.6L683.7 551.5L683.7 554.4L683.7 557.3L683.7 560.2L683.7 563.1L683.7 566.0L683.7 568.9L683.7 571.8L683.7 574.7L683.7 577.6L683.7 580.5L683.7 583.4L683.7 586.3L683.7 589.2L683.7 592.1L683.7 595.0L683.7 597.9L683.7 600.8L683.7 603.7L683.7 606.6L683.7 609.5L683.7 612.4L683.7 615.4L683.7 618.3L683.7 621.2L683.7 624.1L683.7 627.0L683.7 629.9L683.7 632.8L683.7 635.7L683.7 638.6L683.7 641.5L683.7 644.4ZM736.0 554.9L734.9 554.4L733.1 553.5L730.4 551.5L730.2 551.3L727.5 548.6L727.3 548.3L725.2 545.7L724.4 544.4L723.3 542.8L721.8 539.9L721.5 539.2L720.5 536.9L719.4 534.0L718.6 531.4L718.5 531.1L717.8 528.2L717.3 525.3L716.9 522.4L716.8 519.5L716.7 516.6L716.9 513.7L717.2 510.8L717.7 507.9L718.3 505.0L718.6 504.1L719.1 502.1L720.2 499.2L721.4 496.3L721.5 496.2L722.9 493.4L724.4 491.0L724.7 490.5L726.9 487.6L727.3 487.2L729.7 484.7L730.2 484.2L733.1 482.0L733.5 481.8L736.0 480.5L738.9 480.1L741.8 481.3L742.1 481.8L743.6 484.7L744.4 487.6L744.7 489.9L744.7 490.5L744.9 493.4L744.9 496.3L744.9 499.2L744.9 502.1L744.9 505.0L744.9 507.9L744.9 510.8L744.9 513.7L744.9 516.6L744.9 519.5L744.9 522.4L744.9 525.3L744.9 528.2L744.9 531.1L744.9 534.0L744.9 536.9L744.9 539.9L744.8 542.8L744.7 545.6L744.7 545.7L744.2 548.6L743.3 551.5L741.8 554.1L741.3 554.4L738.9 555.4ZM802.8 612.8L801.1 612.4L799.9 612.2L797.0 611.3L794.1 610.3L792.3 609.5L791.1 609.0L788.2 607.5L786.8 606.6L785.3 605.6L782.8 603.7L782.4 603.4L779.7 600.8L779.5 600.6L777.3 597.9L776.6 596.6L775.8 595.0L775.1 592.1L776.0 589.2L776.6 588.7L779.5 586.9L781.3 586.3L782.4 586.1L785.3 585.9L788.2 585.7L791.1 585.7L794.1 585.6L797.0 585.6L799.9 585.6L802.8 585.6L805.7 585.7L808.6 585.7L811.5 585.7L814.4 585.7L817.3 585.7L820.2 585.7L823.1 585.6L826.0 585.6L828.9 585.6L831.8 585.6L834.7 585.7L837.6 585.7L840.5 585.9L843.4 586.2L844.3 586.3L846.3 587.1L849.2 588.9L849.6 589.2L850.5 592.1L849.8 595.0L849.2 596.1L848.2 597.9L846.3 600.3L845.9 600.8L843.4 603.2L842.8 603.7L840.5 605.4L838.7 606.6L837.6 607.3L834.7 608.9L833.2 609.5L831.8 610.2L828.9 611.2L826.0 612.1L824.5 612.4L823.1 612.8L820.2 613.3L817.3 613.6L814.4 613.8L811.5 613.8L808.6 613.6L805.7 613.3ZM887.0 555.4L884.1 554.4L884.1 554.4L882.3 551.5L881.3 548.6L881.2 548.1L880.9 545.7L880.8 542.8L880.7 539.9L880.7 536.9L880.7 534.0L880.7 531.1L880.7 528.2L880.7 525.3L880.7 522.4L880.7 519.5L880.7 516.6L880.7 513.7L880.7 510.8L880.7 507.9L880.7 505.0L880.7 502.1L880.7 499.2L880.7 496.3L880.8 493.4L880.9 490.5L881.1 487.6L881.2 487.4L882.0 484.7L883.6 481.8L884.1 481.1L887.0 480.0L889.9 480.6L892.1 481.8L892.8 482.1L895.7 484.4L895.9 484.7L898.6 487.5L898.7 487.6L900.8 490.5L901.5 491.5L902.6 493.4L904.2 496.3L904.4 496.8L905.4 499.2L906.4 502.1L907.3 505.0L907.3 505.1L907.9 507.9L908.4 510.8L908.7 513.7L908.8 516.6L908.8 519.5L908.6 522.4L908.3 525.3L907.8 528.2L907.3 530.3L907.1 531.1L906.2 534.0L905.1 536.9L904.4 538.6L903.8 539.9L902.2 542.8L901.5 544.0L900.3 545.7L898.6 548.0L898.0 548.6L895.7 551.0L895.1 551.5L892.8 553.3L890.7 554.4L889.9 554.8ZM791.1 449.9L788.8 449.8L788.2 449.8L785.3 449.6L782.4 449.2L779.5 448.4L776.6 447.0L776.6 446.9L775.1 444.0L775.5 441.1L776.6 438.8L776.9 438.2L779.1 435.3L779.5 434.8L782.0 432.4L782.4 432.0L785.3 429.8L785.8 429.5L788.2 428.0L790.8 426.6L791.1 426.5L794.1 425.2L797.0 424.1L798.4 423.7L799.9 423.3L802.8 422.6L805.7 422.2L808.6 421.8L811.5 421.7L814.4 421.7L817.3 421.9L820.2 422.2L823.1 422.7L826.0 423.4L827.2 423.7L828.9 424.2L831.8 425.3L834.7 426.6L834.7 426.6L837.6 428.2L839.8 429.5L840.5 430.0L843.4 432.3L843.6 432.4L846.3 435.1L846.5 435.3L848.7 438.2L849.2 439.4L850.1 441.1L850.4 444.0L849.2 446.5L849.0 446.9L846.3 448.3L843.4 449.2L840.5 449.6L837.6 449.8L836.7 449.8L834.7 449.9L831.8 449.9L828.9 449.9L826.0 449.9L823.1 449.9L820.2 449.9L817.3 449.9L814.4 449.8L811.5 449.8L808.6 449.9L805.7 449.9L802.8 449.9L799.9 449.9L797.0 449.9L794.1 449.9ZM808.6 522.6L808.4 522.4L806.1 519.5L805.7 516.6L807.8 513.7L808.6 512.9L811.4 510.8L811.5 510.8L812.6 510.8L814.4 510.9L817.3 513.2L817.8 513.7L819.8 516.6L819.5 519.5L817.3 522.3L817.1 522.4L814.4 524.5L811.5 524.7Z"/>
<path fill="#0030ff" d="M683.7 647.3L686.6 647.3L689.5 647.3L692.4 647.3L695.3 647.3L698.2 647.3L701.1 647.3L704.0 647.3L706.9 647.3L709.8 647.3L712.7 647.3L715.6 647.3L718.6 647.3L721.5 647.3L724.4 647.3L727.3 647.3L730.2 647.3L733.1 647.3L736.0 647.3L738.9 647.3L741.8 647.3L744.7 647.3L747.6 647.3L750.5 647.3L753.4 647.3L756.3 647.3L759.2 647.3L762.1 647.3L765.0 647.3L767.9 647.3L770.8 647.3L773.7 647.3L776.6 647.3L779.5 647.3L782.4 647.3L785.3 647.3L788.2 647.3L791.1 647.3L794.1 647.3L797.0 647.3L799.9 647.3L802.8 647.3L805.7 647.3L808.6 647.3L811.5 647.3L814.4 647.3L817.3 647.3L820.2 647.3L823.1 647.3L826.0 647.3L828.9 647.3L831.8 647.3L834.7 647.3L837.6 647.3L840.5 647.3L843.4 647.3L846.3 647.3L849.2 647.3L852.1 647.3L855.0 647.3L857.9 647.3L860.8 647.3L863.7 647.3L866.6 647.3L869.5 647.3L872.5 647.3L875.4 647.3L878.3 647.3L881.2 647.3L884.1 647.3L887.0 647.3L889.9 647.3L892.8 647.3L895.7 647.3L898.6 647.3L901.5 647.3L904.4 647.3L907.3 647.3L910.2 647.3L913.1 647.3L916.0 647.3L918.9 647.3L921.8 647.3L924.7 647.3L927.6 647.3L930.5 647.3L933.4 647.3L936.3 647.3L939.2 647.3L942.1 647.3L942.1 644.4L942.1 641.5L942.1 638.6L942.1 635.7L942.1 632.8L942.1 629.9L942.1 627.0L942.1 624.1L942.1 621.2L942.1 618.3L942.1 615.4L942.1 612.4L942.1 609.5L942.1 606.6L942.1 603.7L942.1 600.8L942.1 597.9L942.1 595.0L942.1 592.1L942.1 589.2L942.1 586.3L942.1 583.4L942.1 580.5L942.1 577.6L942.1 574.7L942.1 571.8L942.1 568.9L942.1 566.0L942.1 563.1L942.1 560.2L942.1 557.3L942.1 554.4L942.1 551.5L942.1 548.6L942.1 545.7L942.1 542.8L942.1 539.9L942.1 536.9L942.1 534.0L942.1 531.1L942.1 528.2L942.1 525.3L942.1 522.4L942.1 519.5L942.1 516.6L942.1 513.7L942.1 510.8L942.1 507.9L942.1 505.0L942.1 502.1L942.1 499.2L942.1 496.3L942.1 493.4L942.1 490.5L942.1 487.6L942.1 484.7L942.1 481.8L942.1 478.9L942.1 476.0L942.1 473.1L942.1 470.2L942.1 467.3L942.1 464.4L942.1 461.5L942.1 458.5L942.1 455.6L942.1 452.7L942.1 449.8L942.1 446.9L942.1 444.0L942.1 441.1L942.1 438.2L942.1 435.3L942.1 432.4L942.1 429.5L942.1 426.6L942.1 423.7L942.1 420.8L942.1 417.9L942.1 415.0L942.1 412.1L942.1 409.2L942.1 406.3L942.1 403.4L942.1 400.5L942.1 397.6L942.1 394.7L942.1 391.8L942.1 388.9L939.2 388.9L936.3 388.9L933.4 388.9L930.5 388.9L927.6 388.9L924.7 388.9L921.8 388.9L918.9 388.9L916.0 388.9L913.1 388.9L910.2 388.9L907.3 388.9L904.4 388.9L901.5 388.9L898.6 388.9L895.7 388.9L892.8 388.9L889.9 388.9L887.0 388.9L884.1 388.9L881.2 388.9L878.3 388.9L875.4 388.9L872.5 388.9L869.5 388.9L866.6 388.9L863.7 388.9L860.8 388.9L857.9 388.9L855.0 388.9L852.1 388.9L849.2 388.9L846.3 388.9L843.4 388.9L840.5 388.9L837.6 388.9L834.7 388.9L831.8 388.9L828.9 388.9L826.0 388.9L823.1 388.9L820.2 388.9L817.3 388.9L814.4 388.9L811.5 388.9L808.6 388.9L805.7 388.9L802.8 388.9L799.9 388.9L797.0 388.9L794.1 388.9L791.1 388.9L788.2 388.9L785.3 388.9L782.4 388.9L779.5 388.9L776.6 388.9L773.7 388.9L770.8 388.9L767.9 388.9L765.0 388.9L762.1 388.9L759.2 388.9L756.3 388.9L753.4 388.9L750.5 388.9L747.6 388.9L744.7 388.9L741.8 388.9L738.9 388.9L736.0 388.9L733.1 388.9L730.2 388.9L727.3 388.9L724.4 388.9L721.5 388.9L718.6 388.9L715.6 388.9L712.7 388.9L709.8 388.9L706.9 388.9L704.0 388.9L701.1 388.9L698.2 388.9L695.3 388.9L692.4 388.9L689.5 388.9L686.6 388.9L683.7 388.9L683.7 391.8L683.7 394.7L683.7 397.6L683.7 400.5L683.7 403.4L683.7 406.3L683.7 409.2L683.7 412.1L683.7 415.0L683.7 417.9L683.7 420.8L683.7 423.7L683.7 426.6L683.7 429.5L683.7 432.4L683.7 435.3L683.7 438.2L683.7 441.1L683.7 444.0L683.7 446.9L683.7 449.8L683.7 452.7L683.7 455.6L683.7 458.5L683.7 461.5L683.7 464.4L683.7 467.3L683.7 470.2L683.7 473.1L683.7 476.0L683.7 478.9L683.7 481.8L683.7 484.7L683.7 487.6L683.7 490.5L683.7 493.4L683.7 496.3L683.7 499.2L683.7 502.1L683.7 505.0L683.7 507.9L683.7 510.8L683.7 513.7L683.7 516.6L683.7 519.5L683.7 522.4L683.7 525.3L683.7 528.2L683.7 531.1L683.7 534.0L683.7 536.9L683.7 539.9L683.7 542.8L683.7 545.7L683.7 548.6L683.7 551.5L683.7 554.4L683.7 557.3L683.7 560.2L683.7 563.1L683.7 566.0L683.7 568.9L683.7 571.8L683.7 574.7L683.7 577.6L683.7 580.5L683.7 583.4L683.7 586.3L683.7 589.2L683.7 592.1L683.7 595.0L683.7 597.9L683.7 600.8L683.7 603.7L683.7 606.6L683.7 609.5L683.7 612.4L683.7 615.4L683.7 618.3L683.7 621.2L683.7 624.1L683.7 627.0L683.7 629.9L683.7 632.8L683.7 635.7L683.7 638.6L683.7 641.5L683.7 644.4ZM736.0 563.3L735.7 563.1L733.1 561.4L731.6 560.2L730.2 559.0L728.4 557.3L727.3 556.1L725.7 554.4L724.4 552.7L723.4 551.5L721.5 548.6L721.4 548.6L719.8 545.7L718.6 543.3L718.3 542.8L717.0 539.9L715.9 536.9L715.6 536.1L715.0 534.0L714.3 531.1L713.7 528.2L713.2 525.3L712.9 522.4L712.8 519.5L712.8 516.6L712.9 513.7L713.1 510.8L713.5 507.9L714.1 505.0L714.8 502.1L715.6 499.3L715.7 499.2L716.7 496.3L718.0 493.4L718.6 492.1L719.4 490.5L721.0 487.6L721.5 486.9L722.9 484.7L724.4 482.7L725.1 481.8L727.3 479.3L727.7 478.9L730.2 476.5L730.8 476.0L733.1 474.1L734.7 473.1L736.0 472.2L738.9 470.8L741.8 470.2L744.7 471.2L745.6 473.1L746.5 476.0L747.0 478.9L747.1 481.8L747.2 484.7L747.1 487.6L747.0 490.5L746.9 493.4L746.9 496.3L746.8 499.2L746.7 502.1L746.6 505.0L746.6 507.9L746.5 510.8L746.5 513.7L746.5 516.6L746.5 519.5L746.5 522.4L746.5 525.3L746.6 528.2L746.6 531.1L746.7 534.0L746.8 536.9L746.9 539.9L747.0 542.8L747.1 545.7L747.1 548.6L747.2 551.5L747.1 554.4L746.9 557.3L746.3 560.2L745.3 563.1L744.7 564.2L741.8 565.3L738.9 564.6ZM797.0 615.6L796.0 615.4L794.1 614.8L791.1 613.7L788.2 612.5L788.2 612.4L785.3 611.0L782.7 609.5L782.4 609.4L779.5 607.4L778.4 606.6L776.6 605.2L774.9 603.7L773.7 602.6L772.0 600.8L770.8 599.5L769.5 597.9L767.9 595.6L767.5 595.0L766.1 592.1L765.3 589.2L765.9 586.3L767.9 585.0L770.8 584.0L773.7 583.4L774.0 583.4L776.6 583.3L779.5 583.3L782.4 583.3L785.3 583.4L785.6 583.4L788.2 583.5L791.1 583.6L794.1 583.7L797.0 583.8L799.9 583.9L802.8 583.9L805.7 584.0L808.6 584.0L811.5 584.0L814.4 584.0L817.3 584.0L820.2 584.0L823.1 583.9L826.0 583.9L828.9 583.8L831.8 583.7L834.7 583.6L837.6 583.5L840.0 583.4L840.5 583.4L843.4 583.3L846.3 583.3L849.2 583.3L851.5 583.4L852.1 583.5L855.0 584.1L857.9 585.2L859.7 586.3L860.3 589.2L859.5 592.1L858.0 595.0L857.9 595.2L856.1 597.9L855.0 599.1L853.6 600.8L852.1 602.3L850.7 603.7L849.2 605.0L847.2 606.6L846.3 607.2L843.4 609.2L842.8 609.5L840.5 610.9L837.6 612.3L837.4 612.4L834.7 613.6L831.8 614.7L829.6 615.4L828.9 615.6L826.0 616.3L823.1 616.9L820.2 617.3L817.3 617.6L814.4 617.8L811.5 617.8L808.6 617.6L805.7 617.4L802.8 616.9L799.9 616.4ZM881.2 564.5L880.3 563.1L879.2 560.2L878.6 557.3L878.4 554.4L878.4 551.5L878.4 548.6L878.5 545.7L878.6 542.8L878.7 539.9L878.8 536.9L878.8 534.0L878.9 531.1L879.0 528.2L879.0 525.3L879.1 522.4L879.1 519.5L879.1 516.6L879.1 513.7L879.0 510.8L879.0 507.9L878.9 505.0L878.9 502.1L878.8 499.2L878.7 496.3L878.6 493.4L878.5 490.5L878.4 487.6L878.4 484.7L878.4 481.8L878.5 478.9L879.0 476.0L880.0 473.1L881.2 471.0L884.1 470.2L887.0 470.9L889.9 472.4L890.9 473.1L892.8 474.3L894.8 476.0L895.7 476.7L897.9 478.9L898.6 479.6L900.4 481.8L901.5 483.1L902.6 484.7L904.4 487.3L904.6 487.6L906.2 490.5L907.3 492.7L907.6 493.4L908.8 496.3L909.9 499.2L910.2 500.2L910.8 502.1L911.5 505.0L912.0 507.9L912.4 510.8L912.7 513.7L912.8 516.6L912.8 519.5L912.6 522.4L912.4 525.3L911.9 528.2L911.3 531.1L910.6 534.0L910.2 535.2L909.7 536.9L908.6 539.9L907.3 542.8L907.3 542.8L905.8 545.7L904.4 548.1L904.1 548.6L902.1 551.5L901.5 552.4L899.8 554.4L898.6 555.8L897.2 557.3L895.7 558.7L893.9 560.2L892.8 561.2L889.9 563.1L889.9 563.1L887.0 564.5L884.1 565.3ZM767.9 450.5L766.5 449.8L765.2 446.9L765.8 444.0L767.1 441.1L767.9 440.0L769.0 438.2L770.8 436.0L771.3 435.3L773.7 432.9L774.2 432.4L776.6 430.3L777.5 429.5L779.5 428.0L781.6 426.6L782.4 426.1L785.3 424.4L786.8 423.7L788.2 423.0L791.1 421.8L793.8 420.8L794.1 420.7L797.0 419.8L799.9 419.1L802.8 418.5L805.7 418.1L808.0 417.9L808.6 417.8L811.5 417.7L814.4 417.7L817.3 417.9L817.6 417.9L820.2 418.1L823.1 418.6L826.0 419.2L828.9 419.9L831.8 420.8L831.8 420.8L834.7 421.9L837.6 423.1L838.8 423.7L840.5 424.6L843.4 426.3L844.0 426.6L846.3 428.2L848.1 429.5L849.2 430.5L851.4 432.4L852.1 433.1L854.2 435.3L855.0 436.3L856.6 438.2L857.9 440.4L858.4 441.1L859.8 444.0L860.3 446.9L859.0 449.8L857.9 450.4L855.0 451.3L852.1 451.8L849.2 452.0L846.3 452.1L843.4 452.0L840.5 452.0L837.6 451.9L834.7 451.8L831.8 451.7L828.9 451.6L826.0 451.6L823.1 451.5L820.2 451.5L817.3 451.4L814.4 451.4L811.5 451.4L808.6 451.4L805.7 451.5L802.8 451.5L799.9 451.6L797.0 451.6L794.1 451.7L791.1 451.8L788.2 451.9L785.3 452.0L782.4 452.0L779.5 452.1L776.6 452.0L773.7 451.9L770.8 451.4ZM811.5 525.4L811.4 525.3L808.6 523.3L807.7 522.4L805.7 519.9L805.4 519.5L805.1 516.6L805.7 515.6L807.0 513.7L808.6 512.2L810.4 510.8L811.5 510.1L814.4 510.2L815.2 510.8L817.3 512.4L818.6 513.7L820.2 516.1L820.5 516.6L820.2 519.5L820.2 519.6L817.9 522.4L817.3 523.1L814.4 525.3L812.8 525.3Z"/>
<path fill="#0050ff" d="M683.7 647.3L686.6 647.3L689.5 647.3L692.4 647.3L695.3 647.3L698.2 647.3L701.1 647.3L704.0 647.3L706.9 647.3L709.8 647.3L712.7 647.3L715.6 647.3L718.6 647.3L721.5 647.3L724.4 647.3L727.3 647.3L730.2 647.3L733.1 647.3L736.0 647.3L738.9 647.3L741.8 647.3L744.7 647.3L747.6 647.3L750.5 647.3L753.4 647.3L756.3 647.3L759.2 647.3L762.1 647.3L765.0 647.3L767.9 647.3L770.8 647.3L773.7 647.3L776.6 647.3L779.5 647.3L782.4 647.3L785.3 647.3L788.2 647.3L791.1 647.3L794.1 647.3L797.0 647.3L799.9 647.3L802.8 647.3L805.7 647.3L808.6 647.3L811.5 647.3L814.4 647.3L817.3 647.3L820.2 647.3L823.1 647.3L826.0 647.3L828.9 647.3L831.8 647.3L834.7 647.3L837.6 647.3L840.5 647.3L843.4 647.3L846.3 647.3L849.2 647.3L852.1 647.3L855.0 647.3L857.9 647.3L860.8 647.3L863.7 647.3L866.6 647.3L869.5 647.3L872.5 647.3L875.4 647.3L878.3 647.3L881.2 647.3L884.1 647.3L887.0 647.3L889.9 647.3L892.8 647.3L895.7 647.3L898.6 647.3L901.5 647.3L904.4 647.3L907.3 647.3L910.2 647.3L913.1 647.3L916.0 647.3L918.9 647.3L921.8 647.3L924.7 647.3L927.6 647.3L930.5 647.3L933.4 647.3L936.3 647.3L939.2 647.3L942.1 647.3L942.1 644.4L942.1 641.5L942.1 638.6L942.1 635.7L942.1 632.8L942.1 629.9L942.1 627.0L942.1 624.1L942.1 621.2L942.1 618.3L942.1 615.4L942.1 612.4L942.1 609.5L942.1 606.6L942.1 603.7L942.1 600.8L942.1 597.9L942.1 595.0L942.1 592.1L942.1 589.2L942.1 586.3L942.1 583.4L942.1 580.5L942.1 577.6L942.1 574.7L942.1 571.8L942.1 568.9L942.1 566.0L942.1 563.1L942.1 560.2L942.1 557.3L942.1 554.4L942.1 551.5L942.1 548.6L942.1 545.7L942.1 542.8L942.1 539.9L942.1 536.9L942.1 534.0L942.1 531.1L942.1 528.2L942.1 525.3L942.1 522.4L942.1 519.5L942.1 516.6L942.1 513.7L942.1 510.8L942.1 507.9L942.1 505.0L942.1 502.1L942.1 499.2L942.1 496.3L942.1 493.4L942.1 490.5L942.1 487.6L942.1 484.7L942.1 481.8L942.1 478.9L942.1 476.0L942.1 473.1L942.1 470.2L942.1 467.3L942.1 464.4L942.1 461.5L942.1 458.5L942.1 455.6L942.1 452.7L942.1 449.8L942.1 446.9L942.1 444.0L942.1 441.1L942.1 438.2L942.1 435.3L942.1 432.4L942.1 429.5L942.1 426.6L942.1 423.7L942.1 420.8L942.1 417.9L942.1 415.0L942.1 412.1L942.1 409.2L942.1 406.3L942.1 403.4L942.1 400.5L942.1 397.6L942.1 394.7L942.1 391.8L942.1 388.9L939.2 388.9L936.3 388.9L933.4 388.9L930.5 388.9L927.6 388.9L924.7 388.9L921.8 388.9L918.9 388.9L916.0 388.9L913.1 388.9L910.2 388.9L907.3 388.9L904.4 388.9L901.5 388.9L898.6 388.9L895.7 388.9L892.8 388.9L889.9 388.9L887.0 388.9L884.1 388.9L881.2 388.9L878.3 388.9L875.4 388.9L872.5 388.9L869.5 388.9L866.6 388.9L863.7 388.9L860.8 388.9L857.9 388.9L855.0 388.9L852.1 388.9L849.2 388.9L846.3 388.9L843.4 388.9L840.5 388.9L837.6 388.9L834.7 388.9L831.8 388.9L828.9 388.9L826.0 388.9L823.1 388.9L820.2 388.9L817.3 388.9L814.4 388.9L811.5 388.9L808.6 388.9L805.7 388.9L802.8 388.9L799.9 388.9L797.0 388.9L794.1 388.9L791.1 388.9L788.2 388.9L785.3 388.9L782.4 388.9L779.5 388.9L776.6 388.9L773.7 388.9L770.8 388.9L767.9 388.9L765.0 388.9L762.1 388.9L759.2 388.9L756.3 388.9L753.4 388.9L750.5 388.9L747.6 388.9L744.7 388.9L741.8 388.9L738.9 388.9L736.0 388.9L733.1 388.9L730.2 388.9L727.3 388.9L724.4 388.9L721.5 388.9L718.6 388.9L715.6 388.9L712.7 388.9L709.8 388.9L706.9 388.9L704.0 388.9L701.1 388.9L698.2 388.9L695.3 388.9L692.4 388.9L689.5 388.9L686.6 388.9L683.7 388.9L683.7 391.8L683.7 394.7L683.7 397.6L683.7 400.5L683.7 403.4L683.7 406.3L683.7 409.2L683.7 412.1L683.7 415.0L683.7 417.9L683.7 420.8L683.7 423.7L683.7 426.6L683.7 429.5L683.7 432.4L683.7 435.3L683.7 438.2L683.7 441.1L683.7 444.0L683.7 446.9L683.7 449.8L683.7 452.7L683.7 455.6L683.7 458.5L683.7 461.5L683.7 464.4L683.7 467.3L683.7 470.2L683.7 473.1L683.7 476.0L683.7 478.9L683.7 481.8L683.7 484.7L683.7 487.6L683.7 490.5L683.7 493.4L683.7 496.3L683.7 499.2L683.7 502.1L683.7 505.0L683.7 507.9L683.7 510.8L683.7 513.7L683.7 516.6L683.7 519.5L683.7 522.4L683.7 525.3L683.7 528.2L683.7 531.1L683.7 534.0L683.7 536.9L683.7 539.9L683.7 542.8L683.7 545.7L683.7 548.6L683.7 551.5L683.7 554.4L683.7 557.3L683.7 560.2L683.7 563.1L683.7 566.0L683.7 568.9L683.7 571.8L683.7 574.7L683.7 577.6L683.7 580.5L683.7 583.4L683.7 586.3L683.7 589.2L683.7 592.1L683.7 595.0L683.7 597.9L683.7 600.8L683.7 603.7L683.7 606.6L683.7 609.5L683.7 612.4L683.7 615.4L683.7 618.3L683.7 621.2L683.7 624.1L683.7 627.0L683.7 629.9L683.7 632.8L683.7 635.7L683.7 638.6L683.7 641.5L683.7 644.4ZM802.8 621.2L802.3 621.2L799.9 620.8L797.0 620.1L794.1 619.4L791.1 618.4L790.6 618.3L788.2 617.4L785.3 616.2L783.6 615.4L782.4 614.8L779.5 613.2L778.2 612.4L776.6 611.4L773.8 609.5L773.7 609.5L770.8 607.2L770.1 606.6L767.9 604.7L766.8 603.7L765.0 602.0L763.9 600.8L762.1 598.9L761.3 597.9L759.2 595.4L758.9 595.0L756.6 592.1L756.3 591.6L754.5 589.2L753.4 587.7L752.3 586.3L750.5 584.1L749.9 583.4L747.6 581.0L747.0 580.5L744.7 578.6L743.5 577.6L741.8 576.4L739.5 574.7L738.9 574.3L736.0 572.0L735.7 571.8L733.1 569.7L732.2 568.9L730.2 567.1L729.1 566.0L727.3 564.2L726.2 563.1L724.4 561.0L723.7 560.2L721.5 557.3L721.4 557.3L719.4 554.4L718.6 553.1L717.6 551.5L716.0 548.6L715.6 547.9L714.6 545.7L713.3 542.8L712.7 541.2L712.2 539.9L711.3 536.9L710.5 534.0L709.9 531.1L709.8 531.0L709.3 528.2L708.9 525.3L708.7 522.4L708.5 519.5L708.5 516.6L708.6 513.7L708.9 510.8L709.2 507.9L709.7 505.0L709.8 504.5L710.3 502.1L711.1 499.2L712.0 496.3L712.7 494.2L713.1 493.4L714.3 490.5L715.6 487.6L715.6 487.6L717.2 484.7L718.6 482.4L718.9 481.8L720.9 478.9L721.5 478.1L723.1 476.0L724.4 474.4L725.6 473.1L727.3 471.2L728.4 470.2L730.2 468.4L731.4 467.3L733.1 465.8L734.9 464.4L736.0 463.4L738.6 461.5L738.9 461.2L741.8 459.1L742.5 458.5L744.7 456.9L746.2 455.6L747.6 454.4L749.3 452.7L750.5 451.4L751.8 449.8L753.4 447.8L754.0 446.9L756.1 444.0L756.3 443.8L758.3 441.1L759.2 440.1L760.7 438.2L762.1 436.6L763.2 435.3L765.0 433.5L766.1 432.4L767.9 430.7L769.3 429.5L770.8 428.2L772.9 426.6L773.7 426.0L776.6 424.0L777.1 423.7L779.5 422.2L782.2 420.8L782.4 420.7L785.3 419.3L788.2 418.1L788.7 417.9L791.1 417.0L794.1 416.1L797.0 415.3L798.6 415.0L799.9 414.7L802.8 414.2L805.7 413.8L808.6 413.6L811.5 413.5L814.4 413.5L817.3 413.6L820.2 413.8L823.1 414.2L826.0 414.8L827.0 415.0L828.9 415.4L831.8 416.2L834.7 417.1L836.8 417.9L837.6 418.2L840.5 419.4L843.4 420.8L843.4 420.8L846.3 422.4L848.4 423.7L849.2 424.2L852.1 426.2L852.7 426.6L855.0 428.5L856.3 429.5L857.9 431.0L859.5 432.4L860.8 433.8L862.3 435.3L863.7 436.9L864.9 438.2L866.6 440.4L867.3 441.1L869.5 444.0L869.5 444.2L871.6 446.9L872.5 448.1L873.8 449.8L875.4 451.7L876.3 452.7L878.3 454.7L879.3 455.6L881.2 457.1L883.0 458.5L884.1 459.3L887.0 461.4L887.0 461.5L889.9 463.6L890.7 464.4L892.8 466.0L894.1 467.3L895.7 468.6L897.2 470.2L898.6 471.5L900.0 473.1L901.5 474.8L902.5 476.0L904.4 478.5L904.7 478.9L906.6 481.8L907.3 482.8L908.4 484.7L909.9 487.6L910.2 488.1L911.3 490.5L912.5 493.4L913.1 495.0L913.6 496.3L914.5 499.2L915.2 502.1L915.8 505.0L916.0 506.0L916.3 507.9L916.7 510.8L917.0 513.7L917.1 516.6L917.0 519.5L916.9 522.4L916.6 525.3L916.2 528.2L916.0 529.5L915.7 531.1L915.1 534.0L914.3 536.9L913.3 539.9L913.1 540.5L912.3 542.8L911.0 545.7L910.2 547.3L909.6 548.6L908.0 551.5L907.3 552.6L906.2 554.4L904.4 557.0L904.2 557.3L901.9 560.2L901.5 560.7L899.4 563.1L898.6 563.9L896.5 566.0L895.7 566.8L893.4 568.9L892.8 569.4L889.9 571.8L889.9 571.8L887.0 574.1L886.0 574.7L884.1 576.2L882.1 577.6L881.2 578.4L878.6 580.5L878.3 580.8L875.7 583.4L875.4 583.8L873.3 586.3L872.5 587.3L871.1 589.2L869.5 591.3L869.0 592.1L866.7 595.0L866.6 595.1L864.3 597.9L863.7 598.5L861.7 600.8L860.8 601.7L858.8 603.7L857.9 604.5L855.5 606.6L855.0 607.0L852.1 609.3L851.7 609.5L849.2 611.3L847.3 612.4L846.3 613.0L843.4 614.6L842.0 615.4L840.5 616.0L837.6 617.3L834.9 618.3L834.7 618.3L831.8 619.3L828.9 620.1L826.0 620.7L823.3 621.2L823.1 621.2L820.2 621.6L817.3 621.9L814.4 622.0L811.5 622.0L808.6 621.9L805.7 621.6ZM774.5 580.5L776.6 580.8L779.5 581.1L782.4 581.4L785.3 581.6L788.2 581.8L791.1 582.0L794.1 582.1L797.0 582.3L799.9 582.4L802.8 582.4L805.7 582.5L808.6 582.5L811.5 582.5L814.4 582.5L817.3 582.5L820.2 582.5L823.1 582.4L826.0 582.3L828.9 582.2L831.8 582.1L834.7 582.0L837.6 581.8L840.5 581.6L843.4 581.4L846.3 581.1L849.2 580.8L851.0 580.5L852.1 580.4L855.0 580.0L857.9 579.5L860.8 578.9L863.7 577.9L864.4 577.6L866.6 576.6L869.1 574.7L869.5 574.3L871.5 571.8L872.5 569.8L872.9 568.9L873.9 566.0L874.5 563.1L875.0 560.2L875.4 557.5L875.4 557.3L875.8 554.4L876.2 551.5L876.4 548.6L876.7 545.7L876.9 542.8L877.0 539.9L877.2 536.9L877.3 534.0L877.4 531.1L877.5 528.2L877.5 525.3L877.6 522.4L877.6 519.5L877.6 516.6L877.6 513.7L877.5 510.8L877.5 507.9L877.4 505.0L877.3 502.1L877.2 499.2L877.1 496.3L876.9 493.4L876.7 490.5L876.5 487.6L876.2 484.7L875.9 481.8L875.5 478.9L875.4 477.9L875.1 476.0L874.7 473.1L874.1 470.2L873.2 467.3L872.5 465.6L871.9 464.4L869.8 461.5L869.5 461.2L866.6 458.9L865.9 458.5L863.7 457.5L860.8 456.6L857.9 456.0L855.7 455.6L855.0 455.5L852.1 455.0L849.2 454.6L846.3 454.3L843.4 454.1L840.5 453.8L837.6 453.7L834.7 453.5L831.8 453.4L828.9 453.2L826.0 453.1L823.1 453.1L820.2 453.0L817.3 453.0L814.4 452.9L811.5 452.9L808.6 453.0L805.7 453.0L802.8 453.1L799.9 453.1L797.0 453.2L794.1 453.3L791.1 453.5L788.2 453.6L785.3 453.8L782.4 454.0L779.5 454.3L776.6 454.6L773.7 455.0L770.8 455.5L769.9 455.6L767.9 456.0L765.0 456.5L762.1 457.4L759.7 458.5L759.2 458.8L756.3 460.9L755.8 461.5L753.7 464.4L753.4 465.0L752.4 467.3L751.5 470.2L751.0 473.1L750.5 476.0L750.5 476.1L750.0 478.9L749.6 481.8L749.3 484.7L749.1 487.6L748.9 490.5L748.7 493.4L748.5 496.3L748.4 499.2L748.3 502.1L748.2 505.0L748.1 507.9L748.0 510.8L748.0 513.7L748.0 516.6L748.0 519.5L748.0 522.4L748.1 525.3L748.1 528.2L748.2 531.1L748.3 534.0L748.4 536.9L748.6 539.9L748.7 542.8L748.9 545.7L749.1 548.6L749.4 551.5L749.7 554.4L750.1 557.3L750.5 559.4L750.6 560.2L751.1 563.1L751.7 566.0L752.7 568.9L753.4 570.5L754.1 571.8L756.3 574.5L756.5 574.7L759.2 576.7L761.2 577.6L762.1 578.0L765.0 579.0L767.9 579.6L770.8 580.0L773.7 580.4ZM811.5 526.1L810.3 525.3L808.6 524.1L806.9 522.4L805.7 520.9L804.7 519.5L804.4 516.6L805.7 514.6L806.3 513.7L808.6 511.4L809.3 510.8L811.5 509.4L814.4 509.5L816.2 510.8L817.3 511.6L819.3 513.7L820.2 515.0L821.2 516.6L820.9 519.5L820.2 520.5L818.7 522.4L817.3 523.8L815.3 525.3L814.4 525.9Z"/>
<path fill="#0070ff" d="M683.7 647.3L686.6 647.3L689.5 647.3L692.4 647.3L695.3 647.3L698.2 647.3L701.1 647.3L704.0 647.3L706.9 647.3L709.8 647.3L712.7 647.3L715.6 647.3L718.6 647.3L721.5 647.3L724.4 647.3L727.3 647.3L730.2 647.3L733.1 647.3L736.0 647.3L738.9 647.3L741.8 647.3L744.7 647.3L747.6 647.3L750.5 647.3L753.4 647.3L756.3 647.3L759.2 647.3L762.1 647.3L765.0 647.3L767.9 647.3L770.8 647.3L773.7 647.3L776.6 647.3L779.5 647.3L782.4 647.3L785.3 647.3L788.2 647.3L791.1 647.3L794.1 647.3L797.0 647.3L799.9 647.3L802.8 647.3L805.7 647.3L808.6 647.3L811.5 647.3L814.4 647.3L817.3 647.3L820.2 647.3L823.1 647.3L826.0 647.3L828.9 647.3L831.8 647.3L834.7 647.3L837.6 647.3L840.5 647.3L843.4 647.3L846.3 647.3L849.2 647.3L852.1 647.3L855.0 647.3L857.9 647.3L860.8 647.3L863.7 647.3L866.6 647.3L869.5 647.3L872.5 647.3L875.4 647.3L878.3 647.3L881.2 647.3L884.1 647.3L887.0 647.3L889.9 647.3L892.8 647.3L895.7 647.3L898.6 647.3L901.5 647.3L904.4 647.3L907.3 647.3L910.2 647.3L913.1 647.3L916.0 647.3L918.9 647.3L921.8 647.3L924.7 647.3L927.6 647.3L930.5 647.3L933.4 647.3L936.3 647.3L939.2 647.3L942.1 647.3L942.1 644.4L942.1 641.5L942.1 638.6L942.1 635.7L942.1 632.8L942.1 629.9L942.1 627.0L942.1 624.1L942.1 621.2L942.1 618.3L942.1 615.4L942.1 612.4L942.1 609.5L942.1 606.6L942.1 603.7L942.1 600.8L942.1 597.9L942.1 595.0L942.1 592.1L942.1 589.2L942.1 586.3L942.1 583.4L942.1 580.5L942.1 577.6L942.1 574.7L942.1 571.8L942.1 568.9L942.1 566.0L942.1 563.1L942.1 560.2L942.1 557.3L942.1 554.4L942.1 551.5L942.1 548.6L942.1 545.7L942.1 542.8L942.1 539.9L942.1 536.9L942.1 534.0L942.1 531.1L942.1 528.2L942.1 525.3L942.1 522.4L942.1 519.5L942.1 516.6L942.1 513.7L942.1 510.8L942.1 507.9L942.1 505.0L942.1 502.1L942.1 499.2L942.1 496.3L942.1 493.4L942.1 490.5L942.1 487.6L942.1 484.7L942.1 481.8L942.1 478.9L942.1 476.0L942.1 473.1L942.1 470.2L942.1 467.3L942.1 464.4L942.1 461.5L942.1 458.5L942.1 455.6L942.1 452.7L942.1 449.8L942.1 446.9L942.1 444.0L942.1 441.1L942.1 438.2L942.1 435.3L942.1 432.4L942.1 429.5L942.1 426.6L942.1 423.7L942.1 420.8L942.1 417.9L942.1 415.0L942.1 412.1L942.1 409.2L942.1 406.3L942.1 403.4L942.1 400.5L942.1 397.6L942.1 394.7L942.1 391.8L942.1 388.9L939.2 388.9L936.3 388.9L933.4 388.9L930.5 388.9L927.6 388.9L924.7 388.9L921.8 388.9L918.9 388.9L916.0 388.9L913.1 388.9L910.2 388.9L907.3 388.9L904.4 388.9L901.5 388.9L898.6 388.9L895.7 388.9L892.8 388.9L889.9 388.9L887.0 388.9L884.1 388.9L881.2 388.9L878.3 388.9L875.4 388.9L872.5 388.9L869.5 388.9L866.6 388.9L863.7 388.9L860.8 388.9L857.9 388.9L855.0 388.9L852.1 388.9L849.2 388.9L846.3 388.9L843.4 388.9L840.5 388.9L837.6 388.9L834.7 388.9L831.8 388.9L828.9 388.9L826.0 388.9L823.1 388.9L820.2 388.9L817.3 388.9L814.4 388.9L811.5 388.9L808.6 388.9L805.7 388.9L802.8 388.9L799.9 388.9L797.0 388.9L794.1 388.9L791.1 388.9L788.2 388.9L785.3 388.9L782.4 388.9L779.5 388.9L776.6 388.9L773.7 388.9L770.8 388.9L767.9 388.9L765.0 388.9L762.1 388.9L759.2 388.9L756.3 388.9L753.4 388.9L750.5 388.9L747.6 388.9L744.7 388.9L741.8 388.9L738.9 388.9L736.0 388.9L733.1 388.9L730.2 388.9L727.3 388.9L724.4 388.9L721.5 388.9L718.6 388.9L715.6 388.9L712.7 388.9L709.8 388.9L706.9 388.9L704.0 388.9L701.1 388.9L698.2 388.9L695.3 388.9L692.4 388.9L689.5 388.9L686.6 388.9L683.7 388.9L683.7 391.8L683.7 394.7L683.7 397.6L683.7 400.5L683.7 403.4L683.7 406.3L683.7 409.2L683.7 412.1L683.7 415.0L683.7 417.9L683.7 420.8L683.7 423.7L683.7 426.6L683.7 429.5L683.7 432.4L683.7 435.3L683.7 438.2L683.7 441.1L683.7 444.0L683.7 446.9L683.7 449.8L683.7 452.7L683.7 455.6L683.7 458.5L683.7 461.5L683.7 464.4L683.7 467.3L683.7 470.2L683.7 473.1L683.7 476.0L683.7 478.9L683.7 481.8L683.7 484.7L683.7 487.6L683.7 490.5L683.7 493.4L683.7 496.3L683.7 499.2L683.7 502.1L683.7 505.0L683.7 507.9L683.7 510.8L683.7 513.7L683.7 516.6L683.7 519.5L683.7 522.4L683.7 525.3L683.7 528.2L683.7 531.1L683.7 534.0L683.7 536.9L683.7 539.9L683.7 542.8L683.7 545.7L683.7 548.6L683.7 551.5L683.7 554.4L683.7 557.3L683.7 560.2L683.7 563.1L683.7 566.0L683.7 568.9L683.7 571.8L683.7 574.7L683.7 577.6L683.7 580.5L683.7 583.4L683.7 586.3L683.7 589.2L683.7 592.1L683.7 595.0L683.7 597.9L683.7 600.8L683.7 603.7L683.7 606.6L683.7 609.5L683.7 612.4L683.7 615.4L683.7 618.3L683.7 621.2L683.7 624.1L683.7 627.0L683.7 629.9L683.7 632.8L683.7 635.7L683.7 638.6L683.7 641.5L683.7 644.4ZM794.1 624.6L792.2 624.1L791.1 623.8L788.2 622.9L785.3 621.8L783.8 621.2L782.4 620.6L779.5 619.3L777.5 618.3L776.6 617.8L773.7 616.1L772.5 615.4L770.8 614.3L768.1 612.4L767.9 612.3L765.0 610.1L764.3 609.5L762.1 607.8L760.8 606.6L759.2 605.2L757.6 603.7L756.3 602.5L754.6 600.8L753.4 599.5L751.8 597.9L750.5 596.5L749.0 595.0L747.6 593.5L746.3 592.1L744.7 590.5L743.5 589.2L741.8 587.5L740.6 586.3L738.9 584.7L737.6 583.4L736.0 581.9L734.5 580.5L733.1 579.2L731.5 577.6L730.2 576.4L728.5 574.7L727.3 573.4L725.8 571.8L724.4 570.3L723.2 568.9L721.5 566.9L720.8 566.0L718.6 563.1L718.6 563.1L716.5 560.2L715.6 558.8L714.7 557.3L713.0 554.4L712.7 553.9L711.5 551.5L710.1 548.6L709.8 547.9L708.9 545.7L707.8 542.8L706.9 540.0L706.9 539.9L706.0 536.9L705.3 534.0L704.8 531.1L704.3 528.2L704.0 525.6L704.0 525.3L703.7 522.4L703.6 519.5L703.6 516.6L703.7 513.7L703.9 510.8L704.0 509.9L704.2 507.9L704.7 505.0L705.2 502.1L705.9 499.2L706.7 496.3L706.9 495.5L707.6 493.4L708.6 490.5L709.8 487.6L709.8 487.6L711.1 484.7L712.6 481.8L712.7 481.6L714.2 478.9L715.6 476.6L716.1 476.0L718.0 473.1L718.6 472.4L720.2 470.2L721.5 468.6L722.6 467.3L724.4 465.2L725.1 464.4L727.3 462.1L727.9 461.5L730.2 459.1L730.8 458.5L733.1 456.3L733.8 455.6L736.0 453.5L736.8 452.7L738.9 450.8L739.8 449.8L741.8 447.9L742.8 446.9L744.7 445.0L745.6 444.0L747.6 442.0L748.4 441.1L750.5 438.9L751.2 438.2L753.4 435.9L754.0 435.3L756.3 433.0L756.9 432.4L759.2 430.3L760.0 429.5L762.1 427.7L763.4 426.6L765.0 425.3L767.1 423.7L767.9 423.1L770.8 421.1L771.4 420.8L773.7 419.3L776.3 417.9L776.6 417.7L779.5 416.2L782.2 415.0L782.4 414.9L785.3 413.6L788.2 412.6L789.9 412.1L791.1 411.7L794.1 410.9L797.0 410.2L799.9 409.6L802.8 409.2L803.1 409.2L805.7 408.9L808.6 408.6L811.5 408.5L814.4 408.5L817.3 408.7L820.2 408.9L822.4 409.2L823.1 409.3L826.0 409.7L828.9 410.2L831.8 410.9L834.7 411.8L835.7 412.1L837.6 412.7L840.5 413.7L843.4 415.0L843.4 415.0L846.3 416.3L849.2 417.8L849.3 417.9L852.1 419.5L854.2 420.8L855.0 421.3L857.9 423.3L858.4 423.7L860.8 425.5L862.2 426.6L863.7 427.9L865.6 429.5L866.6 430.5L868.7 432.4L869.5 433.3L871.6 435.3L872.5 436.2L874.4 438.2L875.4 439.2L877.2 441.1L878.3 442.3L880.0 444.0L881.2 445.3L882.8 446.9L884.1 448.2L885.7 449.8L887.0 451.0L888.7 452.7L889.9 453.8L891.8 455.6L892.8 456.6L894.8 458.5L895.7 459.4L897.7 461.5L898.6 462.3L900.4 464.4L901.5 465.5L903.0 467.3L904.4 468.9L905.4 470.2L907.3 472.8L907.5 473.1L909.5 476.0L910.2 477.1L911.3 478.9L912.9 481.8L913.1 482.1L914.4 484.7L915.7 487.6L916.0 488.2L917.0 490.5L918.0 493.4L918.9 496.3L918.9 496.4L919.7 499.2L920.4 502.1L920.9 505.0L921.3 507.9L921.7 510.8L921.8 513.3L921.9 513.7L922.0 516.6L921.9 519.5L921.8 522.3L921.8 522.4L921.6 525.3L921.3 528.2L920.8 531.1L920.2 534.0L919.5 536.9L918.9 539.0L918.7 539.9L917.8 542.8L916.7 545.7L916.0 547.2L915.5 548.6L914.1 551.5L913.1 553.4L912.6 554.4L910.9 557.3L910.2 558.4L909.1 560.2L907.3 562.7L907.0 563.1L904.8 566.0L904.4 566.5L902.4 568.9L901.5 570.0L899.8 571.8L898.6 573.1L897.0 574.7L895.7 576.1L894.1 577.6L892.8 578.9L891.1 580.5L889.9 581.7L888.0 583.4L887.0 584.4L885.0 586.3L884.1 587.3L882.1 589.2L881.2 590.2L879.3 592.1L878.3 593.2L876.5 595.0L875.4 596.2L873.8 597.9L872.5 599.3L870.9 600.8L869.5 602.2L868.0 603.7L866.6 604.9L864.8 606.6L863.7 607.5L861.3 609.5L860.8 609.9L857.9 612.1L857.5 612.4L855.0 614.1L853.1 615.4L852.1 616.0L849.2 617.6L848.0 618.3L846.3 619.1L843.4 620.5L841.8 621.2L840.5 621.7L837.6 622.8L834.7 623.7L833.4 624.1L831.8 624.5L828.9 625.2L826.0 625.8L823.1 626.2L820.2 626.6L817.3 626.8L814.4 626.9L811.5 626.9L808.6 626.8L805.7 626.6L802.8 626.3L799.9 625.8L797.0 625.3ZM792.0 580.5L794.1 580.6L797.0 580.8L799.9 580.9L802.8 581.0L805.7 581.1L808.6 581.2L811.5 581.2L814.4 581.2L817.3 581.2L820.2 581.1L823.1 581.0L826.0 580.9L828.9 580.8L831.8 580.6L833.6 580.5L834.7 580.4L837.6 580.2L840.5 580.0L843.4 579.7L846.3 579.3L849.2 578.8L852.1 578.2L854.4 577.6L855.0 577.4L857.9 576.5L860.8 575.3L861.8 574.7L863.7 573.6L865.9 571.8L866.6 571.0L868.5 568.9L869.5 567.2L870.2 566.0L871.5 563.1L872.4 560.2L872.5 560.1L873.2 557.3L873.9 554.4L874.3 551.5L874.7 548.6L875.0 545.7L875.3 542.8L875.4 541.4L875.5 539.9L875.7 536.9L875.9 534.0L876.0 531.1L876.1 528.2L876.2 525.3L876.2 522.4L876.2 519.5L876.2 516.6L876.2 513.7L876.2 510.8L876.1 507.9L876.0 505.0L875.9 502.1L875.7 499.2L875.5 496.3L875.4 494.1L875.3 493.4L875.1 490.5L874.8 487.6L874.4 484.7L874.0 481.8L873.4 478.9L872.6 476.0L872.5 475.4L871.8 473.1L870.6 470.2L869.5 468.3L868.9 467.3L866.6 464.5L866.5 464.4L863.7 461.9L863.0 461.5L860.8 460.2L857.9 459.0L856.7 458.5L855.0 458.0L852.1 457.2L849.2 456.6L846.3 456.2L843.4 455.8L841.7 455.6L840.5 455.5L837.6 455.2L834.7 455.0L831.8 454.8L828.9 454.6L826.0 454.5L823.1 454.4L820.2 454.3L817.3 454.3L814.4 454.3L811.5 454.3L808.6 454.3L805.7 454.3L802.8 454.4L799.9 454.5L797.0 454.6L794.1 454.8L791.1 455.0L788.2 455.2L785.3 455.5L783.9 455.6L782.4 455.8L779.5 456.2L776.6 456.6L773.7 457.1L770.8 457.9L768.9 458.5L767.9 458.9L765.0 460.0L762.6 461.5L762.1 461.8L759.2 464.2L759.0 464.4L756.7 467.3L756.3 467.9L755.0 470.2L753.8 473.1L753.4 474.5L752.9 476.0L752.2 478.9L751.6 481.8L751.2 484.7L750.8 487.6L750.5 490.5L750.5 490.8L750.2 493.4L750.0 496.3L749.8 499.2L749.7 502.1L749.6 505.0L749.5 507.9L749.4 510.8L749.4 513.7L749.3 516.6L749.3 519.5L749.4 522.4L749.4 525.3L749.5 528.2L749.6 531.1L749.7 534.0L749.9 536.9L750.1 539.9L750.3 542.8L750.5 544.6L750.6 545.7L750.9 548.6L751.3 551.5L751.7 554.4L752.3 557.3L753.1 560.2L753.4 561.0L754.1 563.1L755.3 566.0L756.3 567.6L757.1 568.9L759.2 571.3L759.7 571.8L762.1 573.7L763.7 574.7L765.0 575.4L767.9 576.6L770.8 577.5L771.2 577.6L773.7 578.3L776.6 578.9L779.5 579.3L782.4 579.7L785.3 580.0L788.2 580.2L791.1 580.5ZM811.5 526.7L809.3 525.3L808.6 524.8L806.1 522.4L805.7 521.8L804.0 519.5L803.7 516.6L805.5 513.7L805.7 513.6L808.4 510.8L808.6 510.6L811.5 508.7L814.4 508.9L817.2 510.8L817.3 510.9L820.0 513.7L820.2 513.9L821.9 516.6L821.6 519.5L820.2 521.5L819.4 522.4L817.3 524.6L816.2 525.3L814.4 526.6Z"/>
<path fill="#008fff" d="M683.7 647.3L686.6 647.3L689.5 647.3L692.4 647.3L695.3 647.3L698.2 647.3L701.1 647.3L704.0 647.3L706.9 647.3L709.8 647.3L712.7 647.3L715.6 647.3L718.6 647.3L721.5 647.3L724.4 647.3L727.3 647.3L730.2 647.3L733.1 647.3L736.0 647.3L738.9 647.3L741.8 647.3L744.7 647.3L747.6 647.3L750.5 647.3L753.4 647.3L756.3 647.3L759.2 647.3L762.1 647.3L765.0 647.3L767.9 647.3L770.8 647.3L773.7 647.3L776.6 647.3L779.5 647.3L782.4 647.3L785.3 647.3L788.2 647.3L791.1 647.3L794.1 647.3L797.0 647.3L799.9 647.3L802.8 647.3L805.7 647.3L808.6 647.3L811.5 647.3L814.4 647.3L817.3 647.3L820.2 647.3L823.1 647.3L826.0 647.3L828.9 647.3L831.8 647.3L834.7 647.3L837.6 647.3L840.5 647.3L843.4 647.3L846.3 647.3L849.2 647.3L852.1 647.3L855.0 647.3L857.9 647.3L860.8 647.3L863.7 647.3L866.6 647.3L869.5 647.3L872.5 647.3L875.4 647.3L878.3 647.3L881.2 647.3L884.1 647.3L887.0 647.3L889.9 647.3L892.8 647.3L895.7 647.3L898.6 647.3L901.5 647.3L904.4 647.3L907.3 647.3L910.2 647.3L913.1 647.3L916.0 647.3L918.9 647.3L921.8 647.3L924.7 647.3L927.6 647.3L930.5 647.3L933.4 647.3L936.3 647.3L939.2 647.3L942.1 647.3L942.1 644.4L942.1 641.5L942.1 638.6L942.1 635.7L942.1 632.8L942.1 629.9L942.1 627.0L942.1 624.1L942.1 621.2L942.1 618.3L942.1 615.4L942.1 612.4L942.1 609.5L942.1 606.6L942.1 603.7L942.1 600.8L942.1 597.9L942.1 595.0L942.1 592.1L942.1 589.2L942.1 586.3L942.1 583.4L942.1 580.5L942.1 577.6L942.1 574.7L942.1 571.8L942.1 568.9L942.1 566.0L942.1 563.1L942.1 560.2L942.1 557.3L942.1 554.4L942.1 551.5L942.1 548.6L942.1 545.7L942.1 542.8L942.1 539.9L942.1 536.9L942.1 534.0L942.1 531.1L942.1 528.2L942.1 525.3L942.1 522.4L942.1 519.5L942.1 516.6L942.1 513.7L942.1 510.8L942.1 507.9L942.1 505.0L942.1 502.1L942.1 499.2L942.1 496.3L942.1 493.4L942.1 490.5L942.1 487.6L942.1 484.7L942.1 481.8L942.1 478.9L942.1 476.0L942.1 473.1L942.1 470.2L942.1 467.3L942.1 464.4L942.1 461.5L942.1 458.5L942.1 455.6L942.1 452.7L942.1 449.8L942.1 446.9L942.1 444.0L942.1 441.1L942.1 438.2L942.1 435.3L942.1 432.4L942.1 429.5L942.1 426.6L942.1 423.7L942.1 420.8L942.1 417.9L942.1 415.0L942.1 412.1L942.1 409.2L942.1 406.3L942.1 403.4L942.1 400.5L942.1 397.6L942.1 394.7L942.1 391.8L942.1 388.9L939.2 388.9L936.3 388.9L933.4 388.9L930.5 388.9L927.6 388.9L924.7 388.9L921.8 388.9L918.9 388.9L916.0 388.9L913.1 388.9L910.2 388.9L907.3 388.9L904.4 388.9L901.5 388.9L898.6 388.9L895.7 388.9L892.8 388.9L889.9 388.9L887.0 388.9L884.1 388.9L881.2 388.9L878.3 388.9L875.4 388.9L872.5 388.9L869.5 388.9L866.6 388.9L863.7 388.9L860.8 388.9L857.9 388.9L855.0 388.9L852.1 388.9L849.2 388.9L846.3 388.9L843.4 388.9L840.5 388.9L837.6 388.9L834.7 388.9L831.8 388.9L828.9 388.9L826.0 388.9L823.1 388.9L820.2 388.9L817.3 388.9L814.4 388.9L811.5 388.9L808.6 388.9L805.7 388.9L802.8 388.9L799.9 388.9L797.0 388.9L794.1 388.9L791.1 388.9L788.2 388.9L785.3 388.9L782.4 388.9L779.5 388.9L776.6 388.9L773.7 388.9L770.8 388.9L767.9 388.9L765.0 388.9L762.1 388.9L759.2 388.9L756.3 388.9L753.4 388.9L750.5 388.9L747.6 388.9L744.7 388.9L741.8 388.9L738.9 388.9L736.0 388.9L733.1 388.9L730.2 388.9L727.3 388.9L724.4 388.9L721.5 388.9L718.6 388.9L715.6 388.9L712.7 388.9L709.8 388.9L706.9 388.9L704.0 388.9L701.1 388.9L698.2 388.9L695.3 388.9L692.4 388.9L689.5 388.9L686.6 388.9L683.7 388.9L683.7 391.8L683.7 394.7L683.7 397.6L683.7 400.5L683.7 403.4L683.7 406.3L683.7 409.2L683.7 412.1L683.7 415.0L683.7 417.9L683.7 420.8L683.7 423.7L683.7 426.6L683.7 429.5L683.7 432.4L683.7 435.3L683.7 438.2L683.7 441.1L683.7 444.0L683.7 446.9L683.7 449.8L683.7 452.7L683.7 455.6L683.7 458.5L683.7 461.5L683.7 464.4L683.7 467.3L683.7 470.2L683.7 473.1L683.7 476.0L683.7 478.9L683.7 481.8L683.7 484.7L683.7 487.6L683.7 490.5L683.7 493.4L683.7 496.3L683.7 499.2L683.7 502.1L683.7 505.0L683.7 507.9L683.7 510.8L683.7 513.7L683.7 516.6L683.7 519.5L683.7 522.4L683.7 525.3L683.7 528.2L683.7 531.1L683.7 534.0L683.7 536.9L683.7 539.9L683.7 542.8L683.7 545.7L683.7 548.6L683.7 551.5L683.7 554.4L683.7 557.3L683.7 560.2L683.7 563.1L683.7 566.0L683.7 568.9L683.7 571.8L683.7 574.7L683.7 577.6L683.7 580.5L683.7 583.4L683.7 586.3L683.7 589.2L683.7 592.1L683.7 595.0L683.7 597.9L683.7 600.8L683.7 603.7L683.7 606.6L683.7 609.5L683.7 612.4L683.7 615.4L683.7 618.3L683.7 621.2L683.7 624.1L683.7 627.0L683.7 629.9L683.7 632.8L683.7 635.7L683.7 638.6L683.7 641.5L683.7 644.4ZM802.8 633.0L801.2 632.8L799.9 632.6L797.0 632.2L794.1 631.6L791.1 630.9L788.2 630.0L787.7 629.9L785.3 629.2L782.4 628.1L779.6 627.0L779.5 626.9L776.6 625.7L773.7 624.3L773.3 624.1L770.8 622.8L768.0 621.2L767.9 621.1L765.0 619.4L763.3 618.3L762.1 617.4L759.3 615.4L759.2 615.3L756.3 613.1L755.5 612.4L753.4 610.7L752.0 609.5L750.5 608.2L748.7 606.6L747.6 605.6L745.6 603.7L744.7 602.9L742.6 600.8L741.8 600.1L739.6 597.9L738.9 597.2L736.7 595.0L736.0 594.3L733.8 592.1L733.1 591.4L730.9 589.2L730.2 588.4L728.1 586.3L727.3 585.4L725.4 583.4L724.4 582.3L722.7 580.5L721.5 579.1L720.2 577.6L718.6 575.6L717.8 574.7L715.6 571.9L715.6 571.8L713.4 568.9L712.7 567.9L711.4 566.0L709.8 563.4L709.7 563.1L708.0 560.2L706.9 558.2L706.4 557.3L705.0 554.4L704.0 552.1L703.8 551.5L702.5 548.6L701.5 545.7L701.1 544.3L700.6 542.8L699.7 539.9L699.0 536.9L698.5 534.0L698.2 532.5L698.0 531.1L697.5 528.2L697.2 525.3L697.0 522.4L696.9 519.5L696.9 516.6L697.0 513.7L697.2 510.8L697.4 507.9L697.9 505.0L698.2 503.0L698.4 502.1L698.9 499.2L699.6 496.3L700.4 493.4L701.1 491.1L701.3 490.5L702.3 487.6L703.4 484.7L704.0 483.4L704.7 481.8L706.1 478.9L706.9 477.2L707.6 476.0L709.2 473.1L709.8 472.1L711.0 470.2L712.7 467.6L713.0 467.3L715.0 464.4L715.6 463.5L717.2 461.5L718.6 459.8L719.6 458.5L721.5 456.4L722.1 455.6L724.4 453.1L724.7 452.7L727.3 450.0L727.5 449.8L730.2 447.0L730.3 446.9L733.1 444.1L733.1 444.0L736.0 441.2L736.0 441.1L738.9 438.3L738.9 438.2L741.8 435.4L741.9 435.3L744.7 432.6L744.9 432.4L747.6 429.9L748.0 429.5L750.5 427.2L751.2 426.6L753.4 424.7L754.6 423.7L756.3 422.3L758.3 420.8L759.2 420.1L762.1 418.1L762.3 417.9L765.0 416.1L766.8 415.0L767.9 414.3L770.8 412.6L771.9 412.1L773.7 411.1L776.6 409.7L777.9 409.2L779.5 408.5L782.4 407.3L785.3 406.3L785.6 406.3L788.2 405.4L791.1 404.6L794.1 403.9L796.8 403.4L797.0 403.3L799.9 402.8L802.8 402.4L805.7 402.1L808.6 401.9L811.5 401.8L814.4 401.8L817.3 401.9L820.2 402.1L823.1 402.4L826.0 402.9L828.7 403.4L828.9 403.4L831.8 404.0L834.7 404.6L837.6 405.5L840.0 406.3L840.5 406.4L843.4 407.4L846.3 408.6L847.6 409.2L849.2 409.9L852.1 411.3L853.7 412.1L855.0 412.8L857.9 414.5L858.8 415.0L860.8 416.3L863.2 417.9L863.7 418.2L866.6 420.3L867.3 420.8L869.5 422.6L871.0 423.7L872.5 424.9L874.4 426.6L875.4 427.5L877.6 429.5L878.3 430.1L880.7 432.4L881.2 432.9L883.7 435.3L884.1 435.7L886.6 438.2L887.0 438.5L889.6 441.1L889.9 441.4L892.5 444.0L892.8 444.4L895.3 446.9L895.7 447.3L898.1 449.8L898.6 450.3L900.8 452.7L901.5 453.4L903.5 455.6L904.4 456.7L906.0 458.5L907.3 460.2L908.3 461.5L910.2 463.9L910.5 464.4L912.6 467.3L913.1 468.0L914.6 470.2L916.0 472.6L916.3 473.1L918.0 476.0L918.9 477.8L919.5 478.9L920.9 481.8L921.8 484.0L922.1 484.7L923.3 487.6L924.3 490.5L924.7 492.0L925.2 493.4L926.0 496.3L926.7 499.2L927.2 502.1L927.6 504.6L927.7 505.0L928.1 507.9L928.4 510.8L928.6 513.7L928.7 516.6L928.7 519.5L928.6 522.4L928.3 525.3L928.0 528.2L927.6 530.8L927.6 531.1L927.1 534.0L926.5 536.9L925.8 539.9L925.0 542.8L924.7 543.5L924.1 545.7L923.0 548.6L921.8 551.4L921.8 551.5L920.6 554.4L919.1 557.3L918.9 557.7L917.6 560.2L916.0 562.9L915.9 563.1L914.1 566.0L913.1 567.5L912.2 568.9L910.2 571.6L910.0 571.8L907.8 574.7L907.3 575.3L905.4 577.6L904.4 578.8L902.9 580.5L901.5 582.0L900.2 583.4L898.6 585.1L897.5 586.3L895.7 588.2L894.6 589.2L892.8 591.1L891.8 592.1L889.9 594.0L888.9 595.0L887.0 596.9L886.0 597.9L884.1 599.8L883.0 600.8L881.2 602.6L880.0 603.7L878.3 605.4L876.9 606.6L875.4 608.0L873.6 609.5L872.5 610.5L870.1 612.4L869.5 612.9L866.6 615.1L866.3 615.4L863.7 617.2L862.2 618.3L860.8 619.2L857.9 621.0L857.6 621.2L855.0 622.7L852.3 624.1L852.1 624.2L849.2 625.6L846.3 626.8L846.0 627.0L843.4 628.0L840.5 629.1L837.8 629.9L837.6 629.9L834.7 630.8L831.8 631.5L828.9 632.1L826.0 632.6L824.4 632.8L823.1 633.0L820.2 633.3L817.3 633.5L814.4 633.6L811.5 633.6L808.6 633.5L805.7 633.3ZM779.1 577.6L779.5 577.7L782.4 578.2L785.3 578.6L788.2 578.9L791.1 579.1L794.1 579.3L797.0 579.5L799.9 579.6L802.8 579.7L805.7 579.8L808.6 579.8L811.5 579.9L814.4 579.9L817.3 579.8L820.2 579.8L823.1 579.7L826.0 579.6L828.9 579.5L831.8 579.3L834.7 579.1L837.6 578.8L840.5 578.5L843.4 578.1L846.3 577.6L846.5 577.6L849.2 577.1L852.1 576.4L855.0 575.4L856.8 574.7L857.9 574.2L860.8 572.6L862.0 571.8L863.7 570.4L865.3 568.9L866.6 567.2L867.5 566.0L869.1 563.1L869.5 562.2L870.4 560.2L871.3 557.3L872.1 554.4L872.5 552.5L872.7 551.5L873.2 548.6L873.6 545.7L873.9 542.8L874.1 539.9L874.3 536.9L874.5 534.0L874.7 531.1L874.8 528.2L874.8 525.3L874.9 522.4L874.9 519.5L874.9 516.6L874.9 513.7L874.9 510.8L874.8 507.9L874.7 505.0L874.5 502.1L874.4 499.2L874.2 496.3L873.9 493.4L873.6 490.5L873.3 487.6L872.8 484.7L872.5 483.0L872.2 481.8L871.5 478.9L870.7 476.0L869.5 473.3L869.5 473.1L868.0 470.2L866.6 468.2L865.9 467.3L863.7 465.1L862.9 464.4L860.8 462.9L858.3 461.5L857.9 461.3L855.0 460.0L852.1 459.1L849.8 458.5L849.2 458.4L846.3 457.8L843.4 457.3L840.5 456.9L837.6 456.6L834.7 456.4L831.8 456.2L828.9 456.0L826.0 455.9L823.1 455.8L820.2 455.7L818.1 455.6L817.3 455.6L814.4 455.6L811.5 455.6L808.6 455.6L807.5 455.6L805.7 455.7L802.8 455.8L799.9 455.9L797.0 456.0L794.1 456.2L791.1 456.4L788.2 456.6L785.3 456.9L782.4 457.3L779.5 457.7L776.6 458.3L775.8 458.5L773.7 459.1L770.8 459.9L767.9 461.1L767.3 461.5L765.0 462.7L762.7 464.4L762.1 464.8L759.7 467.3L759.2 467.9L757.6 470.2L756.3 472.7L756.1 473.1L754.9 476.0L754.0 478.9L753.4 481.6L753.4 481.8L752.8 484.7L752.3 487.6L751.9 490.5L751.6 493.4L751.4 496.3L751.2 499.2L751.0 502.1L750.9 505.0L750.8 507.9L750.7 510.8L750.7 513.7L750.7 516.6L750.7 519.5L750.7 522.4L750.7 525.3L750.8 528.2L750.9 531.1L751.1 534.0L751.2 536.9L751.4 539.9L751.7 542.8L752.0 545.7L752.4 548.6L752.9 551.5L753.4 553.8L753.5 554.4L754.2 557.3L755.2 560.2L756.3 562.8L756.4 563.1L758.0 566.0L759.2 567.6L760.3 568.9L762.1 570.6L763.6 571.8L765.0 572.8L767.9 574.3L768.8 574.7L770.8 575.5L773.7 576.4L776.6 577.1ZM808.6 525.5L808.3 525.3L805.7 522.7L805.4 522.4L803.3 519.5L803.0 516.6L804.8 513.7L805.7 512.8L807.6 510.8L808.6 509.9L811.5 508.1L814.4 508.2L817.3 510.2L818.0 510.8L820.2 513.1L820.8 513.7L822.5 516.6L822.2 519.5L820.2 522.4L820.2 522.4L817.3 525.3L817.2 525.3L814.4 527.3L811.5 527.4Z"/>
<path fill="#00afff" d="M683.7 647.3L686.6 647.3L689.5 647.3L692.4 647.3L695.3 647.3L698.2 647.3L701.1 647.3L704.0 647.3L706.9 647.3L709.8 647.3L712.7 647.3L715.6 647.3L718.6 647.3L721.5 647.3L724.4 647.3L727.3 647.3L730.2 647.3L733.1 647.3L736.0 647.3L738.9 647.3L741.8 647.3L744.7 647.3L747.6 647.3L750.5 647.3L753.4 647.3L756.3 647.3L759.2 647.3L762.1 647.3L765.0 647.3L767.9 647.3L770.8 647.3L773.7 647.3L776.6 647.3L779.5 647.3L782.4 647.3L785.3 647.3L788.2 647.3L791.1 647.3L793.5 647.3L791.1 646.9L788.2 646.3L785.3 645.6L782.4 644.7L781.4 644.4L779.5 643.9L776.6 642.9L773.7 641.8L773.0 641.5L770.8 640.7L767.9 639.4L766.2 638.6L765.0 638.1L762.1 636.6L760.4 635.7L759.2 635.1L756.3 633.4L755.3 632.8L753.4 631.6L750.8 629.9L750.5 629.7L747.6 627.8L746.5 627.0L744.7 625.7L742.6 624.1L741.8 623.4L739.0 621.2L738.9 621.1L736.0 618.7L735.5 618.3L733.1 616.2L732.2 615.4L730.2 613.6L729.0 612.4L727.3 610.8L725.9 609.5L724.4 608.0L723.0 606.6L721.5 605.1L720.2 603.7L718.6 602.0L717.4 600.8L715.6 598.9L714.8 597.9L712.7 595.6L712.2 595.0L709.8 592.1L709.8 592.1L707.5 589.2L706.9 588.5L705.2 586.3L704.0 584.7L703.1 583.4L701.2 580.5L701.1 580.5L699.2 577.6L698.2 576.0L697.4 574.7L695.7 571.8L695.3 571.0L694.1 568.9L692.7 566.0L692.4 565.3L691.3 563.1L690.1 560.2L689.5 558.7L688.9 557.3L687.8 554.4L686.8 551.5L686.6 550.7L685.9 548.6L685.0 545.7L684.3 542.8L683.8 539.9L683.7 539.5L683.7 539.9L683.7 542.8L683.7 545.7L683.7 548.6L683.7 551.5L683.7 554.4L683.7 557.3L683.7 560.2L683.7 563.1L683.7 566.0L683.7 568.9L683.7 571.8L683.7 574.7L683.7 577.6L683.7 580.5L683.7 583.4L683.7 586.3L683.7 589.2L683.7 592.1L683.7 595.0L683.7 597.9L683.7 600.8L683.7 603.7L683.7 606.6L683.7 609.5L683.7 612.4L683.7 615.4L683.7 618.3L683.7 621.2L683.7 624.1L683.7 627.0L683.7 629.9L683.7 632.8L683.7 635.7L683.7 638.6L683.7 641.5L683.7 644.4ZM832.0 647.3L834.7 647.3L837.6 647.3L840.5 647.3L843.4 647.3L846.3 647.3L849.2 647.3L852.1 647.3L855.0 647.3L857.9 647.3L860.8 647.3L863.7 647.3L866.6 647.3L869.5 647.3L872.5 647.3L875.4 647.3L878.3 647.3L881.2 647.3L884.1 647.3L887.0 647.3L889.9 647.3L892.8 647.3L895.7 647.3L898.6 647.3L901.5 647.3L904.4 647.3L907.3 647.3L910.2 647.3L913.1 647.3L916.0 647.3L918.9 647.3L921.8 647.3L924.7 647.3L927.6 647.3L930.5 647.3L933.4 647.3L936.3 647.3L939.2 647.3L942.1 647.3L942.1 644.4L942.1 641.5L942.1 638.6L942.1 635.7L942.1 632.8L942.1 629.9L942.1 627.0L942.1 624.1L942.1 621.2L942.1 618.3L942.1 615.4L942.1 612.4L942.1 609.5L942.1 606.6L942.1 603.7L942.1 600.8L942.1 597.9L942.1 595.0L942.1 592.1L942.1 589.2L942.1 586.3L942.1 583.4L942.1 580.5L942.1 577.6L942.1 574.7L942.1 571.8L942.1 568.9L942.1 566.0L942.1 563.1L942.1 560.2L942.1 557.3L942.1 554.4L942.1 551.5L942.1 548.6L942.1 545.7L942.1 542.8L942.1 539.9L942.1 538.1L941.8 539.9L941.3 542.8L940.5 545.7L939.7 548.6L939.2 549.8L938.8 551.5L937.8 554.4L936.7 557.3L936.3 558.0L935.5 560.2L934.3 563.1L933.4 564.7L932.9 566.0L931.4 568.9L930.5 570.5L929.8 571.8L928.1 574.7L927.6 575.5L926.4 577.6L924.7 580.1L924.4 580.5L922.5 583.4L921.8 584.3L920.4 586.3L918.9 588.2L918.1 589.2L916.0 591.8L915.8 592.1L913.3 595.0L913.1 595.3L910.8 597.9L910.2 598.6L908.2 600.8L907.3 601.7L905.4 603.7L904.4 604.8L902.6 606.6L901.5 607.7L899.6 609.5L898.6 610.6L896.6 612.4L895.7 613.3L893.4 615.4L892.8 615.9L890.1 618.3L889.9 618.4L887.0 620.9L886.6 621.2L884.1 623.2L883.0 624.1L881.2 625.5L879.1 627.0L878.3 627.6L875.4 629.5L874.8 629.9L872.5 631.5L870.2 632.8L869.5 633.2L866.6 634.9L865.1 635.7L863.7 636.5L860.8 637.9L859.4 638.6L857.9 639.3L855.0 640.6L852.6 641.5L852.1 641.7L849.2 642.8L846.3 643.8L844.2 644.4L843.4 644.6L840.5 645.5L837.6 646.3L834.7 646.8ZM789.3 577.6L791.1 577.8L794.1 578.0L797.0 578.2L799.9 578.3L802.8 578.5L805.7 578.5L808.6 578.6L811.5 578.6L814.4 578.6L817.3 578.6L820.2 578.5L823.1 578.4L826.0 578.3L828.9 578.2L831.8 578.0L834.7 577.8L836.2 577.6L837.6 577.5L840.5 577.1L843.4 576.7L846.3 576.1L849.2 575.5L851.8 574.7L852.1 574.6L855.0 573.5L857.9 572.1L858.4 571.8L860.8 570.2L862.4 568.9L863.7 567.6L865.1 566.0L866.6 563.7L867.0 563.1L868.5 560.2L869.5 557.4L869.6 557.3L870.5 554.4L871.1 551.5L871.7 548.6L872.1 545.7L872.5 543.1L872.5 542.8L872.8 539.9L873.0 536.9L873.2 534.0L873.4 531.1L873.5 528.2L873.6 525.3L873.6 522.4L873.7 519.5L873.7 516.6L873.6 513.7L873.6 510.8L873.5 507.9L873.4 505.0L873.3 502.1L873.1 499.2L872.9 496.3L872.6 493.4L872.5 492.4L872.2 490.5L871.8 487.6L871.3 484.7L870.6 481.8L869.8 478.9L869.5 478.1L868.8 476.0L867.4 473.1L866.6 471.7L865.6 470.2L863.7 467.9L863.1 467.3L860.8 465.3L859.5 464.4L857.9 463.4L855.0 462.0L853.8 461.5L852.1 460.9L849.2 460.0L846.3 459.3L843.4 458.8L841.8 458.5L840.5 458.3L837.6 458.0L834.7 457.7L831.8 457.5L828.9 457.3L826.0 457.1L823.1 457.0L820.2 456.9L817.3 456.9L814.4 456.9L811.5 456.9L808.6 456.9L805.7 456.9L802.8 457.0L799.9 457.1L797.0 457.3L794.1 457.4L791.1 457.7L788.2 458.0L785.3 458.3L783.7 458.5L782.4 458.7L779.5 459.3L776.6 459.9L773.7 460.8L771.8 461.5L770.8 461.8L767.9 463.2L766.0 464.4L765.0 465.1L762.4 467.3L762.1 467.6L760.0 470.2L759.2 471.3L758.2 473.1L756.8 476.0L756.3 477.3L755.8 478.9L754.9 481.8L754.3 484.7L753.8 487.6L753.4 490.1L753.3 490.5L753.0 493.4L752.7 496.3L752.5 499.2L752.3 502.1L752.2 505.0L752.1 507.9L752.0 510.8L751.9 513.7L751.9 516.6L751.9 519.5L751.9 522.4L752.0 525.3L752.1 528.2L752.2 531.1L752.3 534.0L752.5 536.9L752.8 539.9L753.1 542.8L753.4 545.4L753.4 545.7L753.9 548.6L754.4 551.5L755.1 554.4L756.0 557.3L756.3 558.1L757.1 560.2L758.5 563.1L759.2 564.2L760.5 566.0L762.1 567.9L763.2 568.9L765.0 570.4L767.1 571.8L767.9 572.2L770.8 573.6L773.7 574.7L773.8 574.7L776.6 575.5L779.5 576.2L782.4 576.7L785.3 577.1L788.2 577.5ZM808.6 526.2L807.5 525.3L805.7 523.5L804.7 522.4L802.8 519.7L802.7 519.5L802.4 516.6L802.8 516.0L804.1 513.7L805.7 512.0L806.8 510.8L808.6 509.2L810.6 507.9L811.5 507.4L814.4 507.5L815.0 507.9L817.3 509.5L818.8 510.8L820.2 512.3L821.4 513.7L823.1 516.4L823.2 516.6L823.1 517.7L822.9 519.5L820.9 522.4L820.2 523.2L818.0 525.3L817.3 526.0L814.4 527.9L811.5 528.1ZM942.0 496.3L942.1 497.4L942.1 496.3L942.1 493.4L942.1 490.5L942.1 487.6L942.1 484.7L942.1 481.8L942.1 478.9L942.1 476.0L942.1 473.1L942.1 470.2L942.1 467.3L942.1 464.4L942.1 461.5L942.1 458.5L942.1 455.6L942.1 452.7L942.1 449.8L942.1 446.9L942.1 444.0L942.1 441.1L942.1 438.2L942.1 435.3L942.1 432.4L942.1 429.5L942.1 426.6L942.1 423.7L942.1 420.8L942.1 417.9L942.1 415.0L942.1 412.1L942.1 409.2L942.1 406.3L942.1 403.4L942.1 400.5L942.1 397.6L942.1 394.7L942.1 391.8L942.1 388.9L939.2 388.9L936.3 388.9L933.4 388.9L930.5 388.9L927.6 388.9L924.7 388.9L921.8 388.9L918.9 388.9L916.0 388.9L913.1 388.9L910.2 388.9L907.3 388.9L904.4 388.9L901.5 388.9L898.6 388.9L895.7 388.9L892.8 388.9L889.9 388.9L887.0 388.9L884.1 388.9L881.2 388.9L878.3 388.9L875.4 388.9L872.5 388.9L869.5 388.9L866.6 388.9L863.7 388.9L860.8 388.9L857.9 388.9L855.0 388.9L852.1 388.9L849.2 388.9L846.3 388.9L843.4 388.9L840.5 388.9L837.6 388.9L835.5 388.9L837.6 389.3L840.5 389.9L843.4 390.7L846.3 391.7L846.4 391.8L849.2 392.6L852.1 393.7L854.3 394.7L855.0 394.9L857.9 396.1L860.8 397.6L860.8 397.6L863.7 399.0L866.4 400.5L866.6 400.6L869.5 402.2L871.4 403.4L872.5 404.0L875.4 405.9L875.9 406.3L878.3 407.9L880.0 409.2L881.2 410.0L883.8 412.1L884.1 412.3L887.0 414.6L887.5 415.0L889.9 417.0L890.9 417.9L892.8 419.5L894.2 420.8L895.7 422.2L897.3 423.7L898.6 424.9L900.3 426.6L901.5 427.7L903.3 429.5L904.4 430.7L906.1 432.4L907.3 433.7L908.8 435.3L910.2 436.9L911.4 438.2L913.1 440.2L913.9 441.1L916.0 443.7L916.3 444.0L918.6 446.9L918.9 447.3L920.9 449.8L921.8 451.2L923.0 452.7L924.7 455.4L924.9 455.6L926.8 458.5L927.6 459.9L928.6 461.5L930.2 464.4L930.5 465.0L931.8 467.3L933.2 470.2L933.4 470.7L934.6 473.1L935.8 476.0L936.3 477.4L937.0 478.9L938.1 481.8L939.0 484.7L939.2 485.7L939.9 487.6L940.7 490.5L941.4 493.4ZM683.7 493.4L683.7 496.0L684.2 493.4L684.9 490.5L685.7 487.6L686.6 484.8L686.6 484.7L687.5 481.8L688.6 478.9L689.5 476.7L689.8 476.0L691.0 473.1L692.4 470.2L692.4 470.2L693.8 467.3L695.3 464.5L695.4 464.4L697.0 461.5L698.2 459.5L698.8 458.5L700.6 455.6L701.1 455.0L702.6 452.7L704.0 450.8L704.7 449.8L706.9 447.0L707.0 446.9L709.2 444.0L709.8 443.3L711.6 441.1L712.7 439.8L714.1 438.2L715.6 436.6L716.8 435.3L718.6 433.4L719.5 432.4L721.5 430.4L722.3 429.5L724.4 427.5L725.2 426.6L727.3 424.6L728.3 423.7L730.2 421.9L731.4 420.8L733.1 419.3L734.7 417.9L736.0 416.7L738.1 415.0L738.9 414.3L741.8 412.1L741.8 412.1L744.7 409.8L745.6 409.2L747.6 407.7L749.7 406.3L750.5 405.7L753.4 403.8L754.2 403.4L756.3 402.0L759.2 400.5L759.2 400.5L762.1 398.8L764.8 397.6L765.0 397.5L767.9 396.0L770.8 394.8L771.3 394.7L773.7 393.6L776.6 392.5L779.2 391.8L779.5 391.6L782.4 390.7L785.3 389.9L788.2 389.2L790.0 388.9L788.2 388.9L785.3 388.9L782.4 388.9L779.5 388.9L776.6 388.9L773.7 388.9L770.8 388.9L767.9 388.9L765.0 388.9L762.1 388.9L759.2 388.9L756.3 388.9L753.4 388.9L750.5 388.9L747.6 388.9L744.7 388.9L741.8 388.9L738.9 388.9L736.0 388.9L733.1 388.9L730.2 388.9L727.3 388.9L724.4 388.9L721.5 388.9L718.6 388.9L715.6 388.9L712.7 388.9L709.8 388.9L706.9 388.9L704.0 388.9L701.1 388.9L698.2 388.9L695.3 388.9L692.4 388.9L689.5 388.9L686.6 388.9L683.7 388.9L683.7 391.8L683.7 394.7L683.7 397.6L683.7 400.5L683.7 403.4L683.7 406.3L683.7 409.2L683.7 412.1L683.7 415.0L683.7 417.9L683.7 420.8L683.7 423.7L683.7 426.6L683.7 429.5L683.7 432.4L683.7 435.3L683.7 438.2L683.7 441.1L683.7 444.0L683.7 446.9L683.7 449.8L683.7 452.7L683.7 455.6L683.7 458.5L683.7 461.5L683.7 464.4L683.7 467.3L683.7 470.2L683.7 473.1L683.7 476.0L683.7 478.9L683.7 481.8L683.7 484.7L683.7 487.6L683.7 490.5Z"/>
<path fill="#00cfff" d="M779.5 574.7L779.5 574.7L782.4 575.3L785.3 575.8L788.2 576.1L791.1 576.4L794.1 576.7L797.0 576.9L799.9 577.1L802.8 577.2L805.7 577.3L808.6 577.3L811.5 577.3L814.4 577.3L817.3 577.3L820.2 577.3L823.1 577.2L826.0 577.0L828.9 576.9L831.8 576.7L834.7 576.4L837.6 576.1L840.5 575.7L843.4 575.2L846.1 574.7L846.3 574.6L849.2 573.9L852.1 572.9L854.8 571.8L855.0 571.7L857.9 570.0L859.5 568.9L860.8 567.8L862.7 566.0L863.7 564.8L864.9 563.1L866.6 560.2L866.6 560.1L867.9 557.3L868.9 554.4L869.5 551.9L869.6 551.5L870.3 548.6L870.7 545.7L871.1 542.8L871.5 539.9L871.7 536.9L871.9 534.0L872.1 531.1L872.2 528.2L872.3 525.3L872.4 522.4L872.4 519.5L872.4 516.6L872.4 513.7L872.3 510.8L872.2 507.9L872.1 505.0L872.0 502.1L871.8 499.2L871.5 496.3L871.2 493.4L870.8 490.5L870.4 487.6L869.8 484.7L869.5 483.6L869.1 481.8L868.1 478.9L867.0 476.0L866.6 475.3L865.4 473.1L863.7 470.7L863.3 470.2L860.8 467.6L860.4 467.3L857.9 465.4L856.1 464.4L855.0 463.8L852.1 462.6L849.2 461.6L848.7 461.5L846.3 460.8L843.4 460.2L840.5 459.7L837.6 459.4L834.7 459.0L831.8 458.8L828.9 458.6L828.8 458.5L826.0 458.4L823.1 458.3L820.2 458.2L817.3 458.1L814.4 458.1L811.5 458.1L808.6 458.1L805.7 458.2L802.8 458.3L799.9 458.4L797.0 458.5L796.8 458.5L794.1 458.7L791.1 459.0L788.2 459.3L785.3 459.7L782.4 460.2L779.5 460.8L776.8 461.5L776.6 461.5L773.7 462.5L770.8 463.7L769.5 464.4L767.9 465.3L765.1 467.3L765.0 467.4L762.3 470.2L762.1 470.3L760.2 473.1L759.2 474.8L758.6 476.0L757.4 478.9L756.5 481.8L756.3 482.5L755.8 484.7L755.2 487.6L754.7 490.5L754.4 493.4L754.0 496.3L753.8 499.2L753.6 502.1L753.4 505.0L753.4 505.8L753.3 507.9L753.2 510.8L753.2 513.7L753.2 516.6L753.2 519.5L753.2 522.4L753.3 525.3L753.3 528.2L753.4 529.6L753.5 531.1L753.6 534.0L753.8 536.9L754.1 539.9L754.4 542.8L754.8 545.7L755.3 548.6L755.9 551.5L756.3 552.9L756.7 554.4L757.7 557.3L759.0 560.2L759.2 560.7L760.6 563.1L762.1 565.1L762.9 566.0L765.0 568.1L766.0 568.9L767.9 570.2L770.8 571.8L770.8 571.8L773.7 573.0L776.6 573.9ZM811.5 528.7L810.7 528.2L808.6 526.9L806.8 525.3L805.7 524.3L804.0 522.4L802.8 520.7L802.0 519.5L801.7 516.6L802.8 514.8L803.4 513.7L805.7 511.2L806.0 510.8L808.6 508.5L809.5 507.9L811.5 506.7L814.4 506.9L816.0 507.9L817.3 508.8L819.5 510.8L820.2 511.5L822.1 513.7L823.1 515.3L823.8 516.6L823.6 519.5L823.1 520.3L821.6 522.4L820.2 524.0L818.8 525.3L817.3 526.7L815.0 528.2L814.4 528.6Z"/>
<path fill="#00efff" d="M787.6 574.7L788.2 574.8L791.1 575.1L794.1 575.4L797.0 575.6L799.9 575.7L802.8 575.9L805.7 575.9L808.6 576.0L811.5 576.0L814.4 576.0L817.3 576.0L820.2 575.9L823.1 575.9L826.0 575.7L828.9 575.6L831.8 575.4L834.7 575.1L837.6 574.8L838.0 574.7L840.5 574.3L843.4 573.7L846.3 573.1L849.2 572.2L850.5 571.8L852.1 571.1L855.0 569.7L856.5 568.9L857.9 567.9L860.2 566.0L860.8 565.4L862.8 563.1L863.7 561.7L864.7 560.2L866.1 557.3L866.6 556.0L867.2 554.4L868.1 551.5L868.8 548.6L869.3 545.7L869.5 544.4L869.8 542.8L870.1 539.9L870.4 536.9L870.6 534.0L870.8 531.1L870.9 528.2L871.0 525.3L871.0 522.4L871.1 519.5L871.1 516.6L871.1 513.7L871.0 510.8L870.9 507.9L870.8 505.0L870.6 502.1L870.4 499.2L870.2 496.3L869.9 493.4L869.5 491.1L869.5 490.5L868.9 487.6L868.2 484.7L867.4 481.8L866.6 479.4L866.4 478.9L865.0 476.0L863.7 473.7L863.3 473.1L860.9 470.2L860.8 470.1L857.9 467.6L857.5 467.3L855.0 465.7L852.3 464.4L852.1 464.3L849.2 463.2L846.3 462.4L843.4 461.7L842.3 461.5L840.5 461.1L837.6 460.7L834.7 460.4L831.8 460.1L828.9 459.9L826.0 459.7L823.1 459.6L820.2 459.5L817.3 459.5L814.4 459.4L811.5 459.4L808.6 459.5L805.7 459.5L802.8 459.6L799.9 459.7L797.0 459.9L794.1 460.1L791.1 460.4L788.2 460.7L785.3 461.1L783.3 461.5L782.4 461.6L779.5 462.3L776.6 463.1L773.7 464.2L773.3 464.4L770.8 465.6L768.0 467.3L767.9 467.3L765.0 469.8L764.7 470.2L762.3 473.1L762.1 473.3L760.5 476.0L759.2 478.7L759.1 478.9L758.1 481.8L757.3 484.7L756.7 487.6L756.3 489.4L756.1 490.5L755.7 493.4L755.4 496.3L755.1 499.2L754.9 502.1L754.8 505.0L754.7 507.9L754.6 510.8L754.5 513.7L754.5 516.6L754.5 519.5L754.5 522.4L754.6 525.3L754.7 528.2L754.8 531.1L755.0 534.0L755.2 536.9L755.5 539.9L755.8 542.8L756.2 545.7L756.3 546.1L756.8 548.6L757.5 551.5L758.4 554.4L759.2 556.7L759.4 557.3L760.9 560.2L762.1 562.1L762.8 563.1L765.0 565.7L765.4 566.0L767.9 568.1L769.1 568.9L770.8 569.9L773.7 571.3L775.1 571.8L776.6 572.3L779.5 573.1L782.4 573.8L785.3 574.4ZM811.5 529.4L809.6 528.2L808.6 527.6L806.0 525.3L805.7 525.1L803.3 522.4L802.8 521.7L801.4 519.5L801.1 516.6L802.7 513.7L802.8 513.7L805.3 510.8L805.7 510.4L808.5 507.9L808.6 507.8L811.5 506.1L814.4 506.2L817.1 507.9L817.3 508.1L820.2 510.7L820.3 510.8L822.8 513.7L823.1 514.1L824.5 516.6L824.2 519.5L823.1 521.3L822.3 522.4L820.2 524.8L819.6 525.3L817.3 527.4L816.0 528.2L814.4 529.3Z"/>
<path fill="#10ffef" d="M810.7 574.7L811.5 574.7L814.4 574.7L815.0 574.7L817.3 574.7L820.2 574.6L823.1 574.5L826.0 574.4L828.9 574.2L831.8 573.9L834.7 573.6L837.6 573.2L840.5 572.8L843.4 572.2L845.1 571.8L846.3 571.5L849.2 570.5L852.1 569.3L852.9 568.9L855.0 567.7L857.4 566.0L857.9 565.6L860.5 563.1L860.8 562.6L862.6 560.2L863.7 558.2L864.2 557.3L865.4 554.4L866.5 551.5L866.6 550.8L867.2 548.6L867.8 545.7L868.3 542.8L868.7 539.9L869.0 536.9L869.2 534.0L869.4 531.1L869.5 528.7L869.6 528.2L869.7 525.3L869.7 522.4L869.7 519.5L869.7 516.6L869.7 513.7L869.7 510.8L869.6 507.9L869.5 506.8L869.5 505.0L869.3 502.1L869.0 499.2L868.7 496.3L868.4 493.4L867.9 490.5L867.4 487.6L866.7 484.7L866.6 484.6L865.7 481.8L864.5 478.9L863.7 477.2L863.0 476.0L861.0 473.1L860.8 472.8L858.3 470.2L857.9 469.9L855.0 467.8L854.2 467.3L852.1 466.2L849.2 465.0L847.5 464.4L846.3 464.0L843.4 463.3L840.5 462.7L837.6 462.2L834.7 461.8L831.8 461.5L831.4 461.5L828.9 461.3L826.0 461.1L823.1 461.0L820.2 460.9L817.3 460.8L814.4 460.8L811.5 460.8L808.6 460.8L805.7 460.9L802.8 461.0L799.9 461.1L797.0 461.2L794.1 461.5L794.1 461.5L791.1 461.8L788.2 462.2L785.3 462.6L782.4 463.2L779.5 463.9L778.1 464.4L776.6 464.9L773.7 466.1L771.4 467.3L770.8 467.6L767.9 469.7L767.3 470.2L765.0 472.5L764.5 473.1L762.5 476.0L762.1 476.7L761.0 478.9L759.9 481.8L759.2 483.7L758.9 484.7L758.2 487.6L757.7 490.5L757.2 493.4L756.8 496.3L756.5 499.2L756.3 501.7L756.3 502.1L756.1 505.0L756.0 507.9L755.9 510.8L755.9 513.7L755.8 516.6L755.8 519.5L755.9 522.4L755.9 525.3L756.0 528.2L756.2 531.1L756.3 533.7L756.3 534.0L756.6 536.9L756.9 539.9L757.3 542.8L757.8 545.7L758.4 548.6L759.1 551.5L759.2 551.8L760.1 554.4L761.4 557.3L762.1 558.7L763.0 560.2L765.0 563.0L765.1 563.1L767.9 565.8L768.1 566.0L770.8 567.8L772.7 568.9L773.7 569.4L776.6 570.6L779.5 571.5L780.4 571.8L782.4 572.3L785.3 572.8L788.2 573.3L791.1 573.6L794.1 573.9L797.0 574.2L799.9 574.4L802.8 574.5L805.7 574.6L808.6 574.7ZM808.6 528.3L808.5 528.2L805.7 525.8L805.2 525.3L802.8 522.7L802.6 522.4L800.7 519.5L800.4 516.6L802.0 513.7L802.8 512.8L804.5 510.8L805.7 509.6L807.6 507.9L808.6 507.1L811.5 505.4L814.4 505.6L817.3 507.3L818.0 507.9L820.2 509.9L821.1 510.8L823.1 513.2L823.5 513.7L825.1 516.6L824.9 519.5L823.1 522.3L823.0 522.4L820.4 525.3L820.2 525.6L817.3 528.1L817.1 528.2L814.4 529.9L811.5 530.0Z"/>
<path fill="#30ffcf" d="M788.7 571.8L791.1 572.1L794.1 572.4L797.0 572.6L799.9 572.8L802.8 572.9L805.7 573.0L808.6 573.1L811.5 573.1L814.4 573.1L817.3 573.1L820.2 573.0L823.1 572.9L826.0 572.8L828.9 572.6L831.8 572.4L834.7 572.1L836.9 571.8L837.6 571.7L840.5 571.1L843.4 570.4L846.3 569.6L848.5 568.9L849.2 568.6L852.1 567.2L854.1 566.0L855.0 565.4L857.8 563.1L857.9 562.9L860.3 560.2L860.8 559.4L862.1 557.3L863.6 554.4L863.7 553.9L864.6 551.5L865.4 548.6L866.1 545.7L866.6 543.1L866.7 542.8L867.1 539.9L867.4 536.9L867.6 534.0L867.8 531.1L868.0 528.2L868.1 525.3L868.1 522.4L868.2 519.5L868.2 516.6L868.1 513.7L868.1 510.8L868.0 507.9L867.9 505.0L867.7 502.1L867.5 499.2L867.2 496.3L866.8 493.4L866.6 492.4L866.3 490.5L865.6 487.6L864.8 484.7L863.8 481.8L863.7 481.5L862.5 478.9L860.8 476.0L860.8 476.0L858.4 473.1L857.9 472.6L855.2 470.2L855.0 470.1L852.1 468.3L850.1 467.3L849.2 466.9L846.3 465.9L843.4 465.0L840.8 464.4L840.5 464.3L837.6 463.8L834.7 463.4L831.8 463.1L828.9 462.9L826.0 462.7L823.1 462.5L820.2 462.4L817.3 462.4L814.4 462.3L811.5 462.3L808.6 462.4L805.7 462.4L802.8 462.5L799.9 462.7L797.0 462.8L794.1 463.1L791.1 463.4L788.2 463.8L785.3 464.2L784.8 464.4L782.4 464.9L779.5 465.8L776.6 466.8L775.5 467.3L773.7 468.1L770.8 469.9L770.4 470.2L767.9 472.3L767.2 473.1L765.0 475.7L764.8 476.0L763.1 478.9L762.1 480.9L761.7 481.8L760.8 484.7L759.9 487.6L759.3 490.5L759.2 490.8L758.8 493.4L758.4 496.3L758.1 499.2L757.9 502.1L757.7 505.0L757.6 507.9L757.5 510.8L757.4 513.7L757.4 516.6L757.4 519.5L757.4 522.4L757.5 525.3L757.6 528.2L757.7 531.1L757.9 534.0L758.2 536.9L758.5 539.9L758.9 542.8L759.2 544.7L759.4 545.7L760.1 548.6L761.0 551.5L762.0 554.4L762.1 554.6L763.5 557.3L765.0 559.8L765.3 560.2L767.8 563.1L767.9 563.2L770.8 565.6L771.4 566.0L773.7 567.3L776.6 568.7L777.1 568.9L779.5 569.7L782.4 570.5L785.3 571.2L788.2 571.7ZM808.6 529.0L807.6 528.2L805.7 526.6L804.4 525.3L802.8 523.5L801.9 522.4L800.0 519.5L799.9 517.5L799.8 516.6L799.9 516.5L801.3 513.7L802.8 511.9L803.7 510.8L805.7 508.9L806.8 507.9L808.6 506.4L811.1 505.0L811.5 504.8L814.4 504.9L814.6 505.0L817.3 506.6L818.8 507.9L820.2 509.1L821.8 510.8L823.1 512.3L824.2 513.7L825.8 516.6L825.5 519.5L823.7 522.4L823.1 523.2L821.2 525.3L820.2 526.3L818.0 528.2L817.3 528.8L814.4 530.6L811.5 530.7Z"/>
<path fill="#50ffaf" d="M783.4 568.9L785.3 569.3L788.2 569.9L791.1 570.3L794.1 570.6L797.0 570.9L799.9 571.1L802.8 571.3L805.7 571.4L808.6 571.4L811.5 571.4L814.4 571.4L817.3 571.4L820.2 571.4L823.1 571.2L826.0 571.1L828.9 570.9L831.8 570.6L834.7 570.3L837.6 569.8L840.5 569.3L842.1 568.9L843.4 568.6L846.3 567.6L849.2 566.4L850.1 566.0L852.1 564.8L854.6 563.1L855.0 562.7L857.6 560.2L857.9 559.8L859.8 557.3L860.8 555.4L861.4 554.4L862.6 551.5L863.6 548.6L863.7 547.9L864.3 545.7L864.8 542.8L865.3 539.9L865.6 536.9L865.9 534.0L866.1 531.1L866.3 528.2L866.4 525.3L866.5 522.4L866.5 519.5L866.5 516.6L866.5 513.7L866.4 510.8L866.3 507.9L866.2 505.0L866.0 502.1L865.7 499.2L865.4 496.3L864.9 493.4L864.4 490.5L863.8 487.6L863.7 487.5L862.8 484.7L861.7 481.8L860.8 480.1L860.2 478.9L858.2 476.0L857.9 475.7L855.4 473.1L855.0 472.7L852.1 470.6L851.3 470.2L849.2 469.1L846.3 467.8L844.6 467.3L843.4 466.9L840.5 466.2L837.6 465.6L834.7 465.2L831.8 464.8L828.9 464.5L826.5 464.4L826.0 464.3L823.1 464.2L820.2 464.1L817.3 464.0L814.4 464.0L811.5 464.0L808.6 464.0L805.7 464.1L802.8 464.2L799.9 464.3L799.1 464.4L797.0 464.5L794.1 464.8L791.1 465.1L788.2 465.6L785.3 466.2L782.4 466.8L781.0 467.3L779.5 467.7L776.6 468.9L774.2 470.2L773.7 470.4L770.8 472.5L770.2 473.1L767.9 475.3L767.4 476.0L765.4 478.9L765.0 479.5L763.9 481.8L762.7 484.7L762.1 486.6L761.8 487.6L761.2 490.5L760.6 493.4L760.2 496.3L759.8 499.2L759.6 502.1L759.4 505.0L759.2 507.9L759.2 508.0L759.1 510.8L759.1 513.7L759.1 516.6L759.1 519.5L759.1 522.4L759.1 525.3L759.2 527.4L759.2 528.2L759.4 531.1L759.6 534.0L759.9 536.9L760.3 539.9L760.7 542.8L761.3 545.7L762.0 548.6L762.1 548.9L763.0 551.5L764.2 554.4L765.0 555.9L765.8 557.3L767.9 560.1L767.9 560.2L770.8 563.0L771.0 563.1L773.7 565.0L775.5 566.0L776.6 566.5L779.5 567.7L782.4 568.6ZM811.5 531.4L811.1 531.1L808.6 529.7L806.7 528.2L805.7 527.4L803.6 525.3L802.8 524.4L801.1 522.4L799.9 520.4L799.3 519.5L799.1 516.6L799.9 515.2L800.6 513.7L802.8 511.1L803.0 510.8L805.7 508.1L805.9 507.9L808.6 505.7L809.8 505.0L811.5 504.1L814.4 504.2L815.7 505.0L817.3 505.9L819.7 507.9L820.2 508.4L822.6 510.8L823.1 511.4L824.9 513.7L826.0 515.7L826.5 516.6L826.2 519.5L826.0 519.9L824.4 522.4L823.1 524.1L822.0 525.3L820.2 527.1L818.9 528.2L817.3 529.5L814.5 531.1L814.4 531.2Z"/>
<path fill="#70ff8f" d="M796.0 568.9L797.0 569.0L799.9 569.2L802.8 569.3L805.7 569.4L808.6 569.4L811.5 569.4L814.4 569.4L817.3 569.4L820.2 569.4L823.1 569.3L826.0 569.1L828.9 568.9L829.6 568.9L831.8 568.7L834.7 568.3L837.6 567.9L840.5 567.3L843.4 566.5L844.8 566.0L846.3 565.5L849.2 564.1L850.9 563.1L852.1 562.3L854.7 560.2L855.0 559.8L857.2 557.3L857.9 556.2L859.0 554.4L860.4 551.5L860.8 550.3L861.4 548.6L862.3 545.7L862.9 542.8L863.4 539.9L863.7 536.9L863.7 536.7L864.0 534.0L864.2 531.1L864.3 528.2L864.4 525.3L864.5 522.4L864.5 519.5L864.4 516.6L864.5 513.7L864.4 510.8L864.4 507.9L864.2 505.0L864.0 502.1L863.8 499.2L863.7 498.8L863.5 496.3L863.0 493.4L862.4 490.5L861.7 487.6L860.8 485.1L860.7 484.7L859.4 481.8L857.9 479.3L857.7 478.9L855.3 476.0L855.0 475.7L852.1 473.2L852.0 473.1L849.2 471.3L846.6 470.2L846.3 470.0L843.4 469.0L840.5 468.2L837.6 467.6L835.4 467.3L834.7 467.1L831.8 466.8L828.9 466.5L826.0 466.3L823.1 466.2L820.2 466.1L817.3 466.1L814.4 466.1L811.5 466.1L808.6 466.1L805.7 466.1L802.8 466.2L799.9 466.3L797.0 466.5L794.1 466.8L791.1 467.1L790.1 467.3L788.2 467.5L785.3 468.1L782.4 468.9L779.5 469.9L779.0 470.2L776.6 471.2L773.7 473.0L773.6 473.1L770.8 475.4L770.2 476.0L767.9 478.8L767.9 478.9L766.2 481.8L765.0 484.4L764.9 484.7L763.9 487.6L763.1 490.5L762.6 493.4L762.1 496.3L762.1 496.5L761.8 499.2L761.5 502.1L761.4 505.0L761.2 507.9L761.1 510.8L761.1 513.7L761.1 516.6L761.1 519.5L761.1 522.4L761.2 525.3L761.3 528.2L761.4 531.1L761.6 534.0L761.9 536.9L762.1 538.9L762.2 539.9L762.7 542.8L763.3 545.7L764.1 548.6L765.0 551.1L765.2 551.5L766.5 554.4L767.9 556.6L768.4 557.3L770.8 560.1L770.9 560.2L773.7 562.5L774.6 563.1L776.6 564.2L779.5 565.6L780.8 566.0L782.4 566.5L785.3 567.3L788.2 567.9L791.1 568.4L794.1 568.7ZM811.5 532.1L809.8 531.1L808.6 530.4L805.8 528.2L805.7 528.1L802.8 525.3L802.8 525.3L800.4 522.4L799.9 521.5L798.6 519.5L798.4 516.6L799.9 513.9L800.0 513.7L802.2 510.8L802.8 510.2L805.0 507.9L805.7 507.3L808.6 505.0L808.6 505.0L811.5 503.4L814.4 503.5L816.9 505.0L817.3 505.2L820.2 507.6L820.5 507.9L823.1 510.5L823.4 510.8L825.6 513.7L826.0 514.4L827.2 516.6L826.9 519.5L826.0 521.1L825.1 522.4L823.1 524.9L822.7 525.3L820.2 527.9L819.8 528.2L817.3 530.2L815.8 531.1L814.4 532.0Z"/>
<path fill="#8fff70" d="M788.6 566.0L791.1 566.4L794.1 566.8L797.0 567.0L799.9 567.2L802.8 567.3L805.7 567.4L808.6 567.4L811.5 567.3L814.4 567.3L817.3 567.4L820.2 567.4L823.1 567.3L826.0 567.2L828.9 567.0L831.8 566.8L834.7 566.4L837.0 566.0L837.6 565.9L840.5 565.4L843.4 564.5L846.3 563.4L846.9 563.1L849.2 561.9L851.7 560.2L852.1 559.8L854.7 557.3L855.0 556.9L856.9 554.4L857.9 552.3L858.3 551.5L859.5 548.6L860.4 545.7L860.8 543.1L860.9 542.8L861.4 539.9L861.8 536.9L862.1 534.0L862.3 531.1L862.4 528.2L862.5 525.3L862.5 522.4L862.4 519.5L862.4 516.6L862.5 513.7L862.5 510.8L862.4 507.9L862.3 505.0L862.1 502.1L861.9 499.2L861.5 496.3L861.0 493.4L860.8 492.4L860.5 490.5L859.8 487.6L858.7 484.7L857.9 483.2L857.3 481.8L855.3 478.9L855.0 478.6L852.5 476.0L852.1 475.6L849.2 473.5L848.3 473.1L846.3 472.0L843.4 470.9L840.5 470.2L840.4 470.2L837.6 469.5L834.7 469.0L831.8 468.7L828.9 468.4L826.0 468.2L823.1 468.1L820.2 468.0L817.3 468.0L814.4 468.1L811.5 468.1L808.6 468.0L805.7 468.0L802.8 468.1L799.9 468.2L797.0 468.4L794.1 468.6L791.1 469.0L788.2 469.5L785.3 470.1L785.2 470.2L782.4 470.8L779.5 471.9L777.3 473.1L776.6 473.4L773.7 475.4L773.0 476.0L770.8 478.2L770.3 478.9L768.3 481.8L767.9 482.6L766.9 484.7L765.8 487.6L765.1 490.5L765.0 491.1L764.5 493.4L764.0 496.3L763.7 499.2L763.4 502.1L763.3 505.0L763.1 507.9L763.1 510.8L763.1 513.7L763.2 516.6L763.1 519.5L763.1 522.4L763.1 525.3L763.2 528.2L763.3 531.1L763.5 534.0L763.7 536.9L764.1 539.9L764.6 542.8L765.0 544.4L765.3 545.7L766.0 548.6L767.2 551.5L767.9 552.8L768.7 554.4L770.8 557.2L770.9 557.3L773.7 560.0L773.9 560.2L776.6 562.1L778.7 563.1L779.5 563.5L782.4 564.6L785.3 565.4L788.2 565.9ZM811.5 532.8L808.6 531.1L808.6 531.1L805.7 528.9L804.9 528.2L802.8 526.1L802.0 525.3L799.9 522.6L799.7 522.4L797.9 519.5L797.7 516.6L799.2 513.7L799.9 512.8L801.4 510.8L802.8 509.3L804.2 507.9L805.7 506.5L807.6 505.0L808.6 504.3L811.5 502.7L814.4 502.8L817.3 504.5L818.0 505.0L820.2 506.8L821.4 507.9L823.1 509.6L824.1 510.8L826.0 513.2L826.4 513.7L827.9 516.6L827.7 519.5L826.0 522.2L825.9 522.4L823.5 525.3L823.1 525.8L820.7 528.2L820.2 528.7L817.3 531.0L817.0 531.1L814.4 532.7Z"/>
<path fill="#afff50" d="M783.2 563.1L785.3 563.8L788.2 564.5L791.1 564.9L794.1 565.2L797.0 565.4L799.9 565.5L802.8 565.6L805.7 565.6L808.6 565.6L811.5 565.5L814.4 565.5L817.3 565.6L820.2 565.6L823.1 565.6L826.0 565.5L828.9 565.4L831.8 565.2L834.7 564.9L837.6 564.4L840.5 563.7L842.4 563.1L843.4 562.8L846.3 561.7L848.9 560.2L849.2 560.0L852.1 557.7L852.5 557.3L854.9 554.4L855.0 554.1L856.7 551.5L857.8 548.6L857.9 548.0L858.7 545.7L859.4 542.8L859.9 539.9L860.2 536.9L860.4 534.0L860.5 531.1L860.6 528.2L860.7 525.3L860.6 522.4L860.6 519.5L860.5 516.6L860.6 513.7L860.7 510.8L860.6 507.9L860.6 505.0L860.4 502.1L860.3 499.2L860.0 496.3L859.6 493.4L858.9 490.5L858.0 487.6L857.9 487.4L857.0 484.7L855.4 481.8L855.0 481.3L853.2 478.9L852.1 477.8L849.9 476.0L849.2 475.4L846.3 473.8L844.4 473.1L843.4 472.6L840.5 471.7L837.6 471.0L834.7 470.6L831.8 470.4L828.9 470.2L828.1 470.2L826.0 470.0L823.1 469.9L820.2 469.9L817.3 469.9L814.4 470.0L811.5 470.0L808.6 469.9L805.7 469.9L802.8 469.9L799.9 470.0L797.4 470.2L797.0 470.2L794.1 470.3L791.1 470.6L788.2 471.0L785.3 471.6L782.4 472.5L781.2 473.1L779.5 473.7L776.6 475.2L775.6 476.0L773.7 477.5L772.4 478.9L770.8 480.9L770.2 481.8L768.6 484.7L767.9 486.7L767.5 487.6L766.6 490.5L766.0 493.4L765.6 496.3L765.4 499.2L765.2 502.1L765.1 505.0L765.0 507.6L765.0 507.9L765.0 510.8L765.0 513.2L765.0 513.7L765.1 516.6L765.1 519.5L765.0 522.1L765.0 522.4L765.0 525.3L765.0 527.9L765.0 528.2L765.1 531.1L765.2 534.0L765.4 536.9L765.7 539.9L766.1 542.8L766.8 545.7L767.8 548.6L767.9 548.8L768.9 551.5L770.7 554.4L770.8 554.6L773.0 557.3L773.7 557.9L776.6 560.1L776.7 560.2L779.5 561.8L782.4 562.9ZM808.6 531.9L807.5 531.1L805.7 529.7L804.0 528.2L802.8 527.0L801.2 525.3L799.9 523.6L798.9 522.4L797.2 519.5L797.0 516.6L798.4 513.7L799.9 511.8L800.6 510.8L802.8 508.4L803.3 507.9L805.7 505.8L806.6 505.0L808.6 503.5L811.2 502.1L811.5 502.0L814.4 502.1L814.4 502.1L817.3 503.7L819.0 505.0L820.2 506.0L822.3 507.9L823.1 508.7L824.9 510.8L826.0 512.2L827.1 513.7L828.6 516.6L828.4 519.5L826.6 522.4L826.0 523.3L824.4 525.3L823.1 526.7L821.6 528.2L820.2 529.5L818.0 531.1L817.3 531.7L814.4 533.4L811.5 533.5Z"/>
<path fill="#cfff30" d="M788.7 563.1L791.1 563.5L794.1 563.9L797.0 564.1L799.9 564.3L802.8 564.4L805.7 564.4L808.6 564.3L811.5 564.2L814.4 564.2L817.3 564.3L820.2 564.4L823.1 564.4L826.0 564.3L828.9 564.1L831.8 563.9L834.7 563.5L836.9 563.1L837.6 563.0L840.5 562.4L843.4 561.6L846.3 560.2L846.3 560.2L849.2 558.5L850.6 557.3L852.1 555.8L853.4 554.4L855.0 551.6L855.1 551.5L856.5 548.6L857.4 545.7L857.9 543.0L858.0 542.8L858.6 539.9L858.9 536.9L859.2 534.0L859.3 531.1L859.4 528.2L859.4 525.3L859.4 522.4L859.3 519.5L859.2 516.6L859.4 513.7L859.4 510.8L859.4 507.9L859.4 505.0L859.2 502.1L859.0 499.2L858.7 496.3L858.2 493.4L857.9 492.5L857.6 490.5L856.8 487.6L855.5 484.7L855.0 483.9L853.9 481.8L852.1 479.7L851.4 478.9L849.2 477.0L847.5 476.0L846.3 475.2L843.4 473.9L840.5 473.1L840.2 473.1L837.6 472.4L834.7 471.9L831.8 471.5L828.9 471.3L826.0 471.2L823.1 471.1L820.2 471.1L817.3 471.1L814.4 471.3L811.5 471.3L808.6 471.2L805.7 471.1L802.8 471.1L799.9 471.2L797.0 471.3L794.1 471.5L791.1 471.8L788.2 472.3L785.4 473.1L785.3 473.1L782.4 473.8L779.5 475.1L778.0 476.0L776.6 476.8L774.2 478.9L773.7 479.4L771.7 481.8L770.8 483.3L770.0 484.7L768.8 487.6L768.0 490.5L767.9 491.2L767.4 493.4L766.9 496.3L766.5 499.2L766.3 502.1L766.2 505.0L766.1 507.9L766.1 510.8L766.2 513.7L766.3 516.6L766.3 519.5L766.2 522.4L766.1 525.3L766.2 528.2L766.2 531.1L766.4 534.0L766.6 536.9L767.0 539.9L767.5 542.8L767.9 544.2L768.2 545.7L769.0 548.6L770.4 551.5L770.8 552.1L772.2 554.4L773.7 556.1L774.9 557.3L776.6 558.7L779.3 560.2L779.5 560.3L782.4 561.7L785.3 562.5L788.2 563.0ZM811.5 534.3L811.1 534.0L808.6 532.7L806.5 531.1L805.7 530.5L803.1 528.2L802.8 527.9L800.4 525.3L799.9 524.7L798.1 522.4L797.0 520.4L796.4 519.5L796.1 516.6L797.0 515.2L797.7 513.7L799.9 510.8L799.9 510.8L802.4 507.9L802.8 507.5L805.6 505.0L805.7 505.0L808.6 502.8L809.8 502.1L811.5 501.1L814.4 501.3L815.8 502.1L817.3 502.9L820.0 505.0L820.2 505.2L823.1 507.8L823.2 507.9L825.7 510.8L826.0 511.2L827.9 513.7L828.9 515.7L829.4 516.6L829.1 519.5L828.9 519.9L827.4 522.4L826.0 524.3L825.2 525.3L823.1 527.6L822.5 528.2L820.2 530.3L819.1 531.1L817.3 532.5L814.6 534.0L814.4 534.2Z"/>
<path fill="#efff10" d="M801.9 563.1L802.8 563.1L805.7 563.1L806.6 563.1L808.6 563.0L811.5 562.9L814.4 562.9L817.3 563.0L819.0 563.1L820.2 563.1L823.1 563.1L823.7 563.1L826.0 563.0L828.9 562.9L831.8 562.8L834.7 562.5L837.6 562.0L840.5 561.4L843.4 560.3L843.6 560.2L846.3 559.0L848.8 557.3L849.2 557.0L851.9 554.4L852.1 554.1L853.9 551.5L855.0 549.1L855.3 548.6L856.4 545.7L857.0 542.8L857.5 539.9L857.8 536.9L857.9 534.2L857.9 534.0L858.1 531.1L858.2 528.2L858.2 525.3L858.1 522.4L858.0 519.5L857.9 516.6L858.1 513.7L858.2 510.8L858.2 507.9L858.1 505.0L858.0 502.1L857.9 501.4L857.8 499.2L857.6 496.3L857.2 493.4L856.6 490.5L855.6 487.6L855.0 486.4L854.3 484.7L852.4 481.8L852.1 481.4L849.7 478.9L849.2 478.4L846.3 476.5L845.2 476.0L843.4 475.1L840.5 474.1L837.6 473.5L834.7 473.1L834.5 473.1L831.8 472.7L828.9 472.4L826.0 472.3L823.1 472.2L820.2 472.2L817.3 472.3L814.4 472.4L811.5 472.5L808.6 472.3L805.7 472.2L802.8 472.2L799.9 472.3L797.0 472.4L794.1 472.7L791.1 473.0L791.0 473.1L788.2 473.4L785.3 474.0L782.4 475.0L780.4 476.0L779.5 476.4L776.6 478.2L775.8 478.9L773.7 481.0L773.1 481.8L771.3 484.7L770.8 485.8L770.0 487.6L769.0 490.5L768.4 493.4L768.1 496.3L767.9 497.9L767.7 499.2L767.5 502.1L767.4 505.0L767.3 507.9L767.3 510.8L767.4 513.7L767.6 516.6L767.5 519.5L767.4 522.4L767.3 525.3L767.3 528.2L767.4 531.1L767.6 534.0L767.8 536.9L767.9 537.6L768.1 539.9L768.6 542.8L769.2 545.7L770.2 548.6L770.8 549.7L771.6 551.5L773.7 554.4L773.7 554.4L776.6 557.2L776.7 557.3L779.5 559.2L781.9 560.2L782.4 560.4L785.3 561.4L788.2 562.1L791.1 562.5L794.1 562.8L797.0 562.9L799.9 563.0ZM811.5 535.1L809.6 534.0L808.6 533.5L805.7 531.3L805.4 531.1L802.8 528.8L802.2 528.2L799.9 525.7L799.6 525.3L797.4 522.4L797.0 521.7L795.6 519.5L795.3 516.6L796.9 513.7L797.0 513.7L799.0 510.8L799.9 509.8L801.5 507.9L802.8 506.6L804.6 505.0L805.7 504.1L808.4 502.1L808.6 502.0L811.5 500.3L814.4 500.4L817.2 502.1L817.3 502.2L820.2 504.3L821.0 505.0L823.1 506.9L824.1 507.9L826.0 510.1L826.6 510.8L828.7 513.7L828.9 514.1L830.3 516.6L830.0 519.5L828.9 521.3L828.2 522.4L826.0 525.3L826.0 525.3L823.4 528.2L823.1 528.6L820.2 531.1L820.1 531.1L817.3 533.3L816.0 534.0L814.4 535.0Z"/>
<path fill="#ffef00" d="M784.8 560.2L785.3 560.4L788.2 561.1L791.1 561.6L794.1 561.9L797.0 562.1L799.9 562.2L802.8 562.3L805.7 562.3L808.6 562.2L811.5 562.0L814.4 562.0L817.3 562.2L820.2 562.3L823.1 562.3L826.0 562.2L828.9 562.1L831.8 561.9L834.7 561.6L837.6 561.1L840.5 560.3L840.8 560.2L843.4 559.3L846.3 557.9L847.2 557.3L849.2 555.7L850.6 554.4L852.1 552.4L852.8 551.5L854.3 548.6L855.0 546.4L855.3 545.7L856.1 542.8L856.6 539.9L856.9 536.9L857.1 534.0L857.3 531.1L857.3 528.2L857.3 525.3L857.3 522.4L857.1 519.5L857.1 516.6L857.2 513.7L857.3 510.8L857.3 507.9L857.3 505.0L857.2 502.1L857.0 499.2L856.7 496.3L856.3 493.4L855.5 490.5L855.0 489.1L854.5 487.6L853.2 484.7L852.1 483.0L851.2 481.8L849.2 479.7L848.1 478.9L846.3 477.6L843.4 476.2L842.8 476.0L840.5 475.1L837.6 474.4L834.7 473.9L831.8 473.6L828.9 473.4L826.0 473.3L823.1 473.2L820.2 473.2L817.3 473.3L814.4 473.5L811.5 473.5L808.6 473.3L805.7 473.2L802.8 473.2L799.9 473.3L797.0 473.4L794.1 473.6L791.1 473.9L788.2 474.3L785.3 475.0L782.7 476.0L782.4 476.1L779.5 477.4L777.4 478.9L776.6 479.5L774.4 481.8L773.7 482.6L772.4 484.7L771.0 487.6L770.8 488.3L770.0 490.5L769.3 493.4L768.9 496.3L768.6 499.2L768.4 502.1L768.3 505.0L768.3 507.9L768.3 510.8L768.4 513.7L768.5 516.6L768.5 519.5L768.3 522.4L768.3 525.3L768.3 528.2L768.3 531.1L768.5 534.0L768.7 536.9L769.0 539.9L769.5 542.8L770.2 545.7L770.8 547.2L771.3 548.6L772.8 551.5L773.7 552.8L775.0 554.4L776.6 556.0L778.4 557.3L779.5 558.0L782.4 559.4ZM808.6 534.3L808.2 534.0L805.7 532.2L804.3 531.1L802.8 529.8L801.2 528.2L799.9 526.8L798.6 525.3L797.0 523.0L796.5 522.4L794.7 519.5L794.5 516.6L796.0 513.7L797.0 512.4L798.1 510.8L799.9 508.7L800.6 507.9L802.8 505.7L803.5 505.0L805.7 503.2L807.2 502.1L808.6 501.1L811.5 499.5L814.4 499.6L817.3 501.3L818.4 502.1L820.2 503.4L822.0 505.0L823.1 505.9L825.0 507.9L826.0 509.0L827.5 510.8L828.9 512.8L829.6 513.7L831.1 516.6L830.9 519.5L829.1 522.4L828.9 522.6L826.9 525.3L826.0 526.4L824.4 528.2L823.1 529.5L821.2 531.1L820.2 532.0L817.4 534.0L817.3 534.1L814.4 535.9L811.5 536.0Z"/>
<path fill="#ffcf00" d="M788.1 560.2L788.2 560.2L791.1 560.8L794.1 561.1L797.0 561.3L799.9 561.4L802.8 561.5L805.7 561.5L808.6 561.4L811.5 561.2L814.4 561.2L817.3 561.4L820.2 561.5L823.1 561.5L826.0 561.4L828.9 561.3L831.8 561.1L834.7 560.7L837.4 560.2L837.6 560.1L840.5 559.4L843.4 558.4L845.5 557.3L846.3 556.8L849.2 554.5L849.3 554.4L851.7 551.5L852.1 550.8L853.3 548.6L854.4 545.7L855.0 543.3L855.2 542.8L855.8 539.9L856.1 536.9L856.3 534.0L856.5 531.1L856.5 528.2L856.5 525.3L856.4 522.4L856.2 519.5L856.2 516.6L856.4 513.7L856.5 510.8L856.5 507.9L856.5 505.0L856.4 502.1L856.2 499.2L855.9 496.3L855.3 493.4L855.0 492.2L854.6 490.5L853.6 487.6L852.1 484.7L852.1 484.7L850.0 481.8L849.2 481.0L846.6 478.9L846.3 478.7L843.4 477.1L840.5 476.1L840.2 476.0L837.6 475.2L834.7 474.7L831.8 474.4L828.9 474.2L826.0 474.1L823.1 474.0L820.2 474.0L817.3 474.1L814.4 474.3L811.5 474.3L808.6 474.1L805.7 474.0L802.8 474.0L799.9 474.1L797.0 474.2L794.1 474.4L791.1 474.7L788.2 475.2L785.3 476.0L785.3 476.0L782.4 477.0L779.5 478.5L779.0 478.9L776.6 480.7L775.6 481.8L773.7 484.2L773.4 484.7L771.9 487.6L771.0 490.5L770.8 491.1L770.2 493.4L769.7 496.3L769.4 499.2L769.2 502.1L769.1 505.0L769.0 507.9L769.1 510.8L769.2 513.7L769.4 516.6L769.3 519.5L769.2 522.4L769.1 525.3L769.1 528.2L769.1 531.1L769.3 534.0L769.5 536.9L769.8 539.9L770.4 542.8L770.8 544.4L771.2 545.7L772.2 548.6L773.7 551.2L773.9 551.5L776.2 554.4L776.6 554.8L779.5 557.0L780.1 557.3L782.4 558.5L785.3 559.5ZM808.6 535.3L806.9 534.0L805.7 533.2L803.2 531.1L802.8 530.7L800.2 528.2L799.9 527.8L797.7 525.3L797.0 524.3L795.5 522.4L794.1 519.9L793.8 519.5L793.5 516.6L794.1 515.7L795.1 513.7L797.0 511.2L797.2 510.8L799.6 507.9L799.9 507.6L802.5 505.0L802.8 504.7L805.7 502.3L806.0 502.1L808.6 500.2L810.4 499.2L811.5 498.5L814.4 498.6L815.2 499.2L817.3 500.3L819.6 502.1L820.2 502.5L823.1 505.0L823.1 505.0L826.0 507.9L826.0 508.0L828.4 510.8L828.9 511.6L830.5 513.7L831.8 516.3L832.0 516.6L831.8 518.7L831.7 519.5L830.0 522.4L828.9 523.9L827.8 525.3L826.0 527.5L825.4 528.2L823.1 530.5L822.3 531.1L820.2 533.0L818.7 534.0L817.3 535.1L814.4 536.8L811.5 536.9Z"/>
<path fill="#ffaf00" d="M793.4 560.2L794.1 560.3L797.0 560.5L799.9 560.6L802.8 560.7L805.7 560.7L808.6 560.5L811.5 560.3L814.4 560.3L817.3 560.5L820.2 560.7L823.1 560.7L826.0 560.6L828.9 560.5L831.8 560.2L832.2 560.2L834.7 559.9L837.6 559.3L840.5 558.6L843.4 557.4L843.7 557.3L846.3 555.8L848.1 554.4L849.2 553.2L850.7 551.5L852.1 549.1L852.4 548.6L853.6 545.7L854.3 542.8L854.9 539.9L855.0 538.9L855.3 536.9L855.5 534.0L855.7 531.1L855.7 528.2L855.7 525.3L855.6 522.4L855.4 519.5L855.3 516.6L855.6 513.7L855.7 510.8L855.7 507.9L855.7 505.0L855.6 502.1L855.4 499.2L855.0 496.5L855.0 496.3L854.5 493.4L853.8 490.5L852.7 487.6L852.1 486.4L851.1 484.7L849.2 482.2L848.8 481.8L846.3 479.7L845.0 478.9L843.4 478.0L840.5 476.9L837.6 476.1L836.9 476.0L834.7 475.6L831.8 475.2L828.9 475.0L826.0 474.8L823.1 474.8L820.2 474.8L817.3 474.9L814.4 475.2L811.5 475.2L808.6 474.9L805.7 474.8L802.8 474.8L799.9 474.8L797.0 475.0L794.1 475.2L791.1 475.5L788.7 476.0L788.2 476.1L785.3 476.8L782.4 477.9L780.6 478.9L779.5 479.5L776.8 481.8L776.6 481.9L774.4 484.7L773.7 485.9L772.8 487.6L771.8 490.5L771.1 493.4L770.8 494.8L770.5 496.3L770.2 499.2L770.0 502.1L769.9 505.0L769.8 507.9L769.9 510.8L770.0 513.7L770.2 516.6L770.2 519.5L770.0 522.4L769.8 525.3L769.8 528.2L769.9 531.1L770.0 534.0L770.3 536.9L770.7 539.9L770.8 540.7L771.2 542.8L772.0 545.7L773.2 548.6L773.7 549.6L774.9 551.5L776.6 553.5L777.5 554.4L779.5 555.9L781.9 557.3L782.4 557.6L785.3 558.7L788.2 559.4L791.1 559.9ZM811.5 538.0L809.8 536.9L808.6 536.3L805.7 534.1L805.6 534.0L802.8 531.8L802.1 531.1L799.9 529.0L799.2 528.2L797.0 525.5L796.8 525.3L794.6 522.4L794.1 521.5L792.7 519.5L792.4 516.6L794.1 513.9L794.1 513.7L796.2 510.8L797.0 509.9L798.6 507.9L799.9 506.5L801.3 505.0L802.8 503.7L804.7 502.1L805.7 501.3L808.6 499.2L808.6 499.2L811.5 497.4L814.4 497.6L816.9 499.2L817.3 499.4L820.2 501.5L820.9 502.1L823.1 503.9L824.2 505.0L826.0 506.8L827.0 507.9L828.9 510.3L829.3 510.8L831.5 513.7L831.8 514.4L833.1 516.6L832.9 519.5L831.8 521.1L831.0 522.4L828.9 525.2L828.8 525.3L826.4 528.2L826.0 528.6L823.5 531.1L823.1 531.5L820.2 533.9L820.0 534.0L817.3 536.1L815.8 536.9L814.4 537.9Z"/>
<path fill="#ff8f00" d="M783.9 557.3L785.3 557.8L788.2 558.6L791.1 559.1L794.1 559.5L797.0 559.7L799.9 559.8L802.8 559.9L805.7 559.8L808.6 559.6L811.5 559.3L814.4 559.4L817.3 559.7L820.2 559.8L823.1 559.9L826.0 559.8L828.9 559.7L831.8 559.4L834.7 559.1L837.6 558.5L840.5 557.7L841.7 557.3L843.4 556.5L846.3 554.7L846.8 554.4L849.2 552.0L849.6 551.5L851.4 548.6L852.1 547.1L852.7 545.7L853.5 542.8L854.1 539.9L854.5 536.9L854.7 534.0L854.9 531.1L854.9 528.2L854.9 525.3L854.8 522.4L854.4 519.5L854.4 516.6L854.7 513.7L854.9 510.8L854.9 507.9L854.9 505.0L854.8 502.1L854.5 499.2L854.2 496.3L853.7 493.4L852.9 490.5L852.1 488.3L851.8 487.6L850.1 484.7L849.2 483.5L847.5 481.8L846.3 480.8L843.4 478.9L843.3 478.9L840.5 477.8L837.6 477.0L834.7 476.4L831.8 476.0L831.7 476.0L828.9 475.7L826.0 475.6L823.1 475.6L820.2 475.6L817.3 475.7L814.7 476.0L814.4 476.0L811.5 476.0L811.0 476.0L808.6 475.8L805.7 475.6L802.8 475.5L799.9 475.6L797.0 475.7L794.1 476.0L793.9 476.0L791.1 476.3L788.2 476.9L785.3 477.7L782.4 478.8L782.3 478.9L779.5 480.6L778.0 481.8L776.6 483.2L775.5 484.7L773.8 487.6L773.7 487.7L772.6 490.5L771.9 493.4L771.4 496.3L771.0 499.2L770.8 501.6L770.8 502.1L770.7 505.0L770.6 507.9L770.6 510.8L770.8 513.6L770.8 513.7L771.1 516.6L771.1 519.5L770.8 521.9L770.8 522.4L770.6 525.3L770.6 528.2L770.7 531.1L770.8 533.9L770.8 534.0L771.1 536.9L771.5 539.9L772.1 542.8L772.9 545.7L773.7 547.7L774.1 548.6L776.0 551.5L776.6 552.3L778.8 554.4L779.5 554.9L782.4 556.6ZM808.6 537.4L808.1 536.9L805.7 535.2L804.2 534.0L802.8 532.9L800.9 531.1L799.9 530.1L798.1 528.2L797.0 526.9L795.7 525.3L794.1 523.1L793.5 522.4L791.6 519.5L791.3 516.6L793.0 513.7L794.1 512.3L795.1 510.8L797.0 508.6L797.5 507.9L799.9 505.4L800.2 505.0L802.8 502.6L803.4 502.1L805.7 500.2L807.1 499.2L808.6 498.0L811.5 496.4L814.4 496.5L817.3 498.3L818.5 499.2L820.2 500.4L822.2 502.1L823.1 502.9L825.4 505.0L826.0 505.6L828.1 507.9L828.9 508.9L830.4 510.8L831.8 512.7L832.6 513.7L834.3 516.6L834.0 519.5L832.0 522.4L831.8 522.7L829.9 525.3L828.9 526.5L827.5 528.2L826.0 529.8L824.7 531.1L823.1 532.6L821.3 534.0L820.2 535.0L817.5 536.9L817.3 537.1L814.4 539.1L811.5 539.2Z"/>
<path fill="#ff7000" d="M786.4 557.3L788.2 557.8L791.1 558.3L794.1 558.6L797.0 558.9L799.9 559.0L802.8 559.0L805.7 559.0L808.6 558.7L811.5 558.4L814.4 558.4L817.3 558.8L820.2 559.0L823.1 559.0L826.0 559.0L828.9 558.8L831.8 558.6L834.7 558.3L837.6 557.7L839.2 557.3L840.5 556.8L843.4 555.5L845.3 554.4L846.3 553.6L848.5 551.5L849.2 550.5L850.4 548.6L851.8 545.7L852.1 544.8L852.7 542.8L853.3 539.9L853.6 536.9L853.9 534.0L854.0 531.1L854.1 528.2L854.1 525.3L853.9 522.4L853.5 519.5L853.4 516.6L853.8 513.7L854.0 510.8L854.1 507.9L854.0 505.0L853.9 502.1L853.7 499.2L853.4 496.3L852.9 493.4L852.1 490.6L852.1 490.5L850.8 487.6L849.2 484.9L849.1 484.7L846.3 481.8L846.3 481.8L843.4 480.0L841.2 478.9L840.5 478.6L837.6 477.8L834.7 477.2L831.8 476.8L828.9 476.6L826.0 476.5L823.1 476.4L820.2 476.4L817.3 476.7L814.4 477.1L811.5 477.1L808.6 476.7L805.7 476.4L802.8 476.4L799.9 476.4L797.0 476.6L794.1 476.8L791.1 477.2L788.2 477.7L785.3 478.5L784.4 478.9L782.4 479.8L779.5 481.6L779.3 481.8L776.6 484.5L776.5 484.7L774.8 487.6L773.7 489.9L773.5 490.5L772.7 493.4L772.2 496.3L771.9 499.2L771.6 502.1L771.5 505.0L771.5 507.9L771.5 510.8L771.8 513.7L772.2 516.6L772.1 519.5L771.7 522.4L771.5 525.3L771.5 528.2L771.5 531.1L771.7 534.0L771.9 536.9L772.3 539.9L772.9 542.8L773.7 545.7L773.7 545.7L775.1 548.6L776.6 550.9L777.1 551.5L779.5 553.8L780.3 554.4L782.4 555.6L785.3 556.9ZM811.5 540.5L810.6 539.9L808.6 538.7L806.5 536.9L805.7 536.4L802.9 534.0L802.8 534.0L799.9 531.3L799.7 531.1L797.0 528.2L797.0 528.2L794.5 525.3L794.1 524.7L792.2 522.4L791.1 520.7L790.2 519.5L789.9 516.6L791.1 514.8L791.7 513.7L794.1 510.8L794.1 510.8L796.3 507.9L797.0 507.2L799.0 505.0L799.9 504.1L802.1 502.1L802.8 501.4L805.6 499.2L805.7 499.2L808.6 496.8L809.5 496.3L811.5 494.9L814.4 495.0L816.1 496.3L817.3 497.0L820.0 499.2L820.2 499.4L823.1 501.7L823.5 502.1L826.0 504.4L826.6 505.0L828.9 507.6L829.2 507.9L831.6 510.8L831.8 511.2L833.9 513.7L834.7 515.2L835.7 516.6L835.4 519.5L834.7 520.3L833.4 522.4L831.8 524.3L831.1 525.3L828.9 527.9L828.6 528.2L826.0 531.0L825.9 531.1L823.1 533.7L822.7 534.0L820.2 536.2L819.1 536.9L817.3 538.5L815.1 539.9L814.4 540.4Z"/>
<path fill="#ff5000" d="M789.9 557.3L791.1 557.5L794.1 557.8L797.0 558.0L799.9 558.1L802.8 558.2L805.7 558.1L808.6 557.9L811.5 557.4L814.4 557.5L817.3 557.9L820.2 558.1L823.1 558.2L826.0 558.1L828.9 558.0L831.8 557.8L834.7 557.5L835.7 557.3L837.6 556.8L840.5 555.8L843.4 554.5L843.7 554.4L846.3 552.3L847.2 551.5L849.2 548.9L849.4 548.6L850.8 545.7L851.8 542.8L852.1 541.6L852.5 539.9L852.8 536.9L853.0 534.0L853.2 531.1L853.2 528.2L853.2 525.3L853.0 522.4L852.5 519.5L852.4 516.6L852.9 513.7L853.2 510.8L853.2 507.9L853.2 505.0L853.1 502.1L852.9 499.2L852.6 496.3L852.1 493.8L852.0 493.4L851.0 490.5L849.8 487.6L849.2 486.6L847.8 484.7L846.3 483.2L844.6 481.8L843.4 481.0L840.5 479.6L838.5 478.9L837.6 478.6L834.7 478.1L831.8 477.7L828.9 477.5L826.0 477.4L823.1 477.3L820.2 477.4L817.3 477.6L814.4 478.1L811.5 478.1L808.6 477.7L805.7 477.4L802.8 477.3L799.9 477.4L797.0 477.5L794.1 477.7L791.1 478.0L788.2 478.6L787.1 478.9L785.3 479.5L782.4 480.9L781.0 481.8L779.5 482.9L777.8 484.7L776.6 486.2L775.8 487.6L774.5 490.5L773.7 492.7L773.6 493.4L773.0 496.3L772.7 499.2L772.5 502.1L772.4 505.0L772.4 507.9L772.4 510.8L772.8 513.7L773.2 516.6L773.1 519.5L772.7 522.4L772.4 525.3L772.4 528.2L772.4 531.1L772.5 534.0L772.8 536.9L773.1 539.9L773.7 542.8L773.7 542.8L774.8 545.7L776.2 548.6L776.6 549.3L778.4 551.5L779.5 552.5L781.9 554.4L782.4 554.7L785.3 555.9L788.2 556.9ZM808.6 540.0L808.4 539.9L805.7 537.7L804.8 536.9L802.8 535.3L801.4 534.0L799.9 532.6L798.4 531.1L797.0 529.6L795.6 528.2L794.1 526.3L793.2 525.3L791.1 522.7L790.9 522.4L788.6 519.5L788.3 516.6L790.2 513.7L791.1 512.7L792.6 510.8L794.1 509.1L795.0 507.9L797.0 505.8L797.7 505.0L799.9 502.8L800.7 502.1L802.8 500.1L803.9 499.2L805.7 497.7L807.5 496.3L808.6 495.3L811.4 493.4L811.5 493.3L812.5 493.4L814.4 493.5L817.3 495.6L818.1 496.3L820.2 497.9L821.6 499.2L823.1 500.4L824.9 502.1L826.0 503.1L827.9 505.0L828.9 506.1L830.6 507.9L831.8 509.5L833.0 510.8L834.7 513.1L835.3 513.7L837.3 516.6L837.0 519.5L834.7 522.4L834.7 522.4L832.4 525.3L831.8 526.0L830.0 528.2L828.9 529.3L827.2 531.1L826.0 532.4L824.2 534.0L823.1 535.1L820.8 536.9L820.2 537.5L817.3 539.8L817.2 539.9L814.4 542.1L811.5 542.2Z"/>
<path fill="#ff3000" d="M798.5 557.3L799.9 557.3L802.8 557.4L805.7 557.3L805.7 557.3L808.6 556.7L811.5 555.7L814.4 555.8L817.3 556.8L819.9 557.3L820.2 557.3L823.1 557.4L826.0 557.3L827.1 557.3L828.9 557.2L831.8 556.8L834.7 556.4L837.6 555.7L840.5 554.8L841.4 554.4L843.4 553.2L845.7 551.5L846.3 550.9L848.1 548.6L849.2 546.8L849.7 545.7L850.7 542.8L851.4 539.9L851.9 536.9L852.1 535.3L852.2 534.0L852.3 531.1L852.4 528.2L852.3 525.3L852.1 523.3L852.0 522.4L850.9 519.5L850.8 516.6L851.7 513.7L852.1 512.2L852.3 510.8L852.4 507.9L852.3 505.0L852.2 502.1L852.1 500.2L852.0 499.2L851.5 496.3L850.9 493.4L850.0 490.5L849.2 488.7L848.6 487.6L846.5 484.7L846.3 484.5L843.4 482.2L842.8 481.8L840.5 480.8L837.6 479.8L834.7 479.0L834.3 478.9L831.8 478.6L828.9 478.4L826.0 478.3L823.1 478.2L820.2 478.3L817.3 478.6L815.9 478.9L814.4 479.5L811.5 479.6L809.7 478.9L808.6 478.7L805.7 478.3L802.8 478.2L799.9 478.3L797.0 478.4L794.1 478.6L791.2 478.9L791.1 478.9L788.2 479.7L785.3 480.7L782.8 481.8L782.4 482.0L779.5 484.3L779.1 484.7L776.9 487.6L776.6 488.1L775.6 490.5L774.7 493.4L774.0 496.3L773.7 497.7L773.6 499.2L773.4 502.1L773.3 505.0L773.3 507.9L773.3 510.8L773.7 513.7L773.7 513.8L774.8 516.6L774.6 519.5L773.7 521.7L773.6 522.4L773.3 525.3L773.3 528.2L773.3 531.1L773.4 534.0L773.6 536.9L773.7 537.8L774.1 539.9L774.9 542.8L775.9 545.7L776.6 547.3L777.4 548.6L779.5 551.2L779.8 551.5L782.4 553.4L784.1 554.4L785.3 554.9L788.2 555.8L791.1 556.4L794.1 556.9L797.0 557.2ZM811.5 544.6L809.7 542.8L808.6 542.0L806.3 539.9L805.7 539.3L803.0 536.9L802.8 536.8L799.9 534.0L799.9 534.0L797.0 531.1L797.0 531.1L794.2 528.2L794.1 528.0L791.6 525.3L791.1 524.7L789.0 522.4L788.2 521.4L786.3 519.5L785.9 516.6L788.2 514.0L788.4 513.7L791.1 510.8L791.1 510.8L793.5 507.9L794.1 507.4L796.3 505.0L797.0 504.3L799.2 502.1L799.9 501.4L802.2 499.2L802.8 498.7L805.6 496.3L805.7 496.2L808.6 493.6L808.8 493.4L811.5 491.0L814.4 491.1L816.7 493.4L817.3 493.8L820.0 496.3L820.2 496.4L823.1 498.9L823.3 499.2L826.0 501.7L826.4 502.1L828.9 504.6L829.3 505.0L831.8 507.7L832.0 507.9L834.5 510.8L834.7 511.1L837.2 513.7L837.6 514.4L839.7 516.6L839.3 519.5L837.6 521.1L836.6 522.4L834.7 524.4L834.0 525.3L831.8 527.7L831.4 528.2L828.9 530.8L828.6 531.1L826.0 533.7L825.7 534.0L823.1 536.5L822.6 536.9L820.2 539.1L819.2 539.9L817.3 541.7L815.9 542.8L814.4 544.4Z"/>
<path fill="#ff1000" d="M787.3 554.4L788.2 554.6L791.1 555.2L794.1 555.6L797.0 555.8L799.9 555.9L802.8 555.9L805.7 555.7L808.6 555.0L810.2 554.4L811.5 552.5L814.4 552.8L815.4 554.4L817.3 555.1L820.2 555.7L823.1 555.9L826.0 555.9L828.9 555.8L831.8 555.6L834.7 555.2L837.6 554.6L838.3 554.4L840.5 553.4L843.4 551.8L843.8 551.5L846.3 549.0L846.7 548.6L848.3 545.7L849.2 543.8L849.5 542.8L850.2 539.9L850.6 536.9L850.8 534.0L851.0 531.1L851.0 528.2L850.8 525.3L850.2 522.4L849.2 520.1L848.2 519.5L847.3 516.6L849.2 515.5L849.9 513.7L850.7 510.8L851.0 507.9L851.0 505.0L850.9 502.1L850.7 499.2L850.3 496.3L849.7 493.4L849.2 491.7L848.7 490.5L847.1 487.6L846.3 486.5L844.5 484.7L843.4 483.8L840.5 482.0L840.1 481.8L837.6 481.0L834.7 480.3L831.8 479.9L828.9 479.6L826.0 479.5L823.1 479.4L820.2 479.6L817.3 480.5L814.6 481.8L814.4 482.3L811.5 482.8L811.1 481.8L808.6 480.6L805.7 479.7L802.8 479.4L799.9 479.5L797.0 479.6L794.1 479.8L791.1 480.3L788.2 480.9L785.4 481.8L785.3 481.8L782.4 483.6L781.0 484.7L779.5 486.2L778.5 487.6L776.8 490.5L776.6 490.9L775.9 493.4L775.3 496.3L774.9 499.2L774.7 502.1L774.6 505.0L774.6 507.9L774.8 510.8L775.7 513.7L776.6 515.8L778.3 516.6L777.2 519.5L776.6 519.8L775.4 522.4L774.7 525.3L774.5 528.2L774.6 531.1L774.7 534.0L775.0 536.9L775.4 539.9L776.1 542.8L776.6 544.5L777.2 545.7L779.0 548.6L779.5 549.3L781.8 551.5L782.4 551.9L785.3 553.5ZM811.5 548.7L811.4 548.6L809.6 545.7L808.6 544.6L807.0 542.8L805.7 541.5L804.1 539.9L802.8 538.7L801.1 536.9L799.9 535.7L798.3 534.0L797.0 532.7L795.3 531.1L794.1 529.8L792.3 528.2L791.1 526.9L789.5 525.3L788.2 524.0L786.5 522.4L785.3 521.3L782.6 519.5L782.4 519.0L781.1 516.6L782.4 516.2L785.3 514.1L785.7 513.7L788.2 511.5L788.9 510.8L791.1 508.5L791.7 507.9L794.1 505.6L794.6 505.0L797.0 502.8L797.6 502.1L799.9 499.8L800.5 499.2L802.8 496.8L803.4 496.3L805.7 494.0L806.4 493.4L808.6 490.9L809.0 490.5L811.1 487.6L811.5 486.4L814.4 487.0L814.6 487.6L816.5 490.5L817.3 491.2L819.2 493.4L820.2 494.3L822.2 496.3L823.1 497.1L825.1 499.2L826.0 500.0L828.0 502.1L828.9 503.0L831.0 505.0L831.8 505.9L833.9 507.9L834.7 508.8L836.7 510.8L837.6 511.8L839.9 513.7L840.5 514.4L843.4 516.4L844.5 516.6L843.4 518.1L843.1 519.5L840.5 521.1L839.1 522.4L837.6 523.7L836.1 525.3L834.7 526.6L833.3 528.2L831.8 529.6L830.3 531.1L828.9 532.5L827.3 534.0L826.0 535.4L824.4 536.9L823.1 538.4L821.5 539.9L820.2 541.2L818.5 542.8L817.3 544.3L816.0 545.7L814.4 548.3L811.9 548.6Z"/>
<path fill="#ef0000" d="M796.1 554.4L797.0 554.4L799.9 554.4L802.8 554.4L802.8 554.4L805.7 553.6L807.9 551.5L807.7 548.6L806.3 545.7L805.7 544.8L804.1 542.8L802.8 541.4L801.7 539.9L799.9 537.8L799.2 536.9L797.0 534.5L796.5 534.0L794.1 531.7L793.3 531.1L791.1 529.2L789.7 528.2L788.2 526.8L786.3 525.3L785.3 524.5L782.4 522.9L779.9 522.4L779.5 522.4L779.4 522.4L776.6 525.0L776.5 525.3L776.3 528.2L776.2 531.1L776.3 534.0L776.4 536.9L776.6 538.8L776.8 539.9L777.8 542.8L779.0 545.7L779.5 546.6L781.1 548.6L782.4 549.8L784.7 551.5L785.3 551.8L788.2 552.9L791.1 553.7L794.1 554.2ZM822.9 554.4L823.1 554.4L826.0 554.4L828.9 554.4L829.5 554.4L831.8 554.2L834.7 553.6L837.6 552.8L840.5 551.7L840.9 551.5L843.4 549.6L844.4 548.6L846.3 546.2L846.6 545.7L847.8 542.8L848.7 539.9L849.2 537.1L849.2 536.9L849.4 534.0L849.4 531.1L849.4 528.2L849.2 526.2L849.0 525.3L846.3 522.4L846.3 522.4L846.1 522.4L843.4 522.8L840.5 524.3L839.3 525.3L837.6 526.6L835.8 528.2L834.7 529.0L832.2 531.1L831.8 531.5L829.0 534.0L828.9 534.2L826.3 536.9L826.0 537.4L823.9 539.9L823.1 541.0L821.5 542.8L820.2 544.5L819.3 545.7L817.8 548.6L817.6 551.5L820.2 553.7ZM776.8 510.8L779.5 513.0L782.4 512.5L785.3 511.0L785.6 510.8L788.2 508.6L789.0 507.9L791.1 506.2L792.4 505.0L794.1 503.7L795.7 502.1L797.0 500.9L798.6 499.2L799.9 497.6L801.1 496.3L802.8 494.1L803.5 493.4L805.7 490.8L805.9 490.5L807.5 487.6L808.1 484.7L806.0 481.8L805.7 481.7L802.8 481.3L799.9 481.2L797.0 481.2L794.1 481.4L791.1 481.7L790.6 481.8L788.2 482.5L785.3 483.8L783.7 484.7L782.4 485.6L780.5 487.6L779.5 488.9L778.7 490.5L777.5 493.4L776.7 496.3L776.6 496.5L776.4 499.2L776.2 502.1L776.2 505.0L776.3 507.9L776.6 510.5ZM840.0 510.8L840.5 511.2L843.4 512.6L846.3 512.9L848.6 510.8L849.2 509.1L849.3 507.9L849.4 505.0L849.4 502.1L849.3 499.2L849.2 498.5L848.8 496.3L848.0 493.4L846.9 490.5L846.3 489.3L845.0 487.6L843.4 485.9L841.9 484.7L840.5 483.9L837.6 482.6L835.0 481.8L834.7 481.7L831.8 481.4L828.9 481.2L826.0 481.2L823.1 481.3L820.2 481.6L819.6 481.8L817.4 484.7L818.1 487.6L819.7 490.5L820.2 491.1L822.1 493.4L823.1 494.4L824.5 496.3L826.0 498.0L827.0 499.2L828.9 501.2L829.8 502.1L831.8 504.0L833.1 505.0L834.7 506.5L836.6 507.9L837.6 508.9Z"/>
<path fill="#cf0000" d="M792.1 551.5L794.1 551.6L796.8 551.5L797.0 551.4L799.9 550.4L801.9 548.6L801.8 545.7L800.7 542.8L799.9 541.3L799.2 539.9L797.2 536.9L797.0 536.7L794.4 534.0L794.1 533.7L791.1 531.6L790.1 531.1L788.2 530.0L785.3 528.9L782.4 528.5L779.7 531.1L779.5 531.5L779.1 534.0L779.0 536.9L779.3 539.9L779.5 540.9L780.1 542.8L781.7 545.7L782.4 546.6L784.5 548.6L785.3 549.1L788.2 550.5L791.1 551.4ZM828.8 551.5L828.9 551.5L831.8 551.6L833.4 551.5L834.7 551.3L837.6 550.4L840.5 549.0L841.1 548.6L843.4 546.3L843.9 545.7L845.4 542.8L846.3 540.0L846.4 539.9L846.6 536.9L846.5 534.0L846.3 532.6L845.8 531.1L843.4 528.5L840.5 528.8L837.6 529.9L835.4 531.1L834.7 531.4L831.8 533.5L831.2 534.0L828.9 536.4L828.4 536.9L826.4 539.9L826.0 540.7L824.8 542.8L823.8 545.7L823.6 548.6L826.0 550.6ZM780.1 505.0L782.4 507.0L785.3 506.6L788.2 505.4L788.9 505.0L791.1 503.8L793.5 502.1L794.1 501.7L796.6 499.2L797.0 498.7L798.8 496.3L799.9 494.2L800.4 493.4L801.6 490.5L802.1 487.6L799.9 484.8L799.6 484.7L797.0 484.2L794.1 484.0L791.1 484.2L788.8 484.7L788.2 484.8L785.3 486.4L783.7 487.6L782.4 488.9L781.3 490.5L779.8 493.4L779.5 494.5L779.2 496.3L779.0 499.2L779.2 502.1L779.5 503.9ZM836.7 505.0L837.6 505.6L840.5 506.7L843.4 506.9L845.4 505.0L846.3 502.9L846.4 502.1L846.6 499.2L846.4 496.3L846.3 495.7L845.7 493.4L844.3 490.5L843.4 489.2L841.8 487.6L840.5 486.6L837.6 485.0L836.7 484.7L834.7 484.2L831.8 484.0L828.9 484.1L826.0 484.7L825.9 484.7L823.5 487.6L824.0 490.5L825.2 493.4L826.0 494.7L826.8 496.3L828.9 499.1L829.0 499.2L831.8 502.0L832.0 502.1L834.7 504.0Z"/>
<path fill="#af0000" d="M786.2 545.7L788.2 547.0L791.1 547.7L794.1 547.3L796.3 545.7L797.0 544.1L797.2 542.8L797.0 541.7L796.5 539.9L794.6 536.9L794.1 536.4L791.1 534.2L790.7 534.0L788.2 533.3L785.3 533.8L785.0 534.0L783.0 536.9L782.9 539.9L783.8 542.8L785.3 544.9ZM829.2 545.7L831.8 547.4L834.7 547.7L837.6 546.8L839.4 545.7L840.5 544.6L841.8 542.8L842.7 539.9L842.5 536.9L840.6 534.0L840.5 534.0L837.6 533.3L834.7 534.0L834.7 534.0L831.8 536.1L831.0 536.9L829.0 539.9L828.9 540.4L828.4 542.8L828.9 545.0ZM787.7 502.1L788.2 502.2L788.4 502.1L791.1 501.2L794.1 499.2L794.1 499.2L796.1 496.3L797.0 494.0L797.2 493.4L797.0 491.3L796.8 490.5L794.1 488.1L791.1 487.7L788.2 488.5L785.3 490.4L785.3 490.5L783.5 493.4L782.8 496.3L783.3 499.2L785.3 501.6ZM837.4 502.1L837.6 502.2L838.1 502.1L840.5 501.4L842.3 499.2L842.8 496.3L842.1 493.4L840.5 490.8L840.2 490.5L837.6 488.6L834.7 487.8L831.8 488.0L828.9 490.3L828.8 490.5L828.4 493.4L828.9 494.8L829.4 496.3L831.6 499.2L831.8 499.4L834.7 501.3Z"/>
<path fill="#8f0000" d="M791.1 542.8L791.1 542.8L791.2 542.8L792.3 539.9L791.1 538.5L788.2 539.0L787.8 539.9L788.2 540.8ZM834.6 542.8L834.7 542.8L834.8 542.8L837.6 540.3L837.8 539.9L837.6 539.4L834.7 538.4L833.3 539.9ZM787.9 496.3L788.2 496.8L791.1 497.1L792.0 496.3L791.9 493.4L791.1 492.9L789.5 493.4L788.2 494.9ZM833.7 496.3L834.7 497.2L837.6 496.5L837.7 496.3L837.6 495.7L836.1 493.4L834.7 492.8L833.7 493.4Z"/>
</g></g>
<g fill="none" stroke="#111" stroke-width="1.55" stroke-dasharray="3 1.6">
<g clip-path="url(#cld)"><circle cx="218.4" cy="518.1" r="96.0"/><circle cx="120.6" cy="449.0" r="96.0"/><circle cx="315.9" cy="587.5" r="96.0"/><circle cx="299.3" cy="396.5" r="96.0"/><circle cx="137.6" cy="639.7" r="96.0"/></g>
<g clip-path="url(#cle)"><circle cx="516.8" cy="517.0" r="96.0"/><circle cx="610.8" cy="355.0" r="96.0"/><circle cx="610.8" cy="681.6" r="96.0"/><circle cx="324.7" cy="517.0" r="96.0"/></g>
<g clip-path="url(#clf)"><circle cx="812.8" cy="517.7" r="96.0"/><circle cx="714.8" cy="420.6" r="97.4"/><circle cx="911.0" cy="420.6" r="97.4"/><circle cx="714.8" cy="615.2" r="97.4"/><circle cx="911.0" cy="615.2" r="97.4"/></g>
</g>
<rect x="97.5" y="397.0" width="242.0" height="242.0" fill="none" stroke="#111" stroke-width="1.3"/>
<g font-size="13.5" fill="#111">
<text x="97.5" y="653.3" text-anchor="middle">0</text>
<text x="166.6" y="653.3" text-anchor="middle">1</text>
<text x="235.7" y="653.3" text-anchor="middle">2</text>
<text x="304.8" y="653.3" text-anchor="middle">3</text>
<text x="96.0" y="645.0" text-anchor="end">0</text>
<text x="96.0" y="609.5" text-anchor="end">0.5</text>
<text x="96.0" y="574.9" text-anchor="end">1</text>
<text x="96.0" y="540.4" text-anchor="end">1.5</text>
<text x="96.0" y="505.8" text-anchor="end">2</text>
<text x="96.0" y="471.2" text-anchor="end">2.5</text>
<text x="96.0" y="436.7" text-anchor="end">3</text>
<text x="96.0" y="402.2" text-anchor="end">3.5</text>
</g>
<rect x="394.8" y="397.0" width="242.0" height="242.0" fill="none" stroke="#111" stroke-width="1.3"/>
<g font-size="13.5" fill="#111">
<text x="394.8" y="653.3" text-anchor="middle">0</text>
<text x="463.9" y="653.3" text-anchor="middle">1</text>
<text x="533.0" y="653.3" text-anchor="middle">2</text>
<text x="602.1" y="653.3" text-anchor="middle">3</text>
<text x="393.3" y="645.0" text-anchor="end">0</text>
<text x="393.3" y="609.5" text-anchor="end">0.5</text>
<text x="393.3" y="574.9" text-anchor="end">1</text>
<text x="393.3" y="540.4" text-anchor="end">1.5</text>
<text x="393.3" y="505.8" text-anchor="end">2</text>
<text x="393.3" y="471.2" text-anchor="end">2.5</text>
<text x="393.3" y="436.7" text-anchor="end">3</text>
<text x="393.3" y="402.2" text-anchor="end">3.5</text>
</g>
<rect x="692.0" y="397.0" width="242.0" height="242.0" fill="none" stroke="#111" stroke-width="1.3"/>
<g font-size="13.5" fill="#111">
<text x="692.0" y="653.3" text-anchor="middle">0</text>
<text x="761.1" y="653.3" text-anchor="middle">1</text>
<text x="830.2" y="653.3" text-anchor="middle">2</text>
<text x="899.3" y="653.3" text-anchor="middle">3</text>
<text x="690.5" y="645.0" text-anchor="end">0</text>
<text x="690.5" y="609.5" text-anchor="end">0.5</text>
<text x="690.5" y="574.9" text-anchor="end">1</text>
<text x="690.5" y="540.4" text-anchor="end">1.5</text>
<text x="690.5" y="505.8" text-anchor="end">2</text>
<text x="690.5" y="471.2" text-anchor="end">2.5</text>
<text x="690.5" y="436.7" text-anchor="end">3</text>
<text x="690.5" y="402.2" text-anchor="end">3.5</text>
</g>
<g font-size="27" fill="#111">
<text x="170.6" y="683.8">x [Å]</text>
<text x="488.5" y="683.8">x [Å]</text>
<text x="787.2" y="683.8">x [Å]</text>
<text transform="translate(58.3,548.6) rotate(-90)">y [Å]</text>
</g>
<rect x="941.2" y="397" width="9" height="242" fill="url(#gcb)"/>
<g font-size="13.5" fill="#111">
<line x1="947.6" x2="950.2" y1="421.0" y2="421.0" stroke="#111" stroke-width="0.8"/>
<text x="950.4" y="425.8">0.2</text>
<line x1="947.6" x2="950.2" y1="460.1" y2="460.1" stroke="#111" stroke-width="0.8"/>
<text x="950.4" y="464.9">0.15</text>
<line x1="947.6" x2="950.2" y1="499.2" y2="499.2" stroke="#111" stroke-width="0.8"/>
<text x="950.4" y="504.0">0.1</text>
<line x1="947.6" x2="950.2" y1="538.3" y2="538.3" stroke="#111" stroke-width="0.8"/>
<text x="950.4" y="543.1">0.05</text>
<line x1="947.6" x2="950.2" y1="577.4" y2="577.4" stroke="#111" stroke-width="0.8"/>
<text x="950.4" y="582.2">0</text>
<line x1="947.6" x2="950.2" y1="616.5" y2="616.5" stroke="#111" stroke-width="0.8"/>
<text x="950.4" y="621.3">-0.05</text>
</g>
<text transform="translate(1014.2,582.6) rotate(-90)" font-size="26.5" fill="#111"><tspan font-style="italic">dρ</tspan> [eV/Å<tspan dy="-9.5" font-size="18">3</tspan><tspan dy="9.5">]</tspan></text>
</svg></body></html>
